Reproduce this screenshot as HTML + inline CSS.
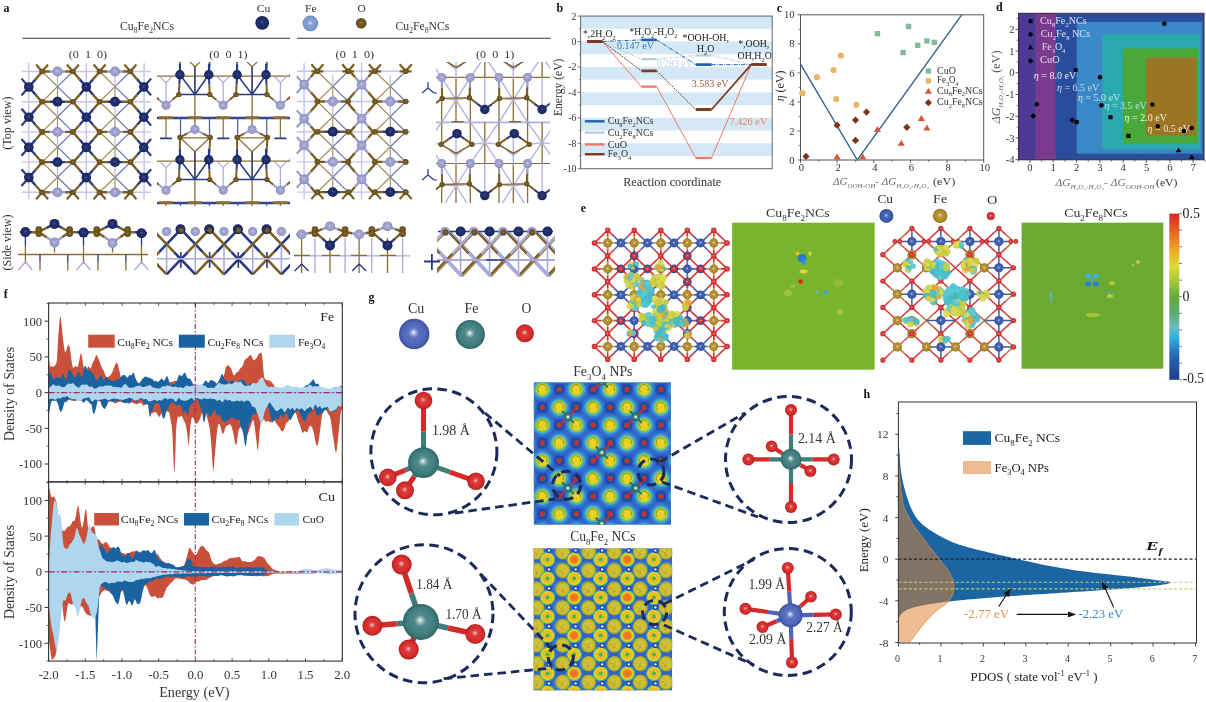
<!DOCTYPE html>
<html><head><meta charset="utf-8"><title>Figure</title>
<style>html,body{margin:0;padding:0;background:#fff;overflow:hidden}svg{display:block;filter:blur(0.4px)}</style>
</head><body>
<svg width="1206" height="702" viewBox="0 0 1206 702" font-family='"Liberation Serif", serif'><defs><marker id="ah" markerWidth="8" markerHeight="6" refX="7" refY="3" orient="auto" markerUnits="userSpaceOnUse"><path d="M0,0 L8,3 L0,6 z" fill="#111"/></marker><radialGradient id="gCu" cx="0.5" cy="0.5" r="0.5" fx="0.48" fy="0.45"><stop offset="0" stop-color="#ffffff"/><stop offset="0.12" stop-color="#afb9e0"/><stop offset="0.32" stop-color="#5f74c0"/><stop offset="0.78" stop-color="#4d64b9"/><stop offset="1" stop-color="#3a4f9c"/></radialGradient><radialGradient id="gFe" cx="0.5" cy="0.5" r="0.5" fx="0.48" fy="0.45"><stop offset="0" stop-color="#ffffff"/><stop offset="0.12" stop-color="#a9c4c4"/><stop offset="0.32" stop-color="#528a8a"/><stop offset="0.78" stop-color="#3f7d7d"/><stop offset="1" stop-color="#2e6464"/></radialGradient><radialGradient id="gO" cx="0.5" cy="0.5" r="0.5" fx="0.48" fy="0.45"><stop offset="0" stop-color="#ffd0d0"/><stop offset="0.12" stop-color="#ec8585"/><stop offset="0.32" stop-color="#d93b3b"/><stop offset="0.78" stop-color="#d52a2a"/><stop offset="1" stop-color="#b01c1c"/></radialGradient><radialGradient id="eCu" cx="0.5" cy="0.5" r="0.5" fx="0.48" fy="0.45"><stop offset="0" stop-color="#c8d4f4"/><stop offset="0.12" stop-color="#899dd2"/><stop offset="0.32" stop-color="#4966b0"/><stop offset="0.78" stop-color="#3b5aa9"/><stop offset="1" stop-color="#2c4690"/></radialGradient><radialGradient id="eFe" cx="0.5" cy="0.5" r="0.5" fx="0.48" fy="0.45"><stop offset="0" stop-color="#f8e8b0"/><stop offset="0.12" stop-color="#d8be76"/><stop offset="0.32" stop-color="#b9933b"/><stop offset="0.78" stop-color="#b28a2e"/><stop offset="1" stop-color="#8c6a1c"/></radialGradient><radialGradient id="eO" cx="0.5" cy="0.5" r="0.5" fx="0.48" fy="0.45"><stop offset="0" stop-color="#ffc8c8"/><stop offset="0.12" stop-color="#ed8484"/><stop offset="0.32" stop-color="#da3f3f"/><stop offset="0.78" stop-color="#d63030"/><stop offset="1" stop-color="#b01c1c"/></radialGradient><radialGradient id="aCu" cx="0.5" cy="0.5" r="0.5" fx="0.48" fy="0.45"><stop offset="0" stop-color="#4a5a98"/><stop offset="0.12" stop-color="#364582"/><stop offset="0.32" stop-color="#22306d"/><stop offset="0.78" stop-color="#1e2b68"/><stop offset="1" stop-color="#121a48"/></radialGradient><radialGradient id="aFe" cx="0.5" cy="0.5" r="0.5" fx="0.48" fy="0.45"><stop offset="0" stop-color="#d4d4ee"/><stop offset="0.12" stop-color="#bbbcdf"/><stop offset="0.32" stop-color="#a2a3cf"/><stop offset="0.78" stop-color="#9c9ecc"/><stop offset="1" stop-color="#7c7eb2"/></radialGradient><radialGradient id="aFeL" cx="0.5" cy="0.5" r="0.5" fx="0.48" fy="0.45"><stop offset="0" stop-color="#e8f0ff"/><stop offset="0.12" stop-color="#b7c9ea"/><stop offset="0.32" stop-color="#87a3d5"/><stop offset="0.78" stop-color="#7c9ad0"/><stop offset="1" stop-color="#6482bc"/></radialGradient><radialGradient id="aO" cx="0.5" cy="0.5" r="0.5" fx="0.48" fy="0.45"><stop offset="0" stop-color="#a08448"/><stop offset="0.12" stop-color="#8a6e36"/><stop offset="0.32" stop-color="#735924"/><stop offset="0.78" stop-color="#6e5420"/><stop offset="1" stop-color="#4c3a10"/></radialGradient><linearGradient id="cbar" x1="0" y1="0" x2="0" y2="1"><stop offset="0" stop-color="#d42a1e"/><stop offset="0.12" stop-color="#ea6a22"/><stop offset="0.22" stop-color="#f0a828"/><stop offset="0.32" stop-color="#e0dc30"/><stop offset="0.4" stop-color="#a8c838"/><stop offset="0.5" stop-color="#62ac38"/><stop offset="0.6" stop-color="#5cac70"/><stop offset="0.68" stop-color="#70bcc0"/><stop offset="0.75" stop-color="#2cb0e4"/><stop offset="0.85" stop-color="#2868b8"/><stop offset="1" stop-color="#1c3c8c"/></linearGradient><clipPath id="cm1"><rect x="533.7" y="382.2" width="137.29999999999995" height="142.59999999999997"/></clipPath><radialGradient id="blobA"><stop offset="0" stop-color="#ecd21e"/><stop offset="0.42" stop-color="#e4d228"/><stop offset="0.58" stop-color="#c8d236"/><stop offset="0.7" stop-color="#78c25a"/><stop offset="0.8" stop-color="#46b6b4"/><stop offset="0.9" stop-color="#3ea6e2" stop-opacity="0.8"/><stop offset="1" stop-color="#3ea0e0" stop-opacity="0"/></radialGradient><radialGradient id="haloA"><stop offset="0" stop-color="#48b0ec" stop-opacity="0.9"/><stop offset="0.7" stop-color="#40a4e6" stop-opacity="0.5"/><stop offset="1" stop-color="#3a90dc" stop-opacity="0"/></radialGradient><radialGradient id="darkA"><stop offset="0" stop-color="#1c3a9e" stop-opacity="1"/><stop offset="0.6" stop-color="#1e40a8" stop-opacity="0.8"/><stop offset="1" stop-color="#2448b0" stop-opacity="0"/></radialGradient><clipPath id="cm2"><rect x="533.5" y="548.3" width="138.70000000000005" height="142.30000000000007"/></clipPath><radialGradient id="ring"><stop offset="0" stop-color="#48b048"/><stop offset="0.22" stop-color="#5cb848"/><stop offset="0.32" stop-color="#e8cc22"/><stop offset="0.5" stop-color="#f2ae24"/><stop offset="0.66" stop-color="#ecce2a"/><stop offset="0.76" stop-color="#d4d632"/><stop offset="0.84" stop-color="#58b840"/><stop offset="0.92" stop-color="#40b0c8"/><stop offset="1" stop-color="#40a8e0" stop-opacity="0"/></radialGradient><radialGradient id="ringO"><stop offset="0" stop-color="#ee6c18"/><stop offset="0.45" stop-color="#f08020"/><stop offset="0.62" stop-color="#f0c028"/><stop offset="0.74" stop-color="#d8d830"/><stop offset="0.84" stop-color="#58b840"/><stop offset="0.92" stop-color="#40b0c8"/><stop offset="1" stop-color="#40a8e0" stop-opacity="0"/></radialGradient><radialGradient id="olive" cx="0.5" cy="0.5" r="0.5"><stop offset="0" stop-color="#d4cc36"/><stop offset="0.7" stop-color="#c8c032"/><stop offset="1" stop-color="#a8a028"/></radialGradient><clipPath id="clA"><rect x="157" y="62" width="133" height="144"/></clipPath><clipPath id="clB"><rect x="436" y="62" width="114" height="141"/></clipPath><clipPath id="clS2"><rect x="157" y="222" width="133" height="56"/></clipPath><clipPath id="clS4"><rect x="437" y="222" width="118" height="56"/></clipPath></defs><text x="3.5" y="12.3" font-size="12" text-anchor="start" fill="#111" font-weight="bold">a</text>
<text x="556.6" y="12.2" font-size="12" text-anchor="start" fill="#111" font-weight="bold">b</text>
<text x="776.8" y="11.8" font-size="12" text-anchor="start" fill="#111" font-weight="bold">c</text>
<text x="996.0" y="11.2" font-size="12" text-anchor="start" fill="#111" font-weight="bold">d</text>
<text x="580.8" y="212.1" font-size="12" text-anchor="start" fill="#111" font-weight="bold">e</text>
<text x="3.8" y="297.7" font-size="12" text-anchor="start" fill="#111" font-weight="bold">f</text>
<text x="368.5" y="300.5" font-size="12" text-anchor="start" fill="#111" font-weight="bold">g</text>
<text x="863.6" y="398.2" font-size="12" text-anchor="start" fill="#111" font-weight="bold">h</text>
<rect x="580.60" y="16.06" width="191.60" height="12.72" fill="#d4e8f5" stroke="none" stroke-width="1"/>
<rect x="580.60" y="41.50" width="191.60" height="12.72" fill="#d4e8f5" stroke="none" stroke-width="1"/>
<rect x="580.60" y="66.94" width="191.60" height="12.72" fill="#d4e8f5" stroke="none" stroke-width="1"/>
<rect x="580.60" y="92.38" width="191.60" height="12.72" fill="#d4e8f5" stroke="none" stroke-width="1"/>
<rect x="580.60" y="117.82" width="191.60" height="12.72" fill="#d4e8f5" stroke="none" stroke-width="1"/>
<rect x="580.60" y="143.26" width="191.60" height="12.72" fill="#d4e8f5" stroke="none" stroke-width="1"/>
<rect x="580.60" y="16.06" width="191.60" height="152.64" fill="none" stroke="#666" stroke-width="1.0"/>
<path d="M577.6 168.7L580.6 168.7" stroke="#555" stroke-width="0.8" fill="none"/>
<text x="576.5" y="172.1" font-size="9.8" text-anchor="end" fill="#333">-10</text>
<path d="M577.6 143.3L580.6 143.3" stroke="#555" stroke-width="0.8" fill="none"/>
<text x="576.5" y="146.7" font-size="9.8" text-anchor="end" fill="#333">-8</text>
<path d="M577.6 117.8L580.6 117.8" stroke="#555" stroke-width="0.8" fill="none"/>
<text x="576.5" y="121.2" font-size="9.8" text-anchor="end" fill="#333">-6</text>
<path d="M577.6 92.4L580.6 92.4" stroke="#555" stroke-width="0.8" fill="none"/>
<text x="576.5" y="95.8" font-size="9.8" text-anchor="end" fill="#333">-4</text>
<path d="M577.6 66.9L580.6 66.9" stroke="#555" stroke-width="0.8" fill="none"/>
<text x="576.5" y="70.3" font-size="9.8" text-anchor="end" fill="#333">-2</text>
<path d="M577.6 41.5L580.6 41.5" stroke="#555" stroke-width="0.8" fill="none"/>
<text x="576.5" y="44.9" font-size="9.8" text-anchor="end" fill="#333">0</text>
<path d="M577.6 16.1L580.6 16.1" stroke="#555" stroke-width="0.8" fill="none"/>
<text x="576.5" y="19.5" font-size="9.8" text-anchor="end" fill="#333">2</text>
<path d="M578.8 156L580.6 156M578.8 130.5L580.6 130.5M578.8 105.1L580.6 105.1M578.8 79.7L580.6 79.7M578.8 54.2L580.6 54.2M578.8 28.8L580.6 28.8" stroke="#555" stroke-width="0.7" fill="none"/>
<text x="561.8" y="87.3" font-size="11.5" text-anchor="middle" fill="#333" transform="rotate(-90 561.8 87.3)" textLength="57.4" lengthAdjust="spacingAndGlyphs">Energy (eV)</text>
<text x="672.2" y="185.6" font-size="12.6" text-anchor="middle" fill="#333" textLength="98.1" lengthAdjust="spacingAndGlyphs">Reaction coordinate</text>
<path d="M587 41.5L602.4 41.5M641.4 59.2L656.7 59.2M695.8 55.5L711.6 55.5M751.2 64.7L766.5 64.7" stroke="#b8cce0" stroke-width="2.2" fill="none"/>
<path d="M602.4 41.5L641.4 59.2M656.7 59.2L695.8 55.5M711.6 55.5L751.2 64.7" stroke="#b8cce0" stroke-width="1.0" fill="none" stroke-dasharray="3,1.2,1,1.2"/>
<path d="M587 41.5L602.4 41.5M641.4 86.7L656.7 86.7M695.8 157.9L711.6 157.9M751.2 64.7L766.5 64.7" stroke="#ec7a66" stroke-width="2.2" fill="none"/>
<path d="M602.4 41.5L641.4 86.7M656.7 86.7L695.8 157.9M711.6 157.9L751.2 64.7" stroke="#ec7a66" stroke-width="1.0" fill="none"/>
<path d="M587 41.5L602.4 41.5M641.4 39.9L656.7 39.9M695.8 64.7L711.6 64.7M751.2 64.7L766.5 64.7" stroke="#1f63a8" stroke-width="2.8" fill="none"/>
<path d="M602.4 41.5L641.4 39.9M656.7 39.9L695.8 64.7M711.6 64.7L751.2 64.7" stroke="#1f63a8" stroke-width="1.0" fill="none" stroke-dasharray="4,1.2,1,1.2"/>
<path d="M587 41.5L602.4 41.5M641.4 70.8L656.7 70.8M695.8 109.5L711.6 109.5M751.2 64.7L766.5 64.7" stroke="#7e3c24" stroke-width="2.8" fill="none"/>
<path d="M602.4 41.5L641.4 70.8M656.7 70.8L695.8 109.5" stroke="#7e3c24" stroke-width="1.0" fill="none" stroke-dasharray="2,1"/>
<path d="M711.6 109.5L751.2 64.7" stroke="#7e3c24" stroke-width="1.8" fill="none"/>
<text x="582.9" y="37.4" font-size="9.6" text-anchor="start" fill="#1a1a1a" textLength="32.8" lengthAdjust="spacingAndGlyphs"><tspan>*,2H</tspan><tspan dy="2.9" font-size="6.2">2</tspan><tspan dy="-2.9">O</tspan><tspan dy="2.9" font-size="6.2">2</tspan></text>
<text x="629.4" y="35.0" font-size="9.6" text-anchor="start" fill="#1a1a1a" textLength="47.8" lengthAdjust="spacingAndGlyphs"><tspan>*H</tspan><tspan dy="2.9" font-size="6.2">2</tspan><tspan dy="-2.9">O</tspan><tspan dy="2.9" font-size="6.2">2</tspan><tspan dy="-2.9">-H</tspan><tspan dy="2.9" font-size="6.2">2</tspan><tspan dy="-2.9">O</tspan><tspan dy="2.9" font-size="6.2">2</tspan></text>
<text x="682.5" y="40.5" font-size="9.6" text-anchor="start" fill="#1a1a1a" textLength="46.4" lengthAdjust="spacingAndGlyphs">*OOH-OH,</text>
<text x="696.9" y="52.1" font-size="9.6" text-anchor="start" fill="#1a1a1a" textLength="17.4" lengthAdjust="spacingAndGlyphs"><tspan>H</tspan><tspan dy="2.9" font-size="6.2">2</tspan><tspan dy="-2.9">O</tspan></text>
<text x="738.2" y="47.4" font-size="9.6" text-anchor="start" fill="#1a1a1a" textLength="31.1" lengthAdjust="spacingAndGlyphs">*,OOH,</text>
<text x="737.6" y="58.6" font-size="9.6" text-anchor="start" fill="#1a1a1a" textLength="34.2" lengthAdjust="spacingAndGlyphs"><tspan>OH,H</tspan><tspan dy="2.9" font-size="6.2">2</tspan><tspan dy="-2.9">O</tspan></text>
<text x="616.9" y="49.0" font-size="9.6" text-anchor="start" fill="#3a7ab4" textLength="37.3" lengthAdjust="spacingAndGlyphs">0.147 eV</text>
<text x="656.7" y="66.7" font-size="9.6" text-anchor="start" fill="#c4d2e4" textLength="36.1" lengthAdjust="spacingAndGlyphs">0.283 eV</text>
<text x="691.8" y="87.0" font-size="9.6" text-anchor="start" fill="#9a5a40" textLength="36.8" lengthAdjust="spacingAndGlyphs">3.583 eV</text>
<text x="729.5" y="124.5" font-size="9.6" text-anchor="start" fill="#e8806a" textLength="37.9" lengthAdjust="spacingAndGlyphs">7.426 eV</text>
<path d="M584.9 121.3L604.5 121.3" stroke="#1f63a8" stroke-width="2.4" fill="none"/>
<text x="607.8" y="124.4" font-size="9.7" text-anchor="start" fill="#333" textLength="45.6" lengthAdjust="spacingAndGlyphs"><tspan>Cu</tspan><tspan dy="2.9" font-size="6.3">8</tspan><tspan dy="-2.9">Fe</tspan><tspan dy="2.9" font-size="6.3">2</tspan><tspan dy="-2.9">NCs</tspan></text>
<path d="M584.9 132.6L604.5 132.6" stroke="#b8cce0" stroke-width="2.4" fill="none"/>
<text x="607.8" y="135.7" font-size="9.7" text-anchor="start" fill="#333" textLength="45.6" lengthAdjust="spacingAndGlyphs"><tspan>Cu</tspan><tspan dy="2.9" font-size="6.3">2</tspan><tspan dy="-2.9">Fe</tspan><tspan dy="2.9" font-size="6.3">8</tspan><tspan dy="-2.9">NCs</tspan></text>
<path d="M584.9 144.4L604.5 144.4" stroke="#ec7a66" stroke-width="2.4" fill="none"/>
<text x="607.8" y="147.5" font-size="9.7" text-anchor="start" fill="#333" textLength="19.2" lengthAdjust="spacingAndGlyphs"><tspan>CuO</tspan></text>
<path d="M584.9 154.2L604.5 154.2" stroke="#7e3c24" stroke-width="2.4" fill="none"/>
<text x="607.8" y="157.3" font-size="9.7" text-anchor="start" fill="#333" textLength="23.5" lengthAdjust="spacingAndGlyphs"><tspan>Fe</tspan><tspan dy="2.9" font-size="6.3">3</tspan><tspan dy="-2.9">O</tspan><tspan dy="2.9" font-size="6.3">4</tspan></text>
<rect x="800.50" y="14.80" width="183.20" height="145.20" fill="none" stroke="#555" stroke-width="1.0"/>
<path d="M800.5 160L800.5 163" stroke="#444" stroke-width="0.8" fill="none"/>
<text x="801.5" y="171.0" font-size="10.6" text-anchor="middle" fill="#333">0</text>
<path d="M797.5 160L800.5 160" stroke="#444" stroke-width="0.8" fill="none"/>
<text x="794.6" y="163.6" font-size="10.6" text-anchor="end" fill="#333">0</text>
<path d="M837.1 160L837.1 163" stroke="#444" stroke-width="0.8" fill="none"/>
<text x="838.1" y="171.0" font-size="10.6" text-anchor="middle" fill="#333">2</text>
<path d="M797.5 131L800.5 131" stroke="#444" stroke-width="0.8" fill="none"/>
<text x="794.6" y="134.6" font-size="10.6" text-anchor="end" fill="#333">2</text>
<path d="M873.8 160L873.8 163" stroke="#444" stroke-width="0.8" fill="none"/>
<text x="874.8" y="171.0" font-size="10.6" text-anchor="middle" fill="#333">4</text>
<path d="M797.5 101.9L800.5 101.9" stroke="#444" stroke-width="0.8" fill="none"/>
<text x="794.6" y="105.5" font-size="10.6" text-anchor="end" fill="#333">4</text>
<path d="M910.4 160L910.4 163" stroke="#444" stroke-width="0.8" fill="none"/>
<text x="911.4" y="171.0" font-size="10.6" text-anchor="middle" fill="#333">6</text>
<path d="M797.5 72.9L800.5 72.9" stroke="#444" stroke-width="0.8" fill="none"/>
<text x="794.6" y="76.5" font-size="10.6" text-anchor="end" fill="#333">6</text>
<path d="M947.1 160L947.1 163" stroke="#444" stroke-width="0.8" fill="none"/>
<text x="948.1" y="171.0" font-size="10.6" text-anchor="middle" fill="#333">8</text>
<path d="M797.5 43.8L800.5 43.8" stroke="#444" stroke-width="0.8" fill="none"/>
<text x="794.6" y="47.4" font-size="10.6" text-anchor="end" fill="#333">8</text>
<path d="M983.7 160L983.7 163" stroke="#444" stroke-width="0.8" fill="none"/>
<text x="984.7" y="171.0" font-size="10.6" text-anchor="middle" fill="#333">10</text>
<path d="M797.5 14.8L800.5 14.8" stroke="#444" stroke-width="0.8" fill="none"/>
<text x="794.6" y="18.4" font-size="10.6" text-anchor="end" fill="#333">10</text>
<path d="M818.8 160L818.8 161.8M798.7 145.5L800.5 145.5M855.5 160L855.5 161.8M798.7 116.4L800.5 116.4M892.1 160L892.1 161.8M798.7 87.4L800.5 87.4M928.7 160L928.7 161.8M798.7 58.4L800.5 58.4M965.4 160L965.4 161.8M798.7 29.3L800.5 29.3" stroke="#444" stroke-width="0.7" fill="none"/>
<path d="M800.5,64.2 L857.3,160.0 L961.7,14.8" fill="none" stroke="#33658f" stroke-width="1.4"/>
<rect x="874.74" y="30.98" width="5.40" height="5.40" fill="#86b89a" stroke="none" stroke-width="1"/>
<rect x="900.39" y="49.85" width="5.40" height="5.40" fill="#86b89a" stroke="none" stroke-width="1"/>
<rect x="905.89" y="23.72" width="5.40" height="5.40" fill="#86b89a" stroke="none" stroke-width="1"/>
<rect x="915.05" y="42.59" width="5.40" height="5.40" fill="#86b89a" stroke="none" stroke-width="1"/>
<rect x="924.21" y="38.24" width="5.40" height="5.40" fill="#86b89a" stroke="none" stroke-width="1"/>
<rect x="931.54" y="39.69" width="5.40" height="5.40" fill="#86b89a" stroke="none" stroke-width="1"/>
<circle cx="802.3" cy="93.2" r="3.1" fill="#e6b868"/>
<circle cx="817.0" cy="77.2" r="3.1" fill="#e6b868"/>
<circle cx="833.5" cy="70.0" r="3.1" fill="#e6b868"/>
<circle cx="840.8" cy="55.5" r="3.1" fill="#e6b868"/>
<circle cx="836.2" cy="99.0" r="3.1" fill="#e6b868"/>
<circle cx="856.4" cy="104.8" r="3.1" fill="#e6b868"/>
<polygon points="837.1,153.6 840.7,159.5 833.5,159.5" fill="#d9553a" stroke="none" stroke-width="1"/>
<polygon points="862.8,153.6 866.4,159.5 859.2,159.5" fill="#d9553a" stroke="none" stroke-width="1"/>
<polygon points="877.4,126.0 881.0,131.9 873.8,131.9" fill="#d9553a" stroke="none" stroke-width="1"/>
<polygon points="901.3,139.8 904.9,145.7 897.7,145.7" fill="#d9553a" stroke="none" stroke-width="1"/>
<polygon points="921.4,115.1 925.0,121.0 917.8,121.0" fill="#d9553a" stroke="none" stroke-width="1"/>
<polygon points="926.9,124.6 930.5,130.5 923.3,130.5" fill="#d9553a" stroke="none" stroke-width="1"/>
<polygon points="806.0,152.8 809.6,156.4 806.0,160.0 802.4,156.4" fill="#7a3418" stroke="none" stroke-width="1"/>
<polygon points="837.1,121.6 840.7,125.2 837.1,128.8 833.5,125.2" fill="#7a3418" stroke="none" stroke-width="1"/>
<polygon points="855.5,116.5 859.1,120.1 855.5,123.7 851.9,120.1" fill="#7a3418" stroke="none" stroke-width="1"/>
<polygon points="855.5,136.8 859.1,140.4 855.5,144.0 851.9,140.4" fill="#7a3418" stroke="none" stroke-width="1"/>
<polygon points="866.5,108.5 870.1,112.1 866.5,115.7 862.9,112.1" fill="#7a3418" stroke="none" stroke-width="1"/>
<polygon points="906.8,123.7 910.4,127.3 906.8,130.9 903.2,127.3" fill="#7a3418" stroke="none" stroke-width="1"/>
<rect x="925.75" y="68.35" width="5.30" height="5.30" fill="#86b89a" stroke="none" stroke-width="1"/>
<circle cx="928.4" cy="80.7" r="3.0" fill="#e6b868"/>
<polygon points="928.4,87.9 932.0,93.7 924.8,93.7" fill="#d9553a" stroke="none" stroke-width="1"/>
<polygon points="928.4,99.1 932.0,102.7 928.4,106.3 924.8,102.7" fill="#7a3418" stroke="none" stroke-width="1"/>
<text x="937.1" y="73.5" font-size="9.3" text-anchor="start" fill="#333" textLength="18.9" lengthAdjust="spacingAndGlyphs"><tspan>CuO</tspan></text>
<text x="937.1" y="83.1" font-size="9.3" text-anchor="start" fill="#333" textLength="21.4" lengthAdjust="spacingAndGlyphs"><tspan>Fe</tspan><tspan dy="2.8" font-size="6.0">3</tspan><tspan dy="-2.8">O</tspan><tspan dy="2.8" font-size="6.0">4</tspan></text>
<text x="937.1" y="93.5" font-size="9.3" text-anchor="start" fill="#333" textLength="45.6" lengthAdjust="spacingAndGlyphs"><tspan>Cu</tspan><tspan dy="2.8" font-size="6.0">8</tspan><tspan dy="-2.8">Fe</tspan><tspan dy="2.8" font-size="6.0">2</tspan><tspan dy="-2.8">NCs</tspan></text>
<text x="937.1" y="104.9" font-size="9.3" text-anchor="start" fill="#333" textLength="45.6" lengthAdjust="spacingAndGlyphs"><tspan>Cu</tspan><tspan dy="2.8" font-size="6.0">2</tspan><tspan dy="-2.8">Fe</tspan><tspan dy="2.8" font-size="6.0">8</tspan><tspan dy="-2.8">NCs</tspan></text>
<text x="784.5" y="85.9" font-size="11.8" text-anchor="middle" fill="#333" transform="rotate(-90 784.5 85.9)" textLength="30.8" lengthAdjust="spacingAndGlyphs"><tspan font-style="italic">η</tspan><tspan> (eV)</tspan></text>
<text x="832.9" y="185.1" font-size="11" text-anchor="start" fill="#6e6e6e" textLength="96.0" lengthAdjust="spacingAndGlyphs"><tspan font-style="italic">ΔG</tspan><tspan dy="3.0" font-size="7.0" font-style="italic">OOH-OH</tspan><tspan dy="-3.0">- </tspan><tspan font-style="italic">ΔG</tspan><tspan dy="3.0" font-size="7.0" font-style="italic">H₂O₂-H₂O₂</tspan><tspan dy="-3.0">  </tspan></text>
<text x="933.0" y="185.1" font-size="11" text-anchor="start" fill="#333" textLength="22.2" lengthAdjust="spacingAndGlyphs">(eV)</text>
<rect x="1018.50" y="13.30" width="185.50" height="146.50" fill="#2a4c9c" stroke="none" stroke-width="1"/>
<rect x="1018.50" y="13.30" width="16.90" height="146.50" fill="#4c3a94" stroke="none" stroke-width="1"/>
<rect x="1035.40" y="13.30" width="20.30" height="146.50" fill="#7a3a8e" stroke="none" stroke-width="1"/>
<rect x="1076.70" y="21.80" width="125.60" height="131.80" fill="#3a88c6" stroke="none" stroke-width="1"/>
<rect x="1102.30" y="34.30" width="97.90" height="114.50" fill="#2aaaae" stroke="none" stroke-width="1"/>
<rect x="1123.10" y="48.40" width="75.20" height="95.00" fill="#4aa83a" stroke="none" stroke-width="1"/>
<rect x="1146.00" y="57.50" width="50.20" height="77.80" fill="#9c7426" stroke="none" stroke-width="1"/>
<rect x="1018.50" y="13.30" width="185.50" height="146.50" fill="none" stroke="#3a2a4a" stroke-width="1.0"/>
<path d="M1029.9 159.8L1029.9 162.8" stroke="#333" stroke-width="0.8" fill="none"/>
<text x="1029.9" y="171.3" font-size="10.6" text-anchor="middle" fill="#333">0</text>
<path d="M1053.2 159.8L1053.2 162.8" stroke="#333" stroke-width="0.8" fill="none"/>
<text x="1053.2" y="171.3" font-size="10.6" text-anchor="middle" fill="#333">1</text>
<path d="M1076.6 159.8L1076.6 162.8" stroke="#333" stroke-width="0.8" fill="none"/>
<text x="1076.6" y="171.3" font-size="10.6" text-anchor="middle" fill="#333">2</text>
<path d="M1099.9 159.8L1099.9 162.8" stroke="#333" stroke-width="0.8" fill="none"/>
<text x="1099.9" y="171.3" font-size="10.6" text-anchor="middle" fill="#333">3</text>
<path d="M1123.2 159.8L1123.2 162.8" stroke="#333" stroke-width="0.8" fill="none"/>
<text x="1123.2" y="171.3" font-size="10.6" text-anchor="middle" fill="#333">4</text>
<path d="M1146.5 159.8L1146.5 162.8" stroke="#333" stroke-width="0.8" fill="none"/>
<text x="1146.6" y="171.3" font-size="10.6" text-anchor="middle" fill="#333">5</text>
<path d="M1169.9 159.8L1169.9 162.8" stroke="#333" stroke-width="0.8" fill="none"/>
<text x="1169.9" y="171.3" font-size="10.6" text-anchor="middle" fill="#333">6</text>
<path d="M1193.2 159.8L1193.2 162.8" stroke="#333" stroke-width="0.8" fill="none"/>
<text x="1193.2" y="171.3" font-size="10.6" text-anchor="middle" fill="#333">7</text>
<path d="M1041.6 159.8L1041.6 161.6M1064.9 159.8L1064.9 161.6M1088.2 159.8L1088.2 161.6M1111.6 159.8L1111.6 161.6M1134.9 159.8L1134.9 161.6M1158.2 159.8L1158.2 161.6M1181.5 159.8L1181.5 161.6M1204.9 159.8L1204.9 161.6M1018.2 159.8L1018.2 161.6" stroke="#333" stroke-width="0.7" fill="none"/>
<path d="M1015.5 159.6L1018.5 159.6" stroke="#333" stroke-width="0.8" fill="none"/>
<text x="1014.5" y="163.2" font-size="10.6" text-anchor="end" fill="#333">-4</text>
<path d="M1016.7 148.8L1018.5 148.8" stroke="#333" stroke-width="0.7" fill="none"/>
<path d="M1015.5 137.9L1018.5 137.9" stroke="#333" stroke-width="0.8" fill="none"/>
<text x="1014.5" y="141.5" font-size="10.6" text-anchor="end" fill="#333">-3</text>
<path d="M1016.7 127L1018.5 127" stroke="#333" stroke-width="0.7" fill="none"/>
<path d="M1015.5 116.2L1018.5 116.2" stroke="#333" stroke-width="0.8" fill="none"/>
<text x="1014.5" y="119.8" font-size="10.6" text-anchor="end" fill="#333">-2</text>
<path d="M1016.7 105.3L1018.5 105.3" stroke="#333" stroke-width="0.7" fill="none"/>
<path d="M1015.5 94.5L1018.5 94.5" stroke="#333" stroke-width="0.8" fill="none"/>
<text x="1014.5" y="98.1" font-size="10.6" text-anchor="end" fill="#333">-1</text>
<path d="M1016.7 83.7L1018.5 83.7" stroke="#333" stroke-width="0.7" fill="none"/>
<path d="M1015.5 72.8L1018.5 72.8" stroke="#333" stroke-width="0.8" fill="none"/>
<text x="1014.5" y="76.4" font-size="10.6" text-anchor="end" fill="#333">0</text>
<path d="M1016.7 62L1018.5 62" stroke="#333" stroke-width="0.7" fill="none"/>
<path d="M1015.5 51.1L1018.5 51.1" stroke="#333" stroke-width="0.8" fill="none"/>
<text x="1014.5" y="54.7" font-size="10.6" text-anchor="end" fill="#333">1</text>
<path d="M1016.7 40.2L1018.5 40.2" stroke="#333" stroke-width="0.7" fill="none"/>
<path d="M1015.5 29.4L1018.5 29.4" stroke="#333" stroke-width="0.8" fill="none"/>
<text x="1014.5" y="33.0" font-size="10.6" text-anchor="end" fill="#333">2</text>
<path d="M1016.7 18.6L1018.5 18.6" stroke="#333" stroke-width="0.7" fill="none"/>
<text x="1033.8" y="78.7" font-size="10" text-anchor="start" fill="#f4f0f8" textLength="42.5" lengthAdjust="spacingAndGlyphs"><tspan font-style="italic">η</tspan><tspan> = 8.0 eV</tspan></text>
<text x="1056.9" y="91.1" font-size="10" text-anchor="start" fill="#c8d4f0" textLength="42.5" lengthAdjust="spacingAndGlyphs"><tspan font-style="italic">η</tspan><tspan> = 6.5 eV</tspan></text>
<text x="1077.9" y="100.9" font-size="10" text-anchor="start" fill="#c4e0f0" textLength="42.5" lengthAdjust="spacingAndGlyphs"><tspan font-style="italic">η</tspan><tspan> = 5.0 eV</tspan></text>
<text x="1104.4" y="109.1" font-size="10" text-anchor="start" fill="#b4e4e4" textLength="42.5" lengthAdjust="spacingAndGlyphs"><tspan font-style="italic">η</tspan><tspan> = 3.5 eV</tspan></text>
<text x="1124.6" y="120.9" font-size="10" text-anchor="start" fill="#eef4e4" textLength="42.5" lengthAdjust="spacingAndGlyphs"><tspan font-style="italic">η</tspan><tspan> = 2.0 eV</tspan></text>
<text x="1147.5" y="132.3" font-size="10" text-anchor="start" fill="#f4ecd8" textLength="42.5" lengthAdjust="spacingAndGlyphs"><tspan font-style="italic">η</tspan><tspan> = 0.5 eV</tspan></text>
<circle cx="1164.4" cy="23.7" r="2.3" fill="#000"/>
<circle cx="1075.7" cy="70.0" r="2.3" fill="#000"/>
<circle cx="1100.1" cy="77.2" r="2.3" fill="#000"/>
<circle cx="1036.8" cy="104.3" r="2.3" fill="#000"/>
<circle cx="1076.8" cy="122.1" r="2.3" fill="#000"/>
<circle cx="1101.4" cy="105.3" r="2.3" fill="#000"/>
<circle cx="1152.3" cy="104.5" r="2.3" fill="#000"/>
<circle cx="1157.8" cy="126.2" r="2.3" fill="#000"/>
<circle cx="1183.9" cy="131.0" r="2.3" fill="#000"/>
<circle cx="1191.8" cy="128.0" r="2.3" fill="#000"/>
<rect x="1108.40" y="115.10" width="4.20" height="4.20" fill="#000" stroke="none" stroke-width="1"/>
<rect x="1126.30" y="133.80" width="4.20" height="4.20" fill="#000" stroke="none" stroke-width="1"/>
<polygon points="1033.2,113.1 1036.0,115.9 1033.2,118.7 1030.4,115.9" fill="#000" stroke="none" stroke-width="1"/>
<polygon points="1072.3,117.3 1075.1,120.1 1072.3,122.9 1069.5,120.1" fill="#000" stroke="none" stroke-width="1"/>
<polygon points="1178.6,147.4 1181.4,152.2 1175.8,152.2" fill="#000" stroke="none" stroke-width="1"/>
<polygon points="1191.8,154.2 1194.6,159.0 1189.0,159.0" fill="#000" stroke="none" stroke-width="1"/>
<rect x="1028.50" y="19.20" width="4.00" height="4.00" fill="#000" stroke="none" stroke-width="1"/>
<circle cx="1030.5" cy="34.4" r="2.2" fill="#000"/>
<polygon points="1030.5,44.4 1033.2,49.2 1027.8,49.2" fill="#000" stroke="none" stroke-width="1"/>
<polygon points="1030.5,58.1 1033.3,60.9 1030.5,63.7 1027.7,60.9" fill="#000" stroke="none" stroke-width="1"/>
<text x="1040.1" y="23.5" font-size="10.3" text-anchor="start" fill="#e4dcf2" textLength="46.6" lengthAdjust="spacingAndGlyphs"><tspan>Cu</tspan><tspan dy="3.1" font-size="6.7">8</tspan><tspan dy="-3.1">Fe</tspan><tspan dy="3.1" font-size="6.7">2</tspan><tspan dy="-3.1">NCs</tspan></text>
<text x="1040.8" y="36.8" font-size="10.3" text-anchor="start" fill="#e4dcf2" textLength="49.3" lengthAdjust="spacingAndGlyphs"><tspan>Cu</tspan><tspan dy="3.1" font-size="6.7">2</tspan><tspan dy="-3.1">Fe</tspan><tspan dy="3.1" font-size="6.7">8</tspan><tspan dy="-3.1"> NCs</tspan></text>
<text x="1041.8" y="49.6" font-size="10.3" text-anchor="start" fill="#e4dcf2" textLength="23.5" lengthAdjust="spacingAndGlyphs"><tspan>Fe</tspan><tspan dy="3.1" font-size="6.7">3</tspan><tspan dy="-3.1">O</tspan><tspan dy="3.1" font-size="6.7">4</tspan></text>
<text x="1040.1" y="63.3" font-size="10.3" text-anchor="start" fill="#e4dcf2" textLength="19.7" lengthAdjust="spacingAndGlyphs"><tspan>CuO</tspan></text>
<text x="1000.0" y="86.9" font-size="11.5" text-anchor="middle" fill="#5a5a5a" transform="rotate(-90 1000 86.9)" textLength="72.7" lengthAdjust="spacingAndGlyphs"><tspan font-style="italic">ΔG</tspan><tspan dy="3.0" font-size="6.5" font-style="italic">H₂O₂-H₂O₂</tspan><tspan dy="-3.0"> (eV)</tspan></text>
<text x="1055.5" y="185.9" font-size="11" text-anchor="start" fill="#6e6e6e" textLength="99.0" lengthAdjust="spacingAndGlyphs"><tspan font-style="italic">ΔG</tspan><tspan dy="3.0" font-size="7.0" font-style="italic">H₂O₂-H₂O₂</tspan><tspan dy="-3.0">- </tspan><tspan font-style="italic">ΔG</tspan><tspan dy="3.0" font-size="7.0" font-style="italic">OOH-OH</tspan><tspan dy="-3.0"> </tspan></text>
<text x="1156.0" y="185.9" font-size="11" text-anchor="start" fill="#333" textLength="21.4" lengthAdjust="spacingAndGlyphs">(eV)</text>
<polygon points="898.4,438.4 898.4,438.4 898.4,439.0 898.5,439.6 898.5,440.1 898.6,440.7 898.6,441.2 898.6,441.8 898.7,442.3 898.7,442.9 898.8,443.4 898.8,444.0 898.8,444.5 898.9,445.1 898.9,445.7 899.0,446.2 899.0,446.8 899.1,447.3 899.1,447.9 899.1,448.4 899.2,449.0 899.2,449.5 899.3,450.1 899.3,450.6 899.3,451.2 899.4,451.8 899.4,452.3 899.5,452.9 899.5,453.4 899.5,454.0 899.6,454.5 899.6,455.1 899.7,455.6 899.7,456.2 899.7,456.7 899.8,457.3 899.8,457.9 899.9,458.4 899.9,459.0 899.9,459.5 900.0,460.1 900.0,460.6 900.1,461.2 900.1,461.7 900.1,462.3 900.2,462.8 900.2,463.4 900.3,464.0 900.3,464.5 900.4,465.1 900.4,465.6 900.5,466.2 900.5,466.7 900.6,467.3 900.6,467.8 900.7,468.4 900.7,469.0 900.8,469.5 900.9,470.1 900.9,470.6 901.0,471.2 901.1,471.7 901.1,472.3 901.2,472.8 901.3,473.4 901.4,473.9 901.5,474.5 901.6,475.1 901.7,475.6 901.7,476.2 901.8,476.7 901.9,477.3 902.0,477.8 902.2,478.4 902.3,478.9 902.4,479.5 902.5,480.0 902.6,480.6 902.7,481.2 902.8,481.7 903.0,482.3 903.1,482.8 903.2,483.4 903.4,483.9 903.5,484.5 903.6,485.0 903.8,485.6 903.9,486.1 904.0,486.7 904.2,487.3 904.3,487.8 904.5,488.4 904.6,488.9 904.8,489.5 904.9,490.0 905.1,490.6 905.2,491.1 905.4,491.7 905.6,492.2 905.7,492.8 905.9,493.4 906.0,493.9 906.2,494.5 906.4,495.0 906.5,495.6 906.7,496.1 906.9,496.7 907.0,497.2 907.2,497.8 907.4,498.3 907.6,498.9 907.7,499.5 907.9,500.0 908.1,500.6 908.3,501.1 908.5,501.7 908.7,502.2 908.9,502.8 909.1,503.3 909.3,503.9 909.5,504.4 909.7,505.0 909.9,505.6 910.2,506.1 910.4,506.7 910.6,507.2 910.9,507.8 911.1,508.3 911.4,508.9 911.6,509.4 911.9,510.0 912.2,510.6 912.4,511.1 912.7,511.7 913.0,512.2 913.3,512.8 913.6,513.3 913.9,513.9 914.3,514.4 914.6,515.0 914.9,515.5 915.3,516.1 915.6,516.7 916.0,517.2 916.4,517.8 916.8,518.3 917.2,518.9 917.6,519.4 918.1,520.0 918.5,520.5 919.0,521.1 919.6,521.6 920.1,522.2 920.7,522.8 921.3,523.3 921.9,523.9 922.5,524.4 923.1,525.0 923.8,525.5 924.5,526.1 925.2,526.6 925.9,527.2 926.6,527.7 927.4,528.3 928.2,528.9 929.0,529.4 929.8,530.0 930.6,530.5 931.5,531.1 932.4,531.6 933.2,532.2 934.2,532.7 935.1,533.3 936.0,533.8 937.0,534.4 938.0,535.0 939.0,535.5 940.0,536.1 941.0,536.6 942.1,537.2 943.1,537.7 944.2,538.3 945.3,538.8 946.4,539.4 947.6,539.9 948.7,540.5 949.9,541.1 951.1,541.6 952.4,542.2 953.8,542.7 955.3,543.3 956.8,543.8 958.5,544.4 960.2,544.9 961.9,545.5 963.8,546.0 965.7,546.6 967.7,547.2 969.7,547.7 971.8,548.3 973.9,548.8 976.1,549.4 978.3,549.9 980.5,550.5 982.8,551.0 985.1,551.6 987.5,552.2 989.8,552.7 992.2,553.3 994.6,553.8 997.0,554.4 999.4,554.9 1001.9,555.5 1004.3,556.0 1006.7,556.6 1009.1,557.1 1011.5,557.7 1013.9,558.3 1016.3,558.8 1018.7,559.4 1021.1,559.9 1023.6,560.5 1026.0,561.0 1028.5,561.6 1031.0,562.1 1033.6,562.7 1036.2,563.2 1038.8,563.8 1041.5,564.4 1044.3,564.9 1047.1,565.5 1050.0,566.0 1052.9,566.6 1056.0,567.1 1059.1,567.7 1062.3,568.2 1065.5,568.8 1068.9,569.3 1072.4,569.9 1076.0,570.5 1080.0,571.0 1084.2,571.6 1088.8,572.1 1093.6,572.7 1098.5,573.2 1103.6,573.8 1108.7,574.3 1113.9,574.9 1119.0,575.4 1124.1,576.0 1128.9,576.6 1133.6,577.1 1138.1,577.7 1142.4,578.2 1146.7,578.8 1150.9,579.3 1155.0,579.9 1159.1,580.4 1163.1,581.0 1167.0,581.5 1170.9,582.1 1170.9,582.1 1170.8,582.5 1170.3,582.8 1169.5,583.2 1168.4,583.5 1167.1,583.9 1165.4,584.2 1163.4,584.6 1161.1,585.0 1158.6,585.3 1155.8,585.7 1152.7,586.0 1149.4,586.4 1145.8,586.7 1142.0,587.1 1138.0,587.5 1133.8,587.8 1129.4,588.2 1124.8,588.5 1120.1,588.9 1115.2,589.3 1110.2,589.6 1105.0,590.0 1099.8,590.3 1094.4,590.7 1089.0,591.0 1083.5,591.4 1078.0,591.8 1072.4,592.1 1066.9,592.5 1061.3,592.8 1055.7,593.2 1050.1,593.5 1044.6,593.9 1039.1,594.3 1033.6,594.6 1028.2,595.0 1022.9,595.3 1017.7,595.7 1012.6,596.0 1007.5,596.4 1002.6,596.8 997.8,597.1 993.0,597.5 988.4,597.8 984.0,598.2 979.6,598.5 975.4,598.9 971.3,599.3 967.4,599.6 963.6,600.0 960.0,600.3 956.4,600.7 953.0,601.1 949.8,601.4 946.7,601.8 943.7,602.1 940.9,602.5 938.2,602.8 935.6,603.2 933.2,603.6 930.8,603.9 928.6,604.3 926.5,604.6 924.6,605.0 922.7,605.3 921.0,605.7 919.3,606.1 917.7,606.4 916.3,606.8 914.9,607.1 913.6,607.5 912.4,607.8 911.3,608.2 910.3,608.6 909.3,608.9 908.4,609.3 907.6,609.6 906.8,610.0 906.1,610.3 905.4,610.7 904.8,611.1 904.2,611.4 903.7,611.8 903.2,612.1 902.8,612.5 902.4,612.8 902.0,613.2 901.6,613.6 901.3,613.9 901.0,614.3 900.8,614.6 900.6,615.0 900.3,615.4 900.1,615.7 900.0,616.1 899.8,616.4 899.7,616.8 899.5,617.1 899.4,617.5 898.4,617.5" fill="#1a65a2" stroke="none" stroke-width="1"/>
<polygon points="898.4,449.9 898.4,449.9 898.4,450.7 898.4,451.5 898.4,452.3 898.5,453.1 898.5,453.9 898.5,454.7 898.5,455.5 898.6,456.3 898.6,457.1 898.6,458.0 898.7,458.8 898.7,459.6 898.7,460.4 898.8,461.2 898.8,462.0 898.8,462.8 898.9,463.6 898.9,464.4 899.0,465.2 899.0,466.0 899.1,466.8 899.1,467.6 899.2,468.4 899.2,469.2 899.3,470.0 899.3,470.8 899.4,471.7 899.4,472.5 899.5,473.3 899.5,474.1 899.6,474.9 899.6,475.7 899.7,476.5 899.7,477.3 899.8,478.1 899.9,478.9 899.9,479.7 900.0,480.5 900.1,481.3 900.2,482.1 900.2,482.9 900.3,483.7 900.4,484.5 900.5,485.3 900.6,486.2 900.6,487.0 900.7,487.8 900.8,488.6 900.9,489.4 901.0,490.2 901.1,491.0 901.2,491.8 901.3,492.6 901.4,493.4 901.6,494.2 901.7,495.0 901.8,495.8 901.9,496.6 902.0,497.4 902.2,498.2 902.3,499.0 902.5,499.9 902.6,500.7 902.7,501.5 902.9,502.3 903.0,503.1 903.2,503.9 903.4,504.7 903.6,505.5 903.9,506.3 904.1,507.1 904.4,507.9 904.8,508.7 905.1,509.5 905.4,510.3 905.8,511.1 906.2,511.9 906.6,512.7 907.0,513.6 907.4,514.4 907.8,515.2 908.2,516.0 908.7,516.8 909.1,517.6 909.6,518.4 910.0,519.2 910.5,520.0 910.9,520.8 911.4,521.6 911.8,522.4 912.3,523.2 912.8,524.0 913.3,524.8 913.9,525.6 914.4,526.4 915.0,527.3 915.5,528.1 916.1,528.9 916.7,529.7 917.3,530.5 917.9,531.3 918.5,532.1 919.1,532.9 919.8,533.7 920.4,534.5 921.0,535.3 921.6,536.1 922.2,536.9 922.8,537.7 923.4,538.5 924.0,539.3 924.6,540.1 925.2,540.9 925.9,541.8 926.5,542.6 927.1,543.4 927.7,544.2 928.3,545.0 929.0,545.8 929.6,546.6 930.2,547.4 930.9,548.2 931.5,549.0 932.1,549.8 932.8,550.6 933.4,551.4 934.0,552.2 934.7,553.0 935.3,553.8 935.9,554.6 936.5,555.5 937.1,556.3 937.8,557.1 938.4,557.9 939.0,558.7 939.7,559.5 940.3,560.3 941.0,561.1 941.6,561.9 942.3,562.7 943.0,563.5 943.6,564.3 944.3,565.1 944.9,565.9 945.6,566.7 946.2,567.5 946.7,568.3 947.3,569.2 947.8,570.0 948.3,570.8 948.8,571.6 949.2,572.4 949.6,573.2 950.0,574.0 950.4,574.8 950.8,575.6 951.2,576.4 951.6,577.2 952.0,578.0 952.4,578.8 952.7,579.6 953.0,580.4 953.3,581.2 953.5,582.0 953.7,582.9 953.9,583.7 954.0,584.5 954.0,585.3 954.0,586.1 954.0,586.9 954.0,587.7 954.0,588.5 953.9,589.3 953.8,590.1 953.7,590.9 953.5,591.7 953.3,592.5 953.1,593.3 952.8,594.1 952.5,594.9 952.2,595.7 951.8,596.5 951.3,597.4 950.8,598.2 950.3,599.0 949.8,599.8 949.2,600.6 948.5,601.4 947.9,602.2 947.1,603.0 946.2,603.8 945.1,604.6 943.9,605.4 942.7,606.2 941.5,607.0 940.3,607.8 939.2,608.6 938.2,609.4 937.2,610.2 936.3,611.1 935.4,611.9 934.6,612.7 933.7,613.5 932.9,614.3 932.0,615.1 931.2,615.9 930.4,616.7 929.6,617.5 928.8,618.3 928.1,619.1 927.3,619.9 926.6,620.7 925.8,621.5 925.1,622.3 924.4,623.1 923.7,623.9 923.0,624.8 922.3,625.6 921.7,626.4 921.0,627.2 920.4,628.0 919.8,628.8 919.2,629.6 918.6,630.4 918.0,631.2 917.4,632.0 916.8,632.8 916.2,633.6 915.6,634.4 915.0,635.2 914.5,636.0 913.9,636.8 913.3,637.6 912.6,638.5 912.0,639.3 911.4,640.1 910.8,640.9 910.1,641.7 909.5,642.5 898.4,642.5" fill="#e0812e" stroke="none" stroke-width="1" fill-opacity="0.52"/>
<polyline points="909.5,642.5 910.1,641.7 910.8,640.9 911.4,640.1 912.0,639.3 912.6,638.5 913.3,637.6 913.9,636.8 914.5,636.0 915.0,635.2 915.6,634.4 916.2,633.6 916.8,632.8 917.4,632.0 918.0,631.2 918.6,630.4 919.2,629.6 919.8,628.8 920.4,628.0 921.0,627.2 921.7,626.4 922.3,625.6 923.0,624.8 923.7,623.9 924.4,623.1 925.1,622.3 925.8,621.5 926.6,620.7 927.3,619.9 928.1,619.1 928.8,618.3 929.6,617.5 930.4,616.7 931.2,615.9 932.0,615.1 932.9,614.3 933.7,613.5 934.6,612.7 935.4,611.9 936.3,611.1 937.2,610.2 938.2,609.4 939.2,608.6 940.3,607.8 941.5,607.0 942.7,606.2 943.9,605.4 945.1,604.6 946.2,603.8 947.1,603.0 947.9,602.2 948.5,601.4 949.2,600.6 949.8,599.8 950.3,599.0 950.8,598.2 951.3,597.4 951.8,596.5 952.2,595.7 952.5,594.9 952.8,594.1 953.1,593.3 953.3,592.5 953.5,591.7 953.7,590.9 953.8,590.1 953.9,589.3 954.0,588.5 954.0,587.7 954.0,586.9 954.0,586.1 954.0,585.3 954.0,584.5 953.9,583.7 953.7,582.9 953.5,582.0 953.3,581.2 953.0,580.4 952.7,579.6 952.4,578.8 952.0,578.0 951.6,577.2 951.2,576.4 950.8,575.6 950.4,574.8 950.0,574.0 949.6,573.2 949.2,572.4 948.8,571.6 948.3,570.8 947.8,570.0 947.3,569.2 946.7,568.3 946.2,567.5 945.6,566.7 944.9,565.9 944.3,565.1 943.6,564.3 943.0,563.5 942.3,562.7 941.6,561.9 941.0,561.1 940.3,560.3 939.7,559.5 939.0,558.7 938.4,557.9 937.8,557.1 937.1,556.3 936.5,555.5 935.9,554.6 935.3,553.8 934.7,553.0 934.0,552.2 933.4,551.4 932.8,550.6 932.1,549.8 931.5,549.0 930.9,548.2 930.2,547.4 929.6,546.6 929.0,545.8 928.3,545.0 927.7,544.2 927.1,543.4 926.5,542.6 925.9,541.8 925.2,540.9 924.6,540.1 924.0,539.3 923.4,538.5 922.8,537.7 922.2,536.9 921.6,536.1 921.0,535.3 920.4,534.5 919.8,533.7 919.1,532.9 918.5,532.1 917.9,531.3 917.3,530.5 916.7,529.7 916.1,528.9 915.5,528.1 915.0,527.3 914.4,526.4 913.9,525.6 913.3,524.8 912.8,524.0 912.3,523.2 911.8,522.4 911.4,521.6 910.9,520.8 910.5,520.0 910.0,519.2 909.6,518.4 909.1,517.6 908.7,516.8 908.2,516.0 907.8,515.2 907.4,514.4 907.0,513.6 906.6,512.7 906.2,511.9 905.8,511.1 905.4,510.3 905.1,509.5 904.8,508.7 904.4,507.9 904.1,507.1 903.9,506.3 903.6,505.5 903.4,504.7 903.2,503.9 903.0,503.1 902.9,502.3 902.7,501.5 902.6,500.7 902.5,499.9 902.3,499.0 902.2,498.2 902.0,497.4 901.9,496.6 901.8,495.8 901.7,495.0 901.6,494.2 901.4,493.4 901.3,492.6 901.2,491.8 901.1,491.0 901.0,490.2 900.9,489.4 900.8,488.6 900.7,487.8 900.6,487.0 900.6,486.2 900.5,485.3 900.4,484.5 900.3,483.7 900.2,482.9 900.2,482.1 900.1,481.3 900.0,480.5 899.9,479.7 899.9,478.9 899.8,478.1 899.7,477.3 899.7,476.5 899.6,475.7 899.6,474.9 899.5,474.1 899.5,473.3 899.4,472.5 899.4,471.7 899.3,470.8 899.3,470.0 899.2,469.2 899.2,468.4 899.1,467.6 899.1,466.8 899.0,466.0 899.0,465.2 898.9,464.4 898.9,463.6 898.8,462.8 898.8,462.0 898.8,461.2 898.7,460.4 898.7,459.6 898.7,458.8 898.6,458.0 898.6,457.1 898.6,456.3 898.5,455.5 898.5,454.7 898.5,453.9 898.5,453.1 898.4,452.3 898.4,451.5 898.4,450.7 898.4,449.9" fill="none" stroke="#e08a4a" stroke-width="0.8"/>
<path d="M898.4 559.2L1196.5 559.2" stroke="#222" stroke-width="1.2" fill="none" stroke-dasharray="3,2.2"/>
<path d="M898.4 582.3L1196.5 582.3M898.4 588.9L1196.5 588.9" stroke="#bcd478" stroke-width="1.1" fill="none" stroke-dasharray="3,2.2"/>
<rect x="898.40" y="402.00" width="298.10" height="241.00" fill="none" stroke="#333" stroke-width="1.0"/>
<path d="M898.4 643L898.4 646.5" stroke="#333" stroke-width="0.9" fill="none"/>
<text x="897.6" y="662.0" font-size="10" text-anchor="middle" fill="#333">0</text>
<path d="M919.6 643L919.6 645" stroke="#333" stroke-width="0.8" fill="none"/>
<path d="M940.9 643L940.9 646.5" stroke="#333" stroke-width="0.9" fill="none"/>
<text x="940.1" y="662.0" font-size="10" text-anchor="middle" fill="#333">1</text>
<path d="M962.1 643L962.1 645" stroke="#333" stroke-width="0.8" fill="none"/>
<path d="M983.3 643L983.3 646.5" stroke="#333" stroke-width="0.9" fill="none"/>
<text x="982.5" y="662.0" font-size="10" text-anchor="middle" fill="#333">2</text>
<path d="M1004.5 643L1004.5 645" stroke="#333" stroke-width="0.8" fill="none"/>
<path d="M1025.8 643L1025.8 646.5" stroke="#333" stroke-width="0.9" fill="none"/>
<text x="1025.0" y="662.0" font-size="10" text-anchor="middle" fill="#333">3</text>
<path d="M1047 643L1047 645" stroke="#333" stroke-width="0.8" fill="none"/>
<path d="M1068.2 643L1068.2 646.5" stroke="#333" stroke-width="0.9" fill="none"/>
<text x="1067.4" y="662.0" font-size="10" text-anchor="middle" fill="#333">4</text>
<path d="M1089.4 643L1089.4 645" stroke="#333" stroke-width="0.8" fill="none"/>
<path d="M1110.7 643L1110.7 646.5" stroke="#333" stroke-width="0.9" fill="none"/>
<text x="1109.9" y="662.0" font-size="10" text-anchor="middle" fill="#333">5</text>
<path d="M1131.9 643L1131.9 645" stroke="#333" stroke-width="0.8" fill="none"/>
<path d="M1153.1 643L1153.1 646.5" stroke="#333" stroke-width="0.9" fill="none"/>
<text x="1152.3" y="662.0" font-size="10" text-anchor="middle" fill="#333">6</text>
<path d="M1174.3 643L1174.3 645" stroke="#333" stroke-width="0.8" fill="none"/>
<path d="M1195.5 643L1195.5 646.5" stroke="#333" stroke-width="0.9" fill="none"/>
<text x="1194.8" y="662.0" font-size="10" text-anchor="middle" fill="#333">7</text>
<path d="M895.2 642.5L898.4 642.5" stroke="#333" stroke-width="0.9" fill="none"/>
<text x="888.5" y="646.5" font-size="11.4" text-anchor="end" fill="#333">-8</text>
<path d="M896.4 621.7L898.4 621.7M895.2 600.8L898.4 600.8" stroke="#333" stroke-width="0.9" fill="none"/>
<text x="888.5" y="604.8" font-size="11.4" text-anchor="end" fill="#333">-4</text>
<path d="M896.4 580L898.4 580M895.2 559.2L898.4 559.2" stroke="#333" stroke-width="0.9" fill="none"/>
<text x="888.5" y="563.2" font-size="11.4" text-anchor="end" fill="#333">0</text>
<path d="M896.4 538.4L898.4 538.4M895.2 517.6L898.4 517.6" stroke="#333" stroke-width="0.9" fill="none"/>
<text x="888.5" y="521.6" font-size="11.4" text-anchor="end" fill="#333">4</text>
<path d="M896.4 496.7L898.4 496.7M895.2 475.9L898.4 475.9" stroke="#333" stroke-width="0.9" fill="none"/>
<text x="888.5" y="479.9" font-size="11.4" text-anchor="end" fill="#333">8</text>
<path d="M896.4 455.1L898.4 455.1M895.2 434.3L898.4 434.3" stroke="#333" stroke-width="0.9" fill="none"/>
<text x="888.5" y="438.3" font-size="11.4" text-anchor="end" fill="#333">12</text>
<path d="M896.4 413.5L898.4 413.5" stroke="#333" stroke-width="0.9" fill="none"/>
<rect x="963.00" y="431.20" width="28.00" height="13.70" fill="#1a65a2" stroke="none" stroke-width="1"/>
<rect x="963.00" y="461.00" width="28.00" height="13.00" fill="#ecbb90" stroke="none" stroke-width="1"/>
<text x="994.6" y="442.4" font-size="12" text-anchor="start" fill="#222" textLength="65.4" lengthAdjust="spacingAndGlyphs"><tspan>Cu</tspan><tspan dy="3.6" font-size="7.8">8</tspan><tspan dy="-3.6">Fe</tspan><tspan dy="3.6" font-size="7.8">2</tspan><tspan dy="-3.6">  NCs</tspan></text>
<text x="994.6" y="471.6" font-size="12" text-anchor="start" fill="#222" textLength="54.4" lengthAdjust="spacingAndGlyphs"><tspan>Fe</tspan><tspan dy="3.6" font-size="7.8">3</tspan><tspan dy="-3.6">O</tspan><tspan dy="3.6" font-size="7.8">4</tspan><tspan dy="-3.6">  NPs</tspan></text>
<text x="1145.9" y="549.9" font-size="13" text-anchor="start" fill="#111" font-weight="bold" font-style="italic" textLength="16.6" lengthAdjust="spacingAndGlyphs"><tspan>E</tspan><tspan dy="3.9" font-size="8.5">f</tspan></text>
<text x="964.1" y="617.9" font-size="12" text-anchor="start" fill="#e0904a" textLength="45.0" lengthAdjust="spacingAndGlyphs">-2.77 eV</text>
<text x="1078.5" y="617.9" font-size="12" text-anchor="start" fill="#3a86c8" textLength="44.6" lengthAdjust="spacingAndGlyphs">-2.23 eV</text>
<line x1="1016.70" y1="614.40" x2="1075.00" y2="614.40" stroke="#111" stroke-width="1.1" marker-end="url(#ah)"/>
<line x1="998.70" y1="606.50" x2="1010.10" y2="589.30" stroke="#111" stroke-width="1.1" marker-end="url(#ah)"/>
<line x1="1113.80" y1="607.60" x2="1102.40" y2="582.30" stroke="#111" stroke-width="1.1" marker-end="url(#ah)"/>
<text x="970.5" y="681.0" font-size="13" text-anchor="start" fill="#222" textLength="127.0" lengthAdjust="spacingAndGlyphs"><tspan>PDOS  ( state vol</tspan><tspan dy="-4.9" font-size="8.5">-1</tspan><tspan dy="4.9"> eV</tspan><tspan dy="-4.9" font-size="8.5">-1</tspan><tspan dy="4.9"> )</tspan></text>
<text x="868.5" y="540.3" font-size="12.9" text-anchor="middle" fill="#222" transform="rotate(-90 868.5 540.3)" textLength="64.0" lengthAdjust="spacingAndGlyphs">Energy (eV)</text>
<polygon points="48.6,392.6 48.6,352.3 49.3,361.2 50.0,366.6 50.7,366.5 51.4,366.2 52.1,366.4 52.8,366.7 53.5,366.7 54.2,366.2 54.9,365.5 55.6,364.6 56.3,363.7 57.0,359.7 57.7,346.5 58.4,335.1 59.1,326.1 59.8,318.2 60.5,315.7 61.2,320.2 61.9,328.1 62.6,335.0 63.3,341.3 64.0,347.1 64.7,351.0 65.4,352.5 66.1,351.4 66.8,349.1 67.5,346.5 68.2,344.8 68.9,345.1 69.6,347.0 70.3,351.1 71.0,356.1 71.7,361.4 72.4,365.9 73.1,368.0 73.8,367.5 74.5,366.7 75.2,366.1 75.9,366.2 76.6,366.9 77.3,367.2 78.0,366.1 78.7,363.5 79.4,359.6 80.1,355.7 80.8,353.4 81.5,354.1 82.2,357.9 82.9,362.7 83.6,367.1 84.3,370.1 85.0,370.8 85.7,370.6 86.4,370.1 87.1,368.8 87.8,367.2 88.5,366.4 89.2,366.8 89.9,368.0 90.6,368.4 91.3,367.1 92.0,364.6 92.7,362.5 93.4,361.4 94.1,360.4 94.8,358.8 95.5,356.6 96.2,355.1 96.9,355.3 97.6,356.7 98.3,358.4 99.0,360.1 99.7,361.8 100.4,363.9 101.1,365.9 101.8,367.4 102.5,368.6 103.2,369.7 103.9,371.1 104.6,373.1 105.3,375.1 106.0,376.6 106.7,377.1 107.4,377.1 108.1,376.8 108.8,376.5 109.5,376.2 110.2,375.6 110.9,374.7 111.6,373.6 112.3,372.3 113.0,370.6 113.7,368.6 114.4,366.7 115.1,364.8 115.8,363.3 116.5,362.6 117.2,363.3 117.9,365.1 118.6,367.4 119.3,370.3 120.0,373.6 120.7,376.8 121.4,379.4 122.1,380.6 122.8,380.9 123.5,380.9 124.2,380.8 124.9,380.8 125.6,380.8 126.3,380.8 127.0,380.9 127.7,381.0 128.4,381.0 129.1,381.1 129.8,381.3 130.5,381.6 131.2,382.0 131.9,382.5 132.6,382.8 133.3,382.9 134.0,382.9 134.7,382.7 135.4,382.6 136.1,382.6 136.8,382.7 137.5,382.8 138.2,382.8 138.9,382.8 139.6,382.6 140.3,382.5 141.0,382.3 141.7,382.3 142.4,382.3 143.1,382.5 143.8,382.6 144.5,382.6 145.2,382.8 145.9,383.3 146.6,383.5 147.3,383.4 148.0,383.0 148.7,382.7 149.4,382.7 150.1,383.1 150.8,383.7 151.5,384.1 152.2,384.4 152.9,384.6 153.6,384.8 154.3,384.7 155.0,384.6 155.7,384.4 156.4,384.2 157.1,384.0 157.8,383.9 158.5,384.0 159.2,384.3 159.9,384.5 160.6,384.4 161.3,384.0 162.0,383.8 162.7,383.7 163.4,383.7 164.1,383.7 164.8,383.5 165.5,383.4 166.2,383.4 166.9,383.5 167.6,383.3 168.3,382.8 169.0,382.3 169.7,382.0 170.4,382.0 171.1,382.0 171.8,381.9 172.5,381.8 173.2,381.6 173.9,381.3 174.6,381.0 175.3,380.7 176.0,380.7 176.7,381.2 177.4,381.8 178.1,382.3 178.8,382.4 179.5,382.3 180.2,382.2 180.9,382.4 181.6,382.7 182.3,382.9 183.0,383.3 183.7,383.9 184.4,384.6 185.1,385.3 185.8,385.6 186.5,385.4 187.2,384.9 187.9,384.7 188.6,384.6 189.3,384.8 190.0,385.1 190.7,385.1 191.4,385.1 192.1,385.0 192.8,384.9 193.5,384.7 194.2,384.7 194.9,384.6 195.6,384.6 196.3,384.7 197.0,385.0 197.7,385.3 198.4,385.5 199.1,385.7 199.8,385.9 200.5,386.2 201.2,386.4 201.9,386.4 202.6,386.3 203.3,386.1 204.0,386.0 204.7,386.2 205.4,386.6 206.1,387.1 206.8,387.5 207.5,387.6 208.2,387.4 208.9,387.3 209.6,387.2 210.3,387.3 211.0,387.5 211.7,387.5 212.4,387.4 213.1,387.2 213.8,387.0 214.5,386.9 215.2,387.1 215.9,387.3 216.6,387.4 217.3,387.1 218.0,386.3 218.7,385.3 219.4,383.9 220.1,382.4 220.8,381.0 221.5,379.7 222.2,378.7 222.9,377.9 223.6,376.9 224.3,374.3 225.0,370.9 225.7,367.9 226.4,366.4 227.1,365.5 227.8,365.2 228.5,365.6 229.2,366.3 229.9,367.0 230.6,367.7 231.3,368.8 232.0,370.7 232.7,373.0 233.4,374.9 234.1,375.5 234.8,375.1 235.5,374.0 236.2,372.9 236.9,372.3 237.6,372.0 238.3,371.5 239.0,370.5 239.7,369.2 240.4,368.2 241.1,367.6 241.8,367.1 242.5,365.9 243.2,364.3 243.9,362.3 244.6,360.3 245.3,359.2 246.0,358.8 246.7,358.6 247.4,358.0 248.1,357.3 248.8,356.5 249.5,355.7 250.2,354.9 250.9,354.9 251.6,355.9 252.3,357.8 253.0,359.8 253.7,360.5 254.4,360.1 255.1,359.5 255.8,359.1 256.5,358.1 257.2,356.7 257.9,355.2 258.6,354.2 259.3,353.6 260.0,352.9 260.7,352.6 261.4,353.1 262.1,355.4 262.8,362.9 263.5,371.6 264.2,377.3 264.9,378.8 265.6,379.6 266.3,380.0 267.0,380.1 267.7,380.2 268.4,380.3 269.1,380.4 269.8,380.7 270.5,381.2 271.2,381.7 271.9,382.4 272.6,383.3 273.3,384.4 274.0,385.4 274.7,386.3 275.4,387.3 276.1,388.2 276.8,389.1 277.5,389.7 278.2,389.9 278.9,389.9 279.6,389.9 280.3,389.9 281.0,390.0 281.7,390.2 282.4,390.4 283.1,390.6 283.8,390.8 284.5,391.0 285.2,391.1 285.9,391.2 286.6,391.4 287.3,391.5 288.0,391.7 288.7,391.9 289.4,392.0 290.1,392.1 290.8,392.2 291.5,392.3 292.2,392.3 292.9,392.3 293.6,392.3 294.3,392.3 295.0,392.3 295.7,392.3 296.4,392.3 297.1,392.3 297.8,392.3 298.5,392.3 299.2,392.3 299.9,392.3 300.6,392.3 301.3,392.3 302.0,392.3 302.7,392.3 303.4,392.3 304.1,392.3 304.8,392.3 305.5,392.3 306.2,392.3 306.9,392.3 307.6,392.3 308.3,392.3 309.0,392.3 309.7,392.3 310.4,392.3 311.1,392.3 311.8,392.3 312.5,392.3 313.2,392.3 313.9,392.3 314.6,392.3 315.3,392.3 316.0,392.3 316.7,392.3 317.4,392.3 318.1,392.3 318.8,392.3 319.5,392.3 320.2,392.3 320.9,392.3 321.6,392.3 322.3,392.3 323.0,392.3 323.7,392.3 324.4,392.3 325.1,392.3 325.8,392.3 326.5,392.3 327.2,392.3 327.9,392.3 328.6,392.3 329.3,392.3 330.0,392.3 330.7,392.3 331.4,392.3 332.1,392.3 332.8,392.3 333.5,392.3 334.2,392.3 334.9,392.3 335.6,392.3 336.3,392.3 337.0,392.3 337.7,392.3 338.4,392.3 339.1,392.3 339.8,392.3 340.5,392.3 341.2,392.3 341.9,392.3 341.9,392.6" fill="#c9503a" stroke="none" stroke-width="1"/>
<polygon points="48.6,392.6 48.6,400.2 49.3,400.4 50.0,400.3 50.7,400.1 51.4,399.9 52.1,399.9 52.8,400.1 53.5,400.1 54.2,399.9 54.9,399.8 55.6,399.7 56.3,399.7 57.0,399.7 57.7,399.7 58.4,399.6 59.1,399.4 59.8,399.3 60.5,399.2 61.2,399.4 61.9,399.7 62.6,399.9 63.3,400.0 64.0,400.0 64.7,400.1 65.4,400.3 66.1,400.5 66.8,400.4 67.5,400.3 68.2,400.2 68.9,400.1 69.6,400.1 70.3,400.2 71.0,400.4 71.7,400.6 72.4,400.7 73.1,400.7 73.8,400.5 74.5,400.3 75.2,400.2 75.9,400.3 76.6,400.3 77.3,400.3 78.0,400.3 78.7,400.4 79.4,400.6 80.1,400.7 80.8,400.6 81.5,400.3 82.2,400.0 82.9,399.9 83.6,399.9 84.3,400.0 85.0,400.1 85.7,400.0 86.4,399.9 87.1,399.8 87.8,399.9 88.5,400.1 89.2,400.4 89.9,400.6 90.6,400.8 91.3,400.7 92.0,400.6 92.7,400.5 93.4,400.4 94.1,400.3 94.8,400.2 95.5,400.2 96.2,400.1 96.9,400.3 97.6,400.5 98.3,400.9 99.0,401.2 99.7,401.2 100.4,401.1 101.1,401.2 101.8,401.3 102.5,401.4 103.2,401.5 103.9,401.5 104.6,401.5 105.3,401.6 106.0,401.6 106.7,401.5 107.4,401.4 108.1,401.4 108.8,401.5 109.5,401.4 110.2,401.4 110.9,401.3 111.6,401.4 112.3,401.5 113.0,401.8 113.7,402.2 114.4,402.9 115.1,403.5 115.8,403.5 116.5,403.1 117.2,402.5 117.9,402.0 118.6,401.8 119.3,401.8 120.0,401.8 120.7,401.8 121.4,401.8 122.1,401.9 122.8,402.2 123.5,402.4 124.2,402.4 124.9,402.4 125.6,402.3 126.3,402.3 127.0,402.7 127.7,403.1 128.4,403.4 129.1,403.4 129.8,403.2 130.5,402.8 131.2,402.6 131.9,402.5 132.6,402.6 133.3,402.9 134.0,403.3 134.7,403.7 135.4,403.8 136.1,403.9 136.8,404.0 137.5,404.0 138.2,403.8 138.9,403.5 139.6,403.0 140.3,402.6 141.0,402.9 141.7,403.8 142.4,404.8 143.1,405.4 143.8,405.4 144.5,405.0 145.2,404.7 145.9,404.5 146.6,404.3 147.3,403.8 148.0,403.6 148.7,404.4 149.4,406.3 150.1,408.8 150.8,411.3 151.5,412.9 152.2,413.4 152.9,413.1 153.6,412.5 154.3,412.1 155.0,412.0 155.7,412.2 156.4,412.7 157.1,413.7 157.8,415.1 158.5,416.4 159.2,416.9 159.9,416.3 160.6,414.9 161.3,413.4 162.0,412.5 162.7,412.0 163.4,411.7 164.1,411.2 164.8,410.7 165.5,410.8 166.2,411.2 166.9,411.5 167.6,411.5 168.3,411.5 169.0,412.6 169.7,415.1 170.4,418.6 171.1,422.5 171.8,426.8 172.5,435.5 173.2,452.1 173.9,468.4 174.6,473.0 175.3,454.5 176.0,431.7 176.7,422.8 177.4,418.1 178.1,416.3 178.8,416.9 179.5,417.1 180.2,416.6 180.9,415.9 181.6,415.9 182.3,416.8 183.0,418.5 183.7,420.2 184.4,421.4 185.1,422.5 185.8,425.2 186.5,429.0 187.2,433.2 187.9,440.6 188.6,446.4 189.3,440.1 190.0,429.3 190.7,423.3 191.4,419.3 192.1,417.2 192.8,417.6 193.5,418.4 194.2,419.3 194.9,420.8 195.6,422.3 196.3,423.4 197.0,423.6 197.7,422.9 198.4,421.6 199.1,420.3 199.8,419.1 200.5,417.4 201.2,415.3 201.9,413.3 202.6,411.9 203.3,411.4 204.0,411.3 204.7,411.5 205.4,412.2 206.1,413.8 206.8,416.2 207.5,419.0 208.2,421.5 208.9,424.2 209.6,427.8 210.3,433.1 211.0,440.7 211.7,449.7 212.4,462.5 213.1,471.7 213.8,467.7 214.5,458.7 215.2,451.1 215.9,443.3 216.6,435.6 217.3,429.1 218.0,425.0 218.7,424.1 219.4,424.1 220.1,425.4 220.8,427.8 221.5,430.7 222.2,432.9 222.9,433.9 223.6,433.2 224.3,431.2 225.0,428.8 225.7,426.9 226.4,425.9 227.1,425.6 227.8,425.5 228.5,425.0 229.2,424.5 229.9,424.2 230.6,424.7 231.3,425.9 232.0,427.9 232.7,430.4 233.4,433.5 234.1,437.5 234.8,441.7 235.5,444.8 236.2,445.3 236.9,441.9 237.6,436.5 238.3,431.8 239.0,429.3 239.7,428.1 240.4,427.4 241.1,426.7 241.8,426.1 242.5,426.6 243.2,428.5 243.9,431.3 244.6,434.2 245.3,435.8 246.0,435.8 246.7,435.2 247.4,434.3 248.1,433.1 248.8,431.3 249.5,429.3 250.2,427.3 250.9,425.3 251.6,423.0 252.3,420.8 253.0,419.9 253.7,421.3 254.4,424.9 255.1,430.1 255.8,435.9 256.5,441.5 257.2,448.3 257.9,450.8 258.6,444.3 259.3,434.1 260.0,427.8 260.7,423.8 261.4,421.2 262.1,420.5 262.8,420.0 263.5,419.6 264.2,419.8 264.9,420.6 265.6,421.6 266.3,421.9 267.0,421.6 267.7,421.2 268.4,421.1 269.1,421.7 269.8,422.3 270.5,422.4 271.2,422.0 271.9,421.4 272.6,420.9 273.3,420.6 274.0,420.6 274.7,421.0 275.4,421.9 276.1,423.0 276.8,424.1 277.5,425.1 278.2,426.0 278.9,426.8 279.6,427.6 280.3,428.9 281.0,430.3 281.7,431.2 282.4,431.5 283.1,431.1 283.8,430.2 284.5,428.5 285.2,426.3 285.9,424.1 286.6,422.6 287.3,422.2 288.0,422.0 288.7,420.9 289.4,418.9 290.1,416.6 290.8,415.0 291.5,414.7 292.2,415.1 292.9,415.2 293.6,414.5 294.3,413.4 295.0,412.5 295.7,412.6 296.4,414.3 297.1,416.9 297.8,419.5 298.5,421.7 299.2,423.3 299.9,425.1 300.6,427.2 301.3,429.8 302.0,432.1 302.7,432.9 303.4,432.5 304.1,431.5 304.8,431.0 305.5,431.4 306.2,432.2 306.9,432.4 307.6,431.5 308.3,429.5 309.0,427.2 309.7,425.9 310.4,425.8 311.1,426.3 311.8,427.1 312.5,428.4 313.2,430.4 313.9,433.2 314.6,437.2 315.3,441.3 316.0,444.3 316.7,445.7 317.4,445.5 318.1,443.6 318.8,440.1 319.5,435.0 320.2,429.6 320.9,424.2 321.6,418.7 322.3,414.1 323.0,411.2 323.7,410.2 324.4,409.5 325.1,409.1 325.8,409.5 326.5,410.5 327.2,412.0 327.9,413.5 328.6,414.6 329.3,415.4 330.0,416.5 330.7,419.6 331.4,424.6 332.1,430.1 332.8,435.0 333.5,439.0 334.2,443.5 334.9,448.7 335.6,452.2 336.3,452.6 337.0,448.3 337.7,441.3 338.4,434.2 339.1,428.1 339.8,420.7 340.5,414.2 341.2,410.6 341.9,409.8 341.9,392.6" fill="#c9503a" stroke="none" stroke-width="1"/>
<polygon points="48.6,392.6 48.6,374.9 49.3,373.3 50.0,372.1 50.7,372.3 51.4,374.2 52.1,376.6 52.8,378.2 53.5,379.0 54.2,379.2 54.9,379.1 55.6,378.2 56.3,377.3 57.0,376.7 57.7,376.8 58.4,377.4 59.1,378.0 59.8,378.1 60.5,377.9 61.2,377.0 61.9,375.7 62.6,374.5 63.3,374.1 64.0,375.3 64.7,377.6 65.4,379.5 66.1,379.6 66.8,377.5 67.5,374.4 68.2,371.5 68.9,369.7 69.6,369.5 70.3,370.4 71.0,371.6 71.7,372.9 72.4,374.2 73.1,375.3 73.8,376.5 74.5,377.7 75.2,378.0 75.9,377.1 76.6,375.5 77.3,373.4 78.0,372.1 78.7,372.0 79.4,372.7 80.1,374.1 80.8,375.9 81.5,377.2 82.2,376.6 82.9,374.1 83.6,370.4 84.3,366.9 85.0,365.4 85.7,365.9 86.4,367.5 87.1,369.4 87.8,370.4 88.5,370.3 89.2,370.1 89.9,370.5 90.6,371.2 91.3,372.0 92.0,372.8 92.7,373.3 93.4,374.1 94.1,375.7 94.8,377.4 95.5,378.8 96.2,379.7 96.9,379.9 97.6,379.5 98.3,378.7 99.0,377.8 99.7,376.4 100.4,375.2 101.1,375.0 101.8,376.3 102.5,378.5 103.2,380.1 103.9,380.1 104.6,378.9 105.3,377.5 106.0,377.1 106.7,377.2 107.4,377.6 108.1,378.5 108.8,379.5 109.5,379.8 110.2,380.0 110.9,380.5 111.6,381.0 112.3,381.3 113.0,381.3 113.7,380.8 114.4,380.3 115.1,380.3 115.8,380.5 116.5,380.4 117.2,379.9 117.9,379.3 118.6,379.0 119.3,378.8 120.0,378.3 120.7,377.5 121.4,376.4 122.1,375.6 122.8,375.2 123.5,374.9 124.2,375.0 124.9,375.2 125.6,375.8 126.3,376.8 127.0,377.7 127.7,377.6 128.4,376.6 129.1,375.4 129.8,374.8 130.5,375.2 131.2,375.5 131.9,374.7 132.6,373.3 133.3,372.6 134.0,373.3 134.7,375.5 135.4,377.9 136.1,379.6 136.8,381.0 137.5,382.4 138.2,383.5 138.9,384.0 139.6,383.6 140.3,382.4 141.0,380.9 141.7,379.7 142.4,378.9 143.1,378.3 143.8,377.6 144.5,376.9 145.2,376.5 145.9,376.5 146.6,376.8 147.3,377.3 148.0,377.6 148.7,377.6 149.4,377.8 150.1,378.1 150.8,378.5 151.5,378.8 152.2,379.1 152.9,379.6 153.6,380.4 154.3,381.2 155.0,381.3 155.7,381.1 156.4,381.1 157.1,381.3 157.8,381.8 158.5,381.9 159.2,381.1 159.9,379.9 160.6,379.2 161.3,378.8 162.0,378.8 162.7,379.5 163.4,380.4 164.1,380.7 164.8,380.1 165.5,378.5 166.2,376.8 166.9,376.0 167.6,376.7 168.3,378.6 169.0,381.2 169.7,383.5 170.4,385.0 171.1,385.2 171.8,384.7 172.5,384.1 173.2,383.9 173.9,384.1 174.6,384.3 175.3,383.9 176.0,382.8 176.7,381.1 177.4,379.0 178.1,376.9 178.8,375.4 179.5,374.8 180.2,375.1 180.9,376.0 181.6,376.3 182.3,375.7 183.0,374.6 183.7,373.5 184.4,372.8 185.1,372.9 185.8,374.1 186.5,375.9 187.2,377.6 187.9,378.5 188.6,378.6 189.3,378.4 190.0,378.7 190.7,379.6 191.4,380.9 192.1,382.1 192.8,383.4 193.5,384.6 194.2,385.9 194.9,387.0 195.6,387.8 196.3,388.2 197.0,388.2 197.7,388.1 198.4,388.1 199.1,388.1 199.8,388.1 200.5,387.7 201.2,386.8 201.9,385.6 202.6,384.6 203.3,383.7 204.0,382.5 204.7,381.4 205.4,380.6 206.1,380.4 206.8,381.1 207.5,382.2 208.2,382.8 208.9,382.3 209.6,381.3 210.3,380.3 211.0,379.9 211.7,380.0 212.4,380.4 213.1,380.7 213.8,381.0 214.5,381.5 215.2,382.1 215.9,383.1 216.6,383.5 217.3,383.3 218.0,382.4 218.7,381.0 219.4,379.4 220.1,377.7 220.8,376.0 221.5,374.5 222.2,373.9 222.9,374.7 223.6,376.5 224.3,378.5 225.0,379.8 225.7,380.2 226.4,380.5 227.1,380.8 227.8,381.4 228.5,382.0 229.2,382.3 229.9,382.2 230.6,381.7 231.3,381.1 232.0,380.4 232.7,380.2 233.4,380.4 234.1,381.2 234.8,382.2 235.5,383.0 236.2,383.2 236.9,382.9 237.6,382.3 238.3,381.8 239.0,381.1 239.7,380.2 240.4,379.4 241.1,379.4 241.8,379.8 242.5,380.2 243.2,380.3 243.9,380.4 244.6,381.1 245.3,382.5 246.0,384.2 246.7,385.4 247.4,385.7 248.1,385.4 248.8,384.5 249.5,383.6 250.2,383.2 250.9,383.7 251.6,384.4 252.3,384.9 253.0,385.2 253.7,385.3 254.4,385.5 255.1,385.8 255.8,385.8 256.5,385.4 257.2,385.0 257.9,385.0 258.6,385.4 259.3,386.0 260.0,386.8 260.7,387.5 261.4,388.1 262.1,388.5 262.8,388.8 263.5,388.8 264.2,388.6 264.9,388.2 265.6,387.8 266.3,387.6 267.0,387.9 267.7,388.6 268.4,389.3 269.1,389.5 269.8,389.4 270.5,389.0 271.2,388.7 271.9,388.8 272.6,389.0 273.3,389.1 274.0,389.2 274.7,389.5 275.4,389.7 276.1,390.0 276.8,390.2 277.5,390.1 278.2,390.0 278.9,390.1 279.6,390.1 280.3,389.9 281.0,389.5 281.7,389.2 282.4,389.2 283.1,389.5 283.8,389.8 284.5,389.8 285.2,389.6 285.9,389.1 286.6,388.6 287.3,388.1 288.0,387.6 288.7,387.4 289.4,387.5 290.1,388.0 290.8,388.4 291.5,388.4 292.2,388.0 292.9,387.3 293.6,387.0 294.3,387.2 295.0,387.7 295.7,388.1 296.4,388.5 297.1,388.8 297.8,389.0 298.5,389.2 299.2,389.3 299.9,389.3 300.6,389.3 301.3,389.2 302.0,388.9 302.7,388.6 303.4,388.0 304.1,387.2 304.8,386.3 305.5,385.8 306.2,385.6 306.9,385.4 307.6,385.1 308.3,384.4 309.0,383.7 309.7,383.2 310.4,382.7 311.1,381.7 311.8,380.7 312.5,379.9 313.2,379.4 313.9,380.0 314.6,381.5 315.3,383.0 316.0,383.9 316.7,383.9 317.4,383.4 318.1,383.5 318.8,384.6 319.5,386.2 320.2,387.6 320.9,388.4 321.6,388.7 322.3,389.0 323.0,389.3 323.7,389.6 324.4,389.8 325.1,390.0 325.8,390.3 326.5,390.6 327.2,391.0 327.9,391.2 328.6,391.2 329.3,390.9 330.0,390.5 330.7,390.0 331.4,389.5 332.1,389.0 332.8,388.7 333.5,388.4 334.2,387.8 334.9,387.3 335.6,387.0 336.3,387.0 337.0,387.3 337.7,387.6 338.4,387.6 339.1,387.2 339.8,386.5 340.5,385.9 341.2,385.6 341.9,385.9 341.9,392.6" fill="#1b63a0" stroke="none" stroke-width="1"/>
<polygon points="48.6,392.6 48.6,415.5 49.3,411.9 50.0,408.1 50.7,404.4 51.4,401.7 52.1,400.4 52.8,400.5 53.5,401.1 54.2,401.1 54.9,400.9 55.6,400.6 56.3,400.8 57.0,401.8 57.7,403.4 58.4,405.6 59.1,408.4 59.8,411.0 60.5,411.9 61.2,411.5 61.9,410.6 62.6,409.0 63.3,406.4 64.0,403.7 64.7,402.1 65.4,401.8 66.1,402.1 66.8,401.7 67.5,400.6 68.2,399.7 68.9,399.0 69.6,398.5 70.3,398.2 71.0,398.3 71.7,398.8 72.4,399.4 73.1,400.0 73.8,400.5 74.5,400.9 75.2,401.0 75.9,400.6 76.6,400.1 77.3,399.6 78.0,399.3 78.7,399.2 79.4,399.3 80.1,399.4 80.8,399.7 81.5,400.5 82.2,401.6 82.9,402.5 83.6,402.7 84.3,402.2 85.0,401.3 85.7,400.5 86.4,400.3 87.1,400.5 87.8,401.0 88.5,401.8 89.2,402.6 89.9,403.4 90.6,403.9 91.3,404.1 92.0,407.1 92.7,411.6 93.4,414.2 94.1,413.4 94.8,412.0 95.5,410.0 96.2,407.2 96.9,403.9 97.6,400.7 98.3,398.6 99.0,398.2 99.7,399.5 100.4,401.5 101.1,403.8 101.8,405.6 102.5,406.8 103.2,407.8 103.9,408.8 104.6,409.1 105.3,408.3 106.0,407.1 106.7,405.9 107.4,404.3 108.1,402.6 108.8,401.3 109.5,400.7 110.2,400.7 110.9,401.2 111.6,401.8 112.3,402.1 113.0,402.2 113.7,402.1 114.4,401.7 115.1,401.3 115.8,400.8 116.5,400.6 117.2,401.0 117.9,401.5 118.6,401.5 119.3,400.9 120.0,400.0 120.7,399.6 121.4,400.3 122.1,401.5 122.8,402.4 123.5,402.7 124.2,402.8 124.9,403.0 125.6,403.2 126.3,403.0 127.0,402.6 127.7,402.3 128.4,402.6 129.1,403.1 129.8,403.1 130.5,402.3 131.2,401.3 131.9,400.6 132.6,400.1 133.3,400.0 134.0,400.2 134.7,400.5 135.4,401.3 136.1,402.0 136.8,402.1 137.5,401.4 138.2,400.3 138.9,399.4 139.6,398.9 140.3,399.0 141.0,399.4 141.7,399.9 142.4,400.5 143.1,401.3 143.8,402.4 144.5,403.7 145.2,404.6 145.9,404.7 146.6,404.2 147.3,403.8 148.0,404.9 148.7,409.8 149.4,415.2 150.1,417.0 150.8,415.2 151.5,412.8 152.2,410.8 152.9,408.9 153.6,406.8 154.3,404.8 155.0,403.4 155.7,402.9 156.4,402.9 157.1,403.2 157.8,403.5 158.5,403.5 159.2,403.9 159.9,405.3 160.6,408.0 161.3,411.7 162.0,415.2 162.7,417.8 163.4,418.9 164.1,418.6 164.8,417.1 165.5,414.6 166.2,412.1 166.9,410.3 167.6,409.3 168.3,408.2 169.0,406.5 169.7,404.7 170.4,403.3 171.1,403.0 171.8,403.1 172.5,403.0 173.2,402.8 173.9,403.0 174.6,403.7 175.3,404.6 176.0,405.4 176.7,405.6 177.4,405.3 178.1,405.1 178.8,405.2 179.5,405.2 180.2,405.2 180.9,405.7 181.6,407.5 182.3,410.4 183.0,413.0 183.7,413.3 184.4,411.9 185.1,410.8 185.8,411.2 186.5,413.2 187.2,414.9 187.9,414.4 188.6,412.0 189.3,408.9 190.0,406.0 190.7,404.4 191.4,404.0 192.1,403.8 192.8,403.3 193.5,402.6 194.2,401.9 194.9,401.2 195.6,400.5 196.3,399.7 197.0,399.1 197.7,399.5 198.4,400.9 199.1,403.2 199.8,405.4 200.5,407.0 201.2,408.4 201.9,410.9 202.6,415.3 203.3,420.2 204.0,422.5 204.7,421.3 205.4,417.5 206.1,413.5 206.8,411.7 207.5,412.6 208.2,414.6 208.9,416.1 209.6,416.4 210.3,416.3 211.0,415.8 211.7,414.8 212.4,413.7 213.1,412.3 213.8,410.8 214.5,410.1 215.2,410.9 215.9,412.8 216.6,414.9 217.3,416.2 218.0,416.0 218.7,415.1 219.4,414.5 220.1,415.3 220.8,417.5 221.5,419.5 222.2,420.5 222.9,420.9 223.6,421.2 224.3,421.4 225.0,421.9 225.7,422.2 226.4,421.7 227.1,420.6 227.8,419.9 228.5,420.1 229.2,420.2 229.9,419.3 230.6,417.9 231.3,417.0 232.0,416.9 232.7,417.9 233.4,419.0 234.1,419.0 234.8,418.4 235.5,418.9 236.2,420.0 236.9,420.2 237.6,419.8 238.3,419.3 239.0,418.9 239.7,420.8 240.4,424.8 241.1,427.8 241.8,428.9 242.5,430.7 243.2,433.5 243.9,437.8 244.6,443.2 245.3,446.4 246.0,444.8 246.7,440.1 247.4,434.4 248.1,428.7 248.8,425.1 249.5,423.3 250.2,421.9 250.9,419.7 251.6,417.3 252.3,415.6 253.0,414.6 253.7,414.3 254.4,414.4 255.1,414.3 255.8,413.7 256.5,412.4 257.2,410.2 257.9,407.7 258.6,405.6 259.3,404.1 260.0,403.0 260.7,402.4 261.4,402.0 262.1,402.3 262.8,403.3 263.5,404.3 264.2,405.1 264.9,405.7 265.6,406.1 266.3,406.0 267.0,405.5 267.7,406.2 268.4,407.9 269.1,410.3 269.8,413.2 270.5,416.2 271.2,419.8 271.9,422.2 272.6,422.4 273.3,421.5 274.0,420.3 274.7,419.3 275.4,418.6 276.1,418.4 276.8,418.7 277.5,419.4 278.2,419.6 278.9,418.5 279.6,416.8 280.3,415.5 281.0,415.1 281.7,416.0 282.4,417.2 283.1,417.5 283.8,416.9 284.5,415.4 285.2,413.8 285.9,412.8 286.6,413.0 287.3,414.4 288.0,416.4 288.7,418.1 289.4,419.2 290.1,420.0 290.8,419.9 291.5,418.7 292.2,417.0 292.9,415.7 293.6,414.4 294.3,413.3 295.0,412.7 295.7,412.3 296.4,411.5 297.1,410.6 297.8,410.2 298.5,410.2 299.2,411.0 299.9,412.9 300.6,415.3 301.3,417.1 302.0,418.2 302.7,419.2 303.4,419.8 304.1,420.4 304.8,421.2 305.5,420.9 306.2,419.3 306.9,417.3 307.6,415.4 308.3,413.7 309.0,413.0 309.7,413.1 310.4,413.1 311.1,412.4 311.8,411.1 312.5,409.3 313.2,408.0 313.9,407.7 314.6,408.7 315.3,410.5 316.0,412.8 316.7,414.9 317.4,416.0 318.1,415.9 318.8,415.3 319.5,414.5 320.2,413.7 320.9,413.2 321.6,413.3 322.3,413.4 323.0,413.0 323.7,411.8 324.4,410.4 325.1,409.9 325.8,410.3 326.5,410.2 327.2,409.1 327.9,407.5 328.6,407.2 329.3,408.5 330.0,410.9 330.7,412.7 331.4,413.1 332.1,412.4 332.8,411.7 333.5,411.2 334.2,411.0 334.9,411.3 335.6,411.5 336.3,410.7 337.0,409.3 337.7,407.6 338.4,406.2 339.1,405.0 339.8,403.9 340.5,403.0 341.2,402.6 341.9,402.4 341.9,392.6" fill="#1b63a0" stroke="none" stroke-width="1"/>
<polygon points="48.6,392.6 48.6,387.9 49.3,387.4 50.0,387.0 50.7,386.6 51.4,386.1 52.1,385.3 52.8,384.6 53.5,384.2 54.2,384.4 54.9,385.2 55.6,385.9 56.3,386.1 57.0,385.9 57.7,385.5 58.4,385.2 59.1,385.4 59.8,385.9 60.5,386.5 61.2,386.8 61.9,387.0 62.6,387.1 63.3,387.2 64.0,387.1 64.7,386.9 65.4,386.3 66.1,385.6 66.8,384.8 67.5,384.0 68.2,383.6 68.9,383.5 69.6,383.7 70.3,383.9 71.0,383.9 71.7,383.5 72.4,383.2 73.1,383.2 73.8,383.8 74.5,384.6 75.2,385.4 75.9,385.9 76.6,386.5 77.3,387.1 78.0,387.6 78.7,387.7 79.4,387.3 80.1,386.3 80.8,385.4 81.5,384.8 82.2,384.6 82.9,384.6 83.6,384.7 84.3,384.8 85.0,384.8 85.7,384.6 86.4,384.4 87.1,384.4 87.8,384.9 88.5,385.9 89.2,386.7 89.9,386.9 90.6,386.4 91.3,386.2 92.0,386.5 92.7,387.4 93.4,388.1 94.1,388.6 94.8,388.7 95.5,388.6 96.2,388.4 96.9,388.0 97.6,387.6 98.3,387.1 99.0,386.7 99.7,386.5 100.4,386.3 101.1,386.3 101.8,386.5 102.5,386.7 103.2,386.6 103.9,386.1 104.6,385.7 105.3,385.5 106.0,385.6 106.7,385.7 107.4,385.7 108.1,385.6 108.8,385.6 109.5,385.5 110.2,385.5 110.9,385.6 111.6,386.0 112.3,386.6 113.0,387.0 113.7,387.1 114.4,387.0 115.1,386.8 115.8,386.9 116.5,387.1 117.2,387.2 117.9,387.3 118.6,387.3 119.3,387.3 120.0,387.4 120.7,387.7 121.4,387.6 122.1,387.0 122.8,386.0 123.5,385.1 124.2,384.5 124.9,384.2 125.6,384.1 126.3,384.5 127.0,385.4 127.7,386.5 128.4,387.2 129.1,387.5 129.8,387.7 130.5,387.8 131.2,387.7 131.9,387.5 132.6,387.4 133.3,387.4 134.0,387.4 134.7,387.1 135.4,386.5 136.1,386.1 136.8,385.9 137.5,385.9 138.2,385.9 138.9,385.7 139.6,385.5 140.3,385.7 141.0,386.2 141.7,386.8 142.4,387.1 143.1,387.0 143.8,386.9 144.5,386.8 145.2,386.7 145.9,386.4 146.6,386.1 147.3,385.8 148.0,385.7 148.7,385.6 149.4,385.3 150.1,385.1 150.8,385.5 151.5,386.3 152.2,387.1 152.9,387.6 153.6,387.7 154.3,387.7 155.0,387.8 155.7,388.1 156.4,388.3 157.1,388.5 157.8,388.5 158.5,388.6 159.2,388.6 159.9,388.4 160.6,388.0 161.3,387.3 162.0,386.7 162.7,386.2 163.4,386.1 164.1,386.3 164.8,386.5 165.5,386.4 166.2,386.0 166.9,385.5 167.6,385.2 168.3,385.4 169.0,385.8 169.7,386.1 170.4,386.2 171.1,386.3 171.8,386.5 172.5,386.9 173.2,387.1 173.9,387.0 174.6,386.7 175.3,386.5 176.0,386.7 176.7,387.1 177.4,387.4 178.1,387.6 178.8,387.4 179.5,387.2 180.2,387.0 180.9,387.1 181.6,387.4 182.3,387.9 183.0,388.1 183.7,387.9 184.4,387.3 185.1,386.5 185.8,385.9 186.5,385.5 187.2,385.5 187.9,385.8 188.6,386.3 189.3,386.5 190.0,386.6 190.7,386.3 191.4,386.1 192.1,385.8 192.8,385.7 193.5,385.6 194.2,385.7 194.9,385.9 195.6,385.9 196.3,385.5 197.0,384.9 197.7,384.6 198.4,384.6 199.1,384.7 199.8,384.7 200.5,384.4 201.2,384.3 201.9,384.6 202.6,385.1 203.3,385.4 204.0,385.6 204.7,385.7 205.4,386.1 206.1,386.6 206.8,387.3 207.5,387.8 208.2,388.0 208.9,388.1 209.6,388.0 210.3,387.8 211.0,387.6 211.7,387.7 212.4,387.9 213.1,388.0 213.8,387.9 214.5,387.5 215.2,386.8 215.9,385.9 216.6,385.0 217.3,384.2 218.0,383.5 218.7,383.1 219.4,382.9 220.1,383.1 220.8,383.6 221.5,384.0 222.2,384.3 222.9,384.3 223.6,384.3 224.3,384.4 225.0,384.6 225.7,384.8 226.4,384.6 227.1,384.1 227.8,383.6 228.5,383.4 229.2,383.4 229.9,383.5 230.6,383.8 231.3,383.9 232.0,383.9 232.7,383.6 233.4,383.1 234.1,382.4 234.8,381.8 235.5,381.5 236.2,381.5 236.9,381.9 237.6,382.4 238.3,382.4 239.0,382.1 239.7,381.5 240.4,381.3 241.1,382.0 241.8,383.1 242.5,384.0 243.2,384.7 243.9,385.1 244.6,385.5 245.3,385.9 246.0,386.2 246.7,386.1 247.4,385.8 248.1,385.5 248.8,385.5 249.5,385.6 250.2,385.4 250.9,384.9 251.6,384.0 252.3,383.4 253.0,383.1 253.7,383.1 254.4,383.2 255.1,383.4 255.8,383.6 256.5,383.5 257.2,383.1 257.9,382.1 258.6,380.7 259.3,379.5 260.0,378.9 260.7,378.2 261.4,377.4 262.1,377.1 262.8,377.7 263.5,379.0 264.2,380.8 264.9,382.6 265.6,383.9 266.3,384.9 267.0,385.9 267.7,386.7 268.4,387.1 269.1,387.0 269.8,386.7 270.5,386.4 271.2,386.5 271.9,386.8 272.6,386.9 273.3,386.8 274.0,386.7 274.7,386.6 275.4,386.6 276.1,386.7 276.8,387.1 277.5,387.3 278.2,387.4 278.9,387.4 279.6,387.2 280.3,387.2 281.0,387.2 281.7,387.4 282.4,387.4 283.1,387.2 283.8,386.8 284.5,386.3 285.2,385.9 285.9,385.6 286.6,385.2 287.3,384.9 288.0,384.9 288.7,385.2 289.4,385.7 290.1,386.2 290.8,386.4 291.5,386.6 292.2,386.8 292.9,387.1 293.6,387.2 294.3,387.3 295.0,387.2 295.7,386.8 296.4,386.6 297.1,386.7 297.8,387.1 298.5,387.6 299.2,388.1 299.9,388.2 300.6,388.1 301.3,387.9 302.0,387.6 302.7,387.3 303.4,387.1 304.1,387.0 304.8,386.9 305.5,387.0 306.2,387.0 306.9,386.8 307.6,386.4 308.3,385.8 309.0,385.1 309.7,384.8 310.4,384.8 311.1,385.2 311.8,385.9 312.5,386.4 313.2,386.6 313.9,386.5 314.6,386.2 315.3,386.0 316.0,386.2 316.7,386.3 317.4,386.3 318.1,386.3 318.8,386.2 319.5,386.1 320.2,386.3 320.9,386.6 321.6,386.9 322.3,387.1 323.0,387.2 323.7,387.4 324.4,387.7 325.1,388.0 325.8,388.2 326.5,388.3 327.2,388.3 327.9,388.4 328.6,388.6 329.3,388.8 330.0,388.8 330.7,388.5 331.4,387.9 332.1,387.4 332.8,387.2 333.5,387.2 334.2,387.3 334.9,387.5 335.6,387.5 336.3,387.2 337.0,387.0 337.7,387.1 338.4,387.2 339.1,387.2 339.8,387.0 340.5,386.6 341.2,386.5 341.9,386.8 341.9,392.6" fill="#aed6ef" stroke="none" stroke-width="1"/>
<polygon points="48.6,392.6 48.6,398.7 49.3,398.9 50.0,398.9 50.7,398.8 51.4,398.8 52.1,398.8 52.8,398.8 53.5,399.1 54.2,399.4 54.9,399.8 55.6,399.7 56.3,399.3 57.0,398.7 57.7,398.3 58.4,398.3 59.1,398.5 59.8,398.6 60.5,398.4 61.2,398.0 61.9,397.4 62.6,397.0 63.3,397.0 64.0,397.1 64.7,397.2 65.4,396.9 66.1,396.4 66.8,396.1 67.5,396.3 68.2,396.9 68.9,397.7 69.6,398.2 70.3,398.5 71.0,398.6 71.7,398.8 72.4,399.0 73.1,399.2 73.8,399.2 74.5,399.1 75.2,399.2 75.9,399.5 76.6,399.9 77.3,400.2 78.0,400.3 78.7,400.5 79.4,400.7 80.1,400.8 80.8,400.5 81.5,400.1 82.2,399.5 82.9,399.0 83.6,398.6 84.3,398.3 85.0,398.1 85.7,398.1 86.4,398.0 87.1,397.8 87.8,397.4 88.5,397.2 89.2,397.6 89.9,398.4 90.6,399.6 91.3,400.9 92.0,401.6 92.7,401.6 93.4,401.0 94.1,400.2 94.8,399.5 95.5,399.4 96.2,399.8 96.9,400.2 97.6,400.3 98.3,400.1 99.0,399.8 99.7,399.8 100.4,399.8 101.1,399.8 101.8,399.6 102.5,399.3 103.2,399.0 103.9,398.8 104.6,398.6 105.3,398.6 106.0,398.9 106.7,399.4 107.4,399.9 108.1,400.2 108.8,400.2 109.5,399.9 110.2,399.5 110.9,399.1 111.6,398.9 112.3,398.8 113.0,398.7 113.7,398.5 114.4,398.5 115.1,398.6 115.8,398.9 116.5,398.9 117.2,398.8 117.9,399.0 118.6,399.4 119.3,399.6 120.0,399.6 120.7,399.5 121.4,399.6 122.1,399.9 122.8,400.1 123.5,399.9 124.2,399.5 124.9,399.1 125.6,399.0 126.3,398.8 127.0,398.6 127.7,398.3 128.4,398.0 129.1,397.8 129.8,397.8 130.5,397.9 131.2,398.2 131.9,398.6 132.6,399.1 133.3,399.6 134.0,400.0 134.7,400.3 135.4,400.4 136.1,400.4 136.8,400.3 137.5,400.1 138.2,399.9 138.9,399.4 139.6,398.8 140.3,398.1 141.0,397.9 141.7,398.2 142.4,398.7 143.1,399.2 143.8,399.4 144.5,399.3 145.2,399.1 145.9,398.9 146.6,399.2 147.3,399.8 148.0,400.7 148.7,401.3 149.4,401.5 150.1,401.4 150.8,401.2 151.5,400.9 152.2,400.7 152.9,400.4 153.6,400.0 154.3,399.8 155.0,399.9 155.7,400.2 156.4,400.7 157.1,401.0 157.8,400.8 158.5,400.4 159.2,400.1 159.9,400.1 160.6,400.4 161.3,400.5 162.0,400.2 162.7,399.7 163.4,399.0 164.1,398.4 164.8,398.2 165.5,398.3 166.2,398.6 166.9,399.1 167.6,399.4 168.3,399.2 169.0,398.8 169.7,398.5 170.4,398.5 171.1,398.6 171.8,398.8 172.5,398.9 173.2,399.2 173.9,399.9 174.6,400.9 175.3,401.5 176.0,401.5 176.7,400.9 177.4,399.8 178.1,398.7 178.8,398.1 179.5,398.4 180.2,399.2 180.9,400.0 181.6,400.3 182.3,400.3 183.0,400.4 183.7,400.7 184.4,400.8 185.1,400.8 185.8,400.7 186.5,400.5 187.2,400.3 187.9,400.1 188.6,399.7 189.3,399.3 190.0,398.8 190.7,398.3 191.4,398.0 192.1,398.2 192.8,399.1 193.5,400.1 194.2,400.7 194.9,400.5 195.6,399.5 196.3,398.4 197.0,397.9 197.7,398.0 198.4,398.5 199.1,399.0 199.8,399.2 200.5,399.3 201.2,399.4 201.9,399.3 202.6,399.0 203.3,398.5 204.0,398.2 204.7,398.3 205.4,398.6 206.1,399.0 206.8,399.1 207.5,399.1 208.2,398.9 208.9,398.7 209.6,398.4 210.3,398.4 211.0,398.6 211.7,398.9 212.4,399.0 213.1,398.9 213.8,398.9 214.5,399.0 215.2,399.4 215.9,400.0 216.6,400.7 217.3,401.0 218.0,400.6 218.7,400.0 219.4,399.6 220.1,399.9 220.8,400.9 221.5,401.9 222.2,402.2 222.9,401.7 223.6,400.7 224.3,399.7 225.0,399.3 225.7,399.5 226.4,400.1 227.1,400.6 227.8,400.6 228.5,400.2 229.2,399.9 229.9,400.1 230.6,400.6 231.3,401.2 232.0,401.6 232.7,401.6 233.4,401.4 234.1,401.3 234.8,401.2 235.5,401.0 236.2,400.9 236.9,400.8 237.6,400.6 238.3,400.8 239.0,401.2 239.7,401.2 240.4,400.9 241.1,400.5 241.8,400.5 242.5,400.9 243.2,401.6 243.9,402.0 244.6,401.8 245.3,401.2 246.0,400.7 246.7,400.5 247.4,400.5 248.1,400.6 248.8,401.0 249.5,401.6 250.2,402.4 250.9,403.8 251.6,405.3 252.3,406.4 253.0,407.0 253.7,407.1 254.4,407.0 255.1,407.7 255.8,409.3 256.5,411.2 257.2,412.7 257.9,414.3 258.6,416.5 259.3,418.9 260.0,421.4 260.7,423.4 261.4,423.8 262.1,422.7 262.8,420.2 263.5,416.6 264.2,413.2 264.9,411.0 265.6,409.1 266.3,407.7 267.0,406.8 267.7,405.6 268.4,404.0 269.1,402.7 269.8,402.4 270.5,403.1 271.2,404.3 271.9,405.5 272.6,406.6 273.3,407.5 274.0,408.2 274.7,409.3 275.4,410.4 276.1,410.9 276.8,411.1 277.5,411.0 278.2,410.6 278.9,410.0 279.6,409.2 280.3,408.5 281.0,408.2 281.7,408.4 282.4,409.1 283.1,410.2 283.8,411.2 284.5,412.0 285.2,412.0 285.9,411.1 286.6,409.6 287.3,408.3 288.0,407.8 288.7,408.2 289.4,409.1 290.1,409.8 290.8,409.7 291.5,408.6 292.2,407.7 292.9,408.0 293.6,409.5 294.3,410.8 295.0,410.6 295.7,409.4 296.4,408.2 297.1,408.0 297.8,408.8 298.5,409.5 299.2,409.5 299.9,409.1 300.6,408.7 301.3,408.6 302.0,408.6 302.7,409.0 303.4,409.9 304.1,410.9 304.8,411.1 305.5,410.4 306.2,409.2 306.9,408.5 307.6,408.6 308.3,408.5 309.0,407.7 309.7,406.9 310.4,406.7 311.1,407.2 311.8,408.4 312.5,409.4 313.2,409.2 313.9,407.6 314.6,405.7 315.3,404.7 316.0,405.1 316.7,406.6 317.4,407.8 318.1,407.7 318.8,406.8 319.5,406.2 320.2,406.5 320.9,407.4 321.6,408.4 322.3,408.8 323.0,408.2 323.7,407.6 324.4,407.5 325.1,407.5 325.8,407.5 326.5,407.2 327.2,406.9 327.9,407.1 328.6,408.4 329.3,410.2 330.0,411.3 330.7,411.8 331.4,411.7 332.1,411.1 332.8,410.7 333.5,410.6 334.2,410.2 334.9,409.8 335.6,409.7 336.3,409.3 337.0,408.0 337.7,406.7 338.4,405.8 339.1,405.8 339.8,406.6 340.5,407.0 341.2,406.1 341.9,404.8 341.9,392.6" fill="#aed6ef" stroke="none" stroke-width="1"/>
<polygon points="48.6,571.8 48.6,485.6 49.3,488.5 50.0,491.3 50.7,494.5 51.4,496.9 52.1,497.5 52.8,496.9 53.5,496.3 54.2,496.7 54.9,498.2 55.6,499.6 56.3,501.6 57.0,505.5 57.7,511.0 58.4,516.8 59.1,521.8 59.8,524.7 60.5,526.8 61.2,528.5 61.9,529.7 62.6,530.4 63.3,530.8 64.0,530.9 64.7,530.7 65.4,529.9 66.1,528.9 66.8,528.0 67.5,527.1 68.2,526.6 68.9,526.4 69.6,526.2 70.3,525.5 71.0,524.4 71.7,523.2 72.4,521.9 73.1,521.1 73.8,521.1 74.5,520.7 75.2,518.9 75.9,515.6 76.6,511.3 77.3,507.4 78.0,505.6 78.7,507.4 79.4,512.0 80.1,517.8 80.8,523.1 81.5,526.8 82.2,527.7 82.9,525.5 83.6,521.5 84.3,516.5 85.0,511.7 85.7,509.0 86.4,511.0 87.1,518.2 87.8,526.2 88.5,530.1 89.2,530.2 89.9,529.8 90.6,529.1 91.3,528.0 92.0,526.9 92.7,526.2 93.4,525.9 94.1,526.6 94.8,529.2 95.5,532.7 96.2,536.1 96.9,538.5 97.6,539.5 98.3,539.4 99.0,539.6 99.7,540.4 100.4,541.6 101.1,542.8 101.8,543.5 102.5,543.8 103.2,543.8 103.9,543.5 104.6,542.8 105.3,542.2 106.0,542.0 106.7,542.4 107.4,543.3 108.1,544.4 108.8,545.5 109.5,546.5 110.2,547.2 110.9,547.8 111.6,548.5 112.3,549.4 113.0,550.0 113.7,550.2 114.4,550.0 115.1,549.4 115.8,548.9 116.5,548.5 117.2,548.6 117.9,549.4 118.6,550.8 119.3,552.0 120.0,552.7 120.7,552.9 121.4,552.8 122.1,552.8 122.8,553.0 123.5,553.3 124.2,553.7 124.9,553.9 125.6,553.9 126.3,553.6 127.0,553.2 127.7,553.0 128.4,553.0 129.1,553.0 129.8,552.7 130.5,552.2 131.2,551.7 131.9,551.5 132.6,551.5 133.3,551.6 134.0,551.6 134.7,551.3 135.4,550.8 136.1,550.5 136.8,550.5 137.5,550.9 138.2,551.6 138.9,552.1 139.6,552.2 140.3,552.4 141.0,552.8 141.7,553.6 142.4,554.3 143.1,554.9 143.8,555.3 144.5,555.7 145.2,556.1 145.9,556.7 146.6,557.4 147.3,558.2 148.0,558.9 148.7,559.3 149.4,559.3 150.1,559.1 150.8,559.0 151.5,558.8 152.2,558.5 152.9,557.9 153.6,557.1 154.3,556.3 155.0,555.5 155.7,554.8 156.4,554.3 157.1,554.1 157.8,554.4 158.5,555.3 159.2,556.4 159.9,557.6 160.6,558.7 161.3,559.7 162.0,560.6 162.7,561.3 163.4,561.7 164.1,561.9 164.8,562.2 165.5,562.6 166.2,563.0 166.9,563.2 167.6,563.3 168.3,563.3 169.0,563.5 169.7,563.8 170.4,564.3 171.1,564.6 171.8,564.8 172.5,564.9 173.2,565.1 173.9,565.5 174.6,566.0 175.3,566.5 176.0,566.9 176.7,567.2 177.4,567.3 178.1,567.5 178.8,567.6 179.5,567.8 180.2,567.9 180.9,568.0 181.6,568.1 182.3,568.1 183.0,567.5 183.7,566.2 184.4,564.4 185.1,562.3 185.8,560.2 186.5,558.0 187.2,555.6 187.9,552.8 188.6,550.0 189.3,548.1 190.0,547.7 190.7,548.7 191.4,550.1 192.1,551.2 192.8,552.1 193.5,552.9 194.2,553.9 194.9,554.7 195.6,555.0 196.3,554.5 197.0,553.2 197.7,551.6 198.4,550.1 199.1,548.8 199.8,547.8 200.5,546.9 201.2,546.2 201.9,545.8 202.6,545.9 203.3,546.3 204.0,546.9 204.7,547.8 205.4,548.9 206.1,549.9 206.8,550.7 207.5,551.2 208.2,551.6 208.9,552.3 209.6,553.9 210.3,556.2 211.0,558.6 211.7,560.8 212.4,562.1 213.1,562.9 213.8,563.5 214.5,563.9 215.2,564.2 215.9,564.4 216.6,564.4 217.3,564.2 218.0,563.9 218.7,563.6 219.4,563.4 220.1,563.3 220.8,563.2 221.5,562.9 222.2,562.4 222.9,561.8 223.6,561.2 224.3,560.8 225.0,560.7 225.7,560.6 226.4,560.4 227.1,560.0 227.8,559.5 228.5,559.0 229.2,558.5 229.9,558.1 230.6,558.0 231.3,558.1 232.0,558.2 232.7,558.1 233.4,557.8 234.1,557.5 234.8,557.5 235.5,557.6 236.2,557.6 236.9,557.5 237.6,557.2 238.3,556.9 239.0,556.6 239.7,557.1 240.4,558.1 241.1,559.5 241.8,560.7 242.5,561.3 243.2,561.2 243.9,561.2 244.6,561.2 245.3,561.3 246.0,561.4 246.7,561.7 247.4,562.0 248.1,562.1 248.8,562.2 249.5,562.2 250.2,562.1 250.9,562.0 251.6,561.7 252.3,561.4 253.0,561.0 253.7,560.6 254.4,560.1 255.1,559.4 255.8,558.6 256.5,557.6 257.2,556.8 257.9,556.2 258.6,555.9 259.3,556.0 260.0,556.3 260.7,556.4 261.4,556.6 262.1,556.8 262.8,557.1 263.5,557.4 264.2,558.0 264.9,559.1 265.6,560.3 266.3,561.6 267.0,562.6 267.7,563.4 268.4,564.0 269.1,564.7 269.8,565.4 270.5,566.3 271.2,567.2 271.9,568.1 272.6,568.8 273.3,569.3 274.0,569.7 274.7,569.9 275.4,570.1 276.1,570.3 276.8,570.5 277.5,570.8 278.2,571.0 278.9,571.2 279.6,571.4 280.3,571.6 281.0,571.7 281.7,571.7 282.4,571.7 283.1,571.7 283.8,571.7 284.5,571.7 285.2,571.7 285.9,571.7 286.6,571.7 287.3,571.7 288.0,571.7 288.7,571.7 289.4,571.7 290.1,571.7 290.8,571.7 291.5,571.7 292.2,571.7 292.9,571.7 293.6,571.7 294.3,571.7 295.0,571.7 295.7,571.7 296.4,571.7 297.1,571.7 297.8,571.7 298.5,571.7 299.2,571.7 299.9,571.7 300.6,571.7 301.3,571.7 302.0,571.7 302.7,571.7 303.4,571.7 304.1,571.7 304.8,571.7 305.5,571.7 306.2,571.7 306.9,571.7 307.6,571.7 308.3,571.7 309.0,571.7 309.7,571.7 310.4,571.7 311.1,571.7 311.8,571.7 312.5,571.7 313.2,571.7 313.9,571.7 314.6,571.7 315.3,571.7 316.0,571.7 316.7,571.7 317.4,571.7 318.1,571.7 318.8,571.7 319.5,571.7 320.2,571.7 320.9,571.7 321.6,571.7 322.3,571.7 323.0,571.7 323.7,571.7 324.4,571.7 325.1,571.7 325.8,571.7 326.5,571.7 327.2,571.7 327.9,571.7 328.6,571.7 329.3,571.7 330.0,571.7 330.7,571.7 331.4,571.7 332.1,571.7 332.8,571.7 333.5,571.7 334.2,571.7 334.9,571.7 335.6,571.7 336.3,571.7 337.0,571.7 337.7,571.7 338.4,571.7 339.1,571.7 339.8,571.7 340.5,571.7 341.2,571.7 341.9,571.7 341.9,571.8" fill="#c9503a" stroke="none" stroke-width="1"/>
<polygon points="48.6,571.8 48.6,635.6 49.3,642.4 50.0,648.1 50.7,653.2 51.4,657.4 52.1,659.5 52.8,659.7 53.5,658.7 54.2,657.6 54.9,656.7 55.6,655.1 56.3,652.1 57.0,646.7 57.7,639.8 58.4,631.8 59.1,618.6 59.8,604.9 60.5,596.1 61.2,596.1 61.9,600.4 62.6,607.0 63.3,613.9 64.0,619.4 64.7,621.7 65.4,620.1 66.1,616.1 66.8,611.2 67.5,606.7 68.2,603.5 68.9,602.9 69.6,603.5 70.3,604.1 71.0,604.5 71.7,604.5 72.4,604.3 73.1,604.2 73.8,604.1 74.5,604.0 75.2,604.1 75.9,604.3 76.6,604.8 77.3,605.8 78.0,606.6 78.7,607.1 79.4,607.2 80.1,606.9 80.8,606.3 81.5,606.1 82.2,606.6 82.9,607.6 83.6,609.0 84.3,610.4 85.0,611.7 85.7,612.9 86.4,613.8 87.1,614.5 87.8,614.8 88.5,614.9 89.2,615.2 89.9,615.8 90.6,616.0 91.3,615.3 92.0,614.0 92.7,612.1 93.4,609.8 94.1,607.3 94.8,605.0 95.5,602.8 96.2,600.6 96.9,598.8 97.6,597.4 98.3,596.7 99.0,596.4 99.7,595.9 100.4,594.9 101.1,593.5 101.8,592.2 102.5,591.5 103.2,591.1 103.9,590.7 104.6,590.3 105.3,590.1 106.0,590.3 106.7,590.6 107.4,591.0 108.1,591.1 108.8,591.2 109.5,591.3 110.2,591.4 110.9,591.6 111.6,591.8 112.3,592.1 113.0,592.5 113.7,592.7 114.4,592.6 115.1,592.5 115.8,592.7 116.5,593.2 117.2,593.6 117.9,593.7 118.6,593.5 119.3,593.3 120.0,593.0 120.7,592.6 121.4,591.9 122.1,591.1 122.8,590.5 123.5,590.1 124.2,590.2 124.9,590.5 125.6,590.7 126.3,590.7 127.0,590.4 127.7,589.8 128.4,589.2 129.1,588.7 129.8,588.2 130.5,587.9 131.2,587.5 131.9,587.3 132.6,587.2 133.3,587.4 134.0,587.6 134.7,587.9 135.4,587.9 136.1,587.6 136.8,587.1 137.5,586.7 138.2,586.6 138.9,586.4 139.6,586.2 140.3,585.9 141.0,585.6 141.7,585.6 142.4,585.8 143.1,586.0 143.8,586.1 144.5,585.8 145.2,585.4 145.9,585.5 146.6,586.4 147.3,588.0 148.0,589.9 148.7,592.0 149.4,594.0 150.1,595.5 150.8,596.3 151.5,596.7 152.2,596.9 152.9,596.7 153.6,596.5 154.3,596.2 155.0,596.0 155.7,596.3 156.4,597.2 157.1,597.9 157.8,598.2 158.5,598.2 159.2,597.7 159.9,597.5 160.6,597.7 161.3,598.0 162.0,597.9 162.7,597.2 163.4,596.0 164.1,594.4 164.8,592.6 165.5,590.8 166.2,589.0 166.9,587.6 167.6,586.6 168.3,585.9 169.0,585.1 169.7,584.3 170.4,583.5 171.1,582.8 171.8,582.1 172.5,581.5 173.2,580.7 173.9,579.8 174.6,579.1 175.3,578.6 176.0,578.4 176.7,578.3 177.4,578.5 178.1,578.6 178.8,578.7 179.5,578.7 180.2,578.7 180.9,578.7 181.6,578.9 182.3,579.1 183.0,579.3 183.7,579.4 184.4,579.4 185.1,579.5 185.8,579.8 186.5,580.1 187.2,580.4 187.9,581.0 188.6,581.8 189.3,582.6 190.0,583.3 190.7,583.7 191.4,583.9 192.1,584.3 192.8,584.6 193.5,584.4 194.2,583.7 194.9,582.8 195.6,582.2 196.3,581.9 197.0,581.7 197.7,581.7 198.4,581.5 199.1,581.2 199.8,580.9 200.5,580.5 201.2,580.2 201.9,580.1 202.6,580.1 203.3,580.1 204.0,580.1 204.7,580.1 205.4,580.1 206.1,579.9 206.8,579.6 207.5,579.2 208.2,578.7 208.9,578.2 209.6,577.8 210.3,577.4 211.0,577.2 211.7,576.9 212.4,576.5 213.1,575.9 213.8,575.2 214.5,574.5 215.2,573.9 215.9,573.6 216.6,573.5 217.3,573.5 218.0,573.5 218.7,573.5 219.4,573.5 220.1,573.5 220.8,573.6 221.5,573.6 222.2,573.7 222.9,573.8 223.6,573.8 224.3,573.8 225.0,573.9 225.7,574.0 226.4,574.1 227.1,574.1 227.8,574.2 228.5,574.2 229.2,574.3 229.9,574.3 230.6,574.4 231.3,574.5 232.0,574.5 232.7,574.7 233.4,574.8 234.1,574.9 234.8,575.0 235.5,575.0 236.2,575.0 236.9,575.1 237.6,575.2 238.3,575.2 239.0,575.2 239.7,575.2 240.4,575.2 241.1,575.1 241.8,575.2 242.5,575.2 243.2,575.3 243.9,575.3 244.6,575.4 245.3,575.5 246.0,575.6 246.7,575.6 247.4,575.7 248.1,575.7 248.8,575.7 249.5,575.7 250.2,575.7 250.9,575.8 251.6,575.9 252.3,576.0 253.0,576.1 253.7,576.1 254.4,576.1 255.1,576.2 255.8,576.2 256.5,576.3 257.2,576.3 257.9,576.2 258.6,576.1 259.3,576.1 260.0,576.1 260.7,576.1 261.4,576.1 262.1,576.2 262.8,576.3 263.5,576.3 264.2,576.2 264.9,576.1 265.6,576.1 266.3,576.2 267.0,576.3 267.7,576.3 268.4,576.1 269.1,575.8 269.8,575.3 270.5,574.9 271.2,574.5 271.9,574.2 272.6,573.9 273.3,573.7 274.0,573.6 274.7,573.6 275.4,573.6 276.1,573.6 276.8,573.7 277.5,573.7 278.2,573.6 278.9,573.6 279.6,573.6 280.3,573.6 281.0,573.6 281.7,573.7 282.4,573.7 283.1,573.7 283.8,573.7 284.5,573.6 285.2,573.6 285.9,573.6 286.6,573.6 287.3,573.6 288.0,573.6 288.7,573.6 289.4,573.6 290.1,573.6 290.8,573.6 291.5,573.6 292.2,573.6 292.9,573.6 293.6,573.6 294.3,573.6 295.0,573.6 295.7,573.6 296.4,573.6 297.1,573.6 297.8,573.6 298.5,573.5 299.2,573.5 299.9,573.5 300.6,573.5 301.3,573.5 302.0,573.5 302.7,573.5 303.4,573.5 304.1,573.4 304.8,573.4 305.5,573.5 306.2,573.5 306.9,573.5 307.6,573.5 308.3,573.6 309.0,573.6 309.7,573.5 310.4,573.5 311.1,573.5 311.8,573.5 312.5,573.4 313.2,573.4 313.9,573.3 314.6,573.2 315.3,573.1 316.0,573.0 316.7,572.9 317.4,572.9 318.1,572.8 318.8,572.7 319.5,572.6 320.2,572.5 320.9,572.4 321.6,572.3 321.6,571.8" fill="#c9503a" stroke="none" stroke-width="1"/>
<polygon points="96.4,571.8 96.4,571.7 97.1,564.9 97.8,559.2 98.5,554.1 99.2,549.3 99.9,545.7 100.6,544.3 101.3,544.5 102.0,545.7 102.7,547.0 103.4,548.1 104.1,548.8 104.8,549.4 105.5,550.5 106.2,552.1 106.9,553.0 107.6,552.9 108.3,552.6 109.0,551.6 109.7,550.1 110.4,548.9 111.1,548.3 111.8,547.8 112.5,547.5 113.2,547.2 113.9,547.2 114.6,547.6 115.3,548.5 116.0,548.6 116.7,547.6 117.4,546.7 118.1,546.6 118.8,547.0 119.5,548.2 120.2,550.1 120.9,552.2 121.6,554.2 122.3,555.5 123.0,555.9 123.7,555.9 124.4,556.1 125.1,556.4 125.8,556.2 126.5,555.1 127.2,553.8 127.9,553.0 128.6,553.1 129.3,554.1 130.0,555.2 130.7,556.3 131.4,557.5 132.1,558.3 132.8,558.0 133.5,556.7 134.2,555.0 134.9,553.6 135.6,552.6 136.3,551.7 137.0,551.2 137.7,551.2 138.4,551.9 139.1,552.6 139.8,552.9 140.5,552.3 141.2,551.6 141.9,551.1 142.6,550.8 143.3,550.5 144.0,550.3 144.7,550.6 145.4,551.1 146.1,551.1 146.8,550.5 147.5,550.1 148.2,550.3 148.9,550.9 149.6,551.7 150.3,552.4 151.0,552.9 151.7,552.9 152.4,552.3 153.1,551.2 153.8,549.9 154.5,549.7 155.2,551.0 155.9,553.2 156.6,555.3 157.3,557.1 158.0,558.4 158.7,559.4 159.4,560.2 160.1,560.6 160.8,560.8 161.5,560.9 162.2,561.0 162.9,561.4 163.6,562.0 164.3,562.5 165.0,562.9 165.7,563.4 166.4,563.7 167.1,563.6 167.8,563.3 168.5,563.1 169.2,563.1 169.9,563.5 170.6,564.0 171.3,564.1 172.0,564.2 172.7,564.4 173.4,564.8 174.1,565.5 174.8,566.3 175.5,567.0 176.2,567.4 176.9,567.5 177.6,567.3 178.3,567.2 179.0,567.1 179.7,567.1 180.4,567.0 181.1,566.6 181.8,566.2 182.5,565.9 183.2,565.8 183.9,565.7 184.6,565.4 185.3,564.5 186.0,562.9 186.7,561.0 187.4,559.4 188.1,558.6 188.8,558.7 189.5,559.1 190.2,559.4 190.9,560.0 191.6,561.2 192.3,563.1 193.0,565.2 193.7,566.6 194.4,566.8 195.1,566.9 195.8,567.1 196.5,566.9 197.2,566.8 197.9,566.7 198.6,566.8 199.3,566.9 200.0,566.9 200.7,566.9 201.4,567.1 202.1,567.3 202.8,567.5 203.5,567.3 204.2,567.1 204.9,566.9 205.6,567.0 206.3,567.3 207.0,567.5 207.7,567.4 208.4,567.3 209.1,567.2 209.8,567.0 210.5,566.9 211.2,566.8 211.9,566.7 212.6,566.8 213.3,566.8 214.0,566.8 214.7,566.9 215.4,567.0 216.1,567.2 216.8,567.5 217.5,567.6 218.2,567.4 218.9,567.2 219.6,567.0 220.3,566.9 221.0,566.9 221.7,566.9 222.4,566.7 223.1,566.6 223.8,566.8 224.5,567.0 225.2,567.3 225.9,567.3 226.6,567.1 227.3,566.7 228.0,566.5 228.7,566.5 229.4,566.7 230.1,567.0 230.8,567.1 231.5,566.9 232.2,566.5 232.9,566.4 233.6,566.6 234.3,567.1 235.0,567.6 235.7,567.9 236.4,568.0 237.1,568.0 237.8,568.0 238.5,567.7 239.2,567.3 239.9,567.0 240.6,566.9 241.3,567.1 242.0,567.3 242.7,567.4 243.4,567.5 244.1,567.5 244.8,567.5 245.5,567.5 246.2,567.4 246.9,567.3 247.6,567.1 248.3,567.0 249.0,567.0 249.7,566.9 250.4,566.9 251.1,567.1 251.8,567.5 252.5,567.8 253.2,567.8 253.9,567.6 254.6,567.2 255.3,567.0 256.0,566.9 256.7,567.1 257.4,567.4 258.1,567.5 258.8,567.5 259.5,567.4 260.2,567.2 260.9,567.2 261.6,567.3 262.3,567.5 263.0,567.8 263.7,568.1 264.4,568.4 265.1,568.8 265.8,569.3 266.5,569.8 267.2,570.2 267.9,570.5 268.6,570.7 269.3,570.9 270.0,571.0 270.7,571.2 271.4,571.4 272.1,571.5 272.8,571.6 273.5,571.7 274.2,571.7 274.2,571.8" fill="#1b63a0" stroke="none" stroke-width="1"/>
<polygon points="93.8,571.8 93.8,585.5 94.5,594.6 95.2,611.1 95.9,636.8 96.6,661.7 97.3,645.4 98.0,626.4 98.7,608.3 99.4,593.0 100.1,584.9 100.8,584.6 101.5,585.8 102.2,586.8 102.9,587.2 103.6,587.2 104.3,587.5 105.0,588.2 105.7,588.9 106.4,589.2 107.1,589.2 107.8,589.5 108.5,590.2 109.2,591.3 109.9,592.5 110.6,593.3 111.3,593.7 112.0,594.4 112.7,595.5 113.4,596.8 114.1,598.6 114.8,600.4 115.5,601.8 116.2,603.0 116.9,603.8 117.6,604.1 118.3,603.7 119.0,601.8 119.7,598.4 120.4,594.2 121.1,590.7 121.8,589.1 122.5,589.6 123.2,591.5 123.9,594.4 124.6,597.8 125.3,601.0 126.0,603.5 126.7,604.9 127.4,604.4 128.1,602.5 128.8,601.2 129.5,601.0 130.2,601.8 130.9,603.7 131.6,605.2 132.3,605.2 133.0,604.1 133.7,601.9 134.4,599.7 135.1,599.4 135.8,600.8 136.5,602.6 137.2,604.0 137.9,604.3 138.6,603.8 139.3,603.5 140.0,603.3 140.7,601.5 141.4,598.0 142.1,594.3 142.8,591.1 143.5,588.4 144.2,586.0 144.9,584.2 145.6,583.6 146.3,583.4 147.0,583.3 147.7,582.8 148.4,582.2 149.1,581.7 149.8,581.4 150.5,581.5 151.2,581.4 151.9,581.0 152.6,580.7 153.3,580.4 154.0,580.0 154.7,579.5 155.4,578.9 156.1,578.4 156.8,578.3 157.5,578.6 158.2,578.9 158.9,578.9 159.6,578.9 160.3,578.8 161.0,578.7 161.7,578.7 162.4,578.5 163.1,578.1 163.8,577.5 164.5,577.1 165.2,576.8 165.9,576.7 166.6,576.6 167.3,576.5 168.0,576.4 168.7,576.5 169.4,576.8 170.1,577.1 170.8,577.2 171.5,577.1 172.2,576.9 172.9,576.7 173.6,576.6 174.3,576.6 175.0,576.9 175.7,577.2 176.4,577.3 177.1,577.1 177.8,576.9 178.5,576.7 179.2,576.7 179.9,576.8 180.6,577.1 181.3,577.4 182.0,577.7 182.7,577.8 183.4,577.8 184.1,577.8 184.8,577.6 185.5,577.3 186.2,576.7 186.9,576.1 187.6,575.7 188.3,575.8 189.0,576.2 189.7,576.6 190.4,576.9 191.1,577.0 191.8,576.8 192.5,576.6 193.2,576.5 193.9,576.6 194.6,576.8 195.3,577.0 196.0,577.0 196.7,576.7 197.4,576.4 198.1,576.2 198.8,576.0 199.5,576.0 200.2,576.0 200.9,576.0 201.6,576.0 202.3,576.1 203.0,576.1 203.7,576.2 204.4,576.2 205.1,576.3 205.8,576.3 206.5,576.4 207.2,576.4 207.9,576.4 208.6,576.4 209.3,576.4 210.0,576.4 210.7,576.4 211.4,576.3 212.1,576.2 212.8,576.0 213.5,576.0 214.2,576.0 214.9,576.0 215.6,576.0 216.3,576.0 217.0,576.1 217.7,576.2 218.4,576.1 219.1,575.8 219.8,575.5 220.5,575.2 221.2,575.2 221.9,575.4 222.6,575.5 223.3,575.6 224.0,575.7 224.7,575.9 225.4,576.0 226.1,576.2 226.8,576.4 227.5,576.4 228.2,576.4 228.9,576.2 229.6,576.0 230.3,576.0 231.0,576.0 231.7,576.2 232.4,576.3 233.1,576.4 233.8,576.4 234.5,576.3 235.2,576.0 235.9,575.7 236.6,575.4 237.3,575.3 238.0,575.1 238.7,575.0 239.4,574.8 240.1,574.7 240.8,574.9 241.5,575.1 242.2,575.2 242.9,575.3 243.6,575.4 244.3,575.5 245.0,575.6 245.7,575.6 246.4,575.6 247.1,575.6 247.8,575.7 248.5,575.7 249.2,575.8 249.9,575.8 250.6,575.9 251.3,575.9 252.0,575.9 252.7,575.8 253.4,575.8 254.1,575.7 254.8,575.6 255.5,575.4 256.2,575.4 256.9,575.4 257.6,575.6 258.3,575.6 259.0,575.5 259.7,575.2 260.4,574.9 261.1,575.0 261.8,575.1 262.5,575.3 263.2,575.2 263.9,574.9 264.6,574.5 265.3,574.1 266.0,573.8 266.7,573.4 267.4,573.1 268.1,572.7 268.8,572.4 268.8,571.8" fill="#1b63a0" stroke="none" stroke-width="1"/>
<polygon points="48.6,571.8 48.6,571.2 49.3,558.5 50.0,546.3 50.7,535.9 51.4,527.7 52.1,520.4 52.8,512.4 53.5,505.1 54.2,500.8 54.9,500.0 55.6,501.6 56.3,504.1 57.0,506.6 57.7,510.3 58.4,514.0 59.1,515.6 59.8,514.7 60.5,514.9 61.2,519.2 61.9,527.4 62.6,536.8 63.3,543.6 64.0,546.7 64.7,547.7 65.4,548.1 66.1,548.8 66.8,549.2 67.5,548.8 68.2,547.5 68.9,545.9 69.6,544.5 70.3,543.7 71.0,543.2 71.7,542.4 72.4,541.1 73.1,540.1 73.8,539.0 74.5,536.9 75.2,533.9 75.9,530.4 76.6,528.0 77.3,528.3 78.0,530.4 78.7,532.8 79.4,534.7 80.1,536.3 80.8,537.7 81.5,539.2 82.2,541.0 82.9,542.6 83.6,543.7 84.3,543.6 85.0,542.2 85.7,540.1 86.4,537.3 87.1,534.3 87.8,530.5 88.5,526.5 89.2,524.4 89.9,525.3 90.6,528.1 91.3,530.6 92.0,532.1 92.7,532.8 93.4,533.2 94.1,533.8 94.8,533.7 95.5,533.2 96.2,534.2 96.9,537.3 97.6,541.5 98.3,545.5 99.0,548.2 99.7,549.9 100.4,551.7 101.1,554.0 101.8,556.2 102.5,557.9 103.2,558.8 103.9,559.3 104.6,559.8 105.3,560.5 106.0,561.0 106.7,561.3 107.4,561.5 108.1,561.7 108.8,561.6 109.5,561.5 110.2,561.8 110.9,562.1 111.6,562.2 112.3,562.2 113.0,561.9 113.7,561.6 114.4,561.5 115.1,561.4 115.8,561.0 116.5,560.7 117.2,560.5 117.9,560.6 118.6,560.9 119.3,561.2 120.0,561.6 120.7,562.1 121.4,562.5 122.1,562.6 122.8,562.3 123.5,562.0 124.2,562.0 124.9,562.3 125.6,562.7 126.3,563.0 127.0,563.0 127.7,562.9 128.4,562.8 129.1,562.5 129.8,562.3 130.5,562.0 131.2,561.8 131.9,561.8 132.6,562.0 133.3,562.1 134.0,561.9 134.7,561.3 135.4,560.5 136.1,560.1 136.8,560.2 137.5,560.6 138.2,561.0 138.9,561.4 139.6,561.6 140.3,561.7 141.0,561.8 141.7,561.9 142.4,562.2 143.1,562.4 143.8,562.5 144.5,562.2 145.2,561.8 145.9,561.7 146.6,561.8 147.3,562.1 148.0,562.3 148.7,562.2 149.4,562.1 150.1,562.1 150.8,562.5 151.5,563.0 152.2,563.4 152.9,563.7 153.6,564.3 154.3,565.2 155.0,566.1 155.7,566.7 156.4,566.8 157.1,566.4 157.8,566.0 158.5,565.9 159.2,566.0 159.9,566.4 160.6,566.8 161.3,567.3 162.0,567.6 162.7,567.8 163.4,567.9 164.1,567.9 164.8,567.9 165.5,568.0 166.2,568.3 166.9,568.6 167.6,568.7 168.3,568.6 169.0,568.5 169.7,568.6 170.4,568.8 171.1,569.0 171.8,569.1 172.5,569.1 173.2,569.1 173.9,569.1 174.6,569.2 175.3,569.4 176.0,569.5 176.7,569.6 177.4,569.7 178.1,569.8 178.8,569.9 179.5,569.9 180.2,570.0 180.9,570.1 181.6,570.2 182.3,570.4 183.0,570.5 183.7,570.6 184.4,570.6 185.1,570.7 185.8,570.7 186.5,570.8 187.2,570.8 187.9,570.9 188.6,570.9 189.3,570.9 190.0,570.9 190.7,570.9 191.4,570.9 192.1,570.9 192.8,570.9 193.5,570.9 194.2,570.9 194.9,570.9 195.6,570.9 196.3,570.9 197.0,570.9 197.7,570.9 198.4,570.9 199.1,570.9 199.8,570.9 200.5,570.9 201.2,570.9 201.9,571.0 202.6,571.0 203.3,570.9 204.0,571.0 204.7,571.0 205.4,571.0 206.1,571.0 206.8,571.0 207.5,571.0 208.2,570.9 208.9,570.9 209.6,570.9 210.3,570.9 211.0,570.9 211.7,570.9 212.4,570.9 213.1,570.9 213.8,570.9 214.5,570.9 215.2,571.0 215.9,571.0 216.6,571.1 217.3,571.1 218.0,571.0 218.7,571.0 219.4,570.9 220.1,570.9 220.8,570.9 221.5,570.9 222.2,570.9 222.9,570.9 223.6,571.0 224.3,571.0 225.0,571.0 225.7,570.9 226.4,570.9 227.1,570.8 227.8,570.8 228.5,570.9 229.2,570.9 229.9,570.9 230.6,570.9 231.3,570.9 232.0,570.9 232.7,570.9 233.4,570.9 234.1,571.0 234.8,571.0 235.5,571.0 236.2,571.0 236.9,570.9 237.6,570.9 238.3,570.9 239.0,570.9 239.7,570.9 240.4,570.9 241.1,570.9 241.8,570.9 242.5,570.9 243.2,570.9 243.9,570.9 244.6,571.0 245.3,570.9 246.0,570.9 246.7,570.9 247.4,570.9 248.1,570.9 248.8,570.9 249.5,571.0 250.2,571.0 250.9,571.0 251.6,570.9 252.3,570.9 253.0,570.9 253.7,570.9 254.4,571.0 255.1,571.0 255.8,571.0 256.5,571.0 257.2,571.0 257.9,570.9 258.6,570.9 259.3,570.9 260.0,570.9 260.7,570.9 261.4,571.0 262.1,571.0 262.8,571.0 263.5,571.0 264.2,571.0 264.9,571.0 265.6,571.0 266.3,570.9 267.0,570.9 267.7,570.9 268.4,570.9 269.1,571.0 269.8,571.0 270.5,571.0 271.2,570.9 271.9,570.9 272.6,570.9 273.3,571.0 274.0,571.0 274.7,571.1 275.4,571.1 276.1,571.0 276.8,571.0 277.5,570.9 278.2,570.9 278.9,570.9 279.6,570.9 280.3,571.0 281.0,571.0 281.7,571.0 282.4,571.0 283.1,571.0 283.8,571.0 284.5,571.0 285.2,570.9 285.9,570.9 286.6,570.9 287.3,570.9 288.0,570.9 288.7,570.9 289.4,570.9 290.1,570.9 290.8,570.8 291.5,570.8 292.2,570.9 292.9,570.9 293.6,570.9 294.3,570.9 295.0,570.9 295.7,571.0 296.4,571.0 297.1,571.0 297.8,570.9 298.5,570.7 299.2,570.5 299.9,570.2 300.6,569.9 301.3,569.7 302.0,569.6 302.7,569.4 303.4,569.2 304.1,568.9 304.8,568.9 305.5,569.0 306.2,569.1 306.9,569.3 307.6,569.3 308.3,569.2 309.0,569.1 309.7,569.2 310.4,569.4 311.1,569.5 311.8,569.6 312.5,569.7 313.2,569.7 313.9,569.7 314.6,569.8 315.3,569.9 316.0,569.9 316.7,569.9 317.4,569.8 318.1,569.8 318.8,569.7 319.5,569.6 320.2,569.5 320.9,569.2 321.6,568.9 322.3,568.8 323.0,568.7 323.7,568.6 324.4,568.6 325.1,568.5 325.8,568.4 326.5,568.3 327.2,568.3 327.9,568.3 328.6,568.4 329.3,568.5 330.0,568.7 330.7,568.9 331.4,569.1 332.1,569.3 332.8,569.4 333.5,569.5 334.2,569.5 334.9,569.6 335.6,569.6 336.3,569.7 337.0,569.7 337.7,569.7 338.4,569.7 339.1,569.7 339.8,569.8 340.5,569.9 341.2,569.9 341.9,569.9 341.9,571.8" fill="#aed6ef" stroke="none" stroke-width="1"/>
<polygon points="48.6,571.8 48.6,604.8 49.3,609.7 50.0,614.7 50.7,620.4 51.4,626.0 52.1,629.7 52.8,632.5 53.5,635.5 54.2,639.3 54.9,643.9 55.6,647.8 56.3,649.4 57.0,648.4 57.7,645.9 58.4,641.5 59.1,634.8 59.8,628.1 60.5,621.3 61.2,614.0 61.9,607.3 62.6,602.7 63.3,600.5 64.0,600.0 64.7,600.5 65.4,600.6 66.1,599.0 66.8,596.6 67.5,594.5 68.2,593.2 68.9,592.6 69.6,592.6 70.3,593.2 71.0,594.9 71.7,597.9 72.4,601.5 73.1,604.4 73.8,606.1 74.5,606.7 75.2,607.6 75.9,609.7 76.6,612.9 77.3,615.5 78.0,616.5 78.7,615.1 79.4,611.8 80.1,607.7 80.8,604.1 81.5,601.4 82.2,599.5 82.9,598.4 83.6,598.0 84.3,598.1 85.0,599.4 85.7,601.5 86.4,603.0 87.1,603.8 87.8,604.4 88.5,605.7 89.2,608.2 89.9,611.4 90.6,614.0 91.3,615.6 92.0,616.9 92.7,617.8 93.4,618.0 94.1,618.0 94.8,617.5 95.5,616.4 96.2,614.7 96.9,611.9 97.6,608.0 98.3,602.7 99.0,595.2 99.7,588.3 100.4,585.0 101.1,584.3 101.8,583.7 102.5,583.2 103.2,582.7 103.9,582.2 104.6,581.8 105.3,581.9 106.0,582.3 106.7,582.6 107.4,582.8 108.1,583.1 108.8,583.3 109.5,583.4 110.2,583.3 110.9,583.0 111.6,582.8 112.3,582.8 113.0,583.0 113.7,583.1 114.4,583.0 115.1,582.7 115.8,582.3 116.5,581.9 117.2,581.7 117.9,581.6 118.6,581.6 119.3,581.5 120.0,581.6 120.7,581.8 121.4,582.0 122.1,581.9 122.8,581.5 123.5,581.0 124.2,580.6 124.9,580.6 125.6,580.9 126.3,581.3 127.0,581.6 127.7,581.6 128.4,581.7 129.1,581.9 129.8,582.0 130.5,582.0 131.2,582.0 131.9,582.0 132.6,582.1 133.3,582.0 134.0,581.6 134.7,580.9 135.4,580.4 136.1,580.1 136.8,579.9 137.5,579.8 138.2,579.8 138.9,579.7 139.6,579.5 140.3,579.2 141.0,578.8 141.7,578.7 142.4,578.8 143.1,579.0 143.8,578.9 144.5,578.7 145.2,578.4 145.9,578.3 146.6,578.3 147.3,578.3 148.0,578.3 148.7,578.3 149.4,578.2 150.1,578.2 150.8,578.1 151.5,577.9 152.2,577.5 152.9,577.2 153.6,577.0 154.3,577.0 155.0,576.9 155.7,576.8 156.4,576.4 157.1,576.0 157.8,575.8 158.5,575.7 159.2,575.7 159.9,575.7 160.6,575.5 161.3,575.2 162.0,575.0 162.7,574.9 163.4,574.8 164.1,574.8 164.8,574.7 165.5,574.5 166.2,574.4 166.9,574.4 167.6,574.5 168.3,574.4 169.0,574.2 169.7,574.1 170.4,574.1 171.1,574.2 171.8,574.2 172.5,574.2 173.2,574.1 173.9,573.8 174.6,573.6 175.3,573.5 176.0,573.4 176.7,573.4 177.4,573.5 178.1,573.5 178.8,573.6 179.5,573.7 180.2,573.7 180.9,573.7 181.6,573.6 182.3,573.6 183.0,573.5 183.7,573.5 184.4,573.5 185.1,573.5 185.8,573.5 186.5,573.5 187.2,573.4 187.9,573.4 188.6,573.4 189.3,573.4 190.0,573.4 190.7,573.4 191.4,573.4 192.1,573.3 192.8,573.3 193.5,573.2 194.2,573.2 194.9,573.2 195.6,573.3 196.3,573.3 197.0,573.3 197.7,573.3 198.4,573.2 199.1,573.2 199.8,573.1 200.5,573.1 201.2,573.1 201.9,573.2 202.6,573.2 203.3,573.2 204.0,573.2 204.7,573.2 205.4,573.2 206.1,573.2 206.8,573.1 207.5,573.1 208.2,573.1 208.9,573.1 209.6,573.1 210.3,573.1 211.0,573.0 211.7,573.0 212.4,573.1 213.1,573.1 213.8,573.1 214.5,573.0 215.2,573.0 215.9,573.0 216.6,573.0 217.3,573.1 218.0,573.1 218.7,573.1 219.4,573.1 220.1,573.1 220.8,573.0 221.5,573.0 222.2,573.0 222.9,572.9 223.6,572.9 224.3,572.9 225.0,572.8 225.7,572.9 226.4,572.9 227.1,573.0 227.8,573.0 228.5,573.0 229.2,573.0 229.9,573.0 230.6,573.0 231.3,573.0 232.0,573.0 232.7,572.9 233.4,572.9 234.1,572.9 234.8,572.9 235.5,572.9 236.2,572.9 236.9,572.9 237.6,572.9 238.3,572.9 239.0,572.9 239.7,572.9 240.4,572.9 241.1,572.9 241.8,572.9 242.5,572.8 243.2,572.8 243.9,572.9 244.6,572.9 245.3,572.9 246.0,572.9 246.7,572.9 247.4,572.9 248.1,572.9 248.8,572.9 249.5,572.8 250.2,572.8 250.9,572.8 251.6,572.9 252.3,572.9 253.0,572.9 253.7,572.9 254.4,572.8 255.1,572.8 255.8,572.7 256.5,572.7 257.2,572.7 257.9,572.7 258.6,572.8 259.3,572.8 260.0,572.8 260.7,572.8 261.4,572.8 262.1,572.9 262.8,572.9 263.5,573.0 264.2,572.9 264.9,572.9 265.6,572.8 266.3,572.7 267.0,572.7 267.7,572.7 268.4,572.7 269.1,572.7 269.8,572.7 270.5,572.8 271.2,572.8 271.9,572.8 272.6,572.7 273.3,572.7 274.0,572.7 274.7,572.7 275.4,572.7 276.1,572.7 276.8,572.8 277.5,572.8 278.2,572.9 278.9,572.9 279.6,572.9 280.3,572.8 281.0,572.8 281.7,572.8 282.4,572.8 283.1,572.8 283.8,572.8 284.5,572.8 285.2,572.7 285.9,572.7 286.6,572.7 287.3,572.8 288.0,572.9 288.7,572.9 289.4,572.9 290.1,572.8 290.8,572.8 291.5,572.8 292.2,572.8 292.9,572.8 293.6,572.7 294.3,572.7 295.0,572.7 295.7,572.7 296.4,572.7 297.1,572.8 297.8,572.9 298.5,573.0 299.2,573.1 299.9,573.2 300.6,573.3 301.3,573.4 302.0,573.5 302.7,573.7 303.4,573.8 304.1,574.0 304.8,574.0 305.5,574.0 306.2,573.9 306.9,573.8 307.6,573.7 308.3,573.7 309.0,573.7 309.7,573.7 310.4,573.6 311.1,573.6 311.8,573.5 312.5,573.5 313.2,573.4 313.9,573.4 314.6,573.4 315.3,573.3 316.0,573.3 316.7,573.3 317.4,573.3 318.1,573.3 318.8,573.3 319.5,573.3 320.2,573.4 320.9,573.4 321.6,573.5 322.3,573.6 323.0,573.6 323.7,573.7 324.4,573.7 325.1,573.8 325.8,574.0 326.5,574.1 327.2,574.3 327.9,574.4 328.6,574.4 329.3,574.4 330.0,574.3 330.7,574.1 331.4,574.0 332.1,573.9 332.8,573.9 333.5,573.9 334.2,573.9 334.9,573.8 335.6,573.8 336.3,573.8 337.0,573.8 337.7,573.8 338.4,573.7 339.1,573.5 339.8,573.3 340.5,573.2 341.2,573.1 341.9,573.1 341.9,571.8" fill="#aed6ef" stroke="none" stroke-width="1"/>
<path d="M48.6 392.6L342.3 392.6M48.6 571.8L342.3 571.8" stroke="#a0286a" stroke-width="1.3" fill="none" stroke-dasharray="6,2.5,1.5,2.5"/>
<path d="M195.3 303L195.3 661" stroke="#a0286a" stroke-width="1.1" fill="none" stroke-dasharray="5,2,1.5,2"/>
<rect x="48.60" y="303.00" width="293.70" height="178.90" fill="none" stroke="#333" stroke-width="1.1"/>
<path d="M44.6 464L48.6 464" stroke="#333" stroke-width="1.0" fill="none"/>
<text x="42.0" y="468.4" font-size="12.6" text-anchor="end" fill="#333">-100</text>
<path d="M44.6 428.3L48.6 428.3" stroke="#333" stroke-width="1.0" fill="none"/>
<text x="42.0" y="432.7" font-size="12.6" text-anchor="end" fill="#333">-50</text>
<path d="M44.6 392.6L48.6 392.6" stroke="#333" stroke-width="1.0" fill="none"/>
<text x="42.0" y="397.0" font-size="12.6" text-anchor="end" fill="#333">0</text>
<path d="M44.6 356.9L48.6 356.9" stroke="#333" stroke-width="1.0" fill="none"/>
<text x="42.0" y="361.3" font-size="12.6" text-anchor="end" fill="#333">50</text>
<path d="M44.6 321.2L48.6 321.2" stroke="#333" stroke-width="1.0" fill="none"/>
<text x="42.0" y="325.6" font-size="12.6" text-anchor="end" fill="#333">100</text>
<path d="M46.6 481.9L48.6 481.9M46.6 446.1L48.6 446.1M46.6 410.4L48.6 410.4M46.6 374.8L48.6 374.8M46.6 339.1L48.6 339.1M46.6 303.4L48.6 303.4M48.6 481.9L48.6 478.9M48.6 303L48.6 306M67 481.9L67 480.1M67 303L67 304.8M85.3 481.9L85.3 478.9M85.3 303L85.3 306M103.7 481.9L103.7 480.1M103.7 303L103.7 304.8M122 481.9L122 478.9M122 303L122 306M140.3 481.9L140.3 480.1M140.3 303L140.3 304.8M158.7 481.9L158.7 478.9M158.7 303L158.7 306M177.1 481.9L177.1 480.1M177.1 303L177.1 304.8M195.4 481.9L195.4 478.9M195.4 303L195.4 306M213.8 481.9L213.8 480.1M213.8 303L213.8 304.8M232.1 481.9L232.1 478.9M232.1 303L232.1 306M250.4 481.9L250.4 480.1M250.4 303L250.4 304.8M268.8 481.9L268.8 478.9M268.8 303L268.8 306M287.1 481.9L287.1 480.1M287.1 303L287.1 304.8M305.5 481.9L305.5 478.9M305.5 303L305.5 306M323.9 481.9L323.9 480.1M323.9 303L323.9 304.8M342.2 481.9L342.2 478.9M342.2 303L342.2 306" stroke="#333" stroke-width="0.8" fill="none"/>
<rect x="48.60" y="481.90" width="293.70" height="179.20" fill="none" stroke="#333" stroke-width="1.1"/>
<path d="M44.6 643.2L48.6 643.2" stroke="#333" stroke-width="1.0" fill="none"/>
<text x="42.0" y="647.6" font-size="12.6" text-anchor="end" fill="#333">-100</text>
<path d="M44.6 607.5L48.6 607.5" stroke="#333" stroke-width="1.0" fill="none"/>
<text x="42.0" y="611.9" font-size="12.6" text-anchor="end" fill="#333">-50</text>
<path d="M44.6 571.8L48.6 571.8" stroke="#333" stroke-width="1.0" fill="none"/>
<text x="42.0" y="576.2" font-size="12.6" text-anchor="end" fill="#333">0</text>
<path d="M44.6 536.1L48.6 536.1" stroke="#333" stroke-width="1.0" fill="none"/>
<text x="42.0" y="540.5" font-size="12.6" text-anchor="end" fill="#333">50</text>
<path d="M44.6 500.4L48.6 500.4" stroke="#333" stroke-width="1.0" fill="none"/>
<text x="42.0" y="504.8" font-size="12.6" text-anchor="end" fill="#333">100</text>
<path d="M46.6 661L48.6 661M46.6 625.4L48.6 625.4M46.6 589.6L48.6 589.6M46.6 554L48.6 554M46.6 518.2L48.6 518.2M46.6 482.6L48.6 482.6M48.6 661.1L48.6 658.1M48.6 481.9L48.6 484.9M67 661.1L67 659.3M67 481.9L67 483.7M85.3 661.1L85.3 658.1M85.3 481.9L85.3 484.9M103.7 661.1L103.7 659.3M103.7 481.9L103.7 483.7M122 661.1L122 658.1M122 481.9L122 484.9M140.3 661.1L140.3 659.3M140.3 481.9L140.3 483.7M158.7 661.1L158.7 658.1M158.7 481.9L158.7 484.9M177.1 661.1L177.1 659.3M177.1 481.9L177.1 483.7M195.4 661.1L195.4 658.1M195.4 481.9L195.4 484.9M213.8 661.1L213.8 659.3M213.8 481.9L213.8 483.7M232.1 661.1L232.1 658.1M232.1 481.9L232.1 484.9M250.4 661.1L250.4 659.3M250.4 481.9L250.4 483.7M268.8 661.1L268.8 658.1M268.8 481.9L268.8 484.9M287.1 661.1L287.1 659.3M287.1 481.9L287.1 483.7M305.5 661.1L305.5 658.1M305.5 481.9L305.5 484.9M323.9 661.1L323.9 659.3M323.9 481.9L323.9 483.7M342.2 661.1L342.2 658.1M342.2 481.9L342.2 484.9" stroke="#333" stroke-width="0.8" fill="none"/>
<text x="48.6" y="679.0" font-size="12.8" text-anchor="middle" fill="#333">-2.0</text>
<text x="85.3" y="679.0" font-size="12.8" text-anchor="middle" fill="#333">-1.5</text>
<text x="122.0" y="679.0" font-size="12.8" text-anchor="middle" fill="#333">-1.0</text>
<text x="158.7" y="679.0" font-size="12.8" text-anchor="middle" fill="#333">-0.5</text>
<text x="195.4" y="679.0" font-size="12.8" text-anchor="middle" fill="#333">0.0</text>
<text x="232.1" y="679.0" font-size="12.8" text-anchor="middle" fill="#333">0.5</text>
<text x="268.8" y="679.0" font-size="12.8" text-anchor="middle" fill="#333">1.0</text>
<text x="305.5" y="679.0" font-size="12.8" text-anchor="middle" fill="#333">1.5</text>
<text x="342.2" y="679.0" font-size="12.8" text-anchor="middle" fill="#333">2.0</text>
<text x="159.2" y="697.0" font-size="14" text-anchor="start" fill="#333" textLength="70.3" lengthAdjust="spacingAndGlyphs">Energy (eV)</text>
<text x="13.5" y="394.0" font-size="13.8" text-anchor="middle" fill="#333" transform="rotate(-90 13.5 394)" textLength="94.0" lengthAdjust="spacingAndGlyphs">Density of States</text>
<text x="13.5" y="572.0" font-size="13.8" text-anchor="middle" fill="#333" transform="rotate(-90 13.5 572)" textLength="94.0" lengthAdjust="spacingAndGlyphs">Density of States</text>
<text x="320.3" y="320.5" font-size="13.5" text-anchor="start" fill="#222" textLength="13.8" lengthAdjust="spacingAndGlyphs">Fe</text>
<text x="318.6" y="501.0" font-size="13.5" text-anchor="start" fill="#222" textLength="16.4" lengthAdjust="spacingAndGlyphs">Cu</text>
<rect x="88.20" y="334.70" width="26.50" height="13.00" fill="#c9503a" stroke="none" stroke-width="1"/>
<text x="117.3" y="345.5" font-size="11" text-anchor="start" fill="#222" textLength="55.6" lengthAdjust="spacingAndGlyphs"><tspan>Cu</tspan><tspan dy="3.3" font-size="7.2">8</tspan><tspan dy="-3.3">Fe</tspan><tspan dy="3.3" font-size="7.2">2</tspan><tspan dy="-3.3"> NCs</tspan></text>
<rect x="178.80" y="334.70" width="26.00" height="13.00" fill="#1b63a0" stroke="none" stroke-width="1"/>
<text x="207.4" y="345.5" font-size="11" text-anchor="start" fill="#222" textLength="56.0" lengthAdjust="spacingAndGlyphs"><tspan>Cu</tspan><tspan dy="3.3" font-size="7.2">2</tspan><tspan dy="-3.3">Fe</tspan><tspan dy="3.3" font-size="7.2">8</tspan><tspan dy="-3.3"> NCs</tspan></text>
<rect x="269.30" y="334.70" width="25.80" height="13.00" fill="#aed6ef" stroke="none" stroke-width="1"/>
<text x="297.9" y="345.5" font-size="11" text-anchor="start" fill="#222" textLength="27.4" lengthAdjust="spacingAndGlyphs"><tspan>Fe</tspan><tspan dy="3.3" font-size="7.2">3</tspan><tspan dy="-3.3">O</tspan><tspan dy="3.3" font-size="7.2">4</tspan></text>
<rect x="94.20" y="513.00" width="24.80" height="12.50" fill="#c9503a" stroke="none" stroke-width="1"/>
<text x="120.7" y="522.9" font-size="11" text-anchor="start" fill="#222" textLength="57.8" lengthAdjust="spacingAndGlyphs"><tspan>Cu</tspan><tspan dy="3.3" font-size="7.2">8</tspan><tspan dy="-3.3">Fe</tspan><tspan dy="3.3" font-size="7.2">2</tspan><tspan dy="-3.3"> NCs</tspan></text>
<rect x="184.00" y="513.00" width="25.00" height="12.50" fill="#1b63a0" stroke="none" stroke-width="1"/>
<text x="211.6" y="522.9" font-size="11" text-anchor="start" fill="#222" textLength="56.8" lengthAdjust="spacingAndGlyphs"><tspan>Cu</tspan><tspan dy="3.3" font-size="7.2">2</tspan><tspan dy="-3.3">Fe</tspan><tspan dy="3.3" font-size="7.2">8</tspan><tspan dy="-3.3"> NCs</tspan></text>
<rect x="274.40" y="513.00" width="24.80" height="12.50" fill="#aed6ef" stroke="none" stroke-width="1"/>
<text x="302.5" y="522.9" font-size="11" text-anchor="start" fill="#222" textLength="21.5" lengthAdjust="spacingAndGlyphs">CuO</text>
<path d="M607.7 230.1L601 236.6M601 236.6L594.4 243M607.7 230.1L614.3 236.6M607.7 230.1L607.7 236.6M634.2 230.1L627.6 236.6M634.2 230.1L640.9 236.6M634.2 230.1L634.2 236.6M660.8 230.1L654.1 236.6M660.8 230.1L667.4 236.6M660.8 230.1L660.8 236.6M687.3 230.1L680.6 236.6M687.3 230.1L693.9 236.6M687.3 230.1L687.3 236.6M713.8 230.1L707.2 236.6M713.8 230.1L720.5 236.6M720.5 236.6L727.1 243M713.8 230.1L713.8 236.6M594.4 243L601 243M720.5 243L727.1 243M607.7 256L601 249.5M601 249.5L594.4 243M607.7 256L601 262.4M601 262.4L594.4 268.9M607.7 256L614.3 249.5M607.7 256L614.3 262.4M614.3 262.4L620.9 268.9M607.7 256L607.7 249.5M607.7 256L607.7 262.4M634.2 256L627.6 249.5M634.2 256L627.6 262.4M627.6 262.4L620.9 268.9M634.2 256L640.9 249.5M634.2 256L640.9 262.4M640.9 262.4L647.5 268.9M634.2 256L634.2 249.5M634.2 256L634.2 262.4M660.8 256L654.1 249.5M660.8 256L654.1 262.4M654.1 262.4L647.5 268.9M660.8 256L667.4 249.5M660.8 256L667.4 262.4M667.4 262.4L674 268.9M660.8 256L660.8 249.5M660.8 256L660.8 262.4M687.3 256L680.6 249.5M687.3 256L680.6 262.4M680.6 262.4L674 268.9M687.3 256L693.9 249.5M687.3 256L693.9 262.4M693.9 262.4L700.6 268.9M687.3 256L687.3 249.5M687.3 256L687.3 262.4M713.8 256L707.2 249.5M713.8 256L707.2 262.4M707.2 262.4L700.6 268.9M713.8 256L720.5 249.5M720.5 249.5L727.1 243M713.8 256L720.5 262.4M720.5 262.4L727.1 268.9M713.8 256L713.8 249.5M713.8 256L713.8 262.4M594.4 268.9L601 268.9M614.3 268.9L620.9 268.9M620.9 268.9L627.6 268.9M640.9 268.9L647.5 268.9M647.5 268.9L654.1 268.9M667.4 268.9L674 268.9M674 268.9L680.6 268.9M693.9 268.9L700.6 268.9M700.6 268.9L707.2 268.9M720.5 268.9L727.1 268.9M607.7 281.8L601 275.4M601 275.4L594.4 268.9M607.7 281.8L601 288.3M601 288.3L594.4 294.8M607.7 281.8L614.3 275.4M614.3 275.4L620.9 268.9M607.7 281.8L614.3 288.3M607.7 281.8L607.7 275.4M607.7 281.8L607.7 288.3M634.2 281.8L627.6 275.4M627.6 275.4L620.9 268.9M634.2 281.8L627.6 288.3M634.2 281.8L640.9 275.4M640.9 275.4L647.5 268.9M634.2 281.8L640.9 288.3M634.2 281.8L634.2 275.4M634.2 281.8L634.2 288.3M660.8 281.8L654.1 275.4M654.1 275.4L647.5 268.9M660.8 281.8L654.1 288.3M660.8 281.8L667.4 275.4M667.4 275.4L674 268.9M660.8 281.8L667.4 288.3M660.8 281.8L660.8 275.4M660.8 281.8L660.8 288.3M687.3 281.8L680.6 275.4M680.6 275.4L674 268.9M687.3 281.8L680.6 288.3M687.3 281.8L693.9 275.4M693.9 275.4L700.6 268.9M687.3 281.8L693.9 288.3M687.3 281.8L687.3 275.4M687.3 281.8L687.3 288.3M713.8 281.8L707.2 275.4M707.2 275.4L700.6 268.9M713.8 281.8L707.2 288.3M713.8 281.8L720.5 275.4M720.5 275.4L727.1 268.9M713.8 281.8L720.5 288.3M720.5 288.3L727.1 294.8M713.8 281.8L713.8 275.4M713.8 281.8L713.8 288.3M594.4 294.8L601 294.8M720.5 294.8L727.1 294.8M607.7 307.7L601 301.2M601 301.2L594.4 294.8M607.7 307.7L601 314.1M601 314.1L594.4 320.6M607.7 307.7L614.3 301.2M607.7 307.7L614.3 314.1M614.3 314.1L620.9 320.6M607.7 307.7L607.7 301.2M607.7 307.7L607.7 314.1M634.2 307.7L627.6 301.2M634.2 307.7L627.6 314.1M627.6 314.1L620.9 320.6M634.2 307.7L640.9 301.2M634.2 307.7L640.9 314.1M640.9 314.1L647.5 320.6M634.2 307.7L634.2 301.2M634.2 307.7L634.2 314.1M660.8 307.7L654.1 301.2M660.8 307.7L654.1 314.1M654.1 314.1L647.5 320.6M660.8 307.7L667.4 301.2M660.8 307.7L667.4 314.1M667.4 314.1L674 320.6M660.8 307.7L660.8 301.2M660.8 307.7L660.8 314.1M687.3 307.7L680.6 301.2M687.3 307.7L680.6 314.1M680.6 314.1L674 320.6M687.3 307.7L693.9 301.2M687.3 307.7L693.9 314.1M693.9 314.1L700.6 320.6M687.3 307.7L687.3 301.2M687.3 307.7L687.3 314.1M713.8 307.7L707.2 301.2M713.8 307.7L707.2 314.1M707.2 314.1L700.6 320.6M713.8 307.7L720.5 301.2M720.5 301.2L727.1 294.8M713.8 307.7L720.5 314.1M720.5 314.1L727.1 320.6M713.8 307.7L713.8 301.2M713.8 307.7L713.8 314.1M594.4 320.6L601 320.6M614.3 320.6L620.9 320.6M620.9 320.6L627.6 320.6M640.9 320.6L647.5 320.6M647.5 320.6L654.1 320.6M667.4 320.6L674 320.6M674 320.6L680.6 320.6M693.9 320.6L700.6 320.6M700.6 320.6L707.2 320.6M720.5 320.6L727.1 320.6M607.7 333.5L601 327.1M601 327.1L594.4 320.6M607.7 333.5L601 340M601 340L594.4 346.5M607.7 333.5L614.3 327.1M614.3 327.1L620.9 320.6M607.7 333.5L614.3 340M607.7 333.5L607.7 327.1M607.7 333.5L607.7 340M634.2 333.5L627.6 327.1M627.6 327.1L620.9 320.6M634.2 333.5L627.6 340M634.2 333.5L640.9 327.1M640.9 327.1L647.5 320.6M634.2 333.5L640.9 340M634.2 333.5L634.2 327.1M634.2 333.5L634.2 340M660.8 333.5L654.1 327.1M654.1 327.1L647.5 320.6M660.8 333.5L654.1 340M660.8 333.5L667.4 327.1M667.4 327.1L674 320.6M660.8 333.5L667.4 340M660.8 333.5L660.8 327.1M660.8 333.5L660.8 340M687.3 333.5L680.6 327.1M680.6 327.1L674 320.6M687.3 333.5L680.6 340M687.3 333.5L693.9 327.1M693.9 327.1L700.6 320.6M687.3 333.5L693.9 340M687.3 333.5L687.3 327.1M687.3 333.5L687.3 340M713.8 333.5L707.2 327.1M707.2 327.1L700.6 320.6M713.8 333.5L707.2 340M713.8 333.5L720.5 327.1M720.5 327.1L727.1 320.6M713.8 333.5L720.5 340M720.5 340L727.1 346.5M713.8 333.5L713.8 327.1M713.8 333.5L713.8 340M594.4 346.5L601 346.5M720.5 346.5L727.1 346.5M607.7 359.4L601 352.9M601 352.9L594.4 346.5M607.7 359.4L614.3 352.9M607.7 359.4L607.7 352.9M634.2 359.4L627.6 352.9M634.2 359.4L640.9 352.9M634.2 359.4L634.2 352.9M660.8 359.4L654.1 352.9M660.8 359.4L667.4 352.9M660.8 359.4L660.8 352.9M687.3 359.4L680.6 352.9M687.3 359.4L693.9 352.9M687.3 359.4L687.3 352.9M713.8 359.4L707.2 352.9M713.8 359.4L720.5 352.9M720.5 352.9L727.1 346.5M713.8 359.4L713.8 352.9" stroke="#d83a3a" stroke-width="1.7" fill="none"/>
<path d="M614.3 236.6L620.9 243M627.6 236.6L620.9 243M640.9 236.6L647.5 243M654.1 236.6L647.5 243M667.4 236.6L674 243M680.6 236.6L674 243M693.9 236.6L700.6 243M707.2 236.6L700.6 243M614.3 243L620.9 243M620.9 243L627.6 243M640.9 243L647.5 243M647.5 243L654.1 243M667.4 243L674 243M674 243L680.6 243M693.9 243L700.6 243M700.6 243L707.2 243M614.3 249.5L620.9 243M627.6 249.5L620.9 243M640.9 249.5L647.5 243M634.2 262.4L634.2 268.9M654.1 249.5L647.5 243M667.4 249.5L674 243M680.6 249.5L674 243M693.9 249.5L700.6 243M687.3 262.4L687.3 268.9M707.2 249.5L700.6 243M627.6 268.9L634.2 268.9M634.2 268.9L640.9 268.9M680.6 268.9L687.3 268.9M687.3 268.9L693.9 268.9M614.3 288.3L620.9 294.8M627.6 288.3L620.9 294.8M640.9 288.3L647.5 294.8M634.2 275.4L634.2 268.9M654.1 288.3L647.5 294.8M667.4 288.3L674 294.8M680.6 288.3L674 294.8M693.9 288.3L700.6 294.8M687.3 275.4L687.3 268.9M707.2 288.3L700.6 294.8M614.3 294.8L620.9 294.8M620.9 294.8L627.6 294.8M640.9 294.8L647.5 294.8M647.5 294.8L654.1 294.8M667.4 294.8L674 294.8M674 294.8L680.6 294.8M693.9 294.8L700.6 294.8M700.6 294.8L707.2 294.8M614.3 301.2L620.9 294.8M627.6 301.2L620.9 294.8M640.9 301.2L647.5 294.8M634.2 314.1L634.2 320.6M654.1 301.2L647.5 294.8M667.4 301.2L674 294.8M680.6 301.2L674 294.8M693.9 301.2L700.6 294.8M687.3 314.1L687.3 320.6M707.2 301.2L700.6 294.8M627.6 320.6L634.2 320.6M634.2 320.6L640.9 320.6M680.6 320.6L687.3 320.6M687.3 320.6L693.9 320.6M614.3 340L620.9 346.5M627.6 340L620.9 346.5M640.9 340L647.5 346.5M634.2 327.1L634.2 320.6M654.1 340L647.5 346.5M667.4 340L674 346.5M680.6 340L674 346.5M693.9 340L700.6 346.5M687.3 327.1L687.3 320.6M707.2 340L700.6 346.5M614.3 346.5L620.9 346.5M620.9 346.5L627.6 346.5M640.9 346.5L647.5 346.5M647.5 346.5L654.1 346.5M667.4 346.5L674 346.5M674 346.5L680.6 346.5M693.9 346.5L700.6 346.5M700.6 346.5L707.2 346.5M614.3 352.9L620.9 346.5M627.6 352.9L620.9 346.5M640.9 352.9L647.5 346.5M654.1 352.9L647.5 346.5M667.4 352.9L674 346.5M680.6 352.9L674 346.5M693.9 352.9L700.6 346.5M707.2 352.9L700.6 346.5" stroke="#4262b4" stroke-width="1.7" fill="none"/>
<path d="M607.7 236.6L607.7 243M634.2 236.6L634.2 243M660.8 236.6L660.8 243M687.3 236.6L687.3 243M713.8 236.6L713.8 243M601 243L607.7 243M607.7 243L614.3 243M627.6 243L634.2 243M634.2 243L640.9 243M654.1 243L660.8 243M660.8 243L667.4 243M680.6 243L687.3 243M687.3 243L693.9 243M707.2 243L713.8 243M713.8 243L720.5 243M607.7 249.5L607.7 243M607.7 262.4L607.7 268.9M634.2 249.5L634.2 243M660.8 249.5L660.8 243M660.8 262.4L660.8 268.9M687.3 249.5L687.3 243M713.8 249.5L713.8 243M713.8 262.4L713.8 268.9M601 268.9L607.7 268.9M607.7 268.9L614.3 268.9M654.1 268.9L660.8 268.9M660.8 268.9L667.4 268.9M707.2 268.9L713.8 268.9M713.8 268.9L720.5 268.9M607.7 275.4L607.7 268.9M607.7 288.3L607.7 294.8M634.2 288.3L634.2 294.8M660.8 275.4L660.8 268.9M660.8 288.3L660.8 294.8M687.3 288.3L687.3 294.8M713.8 275.4L713.8 268.9M713.8 288.3L713.8 294.8M601 294.8L607.7 294.8M607.7 294.8L614.3 294.8M627.6 294.8L634.2 294.8M634.2 294.8L640.9 294.8M654.1 294.8L660.8 294.8M660.8 294.8L667.4 294.8M680.6 294.8L687.3 294.8M687.3 294.8L693.9 294.8M707.2 294.8L713.8 294.8M713.8 294.8L720.5 294.8M607.7 301.2L607.7 294.8M607.7 314.1L607.7 320.6M634.2 301.2L634.2 294.8M660.8 301.2L660.8 294.8M660.8 314.1L660.8 320.6M687.3 301.2L687.3 294.8M713.8 301.2L713.8 294.8M713.8 314.1L713.8 320.6M601 320.6L607.7 320.6M607.7 320.6L614.3 320.6M654.1 320.6L660.8 320.6M660.8 320.6L667.4 320.6M707.2 320.6L713.8 320.6M713.8 320.6L720.5 320.6M607.7 327.1L607.7 320.6M607.7 340L607.7 346.5M634.2 340L634.2 346.5M660.8 327.1L660.8 320.6M660.8 340L660.8 346.5M687.3 340L687.3 346.5M713.8 327.1L713.8 320.6M713.8 340L713.8 346.5M601 346.5L607.7 346.5M607.7 346.5L614.3 346.5M627.6 346.5L634.2 346.5M634.2 346.5L640.9 346.5M654.1 346.5L660.8 346.5M660.8 346.5L667.4 346.5M680.6 346.5L687.3 346.5M687.3 346.5L693.9 346.5M707.2 346.5L713.8 346.5M713.8 346.5L720.5 346.5M607.7 352.9L607.7 346.5M634.2 352.9L634.2 346.5M660.8 352.9L660.8 346.5M687.3 352.9L687.3 346.5M713.8 352.9L713.8 346.5" stroke="#b8903a" stroke-width="1.7" fill="none"/>
<circle cx="634.2" cy="256.0" r="4.4" fill="url(#eCu)"/>
<circle cx="687.3" cy="256.0" r="4.4" fill="url(#eCu)"/>
<circle cx="620.9" cy="268.9" r="4.4" fill="url(#eCu)"/>
<circle cx="647.5" cy="268.9" r="4.4" fill="url(#eCu)"/>
<circle cx="674.0" cy="268.9" r="4.4" fill="url(#eCu)"/>
<circle cx="700.6" cy="268.9" r="4.4" fill="url(#eCu)"/>
<circle cx="634.2" cy="281.8" r="4.4" fill="url(#eCu)"/>
<circle cx="687.3" cy="281.8" r="4.4" fill="url(#eCu)"/>
<circle cx="634.2" cy="307.7" r="4.4" fill="url(#eCu)"/>
<circle cx="687.3" cy="307.7" r="4.4" fill="url(#eCu)"/>
<circle cx="620.9" cy="320.6" r="4.4" fill="url(#eCu)"/>
<circle cx="647.5" cy="320.6" r="4.4" fill="url(#eCu)"/>
<circle cx="674.0" cy="320.6" r="4.4" fill="url(#eCu)"/>
<circle cx="700.6" cy="320.6" r="4.4" fill="url(#eCu)"/>
<circle cx="634.2" cy="333.5" r="4.4" fill="url(#eCu)"/>
<circle cx="687.3" cy="333.5" r="4.4" fill="url(#eCu)"/>
<circle cx="607.7" cy="230.1" r="2.7" fill="url(#eO)"/>
<circle cx="634.2" cy="230.1" r="2.7" fill="url(#eO)"/>
<circle cx="660.8" cy="230.1" r="2.7" fill="url(#eO)"/>
<circle cx="687.3" cy="230.1" r="2.7" fill="url(#eO)"/>
<circle cx="713.8" cy="230.1" r="2.7" fill="url(#eO)"/>
<circle cx="594.4" cy="243.0" r="2.7" fill="url(#eO)"/>
<circle cx="607.7" cy="243.0" r="4.5" fill="url(#eFe)"/>
<circle cx="620.9" cy="243.0" r="4.4" fill="url(#eCu)"/>
<circle cx="634.2" cy="243.0" r="4.5" fill="url(#eFe)"/>
<circle cx="647.5" cy="243.0" r="4.4" fill="url(#eCu)"/>
<circle cx="660.8" cy="243.0" r="4.5" fill="url(#eFe)"/>
<circle cx="674.0" cy="243.0" r="4.4" fill="url(#eCu)"/>
<circle cx="687.3" cy="243.0" r="4.5" fill="url(#eFe)"/>
<circle cx="700.6" cy="243.0" r="4.4" fill="url(#eCu)"/>
<circle cx="713.8" cy="243.0" r="4.5" fill="url(#eFe)"/>
<circle cx="727.1" cy="243.0" r="2.7" fill="url(#eO)"/>
<circle cx="607.7" cy="256.0" r="2.7" fill="url(#eO)"/>
<circle cx="634.2" cy="256.0" r="2.9" fill="url(#eO)"/>
<circle cx="660.8" cy="256.0" r="2.7" fill="url(#eO)"/>
<circle cx="687.3" cy="256.0" r="2.9" fill="url(#eO)"/>
<circle cx="713.8" cy="256.0" r="2.7" fill="url(#eO)"/>
<circle cx="594.4" cy="268.9" r="2.7" fill="url(#eO)"/>
<circle cx="607.7" cy="268.9" r="4.5" fill="url(#eFe)"/>
<circle cx="620.9" cy="268.9" r="2.9" fill="url(#eO)"/>
<circle cx="634.2" cy="268.9" r="4.4" fill="url(#eCu)"/>
<circle cx="647.5" cy="268.9" r="2.9" fill="url(#eO)"/>
<circle cx="660.8" cy="268.9" r="4.5" fill="url(#eFe)"/>
<circle cx="674.0" cy="268.9" r="2.9" fill="url(#eO)"/>
<circle cx="687.3" cy="268.9" r="4.4" fill="url(#eCu)"/>
<circle cx="700.6" cy="268.9" r="2.9" fill="url(#eO)"/>
<circle cx="713.8" cy="268.9" r="4.5" fill="url(#eFe)"/>
<circle cx="727.1" cy="268.9" r="2.7" fill="url(#eO)"/>
<circle cx="607.7" cy="281.8" r="2.7" fill="url(#eO)"/>
<circle cx="634.2" cy="281.8" r="2.9" fill="url(#eO)"/>
<circle cx="660.8" cy="281.8" r="2.7" fill="url(#eO)"/>
<circle cx="687.3" cy="281.8" r="2.9" fill="url(#eO)"/>
<circle cx="713.8" cy="281.8" r="2.7" fill="url(#eO)"/>
<circle cx="594.4" cy="294.8" r="2.7" fill="url(#eO)"/>
<circle cx="607.7" cy="294.8" r="4.5" fill="url(#eFe)"/>
<circle cx="620.9" cy="294.8" r="4.4" fill="url(#eCu)"/>
<circle cx="634.2" cy="294.8" r="4.5" fill="url(#eFe)"/>
<circle cx="647.5" cy="294.8" r="4.4" fill="url(#eCu)"/>
<circle cx="660.8" cy="294.8" r="4.5" fill="url(#eFe)"/>
<circle cx="674.0" cy="294.8" r="4.4" fill="url(#eCu)"/>
<circle cx="687.3" cy="294.8" r="4.5" fill="url(#eFe)"/>
<circle cx="700.6" cy="294.8" r="4.4" fill="url(#eCu)"/>
<circle cx="713.8" cy="294.8" r="4.5" fill="url(#eFe)"/>
<circle cx="727.1" cy="294.8" r="2.7" fill="url(#eO)"/>
<circle cx="607.7" cy="307.7" r="2.7" fill="url(#eO)"/>
<circle cx="634.2" cy="307.7" r="2.9" fill="url(#eO)"/>
<circle cx="660.8" cy="307.7" r="2.7" fill="url(#eO)"/>
<circle cx="687.3" cy="307.7" r="2.9" fill="url(#eO)"/>
<circle cx="713.8" cy="307.7" r="2.7" fill="url(#eO)"/>
<circle cx="594.4" cy="320.6" r="2.7" fill="url(#eO)"/>
<circle cx="607.7" cy="320.6" r="4.5" fill="url(#eFe)"/>
<circle cx="620.9" cy="320.6" r="2.9" fill="url(#eO)"/>
<circle cx="634.2" cy="320.6" r="4.4" fill="url(#eCu)"/>
<circle cx="647.5" cy="320.6" r="2.9" fill="url(#eO)"/>
<circle cx="660.8" cy="320.6" r="4.5" fill="url(#eFe)"/>
<circle cx="674.0" cy="320.6" r="2.9" fill="url(#eO)"/>
<circle cx="687.3" cy="320.6" r="4.4" fill="url(#eCu)"/>
<circle cx="700.6" cy="320.6" r="2.9" fill="url(#eO)"/>
<circle cx="713.8" cy="320.6" r="4.5" fill="url(#eFe)"/>
<circle cx="727.1" cy="320.6" r="2.7" fill="url(#eO)"/>
<circle cx="607.7" cy="333.5" r="2.7" fill="url(#eO)"/>
<circle cx="634.2" cy="333.5" r="2.9" fill="url(#eO)"/>
<circle cx="660.8" cy="333.5" r="2.7" fill="url(#eO)"/>
<circle cx="687.3" cy="333.5" r="2.9" fill="url(#eO)"/>
<circle cx="713.8" cy="333.5" r="2.7" fill="url(#eO)"/>
<circle cx="594.4" cy="346.5" r="2.7" fill="url(#eO)"/>
<circle cx="607.7" cy="346.5" r="4.5" fill="url(#eFe)"/>
<circle cx="620.9" cy="346.5" r="4.4" fill="url(#eCu)"/>
<circle cx="634.2" cy="346.5" r="4.5" fill="url(#eFe)"/>
<circle cx="647.5" cy="346.5" r="4.4" fill="url(#eCu)"/>
<circle cx="660.8" cy="346.5" r="4.5" fill="url(#eFe)"/>
<circle cx="674.0" cy="346.5" r="4.4" fill="url(#eCu)"/>
<circle cx="687.3" cy="346.5" r="4.5" fill="url(#eFe)"/>
<circle cx="700.6" cy="346.5" r="4.4" fill="url(#eCu)"/>
<circle cx="713.8" cy="346.5" r="4.5" fill="url(#eFe)"/>
<circle cx="727.1" cy="346.5" r="2.7" fill="url(#eO)"/>
<circle cx="607.7" cy="359.4" r="2.7" fill="url(#eO)"/>
<circle cx="634.2" cy="359.4" r="2.7" fill="url(#eO)"/>
<circle cx="660.8" cy="359.4" r="2.7" fill="url(#eO)"/>
<circle cx="687.3" cy="359.4" r="2.7" fill="url(#eO)"/>
<circle cx="713.8" cy="359.4" r="2.7" fill="url(#eO)"/>
<ellipse cx="645.0" cy="296.0" rx="8.0" ry="12.0" fill="#48c4d4" fill-opacity="0.9"/>
<ellipse cx="660.5" cy="320.0" rx="22.0" ry="7.5" fill="#d8d84a" fill-opacity="0.85"/>
<ellipse cx="660.5" cy="318.0" rx="8.5" ry="21.0" fill="#d8d84a" fill-opacity="0.85"/>
<ellipse cx="661.0" cy="337.0" rx="7.5" ry="4.5" fill="#48c4d4" fill-opacity="0.9"/>
<ellipse cx="634.5" cy="281.0" rx="8.0" ry="6.0" fill="#d8d84a" fill-opacity="0.85"/>
<ellipse cx="634.5" cy="304.0" rx="6.0" ry="7.0" fill="#d8d84a" fill-opacity="0.85"/>
<ellipse cx="658.5" cy="281.0" rx="6.5" ry="6.0" fill="#d8d84a" fill-opacity="0.85"/>
<ellipse cx="659.5" cy="267.0" rx="5.5" ry="4.0" fill="#d8d84a" fill-opacity="0.85"/>
<ellipse cx="649.9" cy="300.6" rx="2.3" ry="2.7" fill="#40b8d0" fill-opacity="0.88" stroke="#8a9a40" stroke-opacity="0.35" stroke-width="0.4"/>
<ellipse cx="640.1" cy="294.2" rx="2.1" ry="2.5" fill="#40b8d0" fill-opacity="0.88" stroke="#8a9a40" stroke-opacity="0.35" stroke-width="0.4"/>
<ellipse cx="638.6" cy="296.9" rx="2.7" ry="3.1" fill="#40b8d0" fill-opacity="0.88" stroke="#8a9a40" stroke-opacity="0.35" stroke-width="0.4"/>
<ellipse cx="642.9" cy="291.1" rx="2.1" ry="2.1" fill="#48c4d4" fill-opacity="0.88" stroke="#8a9a40" stroke-opacity="0.35" stroke-width="0.4"/>
<ellipse cx="649.6" cy="290.5" rx="3.8" ry="3.9" fill="#40b8d0" fill-opacity="0.88" stroke="#8a9a40" stroke-opacity="0.35" stroke-width="0.4"/>
<ellipse cx="645.7" cy="282.4" rx="2.6" ry="2.1" fill="#40b8d0" fill-opacity="0.88" stroke="#8a9a40" stroke-opacity="0.35" stroke-width="0.4"/>
<ellipse cx="640.8" cy="294.5" rx="4.3" ry="3.3" fill="#58cce0" fill-opacity="0.88" stroke="#8a9a40" stroke-opacity="0.35" stroke-width="0.4"/>
<ellipse cx="640.3" cy="286.2" rx="2.8" ry="3.2" fill="#58cce0" fill-opacity="0.88" stroke="#8a9a40" stroke-opacity="0.35" stroke-width="0.4"/>
<ellipse cx="643.1" cy="282.7" rx="2.5" ry="2.2" fill="#58cce0" fill-opacity="0.88" stroke="#8a9a40" stroke-opacity="0.35" stroke-width="0.4"/>
<ellipse cx="650.6" cy="291.7" rx="3.5" ry="2.5" fill="#e0dc50" fill-opacity="0.88" stroke="#8a9a40" stroke-opacity="0.35" stroke-width="0.4"/>
<ellipse cx="645.3" cy="302.8" rx="2.9" ry="3.6" fill="#48c4d4" fill-opacity="0.88" stroke="#8a9a40" stroke-opacity="0.35" stroke-width="0.4"/>
<ellipse cx="646.1" cy="283.7" rx="3.3" ry="3.8" fill="#58cce0" fill-opacity="0.88" stroke="#8a9a40" stroke-opacity="0.35" stroke-width="0.4"/>
<ellipse cx="640.0" cy="292.1" rx="3.2" ry="2.8" fill="#48c4d4" fill-opacity="0.88" stroke="#8a9a40" stroke-opacity="0.35" stroke-width="0.4"/>
<ellipse cx="648.6" cy="286.0" rx="2.4" ry="2.4" fill="#58cce0" fill-opacity="0.88" stroke="#8a9a40" stroke-opacity="0.35" stroke-width="0.4"/>
<ellipse cx="652.0" cy="291.9" rx="2.6" ry="2.6" fill="#58cce0" fill-opacity="0.88" stroke="#8a9a40" stroke-opacity="0.35" stroke-width="0.4"/>
<ellipse cx="650.8" cy="290.5" rx="3.6" ry="3.9" fill="#40b8d0" fill-opacity="0.88" stroke="#8a9a40" stroke-opacity="0.35" stroke-width="0.4"/>
<ellipse cx="644.4" cy="286.2" rx="4.4" ry="5.5" fill="#e8a040" fill-opacity="0.88" stroke="#8a9a40" stroke-opacity="0.35" stroke-width="0.4"/>
<ellipse cx="642.1" cy="292.7" rx="3.1" ry="2.2" fill="#48c4d4" fill-opacity="0.88" stroke="#8a9a40" stroke-opacity="0.35" stroke-width="0.4"/>
<ellipse cx="649.1" cy="286.9" rx="3.0" ry="3.6" fill="#58cce0" fill-opacity="0.88" stroke="#8a9a40" stroke-opacity="0.35" stroke-width="0.4"/>
<ellipse cx="644.7" cy="293.2" rx="2.8" ry="3.0" fill="#58cce0" fill-opacity="0.88" stroke="#8a9a40" stroke-opacity="0.35" stroke-width="0.4"/>
<ellipse cx="647.1" cy="284.7" rx="4.2" ry="4.9" fill="#48c4d4" fill-opacity="0.88" stroke="#8a9a40" stroke-opacity="0.35" stroke-width="0.4"/>
<ellipse cx="647.1" cy="283.5" rx="2.2" ry="2.7" fill="#58cce0" fill-opacity="0.88" stroke="#8a9a40" stroke-opacity="0.35" stroke-width="0.4"/>
<ellipse cx="642.0" cy="279.4" rx="2.6" ry="2.1" fill="#48c4d4" fill-opacity="0.88" stroke="#8a9a40" stroke-opacity="0.35" stroke-width="0.4"/>
<ellipse cx="637.2" cy="275.8" rx="2.3" ry="1.6" fill="#e8a040" fill-opacity="0.88" stroke="#8a9a40" stroke-opacity="0.35" stroke-width="0.4"/>
<ellipse cx="631.2" cy="275.6" rx="3.7" ry="3.7" fill="#c8d040" fill-opacity="0.88" stroke="#8a9a40" stroke-opacity="0.35" stroke-width="0.4"/>
<ellipse cx="629.1" cy="285.2" rx="3.7" ry="3.4" fill="#d8d84a" fill-opacity="0.88" stroke="#8a9a40" stroke-opacity="0.35" stroke-width="0.4"/>
<ellipse cx="641.4" cy="278.6" rx="2.2" ry="1.7" fill="#c8d040" fill-opacity="0.88" stroke="#8a9a40" stroke-opacity="0.35" stroke-width="0.4"/>
<ellipse cx="634.9" cy="283.5" rx="2.9" ry="3.8" fill="#58cce0" fill-opacity="0.88" stroke="#8a9a40" stroke-opacity="0.35" stroke-width="0.4"/>
<ellipse cx="632.9" cy="278.7" rx="3.4" ry="4.2" fill="#e0dc50" fill-opacity="0.88" stroke="#8a9a40" stroke-opacity="0.35" stroke-width="0.4"/>
<ellipse cx="635.1" cy="275.7" rx="2.2" ry="2.5" fill="#e0dc50" fill-opacity="0.88" stroke="#8a9a40" stroke-opacity="0.35" stroke-width="0.4"/>
<ellipse cx="633.3" cy="277.0" rx="2.4" ry="2.4" fill="#e0dc50" fill-opacity="0.88" stroke="#8a9a40" stroke-opacity="0.35" stroke-width="0.4"/>
<ellipse cx="627.4" cy="280.5" rx="3.8" ry="3.7" fill="#e0dc50" fill-opacity="0.88" stroke="#8a9a40" stroke-opacity="0.35" stroke-width="0.4"/>
<ellipse cx="627.5" cy="278.6" rx="3.2" ry="4.1" fill="#e0dc50" fill-opacity="0.88" stroke="#8a9a40" stroke-opacity="0.35" stroke-width="0.4"/>
<ellipse cx="637.4" cy="276.0" rx="2.4" ry="3.0" fill="#c8d040" fill-opacity="0.88" stroke="#8a9a40" stroke-opacity="0.35" stroke-width="0.4"/>
<ellipse cx="631.6" cy="286.5" rx="3.0" ry="3.1" fill="#c8d040" fill-opacity="0.88" stroke="#8a9a40" stroke-opacity="0.35" stroke-width="0.4"/>
<ellipse cx="630.7" cy="278.5" rx="2.9" ry="3.7" fill="#e0dc50" fill-opacity="0.88" stroke="#8a9a40" stroke-opacity="0.35" stroke-width="0.4"/>
<ellipse cx="658.9" cy="285.4" rx="2.8" ry="3.0" fill="#c8d040" fill-opacity="0.88" stroke="#8a9a40" stroke-opacity="0.35" stroke-width="0.4"/>
<ellipse cx="653.6" cy="277.5" rx="2.3" ry="3.0" fill="#c8d040" fill-opacity="0.88" stroke="#8a9a40" stroke-opacity="0.35" stroke-width="0.4"/>
<ellipse cx="652.7" cy="282.0" rx="3.7" ry="3.1" fill="#c8d040" fill-opacity="0.88" stroke="#8a9a40" stroke-opacity="0.35" stroke-width="0.4"/>
<ellipse cx="662.1" cy="285.7" rx="3.3" ry="2.4" fill="#d8d84a" fill-opacity="0.88" stroke="#8a9a40" stroke-opacity="0.35" stroke-width="0.4"/>
<ellipse cx="658.8" cy="276.4" rx="1.9" ry="2.3" fill="#e8a040" fill-opacity="0.88" stroke="#8a9a40" stroke-opacity="0.35" stroke-width="0.4"/>
<ellipse cx="653.1" cy="281.9" rx="3.5" ry="3.4" fill="#c8d040" fill-opacity="0.88" stroke="#8a9a40" stroke-opacity="0.35" stroke-width="0.4"/>
<ellipse cx="657.8" cy="276.5" rx="3.7" ry="2.8" fill="#d8d84a" fill-opacity="0.88" stroke="#8a9a40" stroke-opacity="0.35" stroke-width="0.4"/>
<ellipse cx="660.5" cy="283.1" rx="3.5" ry="4.3" fill="#e0dc50" fill-opacity="0.88" stroke="#8a9a40" stroke-opacity="0.35" stroke-width="0.4"/>
<ellipse cx="653.3" cy="283.6" rx="3.1" ry="3.2" fill="#c8d040" fill-opacity="0.88" stroke="#8a9a40" stroke-opacity="0.35" stroke-width="0.4"/>
<ellipse cx="662.9" cy="278.2" rx="4.0" ry="4.4" fill="#e0dc50" fill-opacity="0.88" stroke="#8a9a40" stroke-opacity="0.35" stroke-width="0.4"/>
<ellipse cx="661.6" cy="285.8" rx="3.1" ry="3.4" fill="#c8d040" fill-opacity="0.88" stroke="#8a9a40" stroke-opacity="0.35" stroke-width="0.4"/>
<ellipse cx="659.9" cy="286.3" rx="2.1" ry="2.1" fill="#e0dc50" fill-opacity="0.88" stroke="#8a9a40" stroke-opacity="0.35" stroke-width="0.4"/>
<ellipse cx="634.7" cy="306.2" rx="2.0" ry="1.4" fill="#d8d84a" fill-opacity="0.88" stroke="#8a9a40" stroke-opacity="0.35" stroke-width="0.4"/>
<ellipse cx="631.4" cy="302.8" rx="2.3" ry="2.3" fill="#d8d84a" fill-opacity="0.88" stroke="#8a9a40" stroke-opacity="0.35" stroke-width="0.4"/>
<ellipse cx="634.1" cy="306.9" rx="3.9" ry="2.8" fill="#48c4d4" fill-opacity="0.88" stroke="#8a9a40" stroke-opacity="0.35" stroke-width="0.4"/>
<ellipse cx="632.6" cy="301.2" rx="2.5" ry="2.7" fill="#48c4d4" fill-opacity="0.88" stroke="#8a9a40" stroke-opacity="0.35" stroke-width="0.4"/>
<ellipse cx="633.9" cy="297.6" rx="3.7" ry="3.3" fill="#d8d84a" fill-opacity="0.88" stroke="#8a9a40" stroke-opacity="0.35" stroke-width="0.4"/>
<ellipse cx="632.2" cy="306.3" rx="2.0" ry="2.5" fill="#40b8d0" fill-opacity="0.88" stroke="#8a9a40" stroke-opacity="0.35" stroke-width="0.4"/>
<ellipse cx="637.4" cy="300.1" rx="3.8" ry="4.0" fill="#e8a040" fill-opacity="0.88" stroke="#8a9a40" stroke-opacity="0.35" stroke-width="0.4"/>
<ellipse cx="638.6" cy="299.7" rx="2.7" ry="2.4" fill="#e0dc50" fill-opacity="0.88" stroke="#8a9a40" stroke-opacity="0.35" stroke-width="0.4"/>
<ellipse cx="631.7" cy="305.0" rx="2.0" ry="1.9" fill="#48c4d4" fill-opacity="0.88" stroke="#8a9a40" stroke-opacity="0.35" stroke-width="0.4"/>
<ellipse cx="638.8" cy="303.9" rx="2.6" ry="3.3" fill="#c8d040" fill-opacity="0.88" stroke="#8a9a40" stroke-opacity="0.35" stroke-width="0.4"/>
<ellipse cx="635.8" cy="308.2" rx="2.8" ry="2.2" fill="#58cce0" fill-opacity="0.88" stroke="#8a9a40" stroke-opacity="0.35" stroke-width="0.4"/>
<ellipse cx="630.3" cy="306.1" rx="3.8" ry="2.9" fill="#d8d84a" fill-opacity="0.88" stroke="#8a9a40" stroke-opacity="0.35" stroke-width="0.4"/>
<ellipse cx="665.9" cy="313.5" rx="1.9" ry="1.5" fill="#40b8d0" fill-opacity="0.88" stroke="#8a9a40" stroke-opacity="0.35" stroke-width="0.4"/>
<ellipse cx="642.0" cy="316.2" rx="3.6" ry="3.2" fill="#e0dc50" fill-opacity="0.88" stroke="#8a9a40" stroke-opacity="0.35" stroke-width="0.4"/>
<ellipse cx="666.5" cy="313.9" rx="3.1" ry="2.3" fill="#58cce0" fill-opacity="0.88" stroke="#8a9a40" stroke-opacity="0.35" stroke-width="0.4"/>
<ellipse cx="643.5" cy="317.6" rx="3.7" ry="4.1" fill="#c8d040" fill-opacity="0.88" stroke="#8a9a40" stroke-opacity="0.35" stroke-width="0.4"/>
<ellipse cx="667.6" cy="316.4" rx="3.7" ry="3.6" fill="#40b8d0" fill-opacity="0.88" stroke="#8a9a40" stroke-opacity="0.35" stroke-width="0.4"/>
<ellipse cx="668.6" cy="321.9" rx="2.0" ry="1.5" fill="#e0dc50" fill-opacity="0.88" stroke="#8a9a40" stroke-opacity="0.35" stroke-width="0.4"/>
<ellipse cx="676.9" cy="316.1" rx="4.0" ry="5.0" fill="#e0dc50" fill-opacity="0.88" stroke="#8a9a40" stroke-opacity="0.35" stroke-width="0.4"/>
<ellipse cx="642.9" cy="319.4" rx="4.1" ry="3.0" fill="#c8d040" fill-opacity="0.88" stroke="#8a9a40" stroke-opacity="0.35" stroke-width="0.4"/>
<ellipse cx="649.5" cy="324.5" rx="2.1" ry="2.1" fill="#58cce0" fill-opacity="0.88" stroke="#8a9a40" stroke-opacity="0.35" stroke-width="0.4"/>
<ellipse cx="656.2" cy="317.0" rx="2.5" ry="2.1" fill="#e0dc50" fill-opacity="0.88" stroke="#8a9a40" stroke-opacity="0.35" stroke-width="0.4"/>
<ellipse cx="652.4" cy="320.3" rx="3.1" ry="2.5" fill="#58cce0" fill-opacity="0.88" stroke="#8a9a40" stroke-opacity="0.35" stroke-width="0.4"/>
<ellipse cx="669.1" cy="325.3" rx="3.4" ry="3.7" fill="#e8a040" fill-opacity="0.88" stroke="#8a9a40" stroke-opacity="0.35" stroke-width="0.4"/>
<ellipse cx="649.2" cy="323.9" rx="4.2" ry="3.1" fill="#58cce0" fill-opacity="0.88" stroke="#8a9a40" stroke-opacity="0.35" stroke-width="0.4"/>
<ellipse cx="643.7" cy="323.0" rx="2.4" ry="3.1" fill="#40b8d0" fill-opacity="0.88" stroke="#8a9a40" stroke-opacity="0.35" stroke-width="0.4"/>
<ellipse cx="674.5" cy="316.2" rx="3.7" ry="3.4" fill="#e0dc50" fill-opacity="0.88" stroke="#8a9a40" stroke-opacity="0.35" stroke-width="0.4"/>
<ellipse cx="673.2" cy="322.3" rx="4.1" ry="3.3" fill="#40b8d0" fill-opacity="0.88" stroke="#8a9a40" stroke-opacity="0.35" stroke-width="0.4"/>
<ellipse cx="654.2" cy="315.4" rx="1.8" ry="1.9" fill="#d8d84a" fill-opacity="0.88" stroke="#8a9a40" stroke-opacity="0.35" stroke-width="0.4"/>
<ellipse cx="660.4" cy="326.7" rx="2.9" ry="3.6" fill="#58cce0" fill-opacity="0.88" stroke="#8a9a40" stroke-opacity="0.35" stroke-width="0.4"/>
<ellipse cx="660.1" cy="324.8" rx="3.0" ry="3.1" fill="#c8d040" fill-opacity="0.88" stroke="#8a9a40" stroke-opacity="0.35" stroke-width="0.4"/>
<ellipse cx="651.9" cy="315.6" rx="2.5" ry="3.0" fill="#e0dc50" fill-opacity="0.88" stroke="#8a9a40" stroke-opacity="0.35" stroke-width="0.4"/>
<ellipse cx="652.6" cy="325.5" rx="2.7" ry="2.9" fill="#c8d040" fill-opacity="0.88" stroke="#8a9a40" stroke-opacity="0.35" stroke-width="0.4"/>
<ellipse cx="654.6" cy="324.3" rx="4.0" ry="3.5" fill="#48c4d4" fill-opacity="0.88" stroke="#8a9a40" stroke-opacity="0.35" stroke-width="0.4"/>
<ellipse cx="675.2" cy="320.2" rx="3.3" ry="3.4" fill="#48c4d4" fill-opacity="0.88" stroke="#8a9a40" stroke-opacity="0.35" stroke-width="0.4"/>
<ellipse cx="655.0" cy="315.8" rx="3.8" ry="2.8" fill="#e0dc50" fill-opacity="0.88" stroke="#8a9a40" stroke-opacity="0.35" stroke-width="0.4"/>
<ellipse cx="668.1" cy="326.8" rx="3.7" ry="4.4" fill="#e0dc50" fill-opacity="0.88" stroke="#8a9a40" stroke-opacity="0.35" stroke-width="0.4"/>
<ellipse cx="654.5" cy="319.7" rx="2.7" ry="2.1" fill="#40b8d0" fill-opacity="0.88" stroke="#8a9a40" stroke-opacity="0.35" stroke-width="0.4"/>
<ellipse cx="648.4" cy="315.9" rx="3.4" ry="3.8" fill="#58cce0" fill-opacity="0.88" stroke="#8a9a40" stroke-opacity="0.35" stroke-width="0.4"/>
<ellipse cx="675.1" cy="321.5" rx="3.3" ry="3.7" fill="#d8d84a" fill-opacity="0.88" stroke="#8a9a40" stroke-opacity="0.35" stroke-width="0.4"/>
<ellipse cx="674.5" cy="324.9" rx="3.3" ry="2.8" fill="#58cce0" fill-opacity="0.88" stroke="#8a9a40" stroke-opacity="0.35" stroke-width="0.4"/>
<ellipse cx="669.9" cy="314.8" rx="3.7" ry="2.9" fill="#48c4d4" fill-opacity="0.88" stroke="#8a9a40" stroke-opacity="0.35" stroke-width="0.4"/>
<ellipse cx="680.2" cy="317.5" rx="2.9" ry="2.5" fill="#40b8d0" fill-opacity="0.88" stroke="#8a9a40" stroke-opacity="0.35" stroke-width="0.4"/>
<ellipse cx="659.2" cy="318.2" rx="2.5" ry="3.1" fill="#e0dc50" fill-opacity="0.88" stroke="#8a9a40" stroke-opacity="0.35" stroke-width="0.4"/>
<ellipse cx="678.1" cy="323.5" rx="2.8" ry="3.6" fill="#40b8d0" fill-opacity="0.88" stroke="#8a9a40" stroke-opacity="0.35" stroke-width="0.4"/>
<ellipse cx="666.8" cy="320.4" rx="2.4" ry="2.7" fill="#c8d040" fill-opacity="0.88" stroke="#8a9a40" stroke-opacity="0.35" stroke-width="0.4"/>
<ellipse cx="659.6" cy="315.7" rx="3.6" ry="4.6" fill="#58cce0" fill-opacity="0.88" stroke="#8a9a40" stroke-opacity="0.35" stroke-width="0.4"/>
<ellipse cx="656.6" cy="315.8" rx="3.4" ry="3.2" fill="#58cce0" fill-opacity="0.88" stroke="#8a9a40" stroke-opacity="0.35" stroke-width="0.4"/>
<ellipse cx="673.0" cy="324.9" rx="2.0" ry="2.0" fill="#d8d84a" fill-opacity="0.88" stroke="#8a9a40" stroke-opacity="0.35" stroke-width="0.4"/>
<ellipse cx="676.2" cy="321.0" rx="3.6" ry="3.6" fill="#40b8d0" fill-opacity="0.88" stroke="#8a9a40" stroke-opacity="0.35" stroke-width="0.4"/>
<ellipse cx="672.0" cy="314.6" rx="3.2" ry="3.9" fill="#c8d040" fill-opacity="0.88" stroke="#8a9a40" stroke-opacity="0.35" stroke-width="0.4"/>
<ellipse cx="652.7" cy="321.5" rx="3.1" ry="2.2" fill="#48c4d4" fill-opacity="0.88" stroke="#8a9a40" stroke-opacity="0.35" stroke-width="0.4"/>
<ellipse cx="665.1" cy="315.6" rx="3.1" ry="2.2" fill="#e0dc50" fill-opacity="0.88" stroke="#8a9a40" stroke-opacity="0.35" stroke-width="0.4"/>
<ellipse cx="669.5" cy="315.5" rx="3.5" ry="3.8" fill="#d8d84a" fill-opacity="0.88" stroke="#8a9a40" stroke-opacity="0.35" stroke-width="0.4"/>
<ellipse cx="665.1" cy="315.7" rx="2.2" ry="2.4" fill="#d8d84a" fill-opacity="0.88" stroke="#8a9a40" stroke-opacity="0.35" stroke-width="0.4"/>
<ellipse cx="656.4" cy="321.2" rx="2.1" ry="2.3" fill="#48c4d4" fill-opacity="0.88" stroke="#8a9a40" stroke-opacity="0.35" stroke-width="0.4"/>
<ellipse cx="671.3" cy="322.7" rx="2.3" ry="2.2" fill="#58cce0" fill-opacity="0.88" stroke="#8a9a40" stroke-opacity="0.35" stroke-width="0.4"/>
<ellipse cx="659.0" cy="322.9" rx="3.8" ry="2.9" fill="#d8d84a" fill-opacity="0.88" stroke="#8a9a40" stroke-opacity="0.35" stroke-width="0.4"/>
<ellipse cx="653.5" cy="306.5" rx="2.8" ry="2.1" fill="#48c4d4" fill-opacity="0.88" stroke="#8a9a40" stroke-opacity="0.35" stroke-width="0.4"/>
<ellipse cx="665.2" cy="323.0" rx="4.1" ry="4.4" fill="#d8d84a" fill-opacity="0.88" stroke="#8a9a40" stroke-opacity="0.35" stroke-width="0.4"/>
<ellipse cx="658.7" cy="313.5" rx="4.1" ry="3.0" fill="#d8d84a" fill-opacity="0.88" stroke="#8a9a40" stroke-opacity="0.35" stroke-width="0.4"/>
<ellipse cx="663.4" cy="307.6" rx="3.2" ry="3.3" fill="#48c4d4" fill-opacity="0.88" stroke="#8a9a40" stroke-opacity="0.35" stroke-width="0.4"/>
<ellipse cx="659.4" cy="310.2" rx="2.7" ry="2.8" fill="#d8d84a" fill-opacity="0.88" stroke="#8a9a40" stroke-opacity="0.35" stroke-width="0.4"/>
<ellipse cx="662.4" cy="317.9" rx="3.1" ry="3.6" fill="#58cce0" fill-opacity="0.88" stroke="#8a9a40" stroke-opacity="0.35" stroke-width="0.4"/>
<ellipse cx="652.5" cy="320.1" rx="3.7" ry="4.1" fill="#48c4d4" fill-opacity="0.88" stroke="#8a9a40" stroke-opacity="0.35" stroke-width="0.4"/>
<ellipse cx="660.7" cy="331.1" rx="3.6" ry="3.1" fill="#e0dc50" fill-opacity="0.88" stroke="#8a9a40" stroke-opacity="0.35" stroke-width="0.4"/>
<ellipse cx="663.4" cy="315.1" rx="3.6" ry="2.9" fill="#e8a040" fill-opacity="0.88" stroke="#8a9a40" stroke-opacity="0.35" stroke-width="0.4"/>
<ellipse cx="658.8" cy="316.3" rx="3.2" ry="3.9" fill="#c8d040" fill-opacity="0.88" stroke="#8a9a40" stroke-opacity="0.35" stroke-width="0.4"/>
<ellipse cx="657.7" cy="331.4" rx="3.7" ry="2.8" fill="#c8d040" fill-opacity="0.88" stroke="#8a9a40" stroke-opacity="0.35" stroke-width="0.4"/>
<ellipse cx="664.2" cy="321.8" rx="1.9" ry="2.2" fill="#d8d84a" fill-opacity="0.88" stroke="#8a9a40" stroke-opacity="0.35" stroke-width="0.4"/>
<ellipse cx="655.4" cy="300.1" rx="3.5" ry="4.3" fill="#e0dc50" fill-opacity="0.88" stroke="#8a9a40" stroke-opacity="0.35" stroke-width="0.4"/>
<ellipse cx="655.8" cy="331.9" rx="2.1" ry="1.5" fill="#58cce0" fill-opacity="0.88" stroke="#8a9a40" stroke-opacity="0.35" stroke-width="0.4"/>
<ellipse cx="660.8" cy="308.9" rx="4.0" ry="4.0" fill="#40b8d0" fill-opacity="0.88" stroke="#8a9a40" stroke-opacity="0.35" stroke-width="0.4"/>
<ellipse cx="663.2" cy="327.0" rx="3.8" ry="4.6" fill="#48c4d4" fill-opacity="0.88" stroke="#8a9a40" stroke-opacity="0.35" stroke-width="0.4"/>
<ellipse cx="659.5" cy="328.7" rx="4.1" ry="3.2" fill="#40b8d0" fill-opacity="0.88" stroke="#8a9a40" stroke-opacity="0.35" stroke-width="0.4"/>
<ellipse cx="662.3" cy="324.6" rx="3.8" ry="3.1" fill="#40b8d0" fill-opacity="0.88" stroke="#8a9a40" stroke-opacity="0.35" stroke-width="0.4"/>
<ellipse cx="659.9" cy="323.5" rx="3.2" ry="4.0" fill="#c8d040" fill-opacity="0.88" stroke="#8a9a40" stroke-opacity="0.35" stroke-width="0.4"/>
<ellipse cx="658.3" cy="302.6" rx="3.6" ry="3.5" fill="#c8d040" fill-opacity="0.88" stroke="#8a9a40" stroke-opacity="0.35" stroke-width="0.4"/>
<ellipse cx="666.2" cy="301.9" rx="2.7" ry="2.6" fill="#c8d040" fill-opacity="0.88" stroke="#8a9a40" stroke-opacity="0.35" stroke-width="0.4"/>
<ellipse cx="665.9" cy="325.6" rx="4.2" ry="4.0" fill="#48c4d4" fill-opacity="0.88" stroke="#8a9a40" stroke-opacity="0.35" stroke-width="0.4"/>
<ellipse cx="665.6" cy="325.9" rx="2.2" ry="1.6" fill="#58cce0" fill-opacity="0.88" stroke="#8a9a40" stroke-opacity="0.35" stroke-width="0.4"/>
<ellipse cx="659.6" cy="318.4" rx="2.7" ry="2.9" fill="#c8d040" fill-opacity="0.88" stroke="#8a9a40" stroke-opacity="0.35" stroke-width="0.4"/>
<ellipse cx="666.8" cy="311.7" rx="2.1" ry="2.1" fill="#e8a040" fill-opacity="0.88" stroke="#8a9a40" stroke-opacity="0.35" stroke-width="0.4"/>
<ellipse cx="666.3" cy="314.1" rx="2.0" ry="1.9" fill="#48c4d4" fill-opacity="0.88" stroke="#8a9a40" stroke-opacity="0.35" stroke-width="0.4"/>
<ellipse cx="659.8" cy="334.1" rx="2.3" ry="2.9" fill="#48c4d4" fill-opacity="0.88" stroke="#8a9a40" stroke-opacity="0.35" stroke-width="0.4"/>
<ellipse cx="655.9" cy="328.7" rx="2.5" ry="2.7" fill="#c8d040" fill-opacity="0.88" stroke="#8a9a40" stroke-opacity="0.35" stroke-width="0.4"/>
<ellipse cx="667.1" cy="326.0" rx="2.7" ry="2.2" fill="#d8d84a" fill-opacity="0.88" stroke="#8a9a40" stroke-opacity="0.35" stroke-width="0.4"/>
<ellipse cx="662.1" cy="341.4" rx="1.9" ry="1.5" fill="#58cce0" fill-opacity="0.88" stroke="#8a9a40" stroke-opacity="0.35" stroke-width="0.4"/>
<ellipse cx="663.0" cy="334.0" rx="2.8" ry="2.7" fill="#48c4d4" fill-opacity="0.88" stroke="#8a9a40" stroke-opacity="0.35" stroke-width="0.4"/>
<ellipse cx="657.7" cy="337.1" rx="2.9" ry="3.3" fill="#48c4d4" fill-opacity="0.88" stroke="#8a9a40" stroke-opacity="0.35" stroke-width="0.4"/>
<ellipse cx="659.4" cy="333.9" rx="3.4" ry="3.7" fill="#40b8d0" fill-opacity="0.88" stroke="#8a9a40" stroke-opacity="0.35" stroke-width="0.4"/>
<ellipse cx="666.5" cy="339.3" rx="2.0" ry="1.5" fill="#40b8d0" fill-opacity="0.88" stroke="#8a9a40" stroke-opacity="0.35" stroke-width="0.4"/>
<ellipse cx="661.2" cy="338.3" rx="2.9" ry="2.4" fill="#e8a040" fill-opacity="0.88" stroke="#8a9a40" stroke-opacity="0.35" stroke-width="0.4"/>
<ellipse cx="663.1" cy="333.7" rx="2.9" ry="2.3" fill="#48c4d4" fill-opacity="0.88" stroke="#8a9a40" stroke-opacity="0.35" stroke-width="0.4"/>
<ellipse cx="666.4" cy="335.9" rx="2.4" ry="2.2" fill="#40b8d0" fill-opacity="0.88" stroke="#8a9a40" stroke-opacity="0.35" stroke-width="0.4"/>
<ellipse cx="663.0" cy="335.9" rx="3.0" ry="2.6" fill="#48c4d4" fill-opacity="0.88" stroke="#8a9a40" stroke-opacity="0.35" stroke-width="0.4"/>
<ellipse cx="657.3" cy="339.8" rx="2.2" ry="1.8" fill="#58cce0" fill-opacity="0.88" stroke="#8a9a40" stroke-opacity="0.35" stroke-width="0.4"/>
<ellipse cx="656.2" cy="267.6" rx="1.5" ry="1.5" fill="#58cce0" fill-opacity="0.88" stroke="#8a9a40" stroke-opacity="0.35" stroke-width="0.4"/>
<ellipse cx="660.8" cy="266.3" rx="2.9" ry="3.3" fill="#c8d040" fill-opacity="0.88" stroke="#8a9a40" stroke-opacity="0.35" stroke-width="0.4"/>
<ellipse cx="662.1" cy="270.4" rx="1.8" ry="1.5" fill="#e0dc50" fill-opacity="0.88" stroke="#8a9a40" stroke-opacity="0.35" stroke-width="0.4"/>
<ellipse cx="662.5" cy="268.8" rx="1.6" ry="1.8" fill="#c8d040" fill-opacity="0.88" stroke="#8a9a40" stroke-opacity="0.35" stroke-width="0.4"/>
<ellipse cx="660.8" cy="263.3" rx="2.8" ry="3.2" fill="#d8d84a" fill-opacity="0.88" stroke="#8a9a40" stroke-opacity="0.35" stroke-width="0.4"/>
<ellipse cx="658.1" cy="267.6" rx="2.3" ry="2.1" fill="#48c4d4" fill-opacity="0.88" stroke="#8a9a40" stroke-opacity="0.35" stroke-width="0.4"/>
<ellipse cx="664.0" cy="267.9" rx="1.6" ry="1.5" fill="#40b8d0" fill-opacity="0.88" stroke="#8a9a40" stroke-opacity="0.35" stroke-width="0.4"/>
<ellipse cx="658.7" cy="267.0" rx="3.3" ry="2.5" fill="#e8a040" fill-opacity="0.88" stroke="#8a9a40" stroke-opacity="0.35" stroke-width="0.4"/>
<ellipse cx="630.9" cy="264.0" rx="2.4" ry="2.4" fill="#d8d84a" fill-opacity="0.88" stroke="#8a9a40" stroke-opacity="0.35" stroke-width="0.4"/>
<ellipse cx="632.5" cy="268.1" rx="2.1" ry="1.8" fill="#40b8d0" fill-opacity="0.88" stroke="#8a9a40" stroke-opacity="0.35" stroke-width="0.4"/>
<ellipse cx="636.3" cy="264.0" rx="2.7" ry="2.5" fill="#48c4d4" fill-opacity="0.88" stroke="#8a9a40" stroke-opacity="0.35" stroke-width="0.4"/>
<ellipse cx="632.4" cy="267.8" rx="2.1" ry="1.9" fill="#c8d040" fill-opacity="0.88" stroke="#8a9a40" stroke-opacity="0.35" stroke-width="0.4"/>
<ellipse cx="629.9" cy="265.9" rx="2.7" ry="2.0" fill="#40b8d0" fill-opacity="0.88" stroke="#8a9a40" stroke-opacity="0.35" stroke-width="0.4"/>
<ellipse cx="625.9" cy="276.7" rx="2.4" ry="2.9" fill="#e0dc50" fill-opacity="0.88" stroke="#8a9a40" stroke-opacity="0.35" stroke-width="0.4"/>
<ellipse cx="629.0" cy="278.5" rx="3.1" ry="2.4" fill="#58cce0" fill-opacity="0.88" stroke="#8a9a40" stroke-opacity="0.35" stroke-width="0.4"/>
<ellipse cx="627.7" cy="276.9" rx="2.9" ry="2.1" fill="#e8a040" fill-opacity="0.88" stroke="#8a9a40" stroke-opacity="0.35" stroke-width="0.4"/>
<ellipse cx="630.9" cy="275.7" rx="2.8" ry="3.0" fill="#58cce0" fill-opacity="0.88" stroke="#8a9a40" stroke-opacity="0.35" stroke-width="0.4"/>
<ellipse cx="685.9" cy="307.3" rx="2.8" ry="3.1" fill="#d8d84a" fill-opacity="0.88" stroke="#8a9a40" stroke-opacity="0.35" stroke-width="0.4"/>
<ellipse cx="687.6" cy="301.7" rx="2.6" ry="2.1" fill="#48c4d4" fill-opacity="0.88" stroke="#8a9a40" stroke-opacity="0.35" stroke-width="0.4"/>
<ellipse cx="685.5" cy="306.5" rx="3.6" ry="4.7" fill="#c8d040" fill-opacity="0.88" stroke="#8a9a40" stroke-opacity="0.35" stroke-width="0.4"/>
<ellipse cx="686.4" cy="303.0" rx="3.2" ry="3.7" fill="#e0dc50" fill-opacity="0.88" stroke="#8a9a40" stroke-opacity="0.35" stroke-width="0.4"/>
<ellipse cx="688.5" cy="302.9" rx="3.3" ry="3.2" fill="#e8a040" fill-opacity="0.88" stroke="#8a9a40" stroke-opacity="0.35" stroke-width="0.4"/>
<ellipse cx="686.0" cy="324.1" rx="3.5" ry="3.0" fill="#e8a040" fill-opacity="0.88" stroke="#8a9a40" stroke-opacity="0.35" stroke-width="0.4"/>
<ellipse cx="683.9" cy="325.4" rx="2.1" ry="2.3" fill="#e8a040" fill-opacity="0.88" stroke="#8a9a40" stroke-opacity="0.35" stroke-width="0.4"/>
<ellipse cx="681.9" cy="324.1" rx="3.3" ry="2.9" fill="#48c4d4" fill-opacity="0.88" stroke="#8a9a40" stroke-opacity="0.35" stroke-width="0.4"/>
<ellipse cx="684.6" cy="319.8" rx="2.5" ry="2.0" fill="#e8a040" fill-opacity="0.88" stroke="#8a9a40" stroke-opacity="0.35" stroke-width="0.4"/>
<ellipse cx="683.2" cy="320.2" rx="1.7" ry="1.5" fill="#48c4d4" fill-opacity="0.88" stroke="#8a9a40" stroke-opacity="0.35" stroke-width="0.4"/>
<ellipse cx="630.3" cy="331.9" rx="3.4" ry="2.9" fill="#d8d84a" fill-opacity="0.88" stroke="#8a9a40" stroke-opacity="0.35" stroke-width="0.4"/>
<ellipse cx="632.5" cy="332.9" rx="3.6" ry="3.0" fill="#58cce0" fill-opacity="0.88" stroke="#8a9a40" stroke-opacity="0.35" stroke-width="0.4"/>
<ellipse cx="628.7" cy="334.1" rx="2.2" ry="2.7" fill="#40b8d0" fill-opacity="0.88" stroke="#8a9a40" stroke-opacity="0.35" stroke-width="0.4"/>
<ellipse cx="630.5" cy="333.7" rx="2.1" ry="2.4" fill="#e8a040" fill-opacity="0.88" stroke="#8a9a40" stroke-opacity="0.35" stroke-width="0.4"/>
<ellipse cx="685.7" cy="334.6" rx="1.4" ry="1.7" fill="#e0dc50" fill-opacity="0.88" stroke="#8a9a40" stroke-opacity="0.35" stroke-width="0.4"/>
<ellipse cx="686.6" cy="331.6" rx="2.1" ry="1.9" fill="#40b8d0" fill-opacity="0.88" stroke="#8a9a40" stroke-opacity="0.35" stroke-width="0.4"/>
<ellipse cx="688.6" cy="335.0" rx="3.1" ry="4.0" fill="#e8a040" fill-opacity="0.88" stroke="#8a9a40" stroke-opacity="0.35" stroke-width="0.4"/>
<ellipse cx="686.9" cy="335.8" rx="2.8" ry="2.7" fill="#c8d040" fill-opacity="0.88" stroke="#8a9a40" stroke-opacity="0.35" stroke-width="0.4"/>
<path d="M911.9 228.3L904.6 234.9M911.9 228.3L919.1 234.9M919.1 234.9L926.4 241.5M940.9 228.3L933.6 234.9M933.6 234.9L926.4 241.5M940.9 228.3L948.1 234.9M969.9 228.3L962.6 234.9M969.9 228.3L977.1 234.9M977.1 234.9L984.4 241.5M998.9 228.3L991.6 234.9M991.6 234.9L984.4 241.5M998.9 228.3L1006.1 234.9M882.9 254.7L890.1 248.1M882.9 254.7L890.1 261.2M890.1 261.2L897.4 267.8M911.9 254.7L904.6 248.1M911.9 254.7L919.1 248.1M919.1 248.1L926.4 241.5M911.9 254.7L904.6 261.2M904.6 261.2L897.4 267.8M911.9 254.7L919.1 261.2M940.9 254.7L933.6 248.1M933.6 248.1L926.4 241.5M940.9 254.7L948.1 248.1M940.9 254.7L933.6 261.2M940.9 254.7L948.1 261.2M948.1 261.2L955.4 267.8M969.9 254.7L962.6 248.1M969.9 254.7L977.1 248.1M977.1 248.1L984.4 241.5M969.9 254.7L962.6 261.2M962.6 261.2L955.4 267.8M969.9 254.7L977.1 261.2M998.9 254.7L991.6 248.1M991.6 248.1L984.4 241.5M998.9 254.7L1006.1 248.1M998.9 254.7L991.6 261.2M998.9 254.7L1006.1 261.2M1006.1 261.2L1013.4 267.8M882.9 281L890.1 274.4M890.1 274.4L897.4 267.8M882.9 281L890.1 287.6M911.9 281L904.6 274.4M904.6 274.4L897.4 267.8M911.9 281L919.1 274.4M911.9 281L904.6 287.6M911.9 281L919.1 287.6M919.1 287.6L926.4 294.2M940.9 281L933.6 274.4M940.9 281L948.1 274.4M948.1 274.4L955.4 267.8M940.9 281L933.6 287.6M933.6 287.6L926.4 294.2M940.9 281L948.1 287.6M969.9 281L962.6 274.4M962.6 274.4L955.4 267.8M969.9 281L977.1 274.4M969.9 281L962.6 287.6M969.9 281L977.1 287.6M977.1 287.6L984.4 294.2M998.9 281L991.6 274.4M998.9 281L1006.1 274.4M1006.1 274.4L1013.4 267.8M998.9 281L991.6 287.6M991.6 287.6L984.4 294.2M998.9 281L1006.1 287.6M882.9 307.4L890.1 300.8M882.9 307.4L890.1 314M890.1 314L897.4 320.6M911.9 307.4L904.6 300.8M911.9 307.4L919.1 300.8M919.1 300.8L926.4 294.2M911.9 307.4L904.6 314M904.6 314L897.4 320.6M911.9 307.4L919.1 314M940.9 307.4L933.6 300.8M933.6 300.8L926.4 294.2M940.9 307.4L948.1 300.8M940.9 307.4L933.6 314M940.9 307.4L948.1 314M948.1 314L955.4 320.6M969.9 307.4L962.6 300.8M969.9 307.4L977.1 300.8M977.1 300.8L984.4 294.2M969.9 307.4L962.6 314M962.6 314L955.4 320.6M969.9 307.4L977.1 314M998.9 307.4L991.6 300.8M991.6 300.8L984.4 294.2M998.9 307.4L1006.1 300.8M998.9 307.4L991.6 314M998.9 307.4L1006.1 314M1006.1 314L1013.4 320.6M882.9 333.7L890.1 327.1M890.1 327.1L897.4 320.6M882.9 333.7L890.1 340.3M911.9 333.7L904.6 327.1M904.6 327.1L897.4 320.6M911.9 333.7L919.1 327.1M911.9 333.7L904.6 340.3M911.9 333.7L919.1 340.3M919.1 340.3L926.4 346.9M940.9 333.7L933.6 327.1M940.9 333.7L948.1 327.1M948.1 327.1L955.4 320.6M940.9 333.7L933.6 340.3M933.6 340.3L926.4 346.9M940.9 333.7L948.1 340.3M969.9 333.7L962.6 327.1M962.6 327.1L955.4 320.6M969.9 333.7L977.1 327.1M969.9 333.7L962.6 340.3M969.9 333.7L977.1 340.3M977.1 340.3L984.4 346.9M998.9 333.7L991.6 327.1M998.9 333.7L1006.1 327.1M1006.1 327.1L1013.4 320.6M998.9 333.7L991.6 340.3M991.6 340.3L984.4 346.9M998.9 333.7L1006.1 340.3M882.9 360.1L890.1 353.5M911.9 360.1L904.6 353.5M911.9 360.1L919.1 353.5M919.1 353.5L926.4 346.9M940.9 360.1L933.6 353.5M933.6 353.5L926.4 346.9M940.9 360.1L948.1 353.5M969.9 360.1L962.6 353.5M969.9 360.1L977.1 353.5M977.1 353.5L984.4 346.9M998.9 360.1L991.6 353.5M991.6 353.5L984.4 346.9M998.9 360.1L1006.1 353.5" stroke="#d8383a" stroke-width="1.5" fill="none"/>
<path d="M904.6 234.9L897.4 241.5M948.1 234.9L955.4 241.5M962.6 234.9L955.4 241.5M1006.1 234.9L1013.4 241.5M890.1 248.1L897.4 241.5M904.6 248.1L897.4 241.5M919.1 261.2L926.4 267.8M948.1 248.1L955.4 241.5M933.6 261.2L926.4 267.8M962.6 248.1L955.4 241.5M977.1 261.2L984.4 267.8M1006.1 248.1L1013.4 241.5M991.6 261.2L984.4 267.8M890.1 287.6L897.4 294.2M919.1 274.4L926.4 267.8M904.6 287.6L897.4 294.2M933.6 274.4L926.4 267.8M948.1 287.6L955.4 294.2M977.1 274.4L984.4 267.8M962.6 287.6L955.4 294.2M991.6 274.4L984.4 267.8M1006.1 287.6L1013.4 294.2M890.1 300.8L897.4 294.2M904.6 300.8L897.4 294.2M919.1 314L926.4 320.6M948.1 300.8L955.4 294.2M933.6 314L926.4 320.6M962.6 300.8L955.4 294.2M977.1 314L984.4 320.6M1006.1 300.8L1013.4 294.2M991.6 314L984.4 320.6M890.1 340.3L897.4 346.9M919.1 327.1L926.4 320.6M904.6 340.3L897.4 346.9M933.6 327.1L926.4 320.6M948.1 340.3L955.4 346.9M977.1 327.1L984.4 320.6M962.6 340.3L955.4 346.9M991.6 327.1L984.4 320.6M1006.1 340.3L1013.4 346.9M890.1 353.5L897.4 346.9M904.6 353.5L897.4 346.9M948.1 353.5L955.4 346.9M962.6 353.5L955.4 346.9M1006.1 353.5L1013.4 346.9" stroke="#c07040" stroke-width="1.5" fill="none"/>
<path d="M897.4 241.5L926.4 241.5M911.9 228.3L911.9 254.7M926.4 241.5L955.4 241.5M940.9 228.3L940.9 254.7M955.4 241.5L984.4 241.5M969.9 228.3L969.9 254.7M984.4 241.5L1013.4 241.5M998.9 228.3L998.9 254.7M984.4 267.8L1013.4 267.8M998.9 254.6L998.9 281M897.4 294.2L926.4 294.2M911.9 281L911.9 307.4M955.4 294.2L984.4 294.2M969.9 281L969.9 307.4M984.4 294.2L1013.4 294.2M998.9 281L998.9 307.4M984.4 320.6L1013.4 320.6M998.9 307.4L998.9 333.8M926.4 320.6L955.4 320.6M940.9 307.4L940.9 333.8M926.4 346.9L955.4 346.9M940.9 333.7L940.9 360.1M984.4 346.9L1013.4 346.9M998.9 333.7L998.9 360.1" stroke="#3f5cb0" stroke-width="1.5" fill="none"/>
<circle cx="911.9" cy="241.5" r="4.6" fill="url(#eCu)"/>
<circle cx="940.9" cy="241.5" r="4.6" fill="url(#eCu)"/>
<circle cx="969.9" cy="241.5" r="4.6" fill="url(#eCu)"/>
<circle cx="998.9" cy="241.5" r="4.6" fill="url(#eCu)"/>
<circle cx="998.9" cy="267.8" r="4.6" fill="url(#eCu)"/>
<circle cx="911.9" cy="294.2" r="4.6" fill="url(#eCu)"/>
<circle cx="969.9" cy="294.2" r="4.6" fill="url(#eCu)"/>
<circle cx="998.9" cy="294.2" r="4.6" fill="url(#eCu)"/>
<circle cx="998.9" cy="320.6" r="4.6" fill="url(#eCu)"/>
<circle cx="940.9" cy="320.6" r="4.6" fill="url(#eCu)"/>
<circle cx="940.9" cy="346.9" r="4.6" fill="url(#eCu)"/>
<circle cx="998.9" cy="346.9" r="4.6" fill="url(#eCu)"/>
<circle cx="897.4" cy="267.8" r="4.6" fill="url(#eFe)"/>
<circle cx="897.4" cy="294.2" r="4.6" fill="url(#eFe)"/>
<circle cx="897.4" cy="320.6" r="4.6" fill="url(#eFe)"/>
<circle cx="897.4" cy="346.9" r="4.6" fill="url(#eFe)"/>
<circle cx="926.4" cy="346.9" r="4.6" fill="url(#eFe)"/>
<circle cx="955.4" cy="346.9" r="4.6" fill="url(#eFe)"/>
<circle cx="984.4" cy="346.9" r="4.6" fill="url(#eFe)"/>
<circle cx="984.4" cy="267.8" r="4.6" fill="url(#eFe)"/>
<circle cx="926.4" cy="267.8" r="4.6" fill="url(#eFe)"/>
<circle cx="911.9" cy="320.6" r="4.6" fill="url(#eFe)"/>
<circle cx="955.4" cy="294.2" r="4.6" fill="url(#eFe)"/>
<circle cx="911.9" cy="254.7" r="4.6" fill="url(#eFe)"/>
<circle cx="969.9" cy="254.7" r="4.6" fill="url(#eFe)"/>
<circle cx="911.9" cy="333.7" r="4.6" fill="url(#eFe)"/>
<circle cx="969.9" cy="333.7" r="4.6" fill="url(#eFe)"/>
<circle cx="911.9" cy="228.3" r="2.6" fill="url(#eO)"/>
<circle cx="940.9" cy="228.3" r="2.6" fill="url(#eO)"/>
<circle cx="969.9" cy="228.3" r="2.6" fill="url(#eO)"/>
<circle cx="998.9" cy="228.3" r="2.6" fill="url(#eO)"/>
<circle cx="882.9" cy="254.7" r="2.6" fill="url(#eO)"/>
<circle cx="911.9" cy="254.7" r="2.6" fill="url(#eO)"/>
<circle cx="940.9" cy="254.7" r="2.6" fill="url(#eO)"/>
<circle cx="969.9" cy="254.7" r="2.6" fill="url(#eO)"/>
<circle cx="998.9" cy="254.7" r="2.6" fill="url(#eO)"/>
<circle cx="882.9" cy="281.0" r="2.6" fill="url(#eO)"/>
<circle cx="911.9" cy="281.0" r="2.6" fill="url(#eO)"/>
<circle cx="940.9" cy="281.0" r="2.6" fill="url(#eO)"/>
<circle cx="969.9" cy="281.0" r="2.6" fill="url(#eO)"/>
<circle cx="998.9" cy="281.0" r="2.6" fill="url(#eO)"/>
<circle cx="882.9" cy="307.4" r="2.6" fill="url(#eO)"/>
<circle cx="911.9" cy="307.4" r="2.6" fill="url(#eO)"/>
<circle cx="940.9" cy="307.4" r="2.6" fill="url(#eO)"/>
<circle cx="969.9" cy="307.4" r="2.6" fill="url(#eO)"/>
<circle cx="998.9" cy="307.4" r="2.6" fill="url(#eO)"/>
<circle cx="882.9" cy="333.7" r="2.6" fill="url(#eO)"/>
<circle cx="911.9" cy="333.7" r="2.6" fill="url(#eO)"/>
<circle cx="940.9" cy="333.7" r="2.6" fill="url(#eO)"/>
<circle cx="969.9" cy="333.7" r="2.6" fill="url(#eO)"/>
<circle cx="998.9" cy="333.7" r="2.6" fill="url(#eO)"/>
<circle cx="882.9" cy="360.1" r="2.6" fill="url(#eO)"/>
<circle cx="911.9" cy="360.1" r="2.6" fill="url(#eO)"/>
<circle cx="940.9" cy="360.1" r="2.6" fill="url(#eO)"/>
<circle cx="969.9" cy="360.1" r="2.6" fill="url(#eO)"/>
<circle cx="998.9" cy="360.1" r="2.6" fill="url(#eO)"/>
<circle cx="894.9" cy="241.5" r="2.4" fill="url(#eO)"/>
<circle cx="899.9" cy="241.5" r="2.4" fill="url(#eO)"/>
<circle cx="923.9" cy="241.5" r="2.4" fill="url(#eO)"/>
<circle cx="928.9" cy="241.5" r="2.4" fill="url(#eO)"/>
<circle cx="952.9" cy="241.5" r="2.4" fill="url(#eO)"/>
<circle cx="957.9" cy="241.5" r="2.4" fill="url(#eO)"/>
<circle cx="981.9" cy="241.5" r="2.4" fill="url(#eO)"/>
<circle cx="986.9" cy="241.5" r="2.4" fill="url(#eO)"/>
<circle cx="1010.9" cy="241.5" r="2.4" fill="url(#eO)"/>
<circle cx="1015.9" cy="241.5" r="2.4" fill="url(#eO)"/>
<circle cx="1013.4" cy="267.8" r="2.6" fill="url(#eO)"/>
<circle cx="1013.4" cy="294.2" r="2.6" fill="url(#eO)"/>
<circle cx="1013.4" cy="320.6" r="2.6" fill="url(#eO)"/>
<circle cx="1013.4" cy="346.9" r="2.6" fill="url(#eO)"/>
<ellipse cx="941.0" cy="268.5" rx="9.0" ry="8.0" fill="#48c4d4" fill-opacity="0.9"/>
<ellipse cx="954.5" cy="296.5" rx="12.0" ry="11.0" fill="#48c4d4" fill-opacity="0.9"/>
<ellipse cx="930.0" cy="266.0" rx="6.0" ry="6.0" fill="#d8d84a" fill-opacity="0.85"/>
<ellipse cx="971.0" cy="265.0" rx="7.5" ry="6.5" fill="#d8d84a" fill-opacity="0.85"/>
<ellipse cx="932.5" cy="293.0" rx="10.0" ry="9.0" fill="#d8d84a" fill-opacity="0.85"/>
<ellipse cx="955.0" cy="311.0" rx="11.0" ry="5.0" fill="#d8d84a" fill-opacity="0.85"/>
<ellipse cx="970.0" cy="318.0" rx="8.0" ry="9.0" fill="#48c4d4" fill-opacity="0.8"/>
<ellipse cx="941.0" cy="250.0" rx="8.0" ry="5.0" fill="#d8d84a" fill-opacity="0.85"/>
<ellipse cx="944.8" cy="274.2" rx="4.1" ry="5.3" fill="#40b8d0" fill-opacity="0.88" stroke="#8a9a40" stroke-opacity="0.35" stroke-width="0.4"/>
<ellipse cx="932.3" cy="269.7" rx="2.6" ry="1.8" fill="#58cce0" fill-opacity="0.88" stroke="#8a9a40" stroke-opacity="0.35" stroke-width="0.4"/>
<ellipse cx="936.3" cy="272.9" rx="4.3" ry="4.8" fill="#48c4d4" fill-opacity="0.88" stroke="#8a9a40" stroke-opacity="0.35" stroke-width="0.4"/>
<ellipse cx="932.7" cy="271.6" rx="3.5" ry="2.6" fill="#40b8d0" fill-opacity="0.88" stroke="#8a9a40" stroke-opacity="0.35" stroke-width="0.4"/>
<ellipse cx="938.0" cy="273.5" rx="2.1" ry="2.4" fill="#40b8d0" fill-opacity="0.88" stroke="#8a9a40" stroke-opacity="0.35" stroke-width="0.4"/>
<ellipse cx="947.9" cy="272.3" rx="3.4" ry="3.1" fill="#48c4d4" fill-opacity="0.88" stroke="#8a9a40" stroke-opacity="0.35" stroke-width="0.4"/>
<ellipse cx="937.1" cy="268.8" rx="2.2" ry="1.8" fill="#48c4d4" fill-opacity="0.88" stroke="#8a9a40" stroke-opacity="0.35" stroke-width="0.4"/>
<ellipse cx="937.3" cy="262.1" rx="4.5" ry="3.3" fill="#58cce0" fill-opacity="0.88" stroke="#8a9a40" stroke-opacity="0.35" stroke-width="0.4"/>
<ellipse cx="934.7" cy="266.3" rx="4.3" ry="5.3" fill="#40b8d0" fill-opacity="0.88" stroke="#8a9a40" stroke-opacity="0.35" stroke-width="0.4"/>
<ellipse cx="936.4" cy="271.1" rx="2.8" ry="2.8" fill="#40b8d0" fill-opacity="0.88" stroke="#8a9a40" stroke-opacity="0.35" stroke-width="0.4"/>
<ellipse cx="940.2" cy="275.8" rx="4.5" ry="4.5" fill="#58cce0" fill-opacity="0.88" stroke="#8a9a40" stroke-opacity="0.35" stroke-width="0.4"/>
<ellipse cx="934.3" cy="268.8" rx="3.4" ry="3.1" fill="#48c4d4" fill-opacity="0.88" stroke="#8a9a40" stroke-opacity="0.35" stroke-width="0.4"/>
<ellipse cx="944.0" cy="268.2" rx="2.9" ry="3.6" fill="#58cce0" fill-opacity="0.88" stroke="#8a9a40" stroke-opacity="0.35" stroke-width="0.4"/>
<ellipse cx="937.0" cy="273.6" rx="2.4" ry="3.0" fill="#48c4d4" fill-opacity="0.88" stroke="#8a9a40" stroke-opacity="0.35" stroke-width="0.4"/>
<ellipse cx="943.7" cy="273.2" rx="3.7" ry="4.6" fill="#48c4d4" fill-opacity="0.88" stroke="#8a9a40" stroke-opacity="0.35" stroke-width="0.4"/>
<ellipse cx="946.5" cy="267.2" rx="3.5" ry="4.3" fill="#c8d040" fill-opacity="0.88" stroke="#8a9a40" stroke-opacity="0.35" stroke-width="0.4"/>
<ellipse cx="943.9" cy="249.4" rx="2.2" ry="1.7" fill="#40b8d0" fill-opacity="0.88" stroke="#8a9a40" stroke-opacity="0.35" stroke-width="0.4"/>
<ellipse cx="938.3" cy="247.1" rx="2.4" ry="1.7" fill="#d8d84a" fill-opacity="0.88" stroke="#8a9a40" stroke-opacity="0.35" stroke-width="0.4"/>
<ellipse cx="944.3" cy="249.6" rx="3.8" ry="4.3" fill="#c8d040" fill-opacity="0.88" stroke="#8a9a40" stroke-opacity="0.35" stroke-width="0.4"/>
<ellipse cx="948.2" cy="251.7" rx="2.7" ry="2.2" fill="#e0dc50" fill-opacity="0.88" stroke="#8a9a40" stroke-opacity="0.35" stroke-width="0.4"/>
<ellipse cx="945.5" cy="252.8" rx="1.9" ry="1.7" fill="#c8d040" fill-opacity="0.88" stroke="#8a9a40" stroke-opacity="0.35" stroke-width="0.4"/>
<ellipse cx="939.3" cy="252.2" rx="2.9" ry="2.5" fill="#c8d040" fill-opacity="0.88" stroke="#8a9a40" stroke-opacity="0.35" stroke-width="0.4"/>
<ellipse cx="940.1" cy="254.9" rx="3.0" ry="2.1" fill="#e0dc50" fill-opacity="0.88" stroke="#8a9a40" stroke-opacity="0.35" stroke-width="0.4"/>
<ellipse cx="946.1" cy="248.1" rx="2.7" ry="3.4" fill="#e0dc50" fill-opacity="0.88" stroke="#8a9a40" stroke-opacity="0.35" stroke-width="0.4"/>
<ellipse cx="943.4" cy="254.1" rx="2.5" ry="2.6" fill="#d8d84a" fill-opacity="0.88" stroke="#8a9a40" stroke-opacity="0.35" stroke-width="0.4"/>
<ellipse cx="935.9" cy="248.9" rx="2.7" ry="2.1" fill="#c8d040" fill-opacity="0.88" stroke="#8a9a40" stroke-opacity="0.35" stroke-width="0.4"/>
<ellipse cx="938.6" cy="250.7" rx="3.8" ry="4.9" fill="#d8d84a" fill-opacity="0.88" stroke="#8a9a40" stroke-opacity="0.35" stroke-width="0.4"/>
<ellipse cx="936.0" cy="249.7" rx="2.2" ry="2.2" fill="#48c4d4" fill-opacity="0.88" stroke="#8a9a40" stroke-opacity="0.35" stroke-width="0.4"/>
<ellipse cx="938.3" cy="252.8" rx="2.8" ry="2.0" fill="#d8d84a" fill-opacity="0.88" stroke="#8a9a40" stroke-opacity="0.35" stroke-width="0.4"/>
<ellipse cx="945.7" cy="254.0" rx="3.3" ry="2.4" fill="#c8d040" fill-opacity="0.88" stroke="#8a9a40" stroke-opacity="0.35" stroke-width="0.4"/>
<ellipse cx="934.7" cy="263.3" rx="1.8" ry="1.6" fill="#d8d84a" fill-opacity="0.88" stroke="#8a9a40" stroke-opacity="0.35" stroke-width="0.4"/>
<ellipse cx="926.9" cy="268.5" rx="2.8" ry="2.3" fill="#e0dc50" fill-opacity="0.88" stroke="#8a9a40" stroke-opacity="0.35" stroke-width="0.4"/>
<ellipse cx="928.6" cy="266.3" rx="2.9" ry="2.1" fill="#58cce0" fill-opacity="0.88" stroke="#8a9a40" stroke-opacity="0.35" stroke-width="0.4"/>
<ellipse cx="926.8" cy="263.2" rx="3.5" ry="3.7" fill="#d8d84a" fill-opacity="0.88" stroke="#8a9a40" stroke-opacity="0.35" stroke-width="0.4"/>
<ellipse cx="926.9" cy="262.0" rx="3.0" ry="3.7" fill="#e0dc50" fill-opacity="0.88" stroke="#8a9a40" stroke-opacity="0.35" stroke-width="0.4"/>
<ellipse cx="932.6" cy="265.4" rx="2.0" ry="2.0" fill="#c8d040" fill-opacity="0.88" stroke="#8a9a40" stroke-opacity="0.35" stroke-width="0.4"/>
<ellipse cx="928.6" cy="261.5" rx="2.2" ry="2.5" fill="#c8d040" fill-opacity="0.88" stroke="#8a9a40" stroke-opacity="0.35" stroke-width="0.4"/>
<ellipse cx="924.7" cy="265.0" rx="2.1" ry="1.6" fill="#c8d040" fill-opacity="0.88" stroke="#8a9a40" stroke-opacity="0.35" stroke-width="0.4"/>
<ellipse cx="932.6" cy="266.8" rx="2.5" ry="2.3" fill="#c8d040" fill-opacity="0.88" stroke="#8a9a40" stroke-opacity="0.35" stroke-width="0.4"/>
<ellipse cx="928.7" cy="269.2" rx="2.3" ry="1.8" fill="#c8d040" fill-opacity="0.88" stroke="#8a9a40" stroke-opacity="0.35" stroke-width="0.4"/>
<ellipse cx="928.0" cy="264.6" rx="2.3" ry="2.4" fill="#e0dc50" fill-opacity="0.88" stroke="#8a9a40" stroke-opacity="0.35" stroke-width="0.4"/>
<ellipse cx="933.5" cy="263.7" rx="2.8" ry="2.0" fill="#d8d84a" fill-opacity="0.88" stroke="#8a9a40" stroke-opacity="0.35" stroke-width="0.4"/>
<ellipse cx="965.5" cy="269.7" rx="3.8" ry="3.4" fill="#d8d84a" fill-opacity="0.88" stroke="#8a9a40" stroke-opacity="0.35" stroke-width="0.4"/>
<ellipse cx="963.7" cy="266.1" rx="2.5" ry="2.4" fill="#d8d84a" fill-opacity="0.88" stroke="#8a9a40" stroke-opacity="0.35" stroke-width="0.4"/>
<ellipse cx="968.6" cy="263.7" rx="2.9" ry="3.4" fill="#d8d84a" fill-opacity="0.88" stroke="#8a9a40" stroke-opacity="0.35" stroke-width="0.4"/>
<ellipse cx="965.9" cy="260.5" rx="2.9" ry="3.0" fill="#40b8d0" fill-opacity="0.88" stroke="#8a9a40" stroke-opacity="0.35" stroke-width="0.4"/>
<ellipse cx="976.4" cy="260.7" rx="3.1" ry="2.9" fill="#c8d040" fill-opacity="0.88" stroke="#8a9a40" stroke-opacity="0.35" stroke-width="0.4"/>
<ellipse cx="972.2" cy="267.6" rx="2.0" ry="2.0" fill="#e8a040" fill-opacity="0.88" stroke="#8a9a40" stroke-opacity="0.35" stroke-width="0.4"/>
<ellipse cx="968.2" cy="264.8" rx="3.0" ry="2.2" fill="#d8d84a" fill-opacity="0.88" stroke="#8a9a40" stroke-opacity="0.35" stroke-width="0.4"/>
<ellipse cx="964.9" cy="262.0" rx="2.8" ry="2.7" fill="#e0dc50" fill-opacity="0.88" stroke="#8a9a40" stroke-opacity="0.35" stroke-width="0.4"/>
<ellipse cx="965.4" cy="264.9" rx="2.4" ry="1.8" fill="#40b8d0" fill-opacity="0.88" stroke="#8a9a40" stroke-opacity="0.35" stroke-width="0.4"/>
<ellipse cx="964.9" cy="268.4" rx="1.8" ry="2.3" fill="#e0dc50" fill-opacity="0.88" stroke="#8a9a40" stroke-opacity="0.35" stroke-width="0.4"/>
<ellipse cx="965.5" cy="267.3" rx="2.1" ry="1.7" fill="#d8d84a" fill-opacity="0.88" stroke="#8a9a40" stroke-opacity="0.35" stroke-width="0.4"/>
<ellipse cx="973.4" cy="270.2" rx="3.7" ry="4.3" fill="#48c4d4" fill-opacity="0.88" stroke="#8a9a40" stroke-opacity="0.35" stroke-width="0.4"/>
<ellipse cx="972.6" cy="270.4" rx="3.0" ry="2.7" fill="#c8d040" fill-opacity="0.88" stroke="#8a9a40" stroke-opacity="0.35" stroke-width="0.4"/>
<ellipse cx="967.3" cy="268.7" rx="2.7" ry="2.5" fill="#e8a040" fill-opacity="0.88" stroke="#8a9a40" stroke-opacity="0.35" stroke-width="0.4"/>
<ellipse cx="963.3" cy="264.9" rx="2.7" ry="3.2" fill="#e0dc50" fill-opacity="0.88" stroke="#8a9a40" stroke-opacity="0.35" stroke-width="0.4"/>
<ellipse cx="969.4" cy="259.9" rx="3.1" ry="2.5" fill="#d8d84a" fill-opacity="0.88" stroke="#8a9a40" stroke-opacity="0.35" stroke-width="0.4"/>
<ellipse cx="954.4" cy="291.5" rx="3.4" ry="2.6" fill="#58cce0" fill-opacity="0.88" stroke="#8a9a40" stroke-opacity="0.35" stroke-width="0.4"/>
<ellipse cx="962.4" cy="294.2" rx="3.3" ry="3.5" fill="#58cce0" fill-opacity="0.88" stroke="#8a9a40" stroke-opacity="0.35" stroke-width="0.4"/>
<ellipse cx="965.9" cy="293.4" rx="4.0" ry="5.1" fill="#48c4d4" fill-opacity="0.88" stroke="#8a9a40" stroke-opacity="0.35" stroke-width="0.4"/>
<ellipse cx="965.9" cy="298.4" rx="2.5" ry="2.5" fill="#48c4d4" fill-opacity="0.88" stroke="#8a9a40" stroke-opacity="0.35" stroke-width="0.4"/>
<ellipse cx="955.2" cy="289.7" rx="2.1" ry="2.7" fill="#58cce0" fill-opacity="0.88" stroke="#8a9a40" stroke-opacity="0.35" stroke-width="0.4"/>
<ellipse cx="952.1" cy="304.3" rx="3.6" ry="3.5" fill="#48c4d4" fill-opacity="0.88" stroke="#8a9a40" stroke-opacity="0.35" stroke-width="0.4"/>
<ellipse cx="950.8" cy="291.4" rx="3.1" ry="3.7" fill="#58cce0" fill-opacity="0.88" stroke="#8a9a40" stroke-opacity="0.35" stroke-width="0.4"/>
<ellipse cx="957.9" cy="306.3" rx="3.0" ry="2.8" fill="#58cce0" fill-opacity="0.88" stroke="#8a9a40" stroke-opacity="0.35" stroke-width="0.4"/>
<ellipse cx="951.6" cy="296.2" rx="3.4" ry="3.9" fill="#58cce0" fill-opacity="0.88" stroke="#8a9a40" stroke-opacity="0.35" stroke-width="0.4"/>
<ellipse cx="959.9" cy="298.0" rx="4.1" ry="3.7" fill="#48c4d4" fill-opacity="0.88" stroke="#8a9a40" stroke-opacity="0.35" stroke-width="0.4"/>
<ellipse cx="952.4" cy="297.8" rx="3.5" ry="2.5" fill="#40b8d0" fill-opacity="0.88" stroke="#8a9a40" stroke-opacity="0.35" stroke-width="0.4"/>
<ellipse cx="959.3" cy="299.6" rx="3.7" ry="3.2" fill="#48c4d4" fill-opacity="0.88" stroke="#8a9a40" stroke-opacity="0.35" stroke-width="0.4"/>
<ellipse cx="962.4" cy="289.8" rx="3.7" ry="3.4" fill="#58cce0" fill-opacity="0.88" stroke="#8a9a40" stroke-opacity="0.35" stroke-width="0.4"/>
<ellipse cx="947.1" cy="297.8" rx="2.4" ry="1.7" fill="#48c4d4" fill-opacity="0.88" stroke="#8a9a40" stroke-opacity="0.35" stroke-width="0.4"/>
<ellipse cx="963.5" cy="303.5" rx="3.2" ry="3.3" fill="#c8d040" fill-opacity="0.88" stroke="#8a9a40" stroke-opacity="0.35" stroke-width="0.4"/>
<ellipse cx="955.4" cy="294.6" rx="2.1" ry="2.7" fill="#40b8d0" fill-opacity="0.88" stroke="#8a9a40" stroke-opacity="0.35" stroke-width="0.4"/>
<ellipse cx="957.8" cy="301.6" rx="3.5" ry="2.5" fill="#d8d84a" fill-opacity="0.88" stroke="#8a9a40" stroke-opacity="0.35" stroke-width="0.4"/>
<ellipse cx="964.3" cy="297.7" rx="4.0" ry="3.5" fill="#48c4d4" fill-opacity="0.88" stroke="#8a9a40" stroke-opacity="0.35" stroke-width="0.4"/>
<ellipse cx="957.4" cy="290.8" rx="3.0" ry="2.3" fill="#58cce0" fill-opacity="0.88" stroke="#8a9a40" stroke-opacity="0.35" stroke-width="0.4"/>
<ellipse cx="962.3" cy="294.9" rx="4.1" ry="4.1" fill="#48c4d4" fill-opacity="0.88" stroke="#8a9a40" stroke-opacity="0.35" stroke-width="0.4"/>
<ellipse cx="947.4" cy="302.2" rx="3.3" ry="3.6" fill="#48c4d4" fill-opacity="0.88" stroke="#8a9a40" stroke-opacity="0.35" stroke-width="0.4"/>
<ellipse cx="953.2" cy="286.0" rx="3.0" ry="2.7" fill="#48c4d4" fill-opacity="0.88" stroke="#8a9a40" stroke-opacity="0.35" stroke-width="0.4"/>
<ellipse cx="956.6" cy="302.5" rx="3.2" ry="2.3" fill="#58cce0" fill-opacity="0.88" stroke="#8a9a40" stroke-opacity="0.35" stroke-width="0.4"/>
<ellipse cx="963.2" cy="291.7" rx="2.5" ry="1.9" fill="#48c4d4" fill-opacity="0.88" stroke="#8a9a40" stroke-opacity="0.35" stroke-width="0.4"/>
<ellipse cx="927.5" cy="286.9" rx="2.0" ry="1.7" fill="#d8d84a" fill-opacity="0.88" stroke="#8a9a40" stroke-opacity="0.35" stroke-width="0.4"/>
<ellipse cx="927.6" cy="291.9" rx="2.2" ry="2.7" fill="#e0dc50" fill-opacity="0.88" stroke="#8a9a40" stroke-opacity="0.35" stroke-width="0.4"/>
<ellipse cx="929.8" cy="293.1" rx="3.2" ry="3.5" fill="#c8d040" fill-opacity="0.88" stroke="#8a9a40" stroke-opacity="0.35" stroke-width="0.4"/>
<ellipse cx="926.7" cy="295.6" rx="4.0" ry="2.8" fill="#40b8d0" fill-opacity="0.88" stroke="#8a9a40" stroke-opacity="0.35" stroke-width="0.4"/>
<ellipse cx="940.4" cy="291.8" rx="3.9" ry="4.1" fill="#58cce0" fill-opacity="0.88" stroke="#8a9a40" stroke-opacity="0.35" stroke-width="0.4"/>
<ellipse cx="933.8" cy="301.0" rx="3.5" ry="4.3" fill="#40b8d0" fill-opacity="0.88" stroke="#8a9a40" stroke-opacity="0.35" stroke-width="0.4"/>
<ellipse cx="933.1" cy="291.3" rx="2.2" ry="2.4" fill="#d8d84a" fill-opacity="0.88" stroke="#8a9a40" stroke-opacity="0.35" stroke-width="0.4"/>
<ellipse cx="931.6" cy="301.9" rx="1.8" ry="2.1" fill="#58cce0" fill-opacity="0.88" stroke="#8a9a40" stroke-opacity="0.35" stroke-width="0.4"/>
<ellipse cx="928.2" cy="298.6" rx="2.5" ry="2.4" fill="#e8a040" fill-opacity="0.88" stroke="#8a9a40" stroke-opacity="0.35" stroke-width="0.4"/>
<ellipse cx="934.9" cy="288.1" rx="3.5" ry="2.8" fill="#e8a040" fill-opacity="0.88" stroke="#8a9a40" stroke-opacity="0.35" stroke-width="0.4"/>
<ellipse cx="928.0" cy="298.1" rx="2.3" ry="2.6" fill="#d8d84a" fill-opacity="0.88" stroke="#8a9a40" stroke-opacity="0.35" stroke-width="0.4"/>
<ellipse cx="927.1" cy="291.2" rx="2.6" ry="2.0" fill="#e0dc50" fill-opacity="0.88" stroke="#8a9a40" stroke-opacity="0.35" stroke-width="0.4"/>
<ellipse cx="932.3" cy="299.7" rx="2.8" ry="2.4" fill="#e0dc50" fill-opacity="0.88" stroke="#8a9a40" stroke-opacity="0.35" stroke-width="0.4"/>
<ellipse cx="933.6" cy="293.9" rx="3.0" ry="3.7" fill="#40b8d0" fill-opacity="0.88" stroke="#8a9a40" stroke-opacity="0.35" stroke-width="0.4"/>
<ellipse cx="932.3" cy="292.5" rx="2.5" ry="2.6" fill="#48c4d4" fill-opacity="0.88" stroke="#8a9a40" stroke-opacity="0.35" stroke-width="0.4"/>
<ellipse cx="938.6" cy="296.9" rx="2.8" ry="2.0" fill="#e8a040" fill-opacity="0.88" stroke="#8a9a40" stroke-opacity="0.35" stroke-width="0.4"/>
<ellipse cx="939.8" cy="288.0" rx="2.2" ry="2.1" fill="#c8d040" fill-opacity="0.88" stroke="#8a9a40" stroke-opacity="0.35" stroke-width="0.4"/>
<ellipse cx="941.1" cy="292.5" rx="2.6" ry="3.3" fill="#d8d84a" fill-opacity="0.88" stroke="#8a9a40" stroke-opacity="0.35" stroke-width="0.4"/>
<ellipse cx="948.8" cy="310.1" rx="2.0" ry="2.5" fill="#e0dc50" fill-opacity="0.88" stroke="#8a9a40" stroke-opacity="0.35" stroke-width="0.4"/>
<ellipse cx="953.8" cy="311.4" rx="3.2" ry="3.8" fill="#40b8d0" fill-opacity="0.88" stroke="#8a9a40" stroke-opacity="0.35" stroke-width="0.4"/>
<ellipse cx="961.7" cy="312.8" rx="2.7" ry="3.1" fill="#c8d040" fill-opacity="0.88" stroke="#8a9a40" stroke-opacity="0.35" stroke-width="0.4"/>
<ellipse cx="950.7" cy="311.7" rx="3.3" ry="3.6" fill="#e0dc50" fill-opacity="0.88" stroke="#8a9a40" stroke-opacity="0.35" stroke-width="0.4"/>
<ellipse cx="947.0" cy="310.5" rx="2.9" ry="2.4" fill="#e0dc50" fill-opacity="0.88" stroke="#8a9a40" stroke-opacity="0.35" stroke-width="0.4"/>
<ellipse cx="946.7" cy="313.4" rx="3.5" ry="3.6" fill="#e0dc50" fill-opacity="0.88" stroke="#8a9a40" stroke-opacity="0.35" stroke-width="0.4"/>
<ellipse cx="950.8" cy="308.5" rx="3.4" ry="4.2" fill="#d8d84a" fill-opacity="0.88" stroke="#8a9a40" stroke-opacity="0.35" stroke-width="0.4"/>
<ellipse cx="958.5" cy="309.0" rx="3.0" ry="2.4" fill="#d8d84a" fill-opacity="0.88" stroke="#8a9a40" stroke-opacity="0.35" stroke-width="0.4"/>
<ellipse cx="949.9" cy="308.7" rx="3.3" ry="2.9" fill="#58cce0" fill-opacity="0.88" stroke="#8a9a40" stroke-opacity="0.35" stroke-width="0.4"/>
<ellipse cx="961.5" cy="308.0" rx="3.4" ry="3.8" fill="#c8d040" fill-opacity="0.88" stroke="#8a9a40" stroke-opacity="0.35" stroke-width="0.4"/>
<ellipse cx="954.4" cy="310.5" rx="3.8" ry="4.8" fill="#e0dc50" fill-opacity="0.88" stroke="#8a9a40" stroke-opacity="0.35" stroke-width="0.4"/>
<ellipse cx="957.8" cy="312.5" rx="3.4" ry="3.9" fill="#d8d84a" fill-opacity="0.88" stroke="#8a9a40" stroke-opacity="0.35" stroke-width="0.4"/>
<ellipse cx="954.7" cy="311.4" rx="3.9" ry="3.9" fill="#d8d84a" fill-opacity="0.88" stroke="#8a9a40" stroke-opacity="0.35" stroke-width="0.4"/>
<ellipse cx="959.6" cy="311.1" rx="1.9" ry="2.2" fill="#d8d84a" fill-opacity="0.88" stroke="#8a9a40" stroke-opacity="0.35" stroke-width="0.4"/>
<ellipse cx="972.7" cy="318.2" rx="1.9" ry="2.4" fill="#58cce0" fill-opacity="0.88" stroke="#8a9a40" stroke-opacity="0.35" stroke-width="0.4"/>
<ellipse cx="963.4" cy="316.3" rx="1.9" ry="1.4" fill="#58cce0" fill-opacity="0.88" stroke="#8a9a40" stroke-opacity="0.35" stroke-width="0.4"/>
<ellipse cx="970.8" cy="325.6" rx="4.0" ry="3.0" fill="#48c4d4" fill-opacity="0.88" stroke="#8a9a40" stroke-opacity="0.35" stroke-width="0.4"/>
<ellipse cx="977.7" cy="319.1" rx="2.3" ry="2.1" fill="#48c4d4" fill-opacity="0.88" stroke="#8a9a40" stroke-opacity="0.35" stroke-width="0.4"/>
<ellipse cx="966.7" cy="315.4" rx="3.1" ry="3.2" fill="#e0dc50" fill-opacity="0.88" stroke="#8a9a40" stroke-opacity="0.35" stroke-width="0.4"/>
<ellipse cx="977.0" cy="315.6" rx="2.1" ry="2.5" fill="#48c4d4" fill-opacity="0.88" stroke="#8a9a40" stroke-opacity="0.35" stroke-width="0.4"/>
<ellipse cx="968.3" cy="319.9" rx="3.2" ry="2.7" fill="#40b8d0" fill-opacity="0.88" stroke="#8a9a40" stroke-opacity="0.35" stroke-width="0.4"/>
<ellipse cx="972.0" cy="310.6" rx="3.6" ry="3.6" fill="#58cce0" fill-opacity="0.88" stroke="#8a9a40" stroke-opacity="0.35" stroke-width="0.4"/>
<ellipse cx="969.6" cy="322.9" rx="2.9" ry="3.1" fill="#e8a040" fill-opacity="0.88" stroke="#8a9a40" stroke-opacity="0.35" stroke-width="0.4"/>
<ellipse cx="968.5" cy="321.8" rx="3.5" ry="3.1" fill="#d8d84a" fill-opacity="0.88" stroke="#8a9a40" stroke-opacity="0.35" stroke-width="0.4"/>
<ellipse cx="972.8" cy="324.4" rx="2.4" ry="2.0" fill="#58cce0" fill-opacity="0.88" stroke="#8a9a40" stroke-opacity="0.35" stroke-width="0.4"/>
<ellipse cx="977.0" cy="319.4" rx="3.3" ry="2.9" fill="#48c4d4" fill-opacity="0.88" stroke="#8a9a40" stroke-opacity="0.35" stroke-width="0.4"/>
<ellipse cx="967.5" cy="325.7" rx="2.8" ry="3.3" fill="#d8d84a" fill-opacity="0.88" stroke="#8a9a40" stroke-opacity="0.35" stroke-width="0.4"/>
<ellipse cx="963.3" cy="320.7" rx="2.1" ry="1.6" fill="#e8a040" fill-opacity="0.88" stroke="#8a9a40" stroke-opacity="0.35" stroke-width="0.4"/>
<ellipse cx="972.7" cy="317.7" rx="2.2" ry="2.8" fill="#40b8d0" fill-opacity="0.88" stroke="#8a9a40" stroke-opacity="0.35" stroke-width="0.4"/>
<ellipse cx="971.1" cy="319.8" rx="2.9" ry="3.6" fill="#e8a040" fill-opacity="0.88" stroke="#8a9a40" stroke-opacity="0.35" stroke-width="0.4"/>
<ellipse cx="915.3" cy="321.9" rx="2.5" ry="2.8" fill="#48c4d4" fill-opacity="0.88" stroke="#8a9a40" stroke-opacity="0.35" stroke-width="0.4"/>
<ellipse cx="916.6" cy="322.7" rx="2.9" ry="3.8" fill="#c8d040" fill-opacity="0.88" stroke="#8a9a40" stroke-opacity="0.35" stroke-width="0.4"/>
<ellipse cx="905.9" cy="321.6" rx="2.6" ry="2.5" fill="#d8d84a" fill-opacity="0.88" stroke="#8a9a40" stroke-opacity="0.35" stroke-width="0.4"/>
<ellipse cx="912.5" cy="319.2" rx="2.4" ry="2.1" fill="#48c4d4" fill-opacity="0.88" stroke="#8a9a40" stroke-opacity="0.35" stroke-width="0.4"/>
<ellipse cx="917.7" cy="321.6" rx="1.4" ry="1.1" fill="#e0dc50" fill-opacity="0.88" stroke="#8a9a40" stroke-opacity="0.35" stroke-width="0.4"/>
<ellipse cx="916.6" cy="321.6" rx="3.0" ry="3.0" fill="#40b8d0" fill-opacity="0.88" stroke="#8a9a40" stroke-opacity="0.35" stroke-width="0.4"/>
<ellipse cx="905.0" cy="320.2" rx="2.7" ry="3.1" fill="#58cce0" fill-opacity="0.88" stroke="#8a9a40" stroke-opacity="0.35" stroke-width="0.4"/>
<ellipse cx="908.7" cy="320.0" rx="2.9" ry="3.4" fill="#48c4d4" fill-opacity="0.88" stroke="#8a9a40" stroke-opacity="0.35" stroke-width="0.4"/>
<ellipse cx="910.4" cy="324.2" rx="3.2" ry="3.1" fill="#d8d84a" fill-opacity="0.88" stroke="#8a9a40" stroke-opacity="0.35" stroke-width="0.4"/>
<ellipse cx="911.3" cy="319.8" rx="2.0" ry="2.0" fill="#58cce0" fill-opacity="0.88" stroke="#8a9a40" stroke-opacity="0.35" stroke-width="0.4"/>
<ellipse cx="905.7" cy="263.0" rx="2.5" ry="3.0" fill="#e0dc50" fill-opacity="0.88" stroke="#8a9a40" stroke-opacity="0.35" stroke-width="0.4"/>
<ellipse cx="905.7" cy="264.1" rx="3.5" ry="3.1" fill="#c8d040" fill-opacity="0.88" stroke="#8a9a40" stroke-opacity="0.35" stroke-width="0.4"/>
<ellipse cx="908.4" cy="261.2" rx="2.8" ry="2.5" fill="#58cce0" fill-opacity="0.88" stroke="#8a9a40" stroke-opacity="0.35" stroke-width="0.4"/>
<ellipse cx="908.5" cy="268.9" rx="3.3" ry="3.6" fill="#58cce0" fill-opacity="0.88" stroke="#8a9a40" stroke-opacity="0.35" stroke-width="0.4"/>
<ellipse cx="911.3" cy="262.1" rx="1.9" ry="2.4" fill="#58cce0" fill-opacity="0.88" stroke="#8a9a40" stroke-opacity="0.35" stroke-width="0.4"/>
<ellipse cx="907.6" cy="270.1" rx="3.0" ry="2.4" fill="#d8d84a" fill-opacity="0.88" stroke="#8a9a40" stroke-opacity="0.35" stroke-width="0.4"/>
<ellipse cx="908.7" cy="267.7" rx="2.2" ry="2.4" fill="#48c4d4" fill-opacity="0.88" stroke="#8a9a40" stroke-opacity="0.35" stroke-width="0.4"/>
<ellipse cx="906.5" cy="263.7" rx="2.2" ry="2.4" fill="#d8d84a" fill-opacity="0.88" stroke="#8a9a40" stroke-opacity="0.35" stroke-width="0.4"/>
<ellipse cx="907.7" cy="259.9" rx="1.7" ry="1.5" fill="#48c4d4" fill-opacity="0.88" stroke="#8a9a40" stroke-opacity="0.35" stroke-width="0.4"/>
<ellipse cx="912.9" cy="266.1" rx="2.9" ry="2.7" fill="#48c4d4" fill-opacity="0.88" stroke="#8a9a40" stroke-opacity="0.35" stroke-width="0.4"/>
<ellipse cx="979.5" cy="293.4" rx="3.3" ry="3.1" fill="#d8d84a" fill-opacity="0.88" stroke="#8a9a40" stroke-opacity="0.35" stroke-width="0.4"/>
<ellipse cx="987.7" cy="293.2" rx="1.6" ry="1.6" fill="#e8a040" fill-opacity="0.88" stroke="#8a9a40" stroke-opacity="0.35" stroke-width="0.4"/>
<ellipse cx="985.8" cy="295.7" rx="3.1" ry="2.3" fill="#d8d84a" fill-opacity="0.88" stroke="#8a9a40" stroke-opacity="0.35" stroke-width="0.4"/>
<ellipse cx="986.8" cy="294.8" rx="3.2" ry="4.0" fill="#d8d84a" fill-opacity="0.88" stroke="#8a9a40" stroke-opacity="0.35" stroke-width="0.4"/>
<ellipse cx="979.9" cy="292.3" rx="1.9" ry="1.8" fill="#40b8d0" fill-opacity="0.88" stroke="#8a9a40" stroke-opacity="0.35" stroke-width="0.4"/>
<ellipse cx="984.9" cy="295.3" rx="2.3" ry="2.0" fill="#c8d040" fill-opacity="0.88" stroke="#8a9a40" stroke-opacity="0.35" stroke-width="0.4"/>
<ellipse cx="985.8" cy="291.2" rx="2.0" ry="1.6" fill="#e0dc50" fill-opacity="0.88" stroke="#8a9a40" stroke-opacity="0.35" stroke-width="0.4"/>
<ellipse cx="982.8" cy="297.7" rx="3.1" ry="3.9" fill="#e0dc50" fill-opacity="0.88" stroke="#8a9a40" stroke-opacity="0.35" stroke-width="0.4"/>
<ellipse cx="940.7" cy="339.2" rx="2.0" ry="2.6" fill="#d8d84a" fill-opacity="0.88" stroke="#8a9a40" stroke-opacity="0.35" stroke-width="0.4"/>
<ellipse cx="940.8" cy="338.9" rx="2.8" ry="3.4" fill="#e0dc50" fill-opacity="0.88" stroke="#8a9a40" stroke-opacity="0.35" stroke-width="0.4"/>
<ellipse cx="947.4" cy="338.6" rx="3.5" ry="2.5" fill="#48c4d4" fill-opacity="0.88" stroke="#8a9a40" stroke-opacity="0.35" stroke-width="0.4"/>
<ellipse cx="943.6" cy="338.2" rx="2.5" ry="1.8" fill="#58cce0" fill-opacity="0.88" stroke="#8a9a40" stroke-opacity="0.35" stroke-width="0.4"/>
<ellipse cx="945.1" cy="339.9" rx="1.6" ry="1.9" fill="#58cce0" fill-opacity="0.88" stroke="#8a9a40" stroke-opacity="0.35" stroke-width="0.4"/>
<ellipse cx="945.4" cy="340.6" rx="2.6" ry="3.1" fill="#48c4d4" fill-opacity="0.88" stroke="#8a9a40" stroke-opacity="0.35" stroke-width="0.4"/>
<ellipse cx="957.5" cy="245.2" rx="3.2" ry="3.3" fill="#c8d040" fill-opacity="0.88" stroke="#8a9a40" stroke-opacity="0.35" stroke-width="0.4"/>
<ellipse cx="956.3" cy="244.7" rx="3.6" ry="3.5" fill="#d8d84a" fill-opacity="0.88" stroke="#8a9a40" stroke-opacity="0.35" stroke-width="0.4"/>
<ellipse cx="959.1" cy="243.2" rx="2.4" ry="3.0" fill="#e0dc50" fill-opacity="0.88" stroke="#8a9a40" stroke-opacity="0.35" stroke-width="0.4"/>
<ellipse cx="961.6" cy="245.5" rx="2.6" ry="3.3" fill="#48c4d4" fill-opacity="0.88" stroke="#8a9a40" stroke-opacity="0.35" stroke-width="0.4"/>
<ellipse cx="956.4" cy="244.4" rx="2.8" ry="2.9" fill="#e0dc50" fill-opacity="0.88" stroke="#8a9a40" stroke-opacity="0.35" stroke-width="0.4"/>
<rect x="732.10" y="222.70" width="142.50" height="147.00" fill="#79b42e" stroke="none" stroke-width="1"/>
<ellipse cx="802.0" cy="258.0" rx="4.5" ry="4.0" fill="#2a7ad0" fill-opacity="1"/>
<ellipse cx="804.0" cy="262.0" rx="2.0" ry="3.0" fill="#3090e0" fill-opacity="1"/>
<ellipse cx="797.5" cy="253.5" rx="1.8" ry="2.0" fill="#f0c020" fill-opacity="1"/>
<ellipse cx="810.0" cy="253.5" rx="1.6" ry="2.2" fill="#e8d040" fill-opacity="1"/>
<ellipse cx="803.7" cy="271.5" rx="4.0" ry="2.0" fill="#f0d030" fill-opacity="1"/>
<ellipse cx="800.5" cy="281.5" rx="2.2" ry="2.2" fill="#e02010" fill-opacity="1"/>
<ellipse cx="825.5" cy="292.5" rx="2.2" ry="2.0" fill="#30a0e8" fill-opacity="1"/>
<ellipse cx="817.0" cy="292.0" rx="1.2" ry="1.2" fill="#60c0e0" fill-opacity="1"/>
<ellipse cx="788.0" cy="293.0" rx="4.0" ry="3.0" fill="#b8cc40" fill-opacity="0.6"/>
<ellipse cx="840.0" cy="312.0" rx="3.0" ry="3.0" fill="#c8d040" fill-opacity="0.6"/>
<ellipse cx="838.0" cy="283.0" rx="5.0" ry="4.0" fill="#a8c840" fill-opacity="0.5"/>
<ellipse cx="792.0" cy="286.0" rx="3.0" ry="2.0" fill="#a8c840" fill-opacity="0.5"/>
<rect x="1021.60" y="222.70" width="141.70" height="146.00" fill="#6aaa30" stroke="none" stroke-width="1"/>
<ellipse cx="1088.0" cy="276.0" rx="3.0" ry="2.5" fill="#40b0e8" fill-opacity="1"/>
<ellipse cx="1096.0" cy="276.0" rx="3.0" ry="2.5" fill="#40b0e8" fill-opacity="1"/>
<ellipse cx="1088.0" cy="284.0" rx="3.0" ry="2.5" fill="#2a80d8" fill-opacity="1"/>
<ellipse cx="1096.0" cy="284.0" rx="3.0" ry="2.5" fill="#2a80d8" fill-opacity="1"/>
<ellipse cx="1092.0" cy="280.0" rx="2.0" ry="2.0" fill="#48a8c8" fill-opacity="1"/>
<ellipse cx="1112.0" cy="283.0" rx="3.0" ry="2.0" fill="#c8d040" fill-opacity="0.8"/>
<ellipse cx="1110.0" cy="296.0" rx="3.0" ry="2.0" fill="#d8d040" fill-opacity="0.8"/>
<ellipse cx="1109.0" cy="292.0" rx="1.6" ry="1.6" fill="#40b0e0" fill-opacity="1"/>
<ellipse cx="1051.0" cy="297.0" rx="1.5" ry="6.0" fill="#60b0c8" fill-opacity="0.8"/>
<ellipse cx="1093.0" cy="315.0" rx="7.0" ry="2.0" fill="#c8d040" fill-opacity="0.7"/>
<ellipse cx="1138.0" cy="262.0" rx="2.0" ry="2.0" fill="#d8d040" fill-opacity="0.8"/>
<ellipse cx="1133.0" cy="265.0" rx="1.5" ry="1.5" fill="#c8d040" fill-opacity="0.7"/>
<rect x="1169.30" y="213.60" width="10.00" height="166.20" fill="url(#cbar)" stroke="none" stroke-width="1"/>
<path d="M1179.3 213.6L1182 213.6M1179.3 230.2L1182 230.2M1179.3 246.8L1182 246.8M1179.3 263.5L1182 263.5M1179.3 280.1L1182 280.1M1179.3 296.7L1182 296.7M1179.3 313.3L1182 313.3M1179.3 329.9L1182 329.9M1179.3 346.6L1182 346.6M1179.3 363.2L1182 363.2M1179.3 379.8L1182 379.8" stroke="#444" stroke-width="0.7" fill="none"/>
<text x="1182.6" y="217.6" font-size="14" text-anchor="start" fill="#222" textLength="17.4" lengthAdjust="spacingAndGlyphs">0.5</text>
<text x="1182.6" y="300.6" font-size="14" text-anchor="start" fill="#222">0</text>
<text x="1182.7" y="382.6" font-size="14" text-anchor="start" fill="#222" textLength="21.3" lengthAdjust="spacingAndGlyphs">-0.5</text>
<text x="766.0" y="216.9" font-size="13.5" text-anchor="start" fill="#333" textLength="63.7" lengthAdjust="spacingAndGlyphs"><tspan>Cu</tspan><tspan dy="4.0" font-size="8.8">8</tspan><tspan dy="-4.0">Fe</tspan><tspan dy="4.0" font-size="8.8">2</tspan><tspan dy="-4.0">NCs</tspan></text>
<text x="1064.2" y="217.0" font-size="13.5" text-anchor="start" fill="#333" textLength="63.4" lengthAdjust="spacingAndGlyphs"><tspan>Cu</tspan><tspan dy="4.0" font-size="8.8">2</tspan><tspan dy="-4.0">Fe</tspan><tspan dy="4.0" font-size="8.8">8</tspan><tspan dy="-4.0">NCs</tspan></text>
<text x="877.4" y="202.6" font-size="13" text-anchor="start" fill="#333" textLength="15.6" lengthAdjust="spacingAndGlyphs">Cu</text>
<text x="933.1" y="202.6" font-size="13" text-anchor="start" fill="#333" textLength="14.0" lengthAdjust="spacingAndGlyphs">Fe</text>
<text x="986.9" y="203.6" font-size="13" text-anchor="start" fill="#333" textLength="10.3" lengthAdjust="spacingAndGlyphs">O</text>
<circle cx="886.4" cy="215.9" r="7.0" fill="url(#eCu)"/>
<circle cx="940.1" cy="215.9" r="7.2" fill="url(#eFe)"/>
<circle cx="990.8" cy="215.9" r="4.0" fill="url(#eO)"/>
<text x="407.9" y="312.7" font-size="14" text-anchor="start" fill="#333" textLength="16.3" lengthAdjust="spacingAndGlyphs">Cu</text>
<text x="464.5" y="312.7" font-size="14" text-anchor="start" fill="#333" textLength="13.9" lengthAdjust="spacingAndGlyphs">Fe</text>
<text x="521.4" y="312.7" font-size="14" text-anchor="start" fill="#333" textLength="9.8" lengthAdjust="spacingAndGlyphs">O</text>
<circle cx="414.2" cy="333.9" r="15.2" fill="url(#gCu)"/>
<circle cx="470.3" cy="334.5" r="14.6" fill="url(#gFe)"/>
<circle cx="524.9" cy="333.3" r="9.0" fill="url(#gO)"/>
<g clip-path="url(#cm1)">
<rect x="533.70" y="382.20" width="137.30" height="142.60" fill="#2c5ac0" stroke="none" stroke-width="1"/>
<circle cx="525.3" cy="371.7" r="13.5" fill="url(#haloA)"/>
<circle cx="559.2" cy="371.7" r="13.5" fill="url(#haloA)"/>
<circle cx="593.1" cy="371.7" r="13.5" fill="url(#haloA)"/>
<circle cx="627.0" cy="371.7" r="13.5" fill="url(#haloA)"/>
<circle cx="660.9" cy="371.7" r="13.5" fill="url(#haloA)"/>
<circle cx="694.8" cy="371.7" r="13.5" fill="url(#haloA)"/>
<circle cx="728.7" cy="371.7" r="13.5" fill="url(#haloA)"/>
<circle cx="508.5" cy="389.5" r="13.5" fill="url(#haloA)"/>
<circle cx="542.4" cy="389.5" r="13.5" fill="url(#haloA)"/>
<circle cx="576.3" cy="389.5" r="13.5" fill="url(#haloA)"/>
<circle cx="610.2" cy="389.5" r="13.5" fill="url(#haloA)"/>
<circle cx="644.1" cy="389.5" r="13.5" fill="url(#haloA)"/>
<circle cx="678.0" cy="389.5" r="13.5" fill="url(#haloA)"/>
<circle cx="711.9" cy="389.5" r="13.5" fill="url(#haloA)"/>
<circle cx="525.3" cy="407.3" r="13.5" fill="url(#haloA)"/>
<circle cx="559.2" cy="407.3" r="13.5" fill="url(#haloA)"/>
<circle cx="593.1" cy="407.3" r="13.5" fill="url(#haloA)"/>
<circle cx="627.0" cy="407.3" r="13.5" fill="url(#haloA)"/>
<circle cx="660.9" cy="407.3" r="13.5" fill="url(#haloA)"/>
<circle cx="694.8" cy="407.3" r="13.5" fill="url(#haloA)"/>
<circle cx="728.7" cy="407.3" r="13.5" fill="url(#haloA)"/>
<circle cx="508.5" cy="425.1" r="13.5" fill="url(#haloA)"/>
<circle cx="542.4" cy="425.1" r="13.5" fill="url(#haloA)"/>
<circle cx="576.3" cy="425.1" r="13.5" fill="url(#haloA)"/>
<circle cx="610.2" cy="425.1" r="13.5" fill="url(#haloA)"/>
<circle cx="644.1" cy="425.1" r="13.5" fill="url(#haloA)"/>
<circle cx="678.0" cy="425.1" r="13.5" fill="url(#haloA)"/>
<circle cx="711.9" cy="425.1" r="13.5" fill="url(#haloA)"/>
<circle cx="525.3" cy="442.9" r="13.5" fill="url(#haloA)"/>
<circle cx="559.2" cy="442.9" r="13.5" fill="url(#haloA)"/>
<circle cx="593.1" cy="442.9" r="13.5" fill="url(#haloA)"/>
<circle cx="627.0" cy="442.9" r="13.5" fill="url(#haloA)"/>
<circle cx="660.9" cy="442.9" r="13.5" fill="url(#haloA)"/>
<circle cx="694.8" cy="442.9" r="13.5" fill="url(#haloA)"/>
<circle cx="728.7" cy="442.9" r="13.5" fill="url(#haloA)"/>
<circle cx="508.5" cy="460.7" r="13.5" fill="url(#haloA)"/>
<circle cx="542.4" cy="460.7" r="13.5" fill="url(#haloA)"/>
<circle cx="576.3" cy="460.7" r="13.5" fill="url(#haloA)"/>
<circle cx="610.2" cy="460.7" r="13.5" fill="url(#haloA)"/>
<circle cx="644.1" cy="460.7" r="13.5" fill="url(#haloA)"/>
<circle cx="678.0" cy="460.7" r="13.5" fill="url(#haloA)"/>
<circle cx="711.9" cy="460.7" r="13.5" fill="url(#haloA)"/>
<circle cx="525.3" cy="478.5" r="13.5" fill="url(#haloA)"/>
<circle cx="559.2" cy="478.5" r="13.5" fill="url(#haloA)"/>
<circle cx="593.1" cy="478.5" r="13.5" fill="url(#haloA)"/>
<circle cx="627.0" cy="478.5" r="13.5" fill="url(#haloA)"/>
<circle cx="660.9" cy="478.5" r="13.5" fill="url(#haloA)"/>
<circle cx="694.8" cy="478.5" r="13.5" fill="url(#haloA)"/>
<circle cx="728.7" cy="478.5" r="13.5" fill="url(#haloA)"/>
<circle cx="508.5" cy="496.3" r="13.5" fill="url(#haloA)"/>
<circle cx="542.4" cy="496.3" r="13.5" fill="url(#haloA)"/>
<circle cx="576.3" cy="496.3" r="13.5" fill="url(#haloA)"/>
<circle cx="610.2" cy="496.3" r="13.5" fill="url(#haloA)"/>
<circle cx="644.1" cy="496.3" r="13.5" fill="url(#haloA)"/>
<circle cx="678.0" cy="496.3" r="13.5" fill="url(#haloA)"/>
<circle cx="711.9" cy="496.3" r="13.5" fill="url(#haloA)"/>
<circle cx="525.3" cy="514.1" r="13.5" fill="url(#haloA)"/>
<circle cx="559.2" cy="514.1" r="13.5" fill="url(#haloA)"/>
<circle cx="593.1" cy="514.1" r="13.5" fill="url(#haloA)"/>
<circle cx="627.0" cy="514.1" r="13.5" fill="url(#haloA)"/>
<circle cx="660.9" cy="514.1" r="13.5" fill="url(#haloA)"/>
<circle cx="694.8" cy="514.1" r="13.5" fill="url(#haloA)"/>
<circle cx="728.7" cy="514.1" r="13.5" fill="url(#haloA)"/>
<circle cx="508.5" cy="531.9" r="13.5" fill="url(#haloA)"/>
<circle cx="542.4" cy="531.9" r="13.5" fill="url(#haloA)"/>
<circle cx="576.3" cy="531.9" r="13.5" fill="url(#haloA)"/>
<circle cx="610.2" cy="531.9" r="13.5" fill="url(#haloA)"/>
<circle cx="644.1" cy="531.9" r="13.5" fill="url(#haloA)"/>
<circle cx="678.0" cy="531.9" r="13.5" fill="url(#haloA)"/>
<circle cx="711.9" cy="531.9" r="13.5" fill="url(#haloA)"/>
<circle cx="525.3" cy="549.7" r="13.5" fill="url(#haloA)"/>
<circle cx="559.2" cy="549.7" r="13.5" fill="url(#haloA)"/>
<circle cx="593.1" cy="549.7" r="13.5" fill="url(#haloA)"/>
<circle cx="627.0" cy="549.7" r="13.5" fill="url(#haloA)"/>
<circle cx="660.9" cy="549.7" r="13.5" fill="url(#haloA)"/>
<circle cx="694.8" cy="549.7" r="13.5" fill="url(#haloA)"/>
<circle cx="728.7" cy="549.7" r="13.5" fill="url(#haloA)"/>
<circle cx="508.5" cy="371.7" r="7.0" fill="url(#darkA)"/>
<circle cx="542.4" cy="371.7" r="7.0" fill="url(#darkA)"/>
<circle cx="576.3" cy="371.7" r="7.0" fill="url(#darkA)"/>
<circle cx="610.2" cy="371.7" r="7.0" fill="url(#darkA)"/>
<circle cx="644.1" cy="371.7" r="7.0" fill="url(#darkA)"/>
<circle cx="678.0" cy="371.7" r="7.0" fill="url(#darkA)"/>
<circle cx="711.9" cy="371.7" r="7.0" fill="url(#darkA)"/>
<circle cx="525.3" cy="389.5" r="7.0" fill="url(#darkA)"/>
<circle cx="559.2" cy="389.5" r="7.0" fill="url(#darkA)"/>
<circle cx="593.1" cy="389.5" r="7.0" fill="url(#darkA)"/>
<circle cx="627.0" cy="389.5" r="7.0" fill="url(#darkA)"/>
<circle cx="660.9" cy="389.5" r="7.0" fill="url(#darkA)"/>
<circle cx="694.8" cy="389.5" r="7.0" fill="url(#darkA)"/>
<circle cx="728.7" cy="389.5" r="7.0" fill="url(#darkA)"/>
<circle cx="508.5" cy="407.3" r="7.0" fill="url(#darkA)"/>
<circle cx="542.4" cy="407.3" r="7.0" fill="url(#darkA)"/>
<circle cx="576.3" cy="407.3" r="7.0" fill="url(#darkA)"/>
<circle cx="610.2" cy="407.3" r="7.0" fill="url(#darkA)"/>
<circle cx="644.1" cy="407.3" r="7.0" fill="url(#darkA)"/>
<circle cx="678.0" cy="407.3" r="7.0" fill="url(#darkA)"/>
<circle cx="711.9" cy="407.3" r="7.0" fill="url(#darkA)"/>
<circle cx="525.3" cy="425.1" r="7.0" fill="url(#darkA)"/>
<circle cx="559.2" cy="425.1" r="7.0" fill="url(#darkA)"/>
<circle cx="593.1" cy="425.1" r="7.0" fill="url(#darkA)"/>
<circle cx="627.0" cy="425.1" r="7.0" fill="url(#darkA)"/>
<circle cx="660.9" cy="425.1" r="7.0" fill="url(#darkA)"/>
<circle cx="694.8" cy="425.1" r="7.0" fill="url(#darkA)"/>
<circle cx="728.7" cy="425.1" r="7.0" fill="url(#darkA)"/>
<circle cx="508.5" cy="442.9" r="7.0" fill="url(#darkA)"/>
<circle cx="542.4" cy="442.9" r="7.0" fill="url(#darkA)"/>
<circle cx="576.3" cy="442.9" r="7.0" fill="url(#darkA)"/>
<circle cx="610.2" cy="442.9" r="7.0" fill="url(#darkA)"/>
<circle cx="644.1" cy="442.9" r="7.0" fill="url(#darkA)"/>
<circle cx="678.0" cy="442.9" r="7.0" fill="url(#darkA)"/>
<circle cx="711.9" cy="442.9" r="7.0" fill="url(#darkA)"/>
<circle cx="525.3" cy="460.7" r="7.0" fill="url(#darkA)"/>
<circle cx="559.2" cy="460.7" r="7.0" fill="url(#darkA)"/>
<circle cx="593.1" cy="460.7" r="7.0" fill="url(#darkA)"/>
<circle cx="627.0" cy="460.7" r="7.0" fill="url(#darkA)"/>
<circle cx="660.9" cy="460.7" r="7.0" fill="url(#darkA)"/>
<circle cx="694.8" cy="460.7" r="7.0" fill="url(#darkA)"/>
<circle cx="728.7" cy="460.7" r="7.0" fill="url(#darkA)"/>
<circle cx="508.5" cy="478.5" r="7.0" fill="url(#darkA)"/>
<circle cx="542.4" cy="478.5" r="7.0" fill="url(#darkA)"/>
<circle cx="576.3" cy="478.5" r="7.0" fill="url(#darkA)"/>
<circle cx="610.2" cy="478.5" r="7.0" fill="url(#darkA)"/>
<circle cx="644.1" cy="478.5" r="7.0" fill="url(#darkA)"/>
<circle cx="678.0" cy="478.5" r="7.0" fill="url(#darkA)"/>
<circle cx="711.9" cy="478.5" r="7.0" fill="url(#darkA)"/>
<circle cx="525.3" cy="496.3" r="7.0" fill="url(#darkA)"/>
<circle cx="559.2" cy="496.3" r="7.0" fill="url(#darkA)"/>
<circle cx="593.1" cy="496.3" r="7.0" fill="url(#darkA)"/>
<circle cx="627.0" cy="496.3" r="7.0" fill="url(#darkA)"/>
<circle cx="660.9" cy="496.3" r="7.0" fill="url(#darkA)"/>
<circle cx="694.8" cy="496.3" r="7.0" fill="url(#darkA)"/>
<circle cx="728.7" cy="496.3" r="7.0" fill="url(#darkA)"/>
<circle cx="508.5" cy="514.1" r="7.0" fill="url(#darkA)"/>
<circle cx="542.4" cy="514.1" r="7.0" fill="url(#darkA)"/>
<circle cx="576.3" cy="514.1" r="7.0" fill="url(#darkA)"/>
<circle cx="610.2" cy="514.1" r="7.0" fill="url(#darkA)"/>
<circle cx="644.1" cy="514.1" r="7.0" fill="url(#darkA)"/>
<circle cx="678.0" cy="514.1" r="7.0" fill="url(#darkA)"/>
<circle cx="711.9" cy="514.1" r="7.0" fill="url(#darkA)"/>
<circle cx="525.3" cy="531.9" r="7.0" fill="url(#darkA)"/>
<circle cx="559.2" cy="531.9" r="7.0" fill="url(#darkA)"/>
<circle cx="593.1" cy="531.9" r="7.0" fill="url(#darkA)"/>
<circle cx="627.0" cy="531.9" r="7.0" fill="url(#darkA)"/>
<circle cx="660.9" cy="531.9" r="7.0" fill="url(#darkA)"/>
<circle cx="694.8" cy="531.9" r="7.0" fill="url(#darkA)"/>
<circle cx="728.7" cy="531.9" r="7.0" fill="url(#darkA)"/>
<circle cx="508.5" cy="549.7" r="7.0" fill="url(#darkA)"/>
<circle cx="542.4" cy="549.7" r="7.0" fill="url(#darkA)"/>
<circle cx="576.3" cy="549.7" r="7.0" fill="url(#darkA)"/>
<circle cx="610.2" cy="549.7" r="7.0" fill="url(#darkA)"/>
<circle cx="644.1" cy="549.7" r="7.0" fill="url(#darkA)"/>
<circle cx="678.0" cy="549.7" r="7.0" fill="url(#darkA)"/>
<circle cx="711.9" cy="549.7" r="7.0" fill="url(#darkA)"/>
<circle cx="525.3" cy="371.7" r="9.3" fill="url(#blobA)"/>
<path d="M522.1,374.7 a4.6,4.6 0 1,1 7.2,-1.5" fill="none" stroke="#7a7a22" stroke-width="0.9" stroke-opacity="0.8"/>
<circle cx="559.2" cy="371.7" r="9.3" fill="url(#blobA)"/>
<path d="M556.0,374.7 a4.6,4.6 0 1,1 7.2,-1.5" fill="none" stroke="#7a7a22" stroke-width="0.9" stroke-opacity="0.8"/>
<circle cx="593.1" cy="371.7" r="9.3" fill="url(#blobA)"/>
<path d="M589.9,374.7 a4.6,4.6 0 1,1 7.2,-1.5" fill="none" stroke="#7a7a22" stroke-width="0.9" stroke-opacity="0.8"/>
<circle cx="627.0" cy="371.7" r="9.3" fill="url(#blobA)"/>
<path d="M623.8,374.7 a4.6,4.6 0 1,1 7.2,-1.5" fill="none" stroke="#7a7a22" stroke-width="0.9" stroke-opacity="0.8"/>
<circle cx="660.9" cy="371.7" r="9.3" fill="url(#blobA)"/>
<path d="M657.7,374.7 a4.6,4.6 0 1,1 7.2,-1.5" fill="none" stroke="#7a7a22" stroke-width="0.9" stroke-opacity="0.8"/>
<circle cx="694.8" cy="371.7" r="9.3" fill="url(#blobA)"/>
<path d="M691.6,374.7 a4.6,4.6 0 1,1 7.2,-1.5" fill="none" stroke="#7a7a22" stroke-width="0.9" stroke-opacity="0.8"/>
<circle cx="728.7" cy="371.7" r="9.3" fill="url(#blobA)"/>
<path d="M725.5,374.7 a4.6,4.6 0 1,1 7.2,-1.5" fill="none" stroke="#7a7a22" stroke-width="0.9" stroke-opacity="0.8"/>
<circle cx="508.5" cy="389.5" r="9.3" fill="url(#blobA)"/>
<path d="M505.3,392.5 a4.6,4.6 0 1,1 7.2,-1.5" fill="none" stroke="#7a7a22" stroke-width="0.9" stroke-opacity="0.8"/>
<circle cx="542.4" cy="389.5" r="9.3" fill="url(#blobA)"/>
<path d="M539.2,392.5 a4.6,4.6 0 1,1 7.2,-1.5" fill="none" stroke="#7a7a22" stroke-width="0.9" stroke-opacity="0.8"/>
<circle cx="576.3" cy="389.5" r="9.3" fill="url(#blobA)"/>
<path d="M573.1,392.5 a4.6,4.6 0 1,1 7.2,-1.5" fill="none" stroke="#7a7a22" stroke-width="0.9" stroke-opacity="0.8"/>
<circle cx="610.2" cy="389.5" r="9.3" fill="url(#blobA)"/>
<path d="M607.0,392.5 a4.6,4.6 0 1,1 7.2,-1.5" fill="none" stroke="#7a7a22" stroke-width="0.9" stroke-opacity="0.8"/>
<circle cx="644.1" cy="389.5" r="9.3" fill="url(#blobA)"/>
<path d="M640.9,392.5 a4.6,4.6 0 1,1 7.2,-1.5" fill="none" stroke="#7a7a22" stroke-width="0.9" stroke-opacity="0.8"/>
<circle cx="678.0" cy="389.5" r="9.3" fill="url(#blobA)"/>
<path d="M674.8,392.5 a4.6,4.6 0 1,1 7.2,-1.5" fill="none" stroke="#7a7a22" stroke-width="0.9" stroke-opacity="0.8"/>
<circle cx="711.9" cy="389.5" r="9.3" fill="url(#blobA)"/>
<path d="M708.7,392.5 a4.6,4.6 0 1,1 7.2,-1.5" fill="none" stroke="#7a7a22" stroke-width="0.9" stroke-opacity="0.8"/>
<circle cx="525.3" cy="407.3" r="9.3" fill="url(#blobA)"/>
<path d="M522.1,410.3 a4.6,4.6 0 1,1 7.2,-1.5" fill="none" stroke="#7a7a22" stroke-width="0.9" stroke-opacity="0.8"/>
<circle cx="559.2" cy="407.3" r="9.3" fill="url(#blobA)"/>
<path d="M556.0,410.3 a4.6,4.6 0 1,1 7.2,-1.5" fill="none" stroke="#7a7a22" stroke-width="0.9" stroke-opacity="0.8"/>
<circle cx="593.1" cy="407.3" r="9.3" fill="url(#blobA)"/>
<path d="M589.9,410.3 a4.6,4.6 0 1,1 7.2,-1.5" fill="none" stroke="#7a7a22" stroke-width="0.9" stroke-opacity="0.8"/>
<circle cx="627.0" cy="407.3" r="9.3" fill="url(#blobA)"/>
<path d="M623.8,410.3 a4.6,4.6 0 1,1 7.2,-1.5" fill="none" stroke="#7a7a22" stroke-width="0.9" stroke-opacity="0.8"/>
<circle cx="660.9" cy="407.3" r="9.3" fill="url(#blobA)"/>
<path d="M657.7,410.3 a4.6,4.6 0 1,1 7.2,-1.5" fill="none" stroke="#7a7a22" stroke-width="0.9" stroke-opacity="0.8"/>
<circle cx="694.8" cy="407.3" r="9.3" fill="url(#blobA)"/>
<path d="M691.6,410.3 a4.6,4.6 0 1,1 7.2,-1.5" fill="none" stroke="#7a7a22" stroke-width="0.9" stroke-opacity="0.8"/>
<circle cx="728.7" cy="407.3" r="9.3" fill="url(#blobA)"/>
<path d="M725.5,410.3 a4.6,4.6 0 1,1 7.2,-1.5" fill="none" stroke="#7a7a22" stroke-width="0.9" stroke-opacity="0.8"/>
<circle cx="508.5" cy="425.1" r="9.3" fill="url(#blobA)"/>
<path d="M505.3,428.1 a4.6,4.6 0 1,1 7.2,-1.5" fill="none" stroke="#7a7a22" stroke-width="0.9" stroke-opacity="0.8"/>
<circle cx="542.4" cy="425.1" r="9.3" fill="url(#blobA)"/>
<path d="M539.2,428.1 a4.6,4.6 0 1,1 7.2,-1.5" fill="none" stroke="#7a7a22" stroke-width="0.9" stroke-opacity="0.8"/>
<circle cx="576.3" cy="425.1" r="9.3" fill="url(#blobA)"/>
<path d="M573.1,428.1 a4.6,4.6 0 1,1 7.2,-1.5" fill="none" stroke="#7a7a22" stroke-width="0.9" stroke-opacity="0.8"/>
<circle cx="610.2" cy="425.1" r="9.3" fill="url(#blobA)"/>
<path d="M607.0,428.1 a4.6,4.6 0 1,1 7.2,-1.5" fill="none" stroke="#7a7a22" stroke-width="0.9" stroke-opacity="0.8"/>
<circle cx="644.1" cy="425.1" r="9.3" fill="url(#blobA)"/>
<path d="M640.9,428.1 a4.6,4.6 0 1,1 7.2,-1.5" fill="none" stroke="#7a7a22" stroke-width="0.9" stroke-opacity="0.8"/>
<circle cx="678.0" cy="425.1" r="9.3" fill="url(#blobA)"/>
<path d="M674.8,428.1 a4.6,4.6 0 1,1 7.2,-1.5" fill="none" stroke="#7a7a22" stroke-width="0.9" stroke-opacity="0.8"/>
<circle cx="711.9" cy="425.1" r="9.3" fill="url(#blobA)"/>
<path d="M708.7,428.1 a4.6,4.6 0 1,1 7.2,-1.5" fill="none" stroke="#7a7a22" stroke-width="0.9" stroke-opacity="0.8"/>
<circle cx="525.3" cy="442.9" r="9.3" fill="url(#blobA)"/>
<path d="M522.1,445.9 a4.6,4.6 0 1,1 7.2,-1.5" fill="none" stroke="#7a7a22" stroke-width="0.9" stroke-opacity="0.8"/>
<circle cx="559.2" cy="442.9" r="9.3" fill="url(#blobA)"/>
<path d="M556.0,445.9 a4.6,4.6 0 1,1 7.2,-1.5" fill="none" stroke="#7a7a22" stroke-width="0.9" stroke-opacity="0.8"/>
<circle cx="593.1" cy="442.9" r="9.3" fill="url(#blobA)"/>
<path d="M589.9,445.9 a4.6,4.6 0 1,1 7.2,-1.5" fill="none" stroke="#7a7a22" stroke-width="0.9" stroke-opacity="0.8"/>
<circle cx="627.0" cy="442.9" r="9.3" fill="url(#blobA)"/>
<path d="M623.8,445.9 a4.6,4.6 0 1,1 7.2,-1.5" fill="none" stroke="#7a7a22" stroke-width="0.9" stroke-opacity="0.8"/>
<circle cx="660.9" cy="442.9" r="9.3" fill="url(#blobA)"/>
<path d="M657.7,445.9 a4.6,4.6 0 1,1 7.2,-1.5" fill="none" stroke="#7a7a22" stroke-width="0.9" stroke-opacity="0.8"/>
<circle cx="694.8" cy="442.9" r="9.3" fill="url(#blobA)"/>
<path d="M691.6,445.9 a4.6,4.6 0 1,1 7.2,-1.5" fill="none" stroke="#7a7a22" stroke-width="0.9" stroke-opacity="0.8"/>
<circle cx="728.7" cy="442.9" r="9.3" fill="url(#blobA)"/>
<path d="M725.5,445.9 a4.6,4.6 0 1,1 7.2,-1.5" fill="none" stroke="#7a7a22" stroke-width="0.9" stroke-opacity="0.8"/>
<circle cx="508.5" cy="460.7" r="9.3" fill="url(#blobA)"/>
<path d="M505.3,463.7 a4.6,4.6 0 1,1 7.2,-1.5" fill="none" stroke="#7a7a22" stroke-width="0.9" stroke-opacity="0.8"/>
<circle cx="542.4" cy="460.7" r="9.3" fill="url(#blobA)"/>
<path d="M539.2,463.7 a4.6,4.6 0 1,1 7.2,-1.5" fill="none" stroke="#7a7a22" stroke-width="0.9" stroke-opacity="0.8"/>
<circle cx="576.3" cy="460.7" r="9.3" fill="url(#blobA)"/>
<path d="M573.1,463.7 a4.6,4.6 0 1,1 7.2,-1.5" fill="none" stroke="#7a7a22" stroke-width="0.9" stroke-opacity="0.8"/>
<circle cx="610.2" cy="460.7" r="9.3" fill="url(#blobA)"/>
<path d="M607.0,463.7 a4.6,4.6 0 1,1 7.2,-1.5" fill="none" stroke="#7a7a22" stroke-width="0.9" stroke-opacity="0.8"/>
<circle cx="644.1" cy="460.7" r="9.3" fill="url(#blobA)"/>
<path d="M640.9,463.7 a4.6,4.6 0 1,1 7.2,-1.5" fill="none" stroke="#7a7a22" stroke-width="0.9" stroke-opacity="0.8"/>
<circle cx="678.0" cy="460.7" r="9.3" fill="url(#blobA)"/>
<path d="M674.8,463.7 a4.6,4.6 0 1,1 7.2,-1.5" fill="none" stroke="#7a7a22" stroke-width="0.9" stroke-opacity="0.8"/>
<circle cx="711.9" cy="460.7" r="9.3" fill="url(#blobA)"/>
<path d="M708.7,463.7 a4.6,4.6 0 1,1 7.2,-1.5" fill="none" stroke="#7a7a22" stroke-width="0.9" stroke-opacity="0.8"/>
<circle cx="525.3" cy="478.5" r="9.3" fill="url(#blobA)"/>
<path d="M522.1,481.5 a4.6,4.6 0 1,1 7.2,-1.5" fill="none" stroke="#7a7a22" stroke-width="0.9" stroke-opacity="0.8"/>
<circle cx="559.2" cy="478.5" r="9.3" fill="url(#blobA)"/>
<path d="M556.0,481.5 a4.6,4.6 0 1,1 7.2,-1.5" fill="none" stroke="#7a7a22" stroke-width="0.9" stroke-opacity="0.8"/>
<circle cx="593.1" cy="478.5" r="9.3" fill="url(#blobA)"/>
<path d="M589.9,481.5 a4.6,4.6 0 1,1 7.2,-1.5" fill="none" stroke="#7a7a22" stroke-width="0.9" stroke-opacity="0.8"/>
<circle cx="627.0" cy="478.5" r="9.3" fill="url(#blobA)"/>
<path d="M623.8,481.5 a4.6,4.6 0 1,1 7.2,-1.5" fill="none" stroke="#7a7a22" stroke-width="0.9" stroke-opacity="0.8"/>
<circle cx="660.9" cy="478.5" r="9.3" fill="url(#blobA)"/>
<path d="M657.7,481.5 a4.6,4.6 0 1,1 7.2,-1.5" fill="none" stroke="#7a7a22" stroke-width="0.9" stroke-opacity="0.8"/>
<circle cx="694.8" cy="478.5" r="9.3" fill="url(#blobA)"/>
<path d="M691.6,481.5 a4.6,4.6 0 1,1 7.2,-1.5" fill="none" stroke="#7a7a22" stroke-width="0.9" stroke-opacity="0.8"/>
<circle cx="728.7" cy="478.5" r="9.3" fill="url(#blobA)"/>
<path d="M725.5,481.5 a4.6,4.6 0 1,1 7.2,-1.5" fill="none" stroke="#7a7a22" stroke-width="0.9" stroke-opacity="0.8"/>
<circle cx="508.5" cy="496.3" r="9.3" fill="url(#blobA)"/>
<path d="M505.3,499.3 a4.6,4.6 0 1,1 7.2,-1.5" fill="none" stroke="#7a7a22" stroke-width="0.9" stroke-opacity="0.8"/>
<circle cx="542.4" cy="496.3" r="9.3" fill="url(#blobA)"/>
<path d="M539.2,499.3 a4.6,4.6 0 1,1 7.2,-1.5" fill="none" stroke="#7a7a22" stroke-width="0.9" stroke-opacity="0.8"/>
<circle cx="576.3" cy="496.3" r="9.3" fill="url(#blobA)"/>
<path d="M573.1,499.3 a4.6,4.6 0 1,1 7.2,-1.5" fill="none" stroke="#7a7a22" stroke-width="0.9" stroke-opacity="0.8"/>
<circle cx="610.2" cy="496.3" r="9.3" fill="url(#blobA)"/>
<path d="M607.0,499.3 a4.6,4.6 0 1,1 7.2,-1.5" fill="none" stroke="#7a7a22" stroke-width="0.9" stroke-opacity="0.8"/>
<circle cx="644.1" cy="496.3" r="9.3" fill="url(#blobA)"/>
<path d="M640.9,499.3 a4.6,4.6 0 1,1 7.2,-1.5" fill="none" stroke="#7a7a22" stroke-width="0.9" stroke-opacity="0.8"/>
<circle cx="678.0" cy="496.3" r="9.3" fill="url(#blobA)"/>
<path d="M674.8,499.3 a4.6,4.6 0 1,1 7.2,-1.5" fill="none" stroke="#7a7a22" stroke-width="0.9" stroke-opacity="0.8"/>
<circle cx="711.9" cy="496.3" r="9.3" fill="url(#blobA)"/>
<path d="M708.7,499.3 a4.6,4.6 0 1,1 7.2,-1.5" fill="none" stroke="#7a7a22" stroke-width="0.9" stroke-opacity="0.8"/>
<circle cx="525.3" cy="514.1" r="9.3" fill="url(#blobA)"/>
<path d="M522.1,517.1 a4.6,4.6 0 1,1 7.2,-1.5" fill="none" stroke="#7a7a22" stroke-width="0.9" stroke-opacity="0.8"/>
<circle cx="559.2" cy="514.1" r="9.3" fill="url(#blobA)"/>
<path d="M556.0,517.1 a4.6,4.6 0 1,1 7.2,-1.5" fill="none" stroke="#7a7a22" stroke-width="0.9" stroke-opacity="0.8"/>
<circle cx="593.1" cy="514.1" r="9.3" fill="url(#blobA)"/>
<path d="M589.9,517.1 a4.6,4.6 0 1,1 7.2,-1.5" fill="none" stroke="#7a7a22" stroke-width="0.9" stroke-opacity="0.8"/>
<circle cx="627.0" cy="514.1" r="9.3" fill="url(#blobA)"/>
<path d="M623.8,517.1 a4.6,4.6 0 1,1 7.2,-1.5" fill="none" stroke="#7a7a22" stroke-width="0.9" stroke-opacity="0.8"/>
<circle cx="660.9" cy="514.1" r="9.3" fill="url(#blobA)"/>
<path d="M657.7,517.1 a4.6,4.6 0 1,1 7.2,-1.5" fill="none" stroke="#7a7a22" stroke-width="0.9" stroke-opacity="0.8"/>
<circle cx="694.8" cy="514.1" r="9.3" fill="url(#blobA)"/>
<path d="M691.6,517.1 a4.6,4.6 0 1,1 7.2,-1.5" fill="none" stroke="#7a7a22" stroke-width="0.9" stroke-opacity="0.8"/>
<circle cx="728.7" cy="514.1" r="9.3" fill="url(#blobA)"/>
<path d="M725.5,517.1 a4.6,4.6 0 1,1 7.2,-1.5" fill="none" stroke="#7a7a22" stroke-width="0.9" stroke-opacity="0.8"/>
<circle cx="508.5" cy="531.9" r="9.3" fill="url(#blobA)"/>
<path d="M505.3,534.9 a4.6,4.6 0 1,1 7.2,-1.5" fill="none" stroke="#7a7a22" stroke-width="0.9" stroke-opacity="0.8"/>
<circle cx="542.4" cy="531.9" r="9.3" fill="url(#blobA)"/>
<path d="M539.2,534.9 a4.6,4.6 0 1,1 7.2,-1.5" fill="none" stroke="#7a7a22" stroke-width="0.9" stroke-opacity="0.8"/>
<circle cx="576.3" cy="531.9" r="9.3" fill="url(#blobA)"/>
<path d="M573.1,534.9 a4.6,4.6 0 1,1 7.2,-1.5" fill="none" stroke="#7a7a22" stroke-width="0.9" stroke-opacity="0.8"/>
<circle cx="610.2" cy="531.9" r="9.3" fill="url(#blobA)"/>
<path d="M607.0,534.9 a4.6,4.6 0 1,1 7.2,-1.5" fill="none" stroke="#7a7a22" stroke-width="0.9" stroke-opacity="0.8"/>
<circle cx="644.1" cy="531.9" r="9.3" fill="url(#blobA)"/>
<path d="M640.9,534.9 a4.6,4.6 0 1,1 7.2,-1.5" fill="none" stroke="#7a7a22" stroke-width="0.9" stroke-opacity="0.8"/>
<circle cx="678.0" cy="531.9" r="9.3" fill="url(#blobA)"/>
<path d="M674.8,534.9 a4.6,4.6 0 1,1 7.2,-1.5" fill="none" stroke="#7a7a22" stroke-width="0.9" stroke-opacity="0.8"/>
<circle cx="711.9" cy="531.9" r="9.3" fill="url(#blobA)"/>
<path d="M708.7,534.9 a4.6,4.6 0 1,1 7.2,-1.5" fill="none" stroke="#7a7a22" stroke-width="0.9" stroke-opacity="0.8"/>
<circle cx="525.3" cy="549.7" r="9.3" fill="url(#blobA)"/>
<path d="M522.1,552.7 a4.6,4.6 0 1,1 7.2,-1.5" fill="none" stroke="#7a7a22" stroke-width="0.9" stroke-opacity="0.8"/>
<circle cx="559.2" cy="549.7" r="9.3" fill="url(#blobA)"/>
<path d="M556.0,552.7 a4.6,4.6 0 1,1 7.2,-1.5" fill="none" stroke="#7a7a22" stroke-width="0.9" stroke-opacity="0.8"/>
<circle cx="593.1" cy="549.7" r="9.3" fill="url(#blobA)"/>
<path d="M589.9,552.7 a4.6,4.6 0 1,1 7.2,-1.5" fill="none" stroke="#7a7a22" stroke-width="0.9" stroke-opacity="0.8"/>
<circle cx="627.0" cy="549.7" r="9.3" fill="url(#blobA)"/>
<path d="M623.8,552.7 a4.6,4.6 0 1,1 7.2,-1.5" fill="none" stroke="#7a7a22" stroke-width="0.9" stroke-opacity="0.8"/>
<circle cx="660.9" cy="549.7" r="9.3" fill="url(#blobA)"/>
<path d="M657.7,552.7 a4.6,4.6 0 1,1 7.2,-1.5" fill="none" stroke="#7a7a22" stroke-width="0.9" stroke-opacity="0.8"/>
<circle cx="694.8" cy="549.7" r="9.3" fill="url(#blobA)"/>
<path d="M691.6,552.7 a4.6,4.6 0 1,1 7.2,-1.5" fill="none" stroke="#7a7a22" stroke-width="0.9" stroke-opacity="0.8"/>
<circle cx="728.7" cy="549.7" r="9.3" fill="url(#blobA)"/>
<path d="M725.5,552.7 a4.6,4.6 0 1,1 7.2,-1.5" fill="none" stroke="#7a7a22" stroke-width="0.9" stroke-opacity="0.8"/>
<circle cx="508.5" cy="371.7" r="3.0" fill="#2a6e70"/>
<circle cx="508.5" cy="371.7" r="2.3" fill="#dc2626"/>
<circle cx="542.4" cy="371.7" r="3.0" fill="#2a6e70"/>
<circle cx="542.4" cy="371.7" r="2.3" fill="#dc2626"/>
<circle cx="576.3" cy="371.7" r="3.0" fill="#2a6e70"/>
<circle cx="576.3" cy="371.7" r="2.3" fill="#dc2626"/>
<circle cx="610.2" cy="371.7" r="3.0" fill="#2a6e70"/>
<circle cx="610.2" cy="371.7" r="2.3" fill="#dc2626"/>
<circle cx="644.1" cy="371.7" r="3.0" fill="#2a6e70"/>
<circle cx="644.1" cy="371.7" r="2.3" fill="#dc2626"/>
<circle cx="678.0" cy="371.7" r="3.0" fill="#2a6e70"/>
<circle cx="678.0" cy="371.7" r="2.3" fill="#dc2626"/>
<circle cx="711.9" cy="371.7" r="3.0" fill="#2a6e70"/>
<circle cx="711.9" cy="371.7" r="2.3" fill="#dc2626"/>
<circle cx="525.3" cy="389.5" r="3.0" fill="#2a6e70"/>
<circle cx="525.3" cy="389.5" r="2.3" fill="#dc2626"/>
<circle cx="559.2" cy="389.5" r="3.0" fill="#2a6e70"/>
<circle cx="559.2" cy="389.5" r="2.3" fill="#dc2626"/>
<circle cx="593.1" cy="389.5" r="3.0" fill="#2a6e70"/>
<circle cx="593.1" cy="389.5" r="2.3" fill="#dc2626"/>
<circle cx="627.0" cy="389.5" r="3.0" fill="#2a6e70"/>
<circle cx="627.0" cy="389.5" r="2.3" fill="#dc2626"/>
<circle cx="660.9" cy="389.5" r="3.0" fill="#2a6e70"/>
<circle cx="660.9" cy="389.5" r="2.3" fill="#dc2626"/>
<circle cx="694.8" cy="389.5" r="3.0" fill="#2a6e70"/>
<circle cx="694.8" cy="389.5" r="2.3" fill="#dc2626"/>
<circle cx="728.7" cy="389.5" r="3.0" fill="#2a6e70"/>
<circle cx="728.7" cy="389.5" r="2.3" fill="#dc2626"/>
<circle cx="508.5" cy="407.3" r="3.0" fill="#2a6e70"/>
<circle cx="508.5" cy="407.3" r="2.3" fill="#dc2626"/>
<circle cx="542.4" cy="407.3" r="3.0" fill="#2a6e70"/>
<circle cx="542.4" cy="407.3" r="2.3" fill="#dc2626"/>
<circle cx="576.3" cy="407.3" r="3.0" fill="#2a6e70"/>
<circle cx="576.3" cy="407.3" r="2.3" fill="#dc2626"/>
<circle cx="610.2" cy="407.3" r="3.0" fill="#2a6e70"/>
<circle cx="610.2" cy="407.3" r="2.3" fill="#dc2626"/>
<circle cx="644.1" cy="407.3" r="3.0" fill="#2a6e70"/>
<circle cx="644.1" cy="407.3" r="2.3" fill="#dc2626"/>
<circle cx="678.0" cy="407.3" r="3.0" fill="#2a6e70"/>
<circle cx="678.0" cy="407.3" r="2.3" fill="#dc2626"/>
<circle cx="711.9" cy="407.3" r="3.0" fill="#2a6e70"/>
<circle cx="711.9" cy="407.3" r="2.3" fill="#dc2626"/>
<circle cx="525.3" cy="425.1" r="3.0" fill="#2a6e70"/>
<circle cx="525.3" cy="425.1" r="2.3" fill="#dc2626"/>
<circle cx="559.2" cy="425.1" r="3.0" fill="#2a6e70"/>
<circle cx="559.2" cy="425.1" r="2.3" fill="#dc2626"/>
<circle cx="593.1" cy="425.1" r="3.0" fill="#2a6e70"/>
<circle cx="593.1" cy="425.1" r="2.3" fill="#dc2626"/>
<circle cx="627.0" cy="425.1" r="3.0" fill="#2a6e70"/>
<circle cx="627.0" cy="425.1" r="2.3" fill="#dc2626"/>
<circle cx="660.9" cy="425.1" r="3.0" fill="#2a6e70"/>
<circle cx="660.9" cy="425.1" r="2.3" fill="#dc2626"/>
<circle cx="694.8" cy="425.1" r="3.0" fill="#2a6e70"/>
<circle cx="694.8" cy="425.1" r="2.3" fill="#dc2626"/>
<circle cx="728.7" cy="425.1" r="3.0" fill="#2a6e70"/>
<circle cx="728.7" cy="425.1" r="2.3" fill="#dc2626"/>
<circle cx="508.5" cy="442.9" r="3.0" fill="#2a6e70"/>
<circle cx="508.5" cy="442.9" r="2.3" fill="#dc2626"/>
<circle cx="542.4" cy="442.9" r="3.0" fill="#2a6e70"/>
<circle cx="542.4" cy="442.9" r="2.3" fill="#dc2626"/>
<circle cx="576.3" cy="442.9" r="3.0" fill="#2a6e70"/>
<circle cx="576.3" cy="442.9" r="2.3" fill="#dc2626"/>
<circle cx="610.2" cy="442.9" r="3.0" fill="#2a6e70"/>
<circle cx="610.2" cy="442.9" r="2.3" fill="#dc2626"/>
<circle cx="644.1" cy="442.9" r="3.0" fill="#2a6e70"/>
<circle cx="644.1" cy="442.9" r="2.3" fill="#dc2626"/>
<circle cx="678.0" cy="442.9" r="3.0" fill="#2a6e70"/>
<circle cx="678.0" cy="442.9" r="2.3" fill="#dc2626"/>
<circle cx="711.9" cy="442.9" r="3.0" fill="#2a6e70"/>
<circle cx="711.9" cy="442.9" r="2.3" fill="#dc2626"/>
<circle cx="525.3" cy="460.7" r="3.0" fill="#2a6e70"/>
<circle cx="525.3" cy="460.7" r="2.3" fill="#dc2626"/>
<circle cx="559.2" cy="460.7" r="3.0" fill="#2a6e70"/>
<circle cx="559.2" cy="460.7" r="2.3" fill="#dc2626"/>
<circle cx="593.1" cy="460.7" r="3.0" fill="#2a6e70"/>
<circle cx="593.1" cy="460.7" r="2.3" fill="#dc2626"/>
<circle cx="627.0" cy="460.7" r="3.0" fill="#2a6e70"/>
<circle cx="627.0" cy="460.7" r="2.3" fill="#dc2626"/>
<circle cx="660.9" cy="460.7" r="3.0" fill="#2a6e70"/>
<circle cx="660.9" cy="460.7" r="2.3" fill="#dc2626"/>
<circle cx="694.8" cy="460.7" r="3.0" fill="#2a6e70"/>
<circle cx="694.8" cy="460.7" r="2.3" fill="#dc2626"/>
<circle cx="728.7" cy="460.7" r="3.0" fill="#2a6e70"/>
<circle cx="728.7" cy="460.7" r="2.3" fill="#dc2626"/>
<circle cx="508.5" cy="478.5" r="3.0" fill="#2a6e70"/>
<circle cx="508.5" cy="478.5" r="2.3" fill="#dc2626"/>
<circle cx="542.4" cy="478.5" r="3.0" fill="#2a6e70"/>
<circle cx="542.4" cy="478.5" r="2.3" fill="#dc2626"/>
<circle cx="576.3" cy="478.5" r="3.0" fill="#2a6e70"/>
<circle cx="576.3" cy="478.5" r="2.3" fill="#dc2626"/>
<circle cx="610.2" cy="478.5" r="3.0" fill="#2a6e70"/>
<circle cx="610.2" cy="478.5" r="2.3" fill="#dc2626"/>
<circle cx="644.1" cy="478.5" r="3.0" fill="#2a6e70"/>
<circle cx="644.1" cy="478.5" r="2.3" fill="#dc2626"/>
<circle cx="678.0" cy="478.5" r="3.0" fill="#2a6e70"/>
<circle cx="678.0" cy="478.5" r="2.3" fill="#dc2626"/>
<circle cx="711.9" cy="478.5" r="3.0" fill="#2a6e70"/>
<circle cx="711.9" cy="478.5" r="2.3" fill="#dc2626"/>
<circle cx="525.3" cy="496.3" r="3.0" fill="#2a6e70"/>
<circle cx="525.3" cy="496.3" r="2.3" fill="#dc2626"/>
<circle cx="559.2" cy="496.3" r="3.0" fill="#2a6e70"/>
<circle cx="559.2" cy="496.3" r="2.3" fill="#dc2626"/>
<circle cx="593.1" cy="496.3" r="3.0" fill="#2a6e70"/>
<circle cx="593.1" cy="496.3" r="2.3" fill="#dc2626"/>
<circle cx="627.0" cy="496.3" r="3.0" fill="#2a6e70"/>
<circle cx="627.0" cy="496.3" r="2.3" fill="#dc2626"/>
<circle cx="660.9" cy="496.3" r="3.0" fill="#2a6e70"/>
<circle cx="660.9" cy="496.3" r="2.3" fill="#dc2626"/>
<circle cx="694.8" cy="496.3" r="3.0" fill="#2a6e70"/>
<circle cx="694.8" cy="496.3" r="2.3" fill="#dc2626"/>
<circle cx="728.7" cy="496.3" r="3.0" fill="#2a6e70"/>
<circle cx="728.7" cy="496.3" r="2.3" fill="#dc2626"/>
<circle cx="508.5" cy="514.1" r="3.0" fill="#2a6e70"/>
<circle cx="508.5" cy="514.1" r="2.3" fill="#dc2626"/>
<circle cx="542.4" cy="514.1" r="3.0" fill="#2a6e70"/>
<circle cx="542.4" cy="514.1" r="2.3" fill="#dc2626"/>
<circle cx="576.3" cy="514.1" r="3.0" fill="#2a6e70"/>
<circle cx="576.3" cy="514.1" r="2.3" fill="#dc2626"/>
<circle cx="610.2" cy="514.1" r="3.0" fill="#2a6e70"/>
<circle cx="610.2" cy="514.1" r="2.3" fill="#dc2626"/>
<circle cx="644.1" cy="514.1" r="3.0" fill="#2a6e70"/>
<circle cx="644.1" cy="514.1" r="2.3" fill="#dc2626"/>
<circle cx="678.0" cy="514.1" r="3.0" fill="#2a6e70"/>
<circle cx="678.0" cy="514.1" r="2.3" fill="#dc2626"/>
<circle cx="711.9" cy="514.1" r="3.0" fill="#2a6e70"/>
<circle cx="711.9" cy="514.1" r="2.3" fill="#dc2626"/>
<circle cx="525.3" cy="531.9" r="3.0" fill="#2a6e70"/>
<circle cx="525.3" cy="531.9" r="2.3" fill="#dc2626"/>
<circle cx="559.2" cy="531.9" r="3.0" fill="#2a6e70"/>
<circle cx="559.2" cy="531.9" r="2.3" fill="#dc2626"/>
<circle cx="593.1" cy="531.9" r="3.0" fill="#2a6e70"/>
<circle cx="593.1" cy="531.9" r="2.3" fill="#dc2626"/>
<circle cx="627.0" cy="531.9" r="3.0" fill="#2a6e70"/>
<circle cx="627.0" cy="531.9" r="2.3" fill="#dc2626"/>
<circle cx="660.9" cy="531.9" r="3.0" fill="#2a6e70"/>
<circle cx="660.9" cy="531.9" r="2.3" fill="#dc2626"/>
<circle cx="694.8" cy="531.9" r="3.0" fill="#2a6e70"/>
<circle cx="694.8" cy="531.9" r="2.3" fill="#dc2626"/>
<circle cx="728.7" cy="531.9" r="3.0" fill="#2a6e70"/>
<circle cx="728.7" cy="531.9" r="2.3" fill="#dc2626"/>
<circle cx="508.5" cy="549.7" r="3.0" fill="#2a6e70"/>
<circle cx="508.5" cy="549.7" r="2.3" fill="#dc2626"/>
<circle cx="542.4" cy="549.7" r="3.0" fill="#2a6e70"/>
<circle cx="542.4" cy="549.7" r="2.3" fill="#dc2626"/>
<circle cx="576.3" cy="549.7" r="3.0" fill="#2a6e70"/>
<circle cx="576.3" cy="549.7" r="2.3" fill="#dc2626"/>
<circle cx="610.2" cy="549.7" r="3.0" fill="#2a6e70"/>
<circle cx="610.2" cy="549.7" r="2.3" fill="#dc2626"/>
<circle cx="644.1" cy="549.7" r="3.0" fill="#2a6e70"/>
<circle cx="644.1" cy="549.7" r="2.3" fill="#dc2626"/>
<circle cx="678.0" cy="549.7" r="3.0" fill="#2a6e70"/>
<circle cx="678.0" cy="549.7" r="2.3" fill="#dc2626"/>
<circle cx="711.9" cy="549.7" r="3.0" fill="#2a6e70"/>
<circle cx="711.9" cy="549.7" r="2.3" fill="#dc2626"/>
<path d="M558.9 425.9L576.9 407.9" stroke="#d62828" stroke-width="1.8" fill="none"/>
<path d="M561.9 410.9L573.9 422.9" stroke="#2a6a6a" stroke-width="1.8" fill="none"/>
<circle cx="567.9" cy="416.9" r="4.3" fill="#2a6c6c"/>
<circle cx="567.9" cy="416.9" r="2.6" fill="#4a9090"/>
<circle cx="567.9" cy="416.9" r="1.2" fill="#f0ffff"/>
<path d="M626.7 425.9L644.7 407.9" stroke="#d62828" stroke-width="1.8" fill="none"/>
<path d="M629.7 410.9L641.7 422.9" stroke="#2a6a6a" stroke-width="1.8" fill="none"/>
<circle cx="635.7" cy="416.9" r="4.3" fill="#2a6c6c"/>
<circle cx="635.7" cy="416.9" r="2.6" fill="#4a9090"/>
<circle cx="635.7" cy="416.9" r="1.2" fill="#f0ffff"/>
<path d="M592.8 461.5L610.8 443.5" stroke="#d62828" stroke-width="1.8" fill="none"/>
<path d="M595.8 446.5L607.8 458.5" stroke="#2a6a6a" stroke-width="1.8" fill="none"/>
<circle cx="601.8" cy="452.5" r="4.3" fill="#2a6c6c"/>
<circle cx="601.8" cy="452.5" r="2.6" fill="#4a9090"/>
<circle cx="601.8" cy="452.5" r="1.2" fill="#f0ffff"/>
<path d="M558.9 497.1L576.9 479.1" stroke="#d62828" stroke-width="1.8" fill="none"/>
<path d="M561.9 482.1L573.9 494.1" stroke="#2a6a6a" stroke-width="1.8" fill="none"/>
<circle cx="567.9" cy="488.1" r="4.3" fill="#2a6c6c"/>
<circle cx="567.9" cy="488.1" r="2.6" fill="#4a9090"/>
<circle cx="567.9" cy="488.1" r="1.2" fill="#f0ffff"/>
<path d="M626.7 497.1L644.7 479.1" stroke="#d62828" stroke-width="1.8" fill="none"/>
<path d="M629.7 482.1L641.7 494.1" stroke="#2a6a6a" stroke-width="1.8" fill="none"/>
<circle cx="635.7" cy="488.1" r="4.3" fill="#2a6c6c"/>
<circle cx="635.7" cy="488.1" r="2.6" fill="#4a9090"/>
<circle cx="635.7" cy="488.1" r="1.2" fill="#f0ffff"/>
<path d="M592.8 390.3L610.8 372.3" stroke="#d62828" stroke-width="1.8" fill="none"/>
<path d="M595.8 375.3L607.8 387.3" stroke="#2a6a6a" stroke-width="1.8" fill="none"/>
<circle cx="601.8" cy="381.3" r="4.3" fill="#2a6c6c"/>
<circle cx="601.8" cy="381.3" r="2.6" fill="#4a9090"/>
<circle cx="601.8" cy="381.3" r="1.2" fill="#f0ffff"/>
<path d="M592.8 532.7L610.8 514.7" stroke="#d62828" stroke-width="1.8" fill="none"/>
<path d="M595.8 517.7L607.8 529.7" stroke="#2a6a6a" stroke-width="1.8" fill="none"/>
<circle cx="601.8" cy="523.7" r="4.3" fill="#2a6c6c"/>
<circle cx="601.8" cy="523.7" r="2.6" fill="#4a9090"/>
<circle cx="601.8" cy="523.7" r="1.2" fill="#f0ffff"/>
</g>
<g clip-path="url(#cm2)">
<rect x="533.50" y="548.30" width="138.70" height="142.30" fill="#3462c4" stroke="none" stroke-width="1"/>
<circle cx="534.2" cy="550.0" r="7.5" fill="#48a8e4" fill-opacity="0.45"/>
<circle cx="560.8" cy="550.0" r="7.5" fill="#48a8e4" fill-opacity="0.45"/>
<circle cx="587.4" cy="550.0" r="7.5" fill="#48a8e4" fill-opacity="0.45"/>
<circle cx="614.0" cy="550.0" r="7.5" fill="#48a8e4" fill-opacity="0.45"/>
<circle cx="640.6" cy="550.0" r="7.5" fill="#48a8e4" fill-opacity="0.45"/>
<circle cx="667.2" cy="550.0" r="7.5" fill="#48a8e4" fill-opacity="0.45"/>
<circle cx="534.2" cy="569.0" r="7.5" fill="#48a8e4" fill-opacity="0.45"/>
<circle cx="560.8" cy="569.0" r="7.5" fill="#48a8e4" fill-opacity="0.45"/>
<circle cx="587.4" cy="569.0" r="7.5" fill="#48a8e4" fill-opacity="0.45"/>
<circle cx="614.0" cy="569.0" r="7.5" fill="#48a8e4" fill-opacity="0.45"/>
<circle cx="640.6" cy="569.0" r="7.5" fill="#48a8e4" fill-opacity="0.45"/>
<circle cx="667.2" cy="569.0" r="7.5" fill="#48a8e4" fill-opacity="0.45"/>
<circle cx="534.2" cy="588.0" r="7.5" fill="#48a8e4" fill-opacity="0.45"/>
<circle cx="560.8" cy="588.0" r="7.5" fill="#48a8e4" fill-opacity="0.45"/>
<circle cx="587.4" cy="588.0" r="7.5" fill="#48a8e4" fill-opacity="0.45"/>
<circle cx="614.0" cy="588.0" r="7.5" fill="#48a8e4" fill-opacity="0.45"/>
<circle cx="640.6" cy="588.0" r="7.5" fill="#48a8e4" fill-opacity="0.45"/>
<circle cx="667.2" cy="588.0" r="7.5" fill="#48a8e4" fill-opacity="0.45"/>
<circle cx="534.2" cy="607.0" r="7.5" fill="#48a8e4" fill-opacity="0.45"/>
<circle cx="560.8" cy="607.0" r="7.5" fill="#48a8e4" fill-opacity="0.45"/>
<circle cx="587.4" cy="607.0" r="7.5" fill="#48a8e4" fill-opacity="0.45"/>
<circle cx="614.0" cy="607.0" r="7.5" fill="#48a8e4" fill-opacity="0.45"/>
<circle cx="640.6" cy="607.0" r="7.5" fill="#48a8e4" fill-opacity="0.45"/>
<circle cx="667.2" cy="607.0" r="7.5" fill="#48a8e4" fill-opacity="0.45"/>
<circle cx="534.2" cy="626.0" r="7.5" fill="#48a8e4" fill-opacity="0.45"/>
<circle cx="560.8" cy="626.0" r="7.5" fill="#48a8e4" fill-opacity="0.45"/>
<circle cx="587.4" cy="626.0" r="7.5" fill="#48a8e4" fill-opacity="0.45"/>
<circle cx="614.0" cy="626.0" r="7.5" fill="#48a8e4" fill-opacity="0.45"/>
<circle cx="640.6" cy="626.0" r="7.5" fill="#48a8e4" fill-opacity="0.45"/>
<circle cx="667.2" cy="626.0" r="7.5" fill="#48a8e4" fill-opacity="0.45"/>
<circle cx="534.2" cy="645.0" r="7.5" fill="#48a8e4" fill-opacity="0.45"/>
<circle cx="560.8" cy="645.0" r="7.5" fill="#48a8e4" fill-opacity="0.45"/>
<circle cx="587.4" cy="645.0" r="7.5" fill="#48a8e4" fill-opacity="0.45"/>
<circle cx="614.0" cy="645.0" r="7.5" fill="#48a8e4" fill-opacity="0.45"/>
<circle cx="640.6" cy="645.0" r="7.5" fill="#48a8e4" fill-opacity="0.45"/>
<circle cx="667.2" cy="645.0" r="7.5" fill="#48a8e4" fill-opacity="0.45"/>
<circle cx="534.2" cy="664.0" r="7.5" fill="#48a8e4" fill-opacity="0.45"/>
<circle cx="560.8" cy="664.0" r="7.5" fill="#48a8e4" fill-opacity="0.45"/>
<circle cx="587.4" cy="664.0" r="7.5" fill="#48a8e4" fill-opacity="0.45"/>
<circle cx="614.0" cy="664.0" r="7.5" fill="#48a8e4" fill-opacity="0.45"/>
<circle cx="640.6" cy="664.0" r="7.5" fill="#48a8e4" fill-opacity="0.45"/>
<circle cx="667.2" cy="664.0" r="7.5" fill="#48a8e4" fill-opacity="0.45"/>
<circle cx="534.2" cy="683.0" r="7.5" fill="#48a8e4" fill-opacity="0.45"/>
<circle cx="560.8" cy="683.0" r="7.5" fill="#48a8e4" fill-opacity="0.45"/>
<circle cx="587.4" cy="683.0" r="7.5" fill="#48a8e4" fill-opacity="0.45"/>
<circle cx="614.0" cy="683.0" r="7.5" fill="#48a8e4" fill-opacity="0.45"/>
<circle cx="640.6" cy="683.0" r="7.5" fill="#48a8e4" fill-opacity="0.45"/>
<circle cx="667.2" cy="683.0" r="7.5" fill="#48a8e4" fill-opacity="0.45"/>
<circle cx="534.2" cy="702.0" r="7.5" fill="#48a8e4" fill-opacity="0.45"/>
<circle cx="560.8" cy="702.0" r="7.5" fill="#48a8e4" fill-opacity="0.45"/>
<circle cx="587.4" cy="702.0" r="7.5" fill="#48a8e4" fill-opacity="0.45"/>
<circle cx="614.0" cy="702.0" r="7.5" fill="#48a8e4" fill-opacity="0.45"/>
<circle cx="640.6" cy="702.0" r="7.5" fill="#48a8e4" fill-opacity="0.45"/>
<circle cx="667.2" cy="702.0" r="7.5" fill="#48a8e4" fill-opacity="0.45"/>
<ellipse cx="537.0" cy="533.4" rx="7.4" ry="7.6" fill="url(#olive)"/>
<path d="M533.0,532.4 l3,2 l2.5,-3 M538.0,534.4 l-2,3 M535.0,536.4 l3,-1" fill="none" stroke="#c07a30" stroke-width="0.6"/>
<ellipse cx="562.8" cy="533.4" rx="7.4" ry="7.6" fill="url(#olive)"/>
<path d="M558.8,532.4 l3,2 l2.5,-3 M563.8,534.4 l-2,3 M560.8,536.4 l3,-1" fill="none" stroke="#c07a30" stroke-width="0.6"/>
<ellipse cx="588.6" cy="533.4" rx="7.4" ry="7.6" fill="url(#olive)"/>
<path d="M584.6,532.4 l3,2 l2.5,-3 M589.6,534.4 l-2,3 M586.6,536.4 l3,-1" fill="none" stroke="#c07a30" stroke-width="0.6"/>
<ellipse cx="614.4" cy="533.4" rx="7.4" ry="7.6" fill="url(#olive)"/>
<path d="M610.4,532.4 l3,2 l2.5,-3 M615.4,534.4 l-2,3 M612.4,536.4 l3,-1" fill="none" stroke="#c07a30" stroke-width="0.6"/>
<ellipse cx="640.2" cy="533.4" rx="7.4" ry="7.6" fill="url(#olive)"/>
<path d="M636.2,532.4 l3,2 l2.5,-3 M641.2,534.4 l-2,3 M638.2,536.4 l3,-1" fill="none" stroke="#c07a30" stroke-width="0.6"/>
<ellipse cx="666.0" cy="533.4" rx="7.4" ry="7.6" fill="url(#olive)"/>
<path d="M662.0,532.4 l3,2 l2.5,-3 M667.0,534.4 l-2,3 M664.0,536.4 l3,-1" fill="none" stroke="#c07a30" stroke-width="0.6"/>
<ellipse cx="537.0" cy="552.0" rx="7.4" ry="7.6" fill="url(#olive)"/>
<path d="M533.0,551.0 l3,2 l2.5,-3 M538.0,553.0 l-2,3 M535.0,555.0 l3,-1" fill="none" stroke="#c07a30" stroke-width="0.6"/>
<ellipse cx="562.8" cy="552.0" rx="7.4" ry="7.6" fill="url(#olive)"/>
<path d="M558.8,551.0 l3,2 l2.5,-3 M563.8,553.0 l-2,3 M560.8,555.0 l3,-1" fill="none" stroke="#c07a30" stroke-width="0.6"/>
<ellipse cx="588.6" cy="552.0" rx="7.4" ry="7.6" fill="url(#olive)"/>
<path d="M584.6,551.0 l3,2 l2.5,-3 M589.6,553.0 l-2,3 M586.6,555.0 l3,-1" fill="none" stroke="#c07a30" stroke-width="0.6"/>
<ellipse cx="614.4" cy="552.0" rx="7.4" ry="7.6" fill="url(#olive)"/>
<path d="M610.4,551.0 l3,2 l2.5,-3 M615.4,553.0 l-2,3 M612.4,555.0 l3,-1" fill="none" stroke="#c07a30" stroke-width="0.6"/>
<ellipse cx="640.2" cy="552.0" rx="7.4" ry="7.6" fill="url(#olive)"/>
<path d="M636.2,551.0 l3,2 l2.5,-3 M641.2,553.0 l-2,3 M638.2,555.0 l3,-1" fill="none" stroke="#c07a30" stroke-width="0.6"/>
<ellipse cx="666.0" cy="552.0" rx="7.4" ry="7.6" fill="url(#olive)"/>
<path d="M662.0,551.0 l3,2 l2.5,-3 M667.0,553.0 l-2,3 M664.0,555.0 l3,-1" fill="none" stroke="#c07a30" stroke-width="0.6"/>
<ellipse cx="537.0" cy="570.6" rx="7.4" ry="7.6" fill="url(#olive)"/>
<path d="M533.0,569.6 l3,2 l2.5,-3 M538.0,571.6 l-2,3 M535.0,573.6 l3,-1" fill="none" stroke="#c07a30" stroke-width="0.6"/>
<ellipse cx="562.8" cy="570.6" rx="7.4" ry="7.6" fill="url(#olive)"/>
<path d="M558.8,569.6 l3,2 l2.5,-3 M563.8,571.6 l-2,3 M560.8,573.6 l3,-1" fill="none" stroke="#c07a30" stroke-width="0.6"/>
<ellipse cx="588.6" cy="570.6" rx="7.4" ry="7.6" fill="url(#olive)"/>
<path d="M584.6,569.6 l3,2 l2.5,-3 M589.6,571.6 l-2,3 M586.6,573.6 l3,-1" fill="none" stroke="#c07a30" stroke-width="0.6"/>
<ellipse cx="614.4" cy="570.6" rx="7.4" ry="7.6" fill="url(#olive)"/>
<path d="M610.4,569.6 l3,2 l2.5,-3 M615.4,571.6 l-2,3 M612.4,573.6 l3,-1" fill="none" stroke="#c07a30" stroke-width="0.6"/>
<ellipse cx="640.2" cy="570.6" rx="7.4" ry="7.6" fill="url(#olive)"/>
<path d="M636.2,569.6 l3,2 l2.5,-3 M641.2,571.6 l-2,3 M638.2,573.6 l3,-1" fill="none" stroke="#c07a30" stroke-width="0.6"/>
<ellipse cx="666.0" cy="570.6" rx="7.4" ry="7.6" fill="url(#olive)"/>
<path d="M662.0,569.6 l3,2 l2.5,-3 M667.0,571.6 l-2,3 M664.0,573.6 l3,-1" fill="none" stroke="#c07a30" stroke-width="0.6"/>
<ellipse cx="537.0" cy="589.2" rx="7.4" ry="7.6" fill="url(#olive)"/>
<path d="M533.0,588.2 l3,2 l2.5,-3 M538.0,590.2 l-2,3 M535.0,592.2 l3,-1" fill="none" stroke="#c07a30" stroke-width="0.6"/>
<ellipse cx="562.8" cy="589.2" rx="7.4" ry="7.6" fill="url(#olive)"/>
<path d="M558.8,588.2 l3,2 l2.5,-3 M563.8,590.2 l-2,3 M560.8,592.2 l3,-1" fill="none" stroke="#c07a30" stroke-width="0.6"/>
<ellipse cx="588.6" cy="589.2" rx="7.4" ry="7.6" fill="url(#olive)"/>
<path d="M584.6,588.2 l3,2 l2.5,-3 M589.6,590.2 l-2,3 M586.6,592.2 l3,-1" fill="none" stroke="#c07a30" stroke-width="0.6"/>
<ellipse cx="614.4" cy="589.2" rx="7.4" ry="7.6" fill="url(#olive)"/>
<path d="M610.4,588.2 l3,2 l2.5,-3 M615.4,590.2 l-2,3 M612.4,592.2 l3,-1" fill="none" stroke="#c07a30" stroke-width="0.6"/>
<ellipse cx="640.2" cy="589.2" rx="7.4" ry="7.6" fill="url(#olive)"/>
<path d="M636.2,588.2 l3,2 l2.5,-3 M641.2,590.2 l-2,3 M638.2,592.2 l3,-1" fill="none" stroke="#c07a30" stroke-width="0.6"/>
<ellipse cx="666.0" cy="589.2" rx="7.4" ry="7.6" fill="url(#olive)"/>
<path d="M662.0,588.2 l3,2 l2.5,-3 M667.0,590.2 l-2,3 M664.0,592.2 l3,-1" fill="none" stroke="#c07a30" stroke-width="0.6"/>
<ellipse cx="537.0" cy="607.8" rx="7.4" ry="7.6" fill="url(#olive)"/>
<path d="M533.0,606.8 l3,2 l2.5,-3 M538.0,608.8 l-2,3 M535.0,610.8 l3,-1" fill="none" stroke="#c07a30" stroke-width="0.6"/>
<ellipse cx="562.8" cy="607.8" rx="7.4" ry="7.6" fill="url(#olive)"/>
<path d="M558.8,606.8 l3,2 l2.5,-3 M563.8,608.8 l-2,3 M560.8,610.8 l3,-1" fill="none" stroke="#c07a30" stroke-width="0.6"/>
<ellipse cx="588.6" cy="607.8" rx="7.4" ry="7.6" fill="url(#olive)"/>
<path d="M584.6,606.8 l3,2 l2.5,-3 M589.6,608.8 l-2,3 M586.6,610.8 l3,-1" fill="none" stroke="#c07a30" stroke-width="0.6"/>
<ellipse cx="614.4" cy="607.8" rx="7.4" ry="7.6" fill="url(#olive)"/>
<path d="M610.4,606.8 l3,2 l2.5,-3 M615.4,608.8 l-2,3 M612.4,610.8 l3,-1" fill="none" stroke="#c07a30" stroke-width="0.6"/>
<ellipse cx="640.2" cy="607.8" rx="7.4" ry="7.6" fill="url(#olive)"/>
<path d="M636.2,606.8 l3,2 l2.5,-3 M641.2,608.8 l-2,3 M638.2,610.8 l3,-1" fill="none" stroke="#c07a30" stroke-width="0.6"/>
<ellipse cx="666.0" cy="607.8" rx="7.4" ry="7.6" fill="url(#olive)"/>
<path d="M662.0,606.8 l3,2 l2.5,-3 M667.0,608.8 l-2,3 M664.0,610.8 l3,-1" fill="none" stroke="#c07a30" stroke-width="0.6"/>
<ellipse cx="537.0" cy="626.4" rx="7.4" ry="7.6" fill="url(#olive)"/>
<path d="M533.0,625.4 l3,2 l2.5,-3 M538.0,627.4 l-2,3 M535.0,629.4 l3,-1" fill="none" stroke="#c07a30" stroke-width="0.6"/>
<ellipse cx="562.8" cy="626.4" rx="7.4" ry="7.6" fill="url(#olive)"/>
<path d="M558.8,625.4 l3,2 l2.5,-3 M563.8,627.4 l-2,3 M560.8,629.4 l3,-1" fill="none" stroke="#c07a30" stroke-width="0.6"/>
<ellipse cx="588.6" cy="626.4" rx="7.4" ry="7.6" fill="url(#olive)"/>
<path d="M584.6,625.4 l3,2 l2.5,-3 M589.6,627.4 l-2,3 M586.6,629.4 l3,-1" fill="none" stroke="#c07a30" stroke-width="0.6"/>
<ellipse cx="614.4" cy="626.4" rx="7.4" ry="7.6" fill="url(#olive)"/>
<path d="M610.4,625.4 l3,2 l2.5,-3 M615.4,627.4 l-2,3 M612.4,629.4 l3,-1" fill="none" stroke="#c07a30" stroke-width="0.6"/>
<ellipse cx="640.2" cy="626.4" rx="7.4" ry="7.6" fill="url(#olive)"/>
<path d="M636.2,625.4 l3,2 l2.5,-3 M641.2,627.4 l-2,3 M638.2,629.4 l3,-1" fill="none" stroke="#c07a30" stroke-width="0.6"/>
<ellipse cx="666.0" cy="626.4" rx="7.4" ry="7.6" fill="url(#olive)"/>
<path d="M662.0,625.4 l3,2 l2.5,-3 M667.0,627.4 l-2,3 M664.0,629.4 l3,-1" fill="none" stroke="#c07a30" stroke-width="0.6"/>
<ellipse cx="537.0" cy="645.0" rx="7.4" ry="7.6" fill="url(#olive)"/>
<path d="M533.0,644.0 l3,2 l2.5,-3 M538.0,646.0 l-2,3 M535.0,648.0 l3,-1" fill="none" stroke="#c07a30" stroke-width="0.6"/>
<ellipse cx="562.8" cy="645.0" rx="7.4" ry="7.6" fill="url(#olive)"/>
<path d="M558.8,644.0 l3,2 l2.5,-3 M563.8,646.0 l-2,3 M560.8,648.0 l3,-1" fill="none" stroke="#c07a30" stroke-width="0.6"/>
<ellipse cx="588.6" cy="645.0" rx="7.4" ry="7.6" fill="url(#olive)"/>
<path d="M584.6,644.0 l3,2 l2.5,-3 M589.6,646.0 l-2,3 M586.6,648.0 l3,-1" fill="none" stroke="#c07a30" stroke-width="0.6"/>
<ellipse cx="614.4" cy="645.0" rx="7.4" ry="7.6" fill="url(#olive)"/>
<path d="M610.4,644.0 l3,2 l2.5,-3 M615.4,646.0 l-2,3 M612.4,648.0 l3,-1" fill="none" stroke="#c07a30" stroke-width="0.6"/>
<ellipse cx="640.2" cy="645.0" rx="7.4" ry="7.6" fill="url(#olive)"/>
<path d="M636.2,644.0 l3,2 l2.5,-3 M641.2,646.0 l-2,3 M638.2,648.0 l3,-1" fill="none" stroke="#c07a30" stroke-width="0.6"/>
<ellipse cx="666.0" cy="645.0" rx="7.4" ry="7.6" fill="url(#olive)"/>
<path d="M662.0,644.0 l3,2 l2.5,-3 M667.0,646.0 l-2,3 M664.0,648.0 l3,-1" fill="none" stroke="#c07a30" stroke-width="0.6"/>
<ellipse cx="537.0" cy="663.6" rx="7.4" ry="7.6" fill="url(#olive)"/>
<path d="M533.0,662.6 l3,2 l2.5,-3 M538.0,664.6 l-2,3 M535.0,666.6 l3,-1" fill="none" stroke="#c07a30" stroke-width="0.6"/>
<ellipse cx="562.8" cy="663.6" rx="7.4" ry="7.6" fill="url(#olive)"/>
<path d="M558.8,662.6 l3,2 l2.5,-3 M563.8,664.6 l-2,3 M560.8,666.6 l3,-1" fill="none" stroke="#c07a30" stroke-width="0.6"/>
<ellipse cx="588.6" cy="663.6" rx="7.4" ry="7.6" fill="url(#olive)"/>
<path d="M584.6,662.6 l3,2 l2.5,-3 M589.6,664.6 l-2,3 M586.6,666.6 l3,-1" fill="none" stroke="#c07a30" stroke-width="0.6"/>
<ellipse cx="614.4" cy="663.6" rx="7.4" ry="7.6" fill="url(#olive)"/>
<path d="M610.4,662.6 l3,2 l2.5,-3 M615.4,664.6 l-2,3 M612.4,666.6 l3,-1" fill="none" stroke="#c07a30" stroke-width="0.6"/>
<ellipse cx="640.2" cy="663.6" rx="7.4" ry="7.6" fill="url(#olive)"/>
<path d="M636.2,662.6 l3,2 l2.5,-3 M641.2,664.6 l-2,3 M638.2,666.6 l3,-1" fill="none" stroke="#c07a30" stroke-width="0.6"/>
<ellipse cx="666.0" cy="663.6" rx="7.4" ry="7.6" fill="url(#olive)"/>
<path d="M662.0,662.6 l3,2 l2.5,-3 M667.0,664.6 l-2,3 M664.0,666.6 l3,-1" fill="none" stroke="#c07a30" stroke-width="0.6"/>
<ellipse cx="537.0" cy="682.2" rx="7.4" ry="7.6" fill="url(#olive)"/>
<path d="M533.0,681.2 l3,2 l2.5,-3 M538.0,683.2 l-2,3 M535.0,685.2 l3,-1" fill="none" stroke="#c07a30" stroke-width="0.6"/>
<ellipse cx="562.8" cy="682.2" rx="7.4" ry="7.6" fill="url(#olive)"/>
<path d="M558.8,681.2 l3,2 l2.5,-3 M563.8,683.2 l-2,3 M560.8,685.2 l3,-1" fill="none" stroke="#c07a30" stroke-width="0.6"/>
<ellipse cx="588.6" cy="682.2" rx="7.4" ry="7.6" fill="url(#olive)"/>
<path d="M584.6,681.2 l3,2 l2.5,-3 M589.6,683.2 l-2,3 M586.6,685.2 l3,-1" fill="none" stroke="#c07a30" stroke-width="0.6"/>
<ellipse cx="614.4" cy="682.2" rx="7.4" ry="7.6" fill="url(#olive)"/>
<path d="M610.4,681.2 l3,2 l2.5,-3 M615.4,683.2 l-2,3 M612.4,685.2 l3,-1" fill="none" stroke="#c07a30" stroke-width="0.6"/>
<ellipse cx="640.2" cy="682.2" rx="7.4" ry="7.6" fill="url(#olive)"/>
<path d="M636.2,681.2 l3,2 l2.5,-3 M641.2,683.2 l-2,3 M638.2,685.2 l3,-1" fill="none" stroke="#c07a30" stroke-width="0.6"/>
<ellipse cx="666.0" cy="682.2" rx="7.4" ry="7.6" fill="url(#olive)"/>
<path d="M662.0,681.2 l3,2 l2.5,-3 M667.0,683.2 l-2,3 M664.0,685.2 l3,-1" fill="none" stroke="#c07a30" stroke-width="0.6"/>
<ellipse cx="547.5" cy="559.5" rx="8.2" ry="8" fill="url(#ring)"/>
<ellipse cx="574.1" cy="559.5" rx="8.2" ry="8" fill="url(#ringO)"/>
<ellipse cx="600.7" cy="559.5" rx="8.2" ry="8" fill="url(#ring)"/>
<ellipse cx="627.3" cy="559.5" rx="8.2" ry="8" fill="url(#ringO)"/>
<ellipse cx="653.9" cy="559.5" rx="8.2" ry="8" fill="url(#ring)"/>
<ellipse cx="547.5" cy="578.5" rx="8.2" ry="8" fill="url(#ring)"/>
<ellipse cx="574.1" cy="578.5" rx="8.2" ry="8" fill="url(#ring)"/>
<ellipse cx="600.7" cy="578.5" rx="8.2" ry="8" fill="url(#ring)"/>
<ellipse cx="627.3" cy="578.5" rx="8.2" ry="8" fill="url(#ring)"/>
<ellipse cx="653.9" cy="578.5" rx="8.2" ry="8" fill="url(#ring)"/>
<ellipse cx="547.5" cy="597.5" rx="8.2" ry="8" fill="url(#ring)"/>
<ellipse cx="574.1" cy="597.5" rx="8.2" ry="8" fill="url(#ringO)"/>
<ellipse cx="600.7" cy="597.5" rx="8.2" ry="8" fill="url(#ring)"/>
<ellipse cx="627.3" cy="597.5" rx="8.2" ry="8" fill="url(#ringO)"/>
<ellipse cx="653.9" cy="597.5" rx="8.2" ry="8" fill="url(#ring)"/>
<ellipse cx="547.5" cy="616.5" rx="8.2" ry="8" fill="url(#ring)"/>
<ellipse cx="574.1" cy="616.5" rx="8.2" ry="8" fill="url(#ring)"/>
<ellipse cx="600.7" cy="616.5" rx="8.2" ry="8" fill="url(#ring)"/>
<ellipse cx="627.3" cy="616.5" rx="8.2" ry="8" fill="url(#ring)"/>
<ellipse cx="653.9" cy="616.5" rx="8.2" ry="8" fill="url(#ring)"/>
<ellipse cx="547.5" cy="635.5" rx="8.2" ry="8" fill="url(#ring)"/>
<ellipse cx="574.1" cy="635.5" rx="8.2" ry="8" fill="url(#ringO)"/>
<ellipse cx="600.7" cy="635.5" rx="8.2" ry="8" fill="url(#ring)"/>
<ellipse cx="627.3" cy="635.5" rx="8.2" ry="8" fill="url(#ringO)"/>
<ellipse cx="653.9" cy="635.5" rx="8.2" ry="8" fill="url(#ring)"/>
<ellipse cx="547.5" cy="654.5" rx="8.2" ry="8" fill="url(#ring)"/>
<ellipse cx="574.1" cy="654.5" rx="8.2" ry="8" fill="url(#ring)"/>
<ellipse cx="600.7" cy="654.5" rx="8.2" ry="8" fill="url(#ring)"/>
<ellipse cx="627.3" cy="654.5" rx="8.2" ry="8" fill="url(#ring)"/>
<ellipse cx="653.9" cy="654.5" rx="8.2" ry="8" fill="url(#ring)"/>
<ellipse cx="547.5" cy="673.5" rx="8.2" ry="8" fill="url(#ring)"/>
<ellipse cx="574.1" cy="673.5" rx="8.2" ry="8" fill="url(#ringO)"/>
<ellipse cx="600.7" cy="673.5" rx="8.2" ry="8" fill="url(#ring)"/>
<ellipse cx="627.3" cy="673.5" rx="8.2" ry="8" fill="url(#ringO)"/>
<ellipse cx="653.9" cy="673.5" rx="8.2" ry="8" fill="url(#ring)"/>
<ellipse cx="547.5" cy="692.5" rx="8.2" ry="8" fill="url(#ring)"/>
<ellipse cx="574.1" cy="692.5" rx="8.2" ry="8" fill="url(#ring)"/>
<ellipse cx="600.7" cy="692.5" rx="8.2" ry="8" fill="url(#ring)"/>
<ellipse cx="627.3" cy="692.5" rx="8.2" ry="8" fill="url(#ring)"/>
<ellipse cx="653.9" cy="692.5" rx="8.2" ry="8" fill="url(#ring)"/>
<circle cx="549.0" cy="550.4" r="2.6" fill="#2448a8"/>
<circle cx="549.0" cy="550.4" r="1.2" fill="#e8f0ff"/>
<circle cx="575.6" cy="550.4" r="2.6" fill="#2448a8"/>
<circle cx="575.6" cy="550.4" r="1.2" fill="#e8f0ff"/>
<circle cx="602.2" cy="550.4" r="2.6" fill="#2448a8"/>
<circle cx="602.2" cy="550.4" r="1.2" fill="#e8f0ff"/>
<circle cx="628.8" cy="550.4" r="2.6" fill="#2448a8"/>
<circle cx="628.8" cy="550.4" r="1.2" fill="#e8f0ff"/>
<circle cx="655.4" cy="550.4" r="2.6" fill="#2448a8"/>
<circle cx="655.4" cy="550.4" r="1.2" fill="#e8f0ff"/>
<circle cx="682.0" cy="550.4" r="2.6" fill="#2448a8"/>
<circle cx="682.0" cy="550.4" r="1.2" fill="#e8f0ff"/>
<circle cx="549.0" cy="569.4" r="2.6" fill="#2448a8"/>
<circle cx="549.0" cy="569.4" r="1.2" fill="#e8f0ff"/>
<circle cx="575.6" cy="569.4" r="2.6" fill="#2448a8"/>
<circle cx="575.6" cy="569.4" r="1.2" fill="#e8f0ff"/>
<circle cx="602.2" cy="569.4" r="2.6" fill="#2448a8"/>
<circle cx="602.2" cy="569.4" r="1.2" fill="#e8f0ff"/>
<circle cx="628.8" cy="569.4" r="2.6" fill="#2448a8"/>
<circle cx="628.8" cy="569.4" r="1.2" fill="#e8f0ff"/>
<circle cx="655.4" cy="569.4" r="2.6" fill="#2448a8"/>
<circle cx="655.4" cy="569.4" r="1.2" fill="#e8f0ff"/>
<circle cx="682.0" cy="569.4" r="2.6" fill="#2448a8"/>
<circle cx="682.0" cy="569.4" r="1.2" fill="#e8f0ff"/>
<circle cx="549.0" cy="588.4" r="2.6" fill="#2448a8"/>
<circle cx="549.0" cy="588.4" r="1.2" fill="#e8f0ff"/>
<circle cx="575.6" cy="588.4" r="2.6" fill="#2448a8"/>
<circle cx="575.6" cy="588.4" r="1.2" fill="#e8f0ff"/>
<circle cx="602.2" cy="588.4" r="2.6" fill="#2448a8"/>
<circle cx="602.2" cy="588.4" r="1.2" fill="#e8f0ff"/>
<circle cx="628.8" cy="588.4" r="2.6" fill="#2448a8"/>
<circle cx="628.8" cy="588.4" r="1.2" fill="#e8f0ff"/>
<circle cx="655.4" cy="588.4" r="2.6" fill="#2448a8"/>
<circle cx="655.4" cy="588.4" r="1.2" fill="#e8f0ff"/>
<circle cx="682.0" cy="588.4" r="2.6" fill="#2448a8"/>
<circle cx="682.0" cy="588.4" r="1.2" fill="#e8f0ff"/>
<circle cx="549.0" cy="607.4" r="2.6" fill="#2448a8"/>
<circle cx="549.0" cy="607.4" r="1.2" fill="#e8f0ff"/>
<circle cx="575.6" cy="607.4" r="2.6" fill="#2448a8"/>
<circle cx="575.6" cy="607.4" r="1.2" fill="#e8f0ff"/>
<circle cx="602.2" cy="607.4" r="2.6" fill="#2448a8"/>
<circle cx="602.2" cy="607.4" r="1.2" fill="#e8f0ff"/>
<circle cx="628.8" cy="607.4" r="2.6" fill="#2448a8"/>
<circle cx="628.8" cy="607.4" r="1.2" fill="#e8f0ff"/>
<circle cx="655.4" cy="607.4" r="2.6" fill="#2448a8"/>
<circle cx="655.4" cy="607.4" r="1.2" fill="#e8f0ff"/>
<circle cx="682.0" cy="607.4" r="2.6" fill="#2448a8"/>
<circle cx="682.0" cy="607.4" r="1.2" fill="#e8f0ff"/>
<circle cx="549.0" cy="626.4" r="2.6" fill="#2448a8"/>
<circle cx="549.0" cy="626.4" r="1.2" fill="#e8f0ff"/>
<circle cx="575.6" cy="626.4" r="2.6" fill="#2448a8"/>
<circle cx="575.6" cy="626.4" r="1.2" fill="#e8f0ff"/>
<circle cx="602.2" cy="626.4" r="2.6" fill="#2448a8"/>
<circle cx="602.2" cy="626.4" r="1.2" fill="#e8f0ff"/>
<circle cx="628.8" cy="626.4" r="2.6" fill="#2448a8"/>
<circle cx="628.8" cy="626.4" r="1.2" fill="#e8f0ff"/>
<circle cx="655.4" cy="626.4" r="2.6" fill="#2448a8"/>
<circle cx="655.4" cy="626.4" r="1.2" fill="#e8f0ff"/>
<circle cx="682.0" cy="626.4" r="2.6" fill="#2448a8"/>
<circle cx="682.0" cy="626.4" r="1.2" fill="#e8f0ff"/>
<circle cx="549.0" cy="645.4" r="2.6" fill="#2448a8"/>
<circle cx="549.0" cy="645.4" r="1.2" fill="#e8f0ff"/>
<circle cx="575.6" cy="645.4" r="2.6" fill="#2448a8"/>
<circle cx="575.6" cy="645.4" r="1.2" fill="#e8f0ff"/>
<circle cx="602.2" cy="645.4" r="2.6" fill="#2448a8"/>
<circle cx="602.2" cy="645.4" r="1.2" fill="#e8f0ff"/>
<circle cx="628.8" cy="645.4" r="2.6" fill="#2448a8"/>
<circle cx="628.8" cy="645.4" r="1.2" fill="#e8f0ff"/>
<circle cx="655.4" cy="645.4" r="2.6" fill="#2448a8"/>
<circle cx="655.4" cy="645.4" r="1.2" fill="#e8f0ff"/>
<circle cx="682.0" cy="645.4" r="2.6" fill="#2448a8"/>
<circle cx="682.0" cy="645.4" r="1.2" fill="#e8f0ff"/>
<circle cx="549.0" cy="664.4" r="2.6" fill="#2448a8"/>
<circle cx="549.0" cy="664.4" r="1.2" fill="#e8f0ff"/>
<circle cx="575.6" cy="664.4" r="2.6" fill="#2448a8"/>
<circle cx="575.6" cy="664.4" r="1.2" fill="#e8f0ff"/>
<circle cx="602.2" cy="664.4" r="2.6" fill="#2448a8"/>
<circle cx="602.2" cy="664.4" r="1.2" fill="#e8f0ff"/>
<circle cx="628.8" cy="664.4" r="2.6" fill="#2448a8"/>
<circle cx="628.8" cy="664.4" r="1.2" fill="#e8f0ff"/>
<circle cx="655.4" cy="664.4" r="2.6" fill="#2448a8"/>
<circle cx="655.4" cy="664.4" r="1.2" fill="#e8f0ff"/>
<circle cx="682.0" cy="664.4" r="2.6" fill="#2448a8"/>
<circle cx="682.0" cy="664.4" r="1.2" fill="#e8f0ff"/>
<circle cx="549.0" cy="683.4" r="2.6" fill="#2448a8"/>
<circle cx="549.0" cy="683.4" r="1.2" fill="#e8f0ff"/>
<circle cx="575.6" cy="683.4" r="2.6" fill="#2448a8"/>
<circle cx="575.6" cy="683.4" r="1.2" fill="#e8f0ff"/>
<circle cx="602.2" cy="683.4" r="2.6" fill="#2448a8"/>
<circle cx="602.2" cy="683.4" r="1.2" fill="#e8f0ff"/>
<circle cx="628.8" cy="683.4" r="2.6" fill="#2448a8"/>
<circle cx="628.8" cy="683.4" r="1.2" fill="#e8f0ff"/>
<circle cx="655.4" cy="683.4" r="2.6" fill="#2448a8"/>
<circle cx="655.4" cy="683.4" r="1.2" fill="#e8f0ff"/>
<circle cx="682.0" cy="683.4" r="2.6" fill="#2448a8"/>
<circle cx="682.0" cy="683.4" r="1.2" fill="#e8f0ff"/>
</g>
<text x="573.2" y="375.8" font-size="13.8" text-anchor="start" fill="#333" textLength="59.3" lengthAdjust="spacingAndGlyphs"><tspan>Fe</tspan><tspan dy="4.1" font-size="9.0">3</tspan><tspan dy="-4.1">O</tspan><tspan dy="4.1" font-size="9.0">4</tspan><tspan dy="-4.1"> NPs</tspan></text>
<text x="570.2" y="541.1" font-size="13.8" text-anchor="start" fill="#333" textLength="65.4" lengthAdjust="spacingAndGlyphs"><tspan>Cu</tspan><tspan dy="4.1" font-size="9.0">8</tspan><tspan dy="-4.1">Fe</tspan><tspan dy="4.1" font-size="9.0">2</tspan><tspan dy="-4.1"> NCs</tspan></text>
<circle cx="566.6" cy="485.3" r="14.0" fill="none" stroke="#1b2a5a" stroke-width="3.0" stroke-dasharray="9.5,5.5"/>
<circle cx="651.0" cy="472.0" r="13.0" fill="none" stroke="#1b2a5a" stroke-width="3.0" stroke-dasharray="9.5,5.5"/>
<circle cx="560.8" cy="657.5" r="12.5" fill="none" stroke="#1b2a5a" stroke-width="3.0" stroke-dasharray="9.5,5.5"/>
<circle cx="654.6" cy="612.5" r="12.0" fill="none" stroke="#1b2a5a" stroke-width="3.0" stroke-dasharray="9.5,5.5"/>
<circle cx="433.9" cy="451.8" r="63.0" fill="none" stroke="#1b2a5a" stroke-width="3.0" stroke-dasharray="9.5,5.5"/>
<circle cx="788.5" cy="459.5" r="63.0" fill="none" stroke="#1b2a5a" stroke-width="3.0" stroke-dasharray="9.5,5.5"/>
<circle cx="424.0" cy="613.7" r="69.0" fill="none" stroke="#1b2a5a" stroke-width="3.0" stroke-dasharray="9.5,5.5"/>
<circle cx="787.8" cy="612.0" r="63.5" fill="none" stroke="#1b2a5a" stroke-width="3.0" stroke-dasharray="9.5,5.5"/>
<path d="M485 413L560 476M455 513L555 499M660 462L745 413M662 482L758 517M481 574.4L552 649M443.7 678.7L552 668M664 604L754 559.5M664 625L754 665" stroke="#1b2a5a" stroke-width="2.8" fill="none" stroke-dasharray="8.5,5"/>
<path d="M423.5 462.6L423.5 431.6M423.5 462.6L405.6 470M423.5 462.6L414.2 476.5M423.5 462.6L449.8 472" stroke="#3f7d7d" stroke-width="5.0" fill="none"/>
<path d="M423.5 431.6L423.5 400.5M405.6 470L387.8 477.4M414.2 476.5L405 490.3M449.8 472L476 481.3" stroke="#d42a2a" stroke-width="5.0" fill="none"/>
<circle cx="405.0" cy="490.3" r="9.0" fill="url(#gO)"/>
<circle cx="423.5" cy="462.6" r="15.4" fill="url(#gFe)"/>
<circle cx="423.5" cy="400.5" r="8.8" fill="url(#gO)"/>
<circle cx="387.8" cy="477.4" r="8.8" fill="url(#gO)"/>
<circle cx="476.0" cy="481.3" r="8.8" fill="url(#gO)"/>
<text x="431.9" y="435.0" font-size="14" text-anchor="start" fill="#3a3232" textLength="38.0" lengthAdjust="spacingAndGlyphs">1.98 Å</text>
<path d="M791 459.3L781.3 452.8" stroke="#3f7d7d" stroke-width="4.2" fill="none"/>
<path d="M781.3 452.8L771.6 446.3" stroke="#d42a2a" stroke-width="4.2" fill="none"/>
<circle cx="771.6" cy="446.3" r="5.8" fill="url(#gO)"/>
<path d="M791 459.3L791 434.6M791 459.3L791 483.1M791 459.3L769.7 459.4M791 459.3L812.4 459.4M791 459.3L800.7 465.1" stroke="#3f7d7d" stroke-width="4.2" fill="none"/>
<path d="M791 434.6L791 409.9M791 483.1L791 506.9M769.7 459.4L748.4 459.4M812.4 459.4L833.7 459.4M800.7 465.1L810.4 471" stroke="#d42a2a" stroke-width="4.2" fill="none"/>
<circle cx="791.0" cy="459.3" r="10.5" fill="url(#gFe)"/>
<circle cx="791.0" cy="409.9" r="6.0" fill="url(#gO)"/>
<circle cx="791.0" cy="506.9" r="6.0" fill="url(#gO)"/>
<circle cx="748.4" cy="459.4" r="6.0" fill="url(#gO)"/>
<circle cx="833.7" cy="459.4" r="6.0" fill="url(#gO)"/>
<circle cx="810.4" cy="471.0" r="6.0" fill="url(#gO)"/>
<text x="797.9" y="443.3" font-size="14" text-anchor="start" fill="#3a3232" textLength="37.9" lengthAdjust="spacingAndGlyphs">2.14 Å</text>
<path d="M420.9 621.9L411.3 593.2M420.9 621.9L396.6 623.8M420.9 621.9L414.8 635.8M420.9 621.9L448.1 628" stroke="#3f7d7d" stroke-width="5.6" fill="none"/>
<path d="M411.3 593.2L401.7 564.6M396.6 623.8L372.4 625.8M414.8 635.8L408.7 649.6M448.1 628L475.3 634" stroke="#d42a2a" stroke-width="5.6" fill="none"/>
<circle cx="408.7" cy="649.6" r="10.0" fill="url(#gO)"/>
<circle cx="420.9" cy="621.9" r="18.0" fill="url(#gFe)"/>
<circle cx="401.7" cy="564.6" r="10.0" fill="url(#gO)"/>
<circle cx="372.4" cy="625.8" r="10.0" fill="url(#gO)"/>
<circle cx="475.3" cy="634.0" r="10.0" fill="url(#gO)"/>
<text x="416.2" y="589.3" font-size="14" text-anchor="start" fill="#3a3232" textLength="36.1" lengthAdjust="spacingAndGlyphs">1.84 Å</text>
<text x="445.4" y="618.5" font-size="14" text-anchor="start" fill="#3a3232" textLength="36.1" lengthAdjust="spacingAndGlyphs">1.70 Å</text>
<path d="M790.6 615.3L800.8 606" stroke="#4d64b9" stroke-width="4.2" fill="none"/>
<path d="M800.8 606L811 596.7" stroke="#d42a2a" stroke-width="4.2" fill="none"/>
<circle cx="811.0" cy="596.7" r="5.8" fill="url(#gO)"/>
<path d="M790.6 615.3L789.2 591.6M790.6 615.3L791.3 638.8M790.6 615.3L768 612M790.6 615.3L813.2 614.8M790.6 615.3L776.5 621.2" stroke="#4d64b9" stroke-width="4.2" fill="none"/>
<path d="M789.2 591.6L787.8 567.9M791.3 638.8L792 662.4M768 612L745.5 608.8M813.2 614.8L835.8 614.4M776.5 621.2L762.5 627.1" stroke="#d42a2a" stroke-width="4.2" fill="none"/>
<circle cx="790.6" cy="615.3" r="12.0" fill="url(#gCu)"/>
<circle cx="787.8" cy="567.9" r="6.0" fill="url(#gO)"/>
<circle cx="792.0" cy="662.4" r="6.0" fill="url(#gO)"/>
<circle cx="745.5" cy="608.8" r="6.0" fill="url(#gO)"/>
<circle cx="835.8" cy="614.4" r="6.0" fill="url(#gO)"/>
<circle cx="762.5" cy="627.1" r="6.0" fill="url(#gO)"/>
<text x="748.4" y="589.1" font-size="14" text-anchor="start" fill="#3a3232" textLength="36.6" lengthAdjust="spacingAndGlyphs">1.99 Å</text>
<text x="806.2" y="632.2" font-size="14" text-anchor="start" fill="#3a3232" textLength="36.6" lengthAdjust="spacingAndGlyphs">2.27 Å</text>
<text x="748.9" y="643.5" font-size="14" text-anchor="start" fill="#3a3232" textLength="37.5" lengthAdjust="spacingAndGlyphs">2.09 Å</text>
<text x="119.9" y="29.6" font-size="12" text-anchor="start" fill="#333" textLength="54.1" lengthAdjust="spacingAndGlyphs"><tspan>Cu</tspan><tspan dy="3.6" font-size="7.8">8</tspan><tspan dy="-3.6">Fe</tspan><tspan dy="3.6" font-size="7.8">2</tspan><tspan dy="-3.6">NCs</tspan></text>
<text x="395.5" y="29.6" font-size="12" text-anchor="start" fill="#333" textLength="53.8" lengthAdjust="spacingAndGlyphs"><tspan>Cu</tspan><tspan dy="3.6" font-size="7.8">2</tspan><tspan dy="-3.6">Fe</tspan><tspan dy="3.6" font-size="7.8">8</tspan><tspan dy="-3.6">NCs</tspan></text>
<path d="M22.4 38.3L290 38.3M297 38.3L550.6 38.3" stroke="#333" stroke-width="1.1" fill="none"/>
<text x="256.7" y="11.9" font-size="11" text-anchor="start" fill="#333" textLength="13.5" lengthAdjust="spacingAndGlyphs">Cu</text>
<text x="305.0" y="11.9" font-size="11" text-anchor="start" fill="#333" textLength="11.5" lengthAdjust="spacingAndGlyphs">Fe</text>
<text x="357.5" y="11.9" font-size="11" text-anchor="start" fill="#333" textLength="8.2" lengthAdjust="spacingAndGlyphs">O</text>
<circle cx="262.2" cy="22.8" r="6.9" fill="url(#aCu)"/>
<circle cx="310.4" cy="23.4" r="7.8" fill="url(#aFeL)"/>
<circle cx="361.2" cy="23.2" r="5.3" fill="url(#aO)"/>
<text x="68.8" y="57.5" font-size="10.5" text-anchor="start" fill="#333" textLength="38.3" lengthAdjust="spacingAndGlyphs">(0  1  0)</text>
<text x="209.3" y="57.5" font-size="10.5" text-anchor="start" fill="#333" textLength="38.3" lengthAdjust="spacingAndGlyphs">(0  0  1)</text>
<text x="335.6" y="57.5" font-size="10.5" text-anchor="start" fill="#333" textLength="38.4" lengthAdjust="spacingAndGlyphs">(0  1  0)</text>
<text x="476.1" y="57.5" font-size="10.5" text-anchor="start" fill="#333" textLength="38.3" lengthAdjust="spacingAndGlyphs">(0  0  1)</text>
<text x="10.8" y="123.2" font-size="12" text-anchor="middle" fill="#333" transform="rotate(-90 10.8 123.2)" textLength="53.3" lengthAdjust="spacingAndGlyphs">(Top view)</text>
<text x="10.8" y="242.6" font-size="12" text-anchor="middle" fill="#333" transform="rotate(-90 10.8 242.6)" textLength="56.0" lengthAdjust="spacingAndGlyphs">(Side view)</text>
<path d="M28.8 63L28.8 199.5M86.3 63L86.3 199.5M144.1 63L144.1 199.5M21.8 71.5L150.8 71.5M21.8 101.7L150.8 101.7M21.8 131.9L150.8 131.9M21.8 162.1L150.8 162.1M21.8 192.3L150.8 192.3" stroke="#c6c6ec" stroke-width="1.4" fill="none"/>
<path d="M42.1 71.5L57.5 86.6M42.1 101.7L57.5 86.6M42.1 101.7L57.5 116.8M42.1 131.9L57.5 116.8M42.1 131.9L57.5 147M42.1 162.1L57.5 147M42.1 162.1L57.5 177.2M42.1 192.3L57.5 177.2M99.6 71.5L115 86.6M99.6 101.7L115 86.6M99.6 101.7L115 116.8M99.6 131.9L115 116.8M99.6 131.9L115 147M99.6 162.1L115 147M99.6 162.1L115 177.2M99.6 192.3L115 177.2" stroke="#a08a58" stroke-width="1.2" fill="none"/>
<path d="M57.5 86.6L72.9 101.7M57.5 86.6L72.9 71.5M57.5 116.8L72.9 131.9M57.5 116.8L72.9 101.7M57.5 147L72.9 162.1M57.5 147L72.9 131.9M57.5 177.2L72.9 192.3M57.5 177.2L72.9 162.1M115 86.6L130.4 101.7M115 86.6L130.4 71.5M115 116.8L130.4 131.9M115 116.8L130.4 101.7M115 147L130.4 162.1M115 147L130.4 131.9M115 177.2L130.4 192.3M115 177.2L130.4 162.1" stroke="#6a76b4" stroke-width="1.2" fill="none"/>
<path d="M57.5 75.5L57.5 86.6M57.5 105.7L57.5 116.8M57.5 135.9L57.5 147M57.5 166.1L57.5 177.2M115 75.5L115 86.6M115 105.7L115 116.8M115 135.9L115 147M115 166.1L115 177.2" stroke="#b4b4e0" stroke-width="1.1" fill="none"/>
<path d="M57.5 86.6L57.5 97.7M57.5 116.8L57.5 127.9M57.5 147L57.5 158.1M57.5 177.2L57.5 188.3M115 86.6L115 97.7M115 116.8L115 127.9M115 147L115 158.1M115 177.2L115 188.3" stroke="#a08a58" stroke-width="1.1" fill="none"/>
<path d="M42.1 71.5L36.1 64.5M42.1 71.5L48.1 64.5M42.1 192.3L36.1 199.3M42.1 192.3L48.1 199.3M72.9 71.5L66.9 64.5M72.9 71.5L78.9 64.5M72.9 192.3L66.9 199.3M72.9 192.3L78.9 199.3M99.6 71.5L93.6 64.5M99.6 71.5L105.6 64.5M99.6 192.3L93.6 199.3M99.6 192.3L105.6 199.3M130.4 71.5L124.4 64.5M130.4 71.5L136.4 64.5M130.4 192.3L124.4 199.3M130.4 192.3L136.4 199.3" stroke="#7d5f24" stroke-width="2.2" fill="none"/>
<path d="M42.1 71.5L49.8 71.5M72.9 71.5L65.2 71.5M99.6 71.5L107.3 71.5M130.4 71.5L122.7 71.5M42.1 101.7L49.8 101.7M72.9 101.7L65.2 101.7M99.6 101.7L107.3 101.7M130.4 101.7L122.7 101.7M42.1 131.9L49.8 131.9M72.9 131.9L65.2 131.9M99.6 131.9L107.3 131.9M130.4 131.9L122.7 131.9M42.1 162.1L49.8 162.1M72.9 162.1L65.2 162.1M99.6 162.1L107.3 162.1M130.4 162.1L122.7 162.1M42.1 192.3L49.8 192.3M72.9 192.3L65.2 192.3M99.6 192.3L107.3 192.3M130.4 192.3L122.7 192.3M35.5 79.4L42.1 71.8M35.5 94.6L42.1 102.2M35.5 109.6L42.1 102M35.5 124.8L42.1 132.4M35.5 139.8L42.1 132.2M35.5 155L42.1 162.6M35.5 170L42.1 162.4M35.5 185.2L42.1 192.8M79.7 79.4L73 71.8M79.7 94.6L73 102.2M93 79.4L99.6 71.8M93 94.6L99.6 102.2M79.7 109.6L73 102M79.7 124.8L73 132.4M93 109.6L99.6 102M93 124.8L99.6 132.4M79.7 139.8L73 132.2M79.7 155L73 162.6M93 139.8L99.6 132.2M93 155L99.6 162.6M79.7 170L73 162.4M79.7 185.2L73 192.8M93 170L99.6 162.4M93 185.2L99.6 192.8M137.2 79.4L130.5 71.8M137.2 94.6L130.5 102.2M137.2 109.6L130.5 102M137.2 124.8L130.5 132.4M137.2 139.8L130.5 132.2M137.2 155L130.5 162.6M137.2 170L130.5 162.4M137.2 185.2L130.5 192.8" stroke="#7d5f24" stroke-width="2.4" fill="none"/>
<path d="M49.8 71.5L57.5 71.5M65.2 71.5L57.5 71.5M107.3 71.5L115 71.5M122.7 71.5L115 71.5M49.8 131.9L57.5 131.9M65.2 131.9L57.5 131.9M107.3 131.9L115 131.9M122.7 131.9L115 131.9M49.8 192.3L57.5 192.3M65.2 192.3L57.5 192.3M107.3 192.3L115 192.3M122.7 192.3L115 192.3" stroke="#9a9cca" stroke-width="2.4" fill="none"/>
<path d="M49.8 101.7L57.5 101.7M65.2 101.7L57.5 101.7M107.3 101.7L115 101.7M122.7 101.7L115 101.7M49.8 162.1L57.5 162.1M65.2 162.1L57.5 162.1M107.3 162.1L115 162.1M122.7 162.1L115 162.1M28.8 87L35.5 79.4M28.8 87L35.5 94.6M28.8 117.2L35.5 109.6M28.8 117.2L35.5 124.8M28.8 147.4L35.5 139.8M28.8 147.4L35.5 155M28.8 177.6L35.5 170M28.8 177.6L35.5 185.2M86.3 87L79.7 79.4M86.3 87L79.7 94.6M86.3 87L93 79.4M86.3 87L93 94.6M86.3 117.2L79.7 109.6M86.3 117.2L79.7 124.8M86.3 117.2L93 109.6M86.3 117.2L93 124.8M86.3 147.4L79.7 139.8M86.3 147.4L79.7 155M86.3 147.4L93 139.8M86.3 147.4L93 155M86.3 177.6L79.7 170M86.3 177.6L79.7 185.2M86.3 177.6L93 170M86.3 177.6L93 185.2M143.8 87L137.2 79.4M143.8 87L137.2 94.6M143.8 117.2L137.2 109.6M143.8 117.2L137.2 124.8M143.8 147.4L137.2 139.8M143.8 147.4L137.2 155M143.8 177.6L137.2 170M143.8 177.6L137.2 185.2" stroke="#2a3a82" stroke-width="2.4" fill="none"/>
<path d="M28.8 87L21.5 78.6M28.8 87L21.5 95.4M28.8 117.2L21.5 108.8M28.8 117.2L21.5 125.6M28.8 147.4L21.5 139M28.8 147.4L21.5 155.8M28.8 177.6L21.5 169.2M28.8 177.6L21.5 186M143.8 87L151.1 78.6M143.8 87L151.1 95.4M143.8 117.2L151.1 108.8M143.8 117.2L151.1 125.6M143.8 147.4L151.1 139M143.8 147.4L151.1 155.8M143.8 177.6L151.1 169.2M143.8 177.6L151.1 186" stroke="#2a3a82" stroke-width="2.2" fill="none"/>
<circle cx="28.8" cy="87.0" r="4.8" fill="url(#aCu)"/>
<circle cx="28.8" cy="117.2" r="4.8" fill="url(#aCu)"/>
<circle cx="28.8" cy="147.4" r="4.8" fill="url(#aCu)"/>
<circle cx="28.8" cy="177.6" r="4.8" fill="url(#aCu)"/>
<circle cx="86.3" cy="87.0" r="4.8" fill="url(#aCu)"/>
<circle cx="86.3" cy="117.2" r="4.8" fill="url(#aCu)"/>
<circle cx="86.3" cy="147.4" r="4.8" fill="url(#aCu)"/>
<circle cx="86.3" cy="177.6" r="4.8" fill="url(#aCu)"/>
<circle cx="143.8" cy="87.0" r="4.8" fill="url(#aCu)"/>
<circle cx="143.8" cy="117.2" r="4.8" fill="url(#aCu)"/>
<circle cx="143.8" cy="147.4" r="4.8" fill="url(#aCu)"/>
<circle cx="143.8" cy="177.6" r="4.8" fill="url(#aCu)"/>
<circle cx="57.5" cy="71.5" r="4.9" fill="url(#aFe)"/>
<circle cx="115.0" cy="71.5" r="4.9" fill="url(#aFe)"/>
<circle cx="57.5" cy="101.7" r="4.9" fill="url(#aCu)"/>
<circle cx="115.0" cy="101.7" r="4.9" fill="url(#aCu)"/>
<circle cx="57.5" cy="131.9" r="4.9" fill="url(#aFe)"/>
<circle cx="115.0" cy="131.9" r="4.9" fill="url(#aFe)"/>
<circle cx="57.5" cy="162.1" r="4.9" fill="url(#aCu)"/>
<circle cx="115.0" cy="162.1" r="4.9" fill="url(#aCu)"/>
<circle cx="57.5" cy="192.3" r="4.9" fill="url(#aFe)"/>
<circle cx="115.0" cy="192.3" r="4.9" fill="url(#aFe)"/>
<circle cx="42.1" cy="71.5" r="2.8" fill="url(#aO)"/>
<circle cx="72.9" cy="71.5" r="2.8" fill="url(#aO)"/>
<circle cx="99.6" cy="71.5" r="2.8" fill="url(#aO)"/>
<circle cx="130.4" cy="71.5" r="2.8" fill="url(#aO)"/>
<circle cx="42.1" cy="101.7" r="2.8" fill="url(#aO)"/>
<circle cx="72.9" cy="101.7" r="2.8" fill="url(#aO)"/>
<circle cx="99.6" cy="101.7" r="2.8" fill="url(#aO)"/>
<circle cx="130.4" cy="101.7" r="2.8" fill="url(#aO)"/>
<circle cx="42.1" cy="131.9" r="2.8" fill="url(#aO)"/>
<circle cx="72.9" cy="131.9" r="2.8" fill="url(#aO)"/>
<circle cx="99.6" cy="131.9" r="2.8" fill="url(#aO)"/>
<circle cx="130.4" cy="131.9" r="2.8" fill="url(#aO)"/>
<circle cx="42.1" cy="162.1" r="2.8" fill="url(#aO)"/>
<circle cx="72.9" cy="162.1" r="2.8" fill="url(#aO)"/>
<circle cx="99.6" cy="162.1" r="2.8" fill="url(#aO)"/>
<circle cx="130.4" cy="162.1" r="2.8" fill="url(#aO)"/>
<circle cx="42.1" cy="192.3" r="2.8" fill="url(#aO)"/>
<circle cx="72.9" cy="192.3" r="2.8" fill="url(#aO)"/>
<circle cx="99.6" cy="192.3" r="2.8" fill="url(#aO)"/>
<circle cx="130.4" cy="192.3" r="2.8" fill="url(#aO)"/>
<path d="M304.1 62.8L304.1 199.3M361.6 62.8L361.6 199.3M297.1 71.3L410.1 71.3M297.1 101.5L410.1 101.5M297.1 131.7L410.1 131.7M297.1 161.9L410.1 161.9M297.1 192.1L410.1 192.1" stroke="#c6c6ec" stroke-width="1.4" fill="none"/>
<path d="M317.4 71.3L332.8 86.4M317.4 101.5L332.8 86.4M317.4 101.5L332.8 116.6M317.4 131.7L332.8 116.6M317.4 131.7L332.8 146.8M317.4 161.9L332.8 146.8M317.4 161.9L332.8 177M317.4 192.1L332.8 177M374.9 71.3L390.3 86.4M374.9 101.5L390.3 86.4M374.9 101.5L390.3 116.6M374.9 131.7L390.3 116.6M374.9 131.7L390.3 146.8M374.9 161.9L390.3 146.8M374.9 161.9L390.3 177M374.9 192.1L390.3 177" stroke="#a08a58" stroke-width="1.2" fill="none"/>
<path d="M332.8 86.4L348.2 101.5M332.8 86.4L348.2 71.3M332.8 116.6L348.2 131.7M332.8 116.6L348.2 101.5M332.8 146.8L348.2 161.9M332.8 146.8L348.2 131.7M332.8 177L348.2 192.1M332.8 177L348.2 161.9M390.3 86.4L405.7 101.5M390.3 86.4L405.7 71.3M390.3 116.6L405.7 131.7M390.3 116.6L405.7 101.5M390.3 146.8L405.7 161.9M390.3 146.8L405.7 131.7M390.3 177L405.7 192.1M390.3 177L405.7 161.9" stroke="#6a76b4" stroke-width="1.2" fill="none"/>
<path d="M332.8 75.3L332.8 86.4M332.8 105.5L332.8 116.6M332.8 135.7L332.8 146.8M332.8 165.9L332.8 177M390.3 75.3L390.3 86.4M390.3 105.5L390.3 116.6M390.3 135.7L390.3 146.8M390.3 165.9L390.3 177" stroke="#b4b4e0" stroke-width="1.1" fill="none"/>
<path d="M332.8 86.4L332.8 97.5M332.8 116.6L332.8 127.7M332.8 146.8L332.8 157.9M332.8 177L332.8 188.1M390.3 86.4L390.3 97.5M390.3 116.6L390.3 127.7M390.3 146.8L390.3 157.9M390.3 177L390.3 188.1" stroke="#a08a58" stroke-width="1.1" fill="none"/>
<path d="M317.4 71.3L311.4 64.3M317.4 71.3L323.4 64.3M317.4 192.1L311.4 199.1M317.4 192.1L323.4 199.1M348.2 71.3L342.2 64.3M348.2 71.3L354.2 64.3M348.2 192.1L342.2 199.1M348.2 192.1L354.2 199.1M374.9 71.3L368.9 64.3M374.9 71.3L380.9 64.3M374.9 192.1L368.9 199.1M374.9 192.1L380.9 199.1M405.7 71.3L399.7 64.3M405.7 71.3L411.7 64.3M405.7 192.1L399.7 199.1M405.7 192.1L411.7 199.1M311.4 71.3L323.4 71.3M342.2 71.3L354.2 71.3M368.9 71.3L380.9 71.3M399.7 71.3L411.7 71.3" stroke="#7d5f24" stroke-width="2.2" fill="none"/>
<path d="M317.4 101.5L325.1 101.5M348.2 101.5L340.5 101.5M374.9 101.5L382.6 101.5M405.7 101.5L398 101.5M317.4 131.7L325.1 131.7M348.2 131.7L340.5 131.7M374.9 131.7L382.6 131.7M405.7 131.7L398 131.7M317.4 161.9L325.1 161.9M348.2 161.9L340.5 161.9M374.9 161.9L382.6 161.9M405.7 161.9L398 161.9M317.4 192.1L325.1 192.1M348.2 192.1L340.5 192.1M374.9 192.1L382.6 192.1M405.7 192.1L398 192.1M310.8 77L317.4 69.4M310.8 92.2L317.4 99.8M310.8 111.2L317.4 103.6M310.8 126.4L317.4 134M310.8 137.8L317.4 130.2M310.8 153L317.4 160.6M310.8 171.8L317.4 164.2M310.8 187L317.4 194.6M354.9 77L348.3 69.4M354.9 92.2L348.3 99.8M368.2 77L374.9 69.4M368.2 92.2L374.9 99.8M354.9 111.2L348.3 103.6M354.9 126.4L348.3 134M368.2 111.2L374.9 103.6M368.2 126.4L374.9 134M354.9 137.8L348.3 130.2M354.9 153L348.3 160.6M368.2 137.8L374.9 130.2M368.2 153L374.9 160.6M354.9 171.8L348.3 164.2M354.9 187L348.3 194.6M368.2 171.8L374.9 164.2M368.2 187L374.9 194.6" stroke="#7d5f24" stroke-width="2.4" fill="none"/>
<path d="M325.1 101.5L332.8 101.5M340.5 101.5L332.8 101.5M382.6 101.5L390.3 101.5M398 101.5L390.3 101.5M325.1 161.9L332.8 161.9M340.5 161.9L332.8 161.9M382.6 161.9L390.3 161.9M398 161.9L390.3 161.9M304.1 84.6L310.8 77M304.1 84.6L310.8 92.2M304.1 118.8L310.8 111.2M304.1 118.8L310.8 126.4M304.1 145.4L310.8 137.8M304.1 145.4L310.8 153M304.1 179.4L310.8 171.8M304.1 179.4L310.8 187M361.6 84.6L354.9 77M361.6 84.6L354.9 92.2M361.6 84.6L368.2 77M361.6 84.6L368.2 92.2M361.6 118.8L354.9 111.2M361.6 118.8L354.9 126.4M361.6 118.8L368.2 111.2M361.6 118.8L368.2 126.4M361.6 145.4L354.9 137.8M361.6 145.4L354.9 153M361.6 145.4L368.2 137.8M361.6 145.4L368.2 153M361.6 179.4L354.9 171.8M361.6 179.4L354.9 187M361.6 179.4L368.2 171.8M361.6 179.4L368.2 187" stroke="#9a9cca" stroke-width="2.4" fill="none"/>
<path d="M325.1 131.7L332.8 131.7M340.5 131.7L332.8 131.7M382.6 131.7L390.3 131.7M398 131.7L390.3 131.7M325.1 192.1L332.8 192.1M340.5 192.1L332.8 192.1M382.6 192.1L390.3 192.1M398 192.1L390.3 192.1" stroke="#2a3a82" stroke-width="2.4" fill="none"/>
<path d="M304.1 84.6L296.8 76.2M304.1 84.6L296.8 93M304.1 118.8L296.8 110.4M304.1 118.8L296.8 127.2M304.1 145.4L296.8 137M304.1 145.4L296.8 153.8M304.1 179.4L296.8 171M304.1 179.4L296.8 187.8" stroke="#9a9cca" stroke-width="2.2" fill="none"/>
<circle cx="304.1" cy="84.6" r="4.8" fill="url(#aFe)"/>
<circle cx="304.1" cy="118.8" r="4.8" fill="url(#aFe)"/>
<circle cx="304.1" cy="145.4" r="4.8" fill="url(#aFe)"/>
<circle cx="304.1" cy="179.4" r="4.8" fill="url(#aFe)"/>
<circle cx="361.6" cy="84.6" r="4.8" fill="url(#aFe)"/>
<circle cx="361.6" cy="118.8" r="4.8" fill="url(#aFe)"/>
<circle cx="361.6" cy="145.4" r="4.8" fill="url(#aFe)"/>
<circle cx="361.6" cy="179.4" r="4.8" fill="url(#aFe)"/>
<circle cx="332.8" cy="101.5" r="4.9" fill="url(#aFe)"/>
<circle cx="390.3" cy="101.5" r="4.9" fill="url(#aFe)"/>
<circle cx="332.8" cy="131.7" r="4.9" fill="url(#aCu)"/>
<circle cx="390.3" cy="131.7" r="4.9" fill="url(#aCu)"/>
<circle cx="332.8" cy="161.9" r="4.9" fill="url(#aFe)"/>
<circle cx="390.3" cy="161.9" r="4.9" fill="url(#aFe)"/>
<circle cx="332.8" cy="192.1" r="4.9" fill="url(#aCu)"/>
<circle cx="390.3" cy="192.1" r="4.9" fill="url(#aCu)"/>
<circle cx="317.4" cy="71.3" r="2.8" fill="url(#aO)"/>
<circle cx="348.2" cy="71.3" r="2.8" fill="url(#aO)"/>
<circle cx="374.9" cy="71.3" r="2.8" fill="url(#aO)"/>
<circle cx="405.7" cy="71.3" r="2.8" fill="url(#aO)"/>
<circle cx="317.4" cy="101.5" r="2.8" fill="url(#aO)"/>
<circle cx="348.2" cy="101.5" r="2.8" fill="url(#aO)"/>
<circle cx="374.9" cy="101.5" r="2.8" fill="url(#aO)"/>
<circle cx="405.7" cy="101.5" r="2.8" fill="url(#aO)"/>
<circle cx="317.4" cy="131.7" r="2.8" fill="url(#aO)"/>
<circle cx="348.2" cy="131.7" r="2.8" fill="url(#aO)"/>
<circle cx="374.9" cy="131.7" r="2.8" fill="url(#aO)"/>
<circle cx="405.7" cy="131.7" r="2.8" fill="url(#aO)"/>
<circle cx="317.4" cy="161.9" r="2.8" fill="url(#aO)"/>
<circle cx="348.2" cy="161.9" r="2.8" fill="url(#aO)"/>
<circle cx="374.9" cy="161.9" r="2.8" fill="url(#aO)"/>
<circle cx="405.7" cy="161.9" r="2.8" fill="url(#aO)"/>
<circle cx="317.4" cy="192.1" r="2.8" fill="url(#aO)"/>
<circle cx="348.2" cy="192.1" r="2.8" fill="url(#aO)"/>
<circle cx="374.9" cy="192.1" r="2.8" fill="url(#aO)"/>
<circle cx="405.7" cy="192.1" r="2.8" fill="url(#aO)"/>
<g>
<g clip-path="url(#clA)">
<path d="M106.8 -8.8L167.8 -8.8M122.7 52.8L153.1 52.8M108.8 33L108.8 53.3M122.7 52.3L137.7 66.7M153.1 52.3L137.7 66.7M106.8 76.2L167.8 76.2M122.7 137.8L153.1 137.8M108.8 118L108.8 138.3M122.7 137.3L137.7 151.7M153.1 137.3L137.7 151.7M106.8 161.2L167.8 161.2M122.7 222.8L153.1 222.8M108.8 203L108.8 223.3M122.7 222.3L137.7 236.7M153.1 222.3L137.7 236.7M164 -8.8L225 -8.8M179.9 52.8L210.3 52.8M166 33L166 53.3M179.9 52.3L194.9 66.7M210.3 52.3L194.9 66.7M164 76.2L225 76.2M179.9 137.8L210.3 137.8M166 118L166 138.3M179.9 137.3L194.9 151.7M210.3 137.3L194.9 151.7M164 161.2L225 161.2M179.9 222.8L210.3 222.8M166 203L166 223.3M179.9 222.3L194.9 236.7M210.3 222.3L194.9 236.7M221.2 -8.8L282.2 -8.8M237.1 52.8L267.5 52.8M223.2 33L223.2 53.3M237.1 52.3L252.1 66.7M267.5 52.3L252.1 66.7M221.2 76.2L282.2 76.2M237.1 137.8L267.5 137.8M223.2 118L223.2 138.3M237.1 137.3L252.1 151.7M267.5 137.3L252.1 151.7M221.2 161.2L282.2 161.2M237.1 222.8L267.5 222.8M223.2 203L223.2 223.3M237.1 222.3L252.1 236.7M267.5 222.3L252.1 236.7M278.4 -8.8L339.4 -8.8M294.3 52.8L324.7 52.8M280.4 33L280.4 53.3M294.3 52.3L309.3 66.7M324.7 52.3L309.3 66.7M278.4 76.2L339.4 76.2M294.3 137.8L324.7 137.8M280.4 118L280.4 138.3M294.3 137.3L309.3 151.7M324.7 137.3L309.3 151.7M278.4 161.2L339.4 161.2M294.3 222.8L324.7 222.8M280.4 203L280.4 223.3M294.3 222.3L309.3 236.7M324.7 222.3L309.3 236.7" stroke="#8a6e34" stroke-width="1.2" fill="none"/>
<path d="M137.7 -18.3L137.7 44.4M137.7 66.7L137.7 129.4M137.7 151.7L137.7 214.4M194.9 -18.3L194.9 44.4M194.9 66.7L194.9 129.4M194.9 151.7L194.9 214.4M252.1 -18.3L252.1 44.4M252.1 66.7L252.1 129.4M252.1 151.7L252.1 214.4M309.3 -18.3L309.3 44.4M309.3 66.7L309.3 129.4M309.3 151.7L309.3 214.4" stroke="#8a6e34" stroke-width="1.3" fill="none"/>
<path d="M108.8 -2.3L102.8 -8.3M108.8 -2.3L114.8 -8.3M108.8 -2.3L108.8 19.7M108.8 82.7L102.8 76.7M108.8 82.7L114.8 76.7M108.8 82.7L108.8 104.7M108.8 167.7L102.8 161.7M108.8 167.7L114.8 161.7M108.8 167.7L108.8 189.7M166 -2.3L160 -8.3M166 -2.3L172 -8.3M166 -2.3L166 19.7M166 82.7L160 76.7M166 82.7L172 76.7M166 82.7L166 104.7M166 167.7L160 161.7M166 167.7L172 161.7M166 167.7L166 189.7M223.2 -2.3L217.2 -8.3M223.2 -2.3L229.2 -8.3M223.2 -2.3L223.2 19.7M223.2 82.7L217.2 76.7M223.2 82.7L229.2 76.7M223.2 82.7L223.2 104.7M223.2 167.7L217.2 161.7M223.2 167.7L229.2 161.7M223.2 167.7L223.2 189.7M280.4 -2.3L274.4 -8.3M280.4 -2.3L286.4 -8.3M280.4 -2.3L280.4 19.7M280.4 82.7L274.4 76.7M280.4 82.7L286.4 76.7M280.4 82.7L280.4 104.7M280.4 167.7L274.4 161.7M280.4 167.7L286.4 161.7M280.4 167.7L280.4 189.7" stroke="#a8a8dc" stroke-width="1.2" fill="none"/>
<path d="M122.7 -21.3L122.7 -10.3M151.6 -21.3L151.6 -10.3M102.8 53.3L114.8 53.3M122.7 63.7L122.7 74.7M151.6 63.7L151.6 74.7M102.8 138.3L114.8 138.3M122.7 148.7L122.7 159.7M151.6 148.7L151.6 159.7M102.8 223.3L114.8 223.3M179.9 -21.3L179.9 -10.3M208.8 -21.3L208.8 -10.3M160 53.3L172 53.3M179.9 63.7L179.9 74.7M208.8 63.7L208.8 74.7M160 138.3L172 138.3M179.9 148.7L179.9 159.7M208.8 148.7L208.8 159.7M160 223.3L172 223.3M237.1 -21.3L237.1 -10.3M266 -21.3L266 -10.3M217.2 53.3L229.2 53.3M237.1 63.7L237.1 74.7M266 63.7L266 74.7M217.2 138.3L229.2 138.3M237.1 148.7L237.1 159.7M266 148.7L266 159.7M217.2 223.3L229.2 223.3M294.3 -21.3L294.3 -10.3M323.2 -21.3L323.2 -10.3M274.4 53.3L286.4 53.3M294.3 63.7L294.3 74.7M323.2 63.7L323.2 74.7M274.4 138.3L286.4 138.3M294.3 148.7L294.3 159.7M323.2 148.7L323.2 159.7M274.4 223.3L286.4 223.3" stroke="#2a3a82" stroke-width="1.8" fill="none"/>
<path d="M122.7 -10.3L122.2 -0.4M151.6 -10.3L152.1 -0.4M122.7 63.5L122.7 74.7M152.3 63.5L151.6 74.7M122.7 74.7L122.2 84.6M151.6 74.7L152.1 84.6M122.7 148.5L122.7 159.7M152.3 148.5L151.6 159.7M122.7 159.7L122.2 169.6M151.6 159.7L152.1 169.6M122.7 233.5L122.7 244.7M152.3 233.5L151.6 244.7M179.9 -10.3L179.3 -0.4M208.8 -10.3L209.3 -0.4M179.9 63.5L179.9 74.7M209.6 63.5L208.8 74.7M179.9 74.7L179.3 84.6M208.8 74.7L209.3 84.6M179.9 148.5L179.9 159.7M209.6 148.5L208.8 159.7M179.9 159.7L179.3 169.6M208.8 159.7L209.3 169.6M179.9 233.5L179.9 244.7M209.6 233.5L208.8 244.7M237.1 -10.3L236.6 -0.4M266 -10.3L266.5 -0.4M237.1 63.5L237.1 74.7M266.8 63.5L266 74.7M237.1 74.7L236.6 84.6M266 74.7L266.5 84.6M237.1 148.5L237.1 159.7M266.8 148.5L266 159.7M237.1 159.7L236.6 169.6M266 159.7L266.5 169.6M237.1 233.5L237.1 244.7M266.8 233.5L266 244.7M294.3 -10.3L293.8 -0.4M323.2 -10.3L323.7 -0.4M294.3 63.5L294.3 74.7M323.9 63.5L323.2 74.7M294.3 74.7L293.8 84.6M323.2 74.7L323.7 84.6M294.3 148.5L294.3 159.7M323.9 148.5L323.2 159.7M294.3 159.7L293.8 169.6M323.2 159.7L323.7 169.6M294.3 233.5L294.3 244.7M323.9 233.5L323.2 244.7" stroke="#2a3a82" stroke-width="2.0" fill="none"/>
<path d="M122.2 -0.4L121.6 9.5M152.1 -0.4L152.6 9.5M121.6 9.5L115.2 14.8M152.6 9.5L159 14.8M130.2 48.4L122.7 52.3M145.4 48.4L153.1 52.3M122.7 52.3L122.7 63.5M153.1 52.3L152.3 63.5M122.2 84.6L121.6 94.5M152.1 84.6L152.6 94.5M121.6 94.5L115.2 99.8M152.6 94.5L159 99.8M130.2 133.3L122.7 137.3M145.4 133.3L153.1 137.3M122.7 137.3L122.7 148.5M153.1 137.3L152.3 148.5M122.2 169.6L121.6 179.5M152.1 169.6L152.6 179.5M121.6 179.5L115.2 184.8M152.6 179.5L159 184.8M130.2 218.3L122.7 222.3M145.4 218.3L153.1 222.3M122.7 222.3L122.7 233.5M153.1 222.3L152.3 233.5M179.3 -0.4L178.8 9.5M209.3 -0.4L209.8 9.5M178.8 9.5L172.4 14.8M209.8 9.5L216.2 14.8M187.4 48.4L179.9 52.3M202.6 48.4L210.3 52.3M179.9 52.3L179.9 63.5M210.3 52.3L209.6 63.5M179.3 84.6L178.8 94.5M209.3 84.6L209.8 94.5M178.8 94.5L172.4 99.8M209.8 94.5L216.2 99.8M187.4 133.3L179.9 137.3M202.6 133.3L210.3 137.3M179.9 137.3L179.9 148.5M210.3 137.3L209.6 148.5M179.3 169.6L178.8 179.5M209.3 169.6L209.8 179.5M178.8 179.5L172.4 184.8M209.8 179.5L216.2 184.8M187.4 218.3L179.9 222.3M202.6 218.3L210.3 222.3M179.9 222.3L179.9 233.5M210.3 222.3L209.6 233.5M236.6 -0.4L236 9.5M266.5 -0.4L267 9.5M236 9.5L229.6 14.8M267 9.5L273.4 14.8M244.6 48.4L237.1 52.3M259.8 48.4L267.5 52.3M237.1 52.3L237.1 63.5M267.5 52.3L266.8 63.5M236.6 84.6L236 94.5M266.5 84.6L267 94.5M236 94.5L229.6 99.8M267 94.5L273.4 99.8M244.6 133.3L237.1 137.3M259.8 133.3L267.5 137.3M237.1 137.3L237.1 148.5M267.5 137.3L266.8 148.5M236.6 169.6L236 179.5M266.5 169.6L267 179.5M236 179.5L229.6 184.8M267 179.5L273.4 184.8M244.6 218.3L237.1 222.3M259.8 218.3L267.5 222.3M237.1 222.3L237.1 233.5M267.5 222.3L266.8 233.5M293.8 -0.4L293.2 9.5M323.7 -0.4L324.2 9.5M293.2 9.5L286.8 14.8M324.2 9.5L330.6 14.8M301.8 48.4L294.3 52.3M317 48.4L324.7 52.3M294.3 52.3L294.3 63.5M324.7 52.3L323.9 63.5M293.8 84.6L293.2 94.5M323.7 84.6L324.2 94.5M293.2 94.5L286.8 99.8M324.2 94.5L330.6 99.8M301.8 133.3L294.3 137.3M317 133.3L324.7 137.3M294.3 137.3L294.3 148.5M324.7 137.3L323.9 148.5M293.8 169.6L293.2 179.5M323.7 169.6L324.2 179.5M293.2 179.5L286.8 184.8M324.2 179.5L330.6 184.8M301.8 218.3L294.3 222.3M317 218.3L324.7 222.3M294.3 222.3L294.3 233.5M324.7 222.3L323.9 233.5" stroke="#7d5f24" stroke-width="2.0" fill="none"/>
<path d="M122.7 -10.3L137.7 9.5M151.6 -10.3L137.7 9.5M121.6 9.5L152.6 9.5M122.7 74.7L137.7 94.5M151.6 74.7L137.7 94.5M121.6 94.5L152.6 94.5M122.7 159.7L137.7 179.5M151.6 159.7L137.7 179.5M121.6 179.5L152.6 179.5M179.9 -10.3L194.9 9.5M208.8 -10.3L194.9 9.5M178.8 9.5L209.8 9.5M179.9 74.7L194.9 94.5M208.8 74.7L194.9 94.5M178.8 94.5L209.8 94.5M179.9 159.7L194.9 179.5M208.8 159.7L194.9 179.5M178.8 179.5L209.8 179.5M237.1 -10.3L252.1 9.5M266 -10.3L252.1 9.5M236 9.5L267 9.5M237.1 74.7L252.1 94.5M266 74.7L252.1 94.5M236 94.5L267 94.5M237.1 159.7L252.1 179.5M266 159.7L252.1 179.5M236 179.5L267 179.5M294.3 -10.3L309.3 9.5M323.2 -10.3L309.3 9.5M293.2 9.5L324.2 9.5M294.3 74.7L309.3 94.5M323.2 74.7L309.3 94.5M293.2 94.5L324.2 94.5M294.3 159.7L309.3 179.5M323.2 159.7L309.3 179.5M293.2 179.5L324.2 179.5" stroke="#2a3a82" stroke-width="1.5" fill="none"/>
<path d="M115.2 14.8L108.8 20.2M159 14.8L165.4 20.2M137.7 44.4L130.2 48.4M137.7 44.4L145.4 48.4M115.2 99.8L108.8 105.2M159 99.8L165.4 105.2M137.7 129.4L130.2 133.3M137.7 129.4L145.4 133.3M115.2 184.8L108.8 190.2M159 184.8L165.4 190.2M137.7 214.4L130.2 218.3M137.7 214.4L145.4 218.3M172.4 14.8L166 20.2M216.2 14.8L222.6 20.2M194.9 44.4L187.4 48.4M194.9 44.4L202.6 48.4M172.4 99.8L166 105.2M216.2 99.8L222.6 105.2M194.9 129.4L187.4 133.3M194.9 129.4L202.6 133.3M172.4 184.8L166 190.2M216.2 184.8L222.6 190.2M194.9 214.4L187.4 218.3M194.9 214.4L202.6 218.3M229.6 14.8L223.2 20.2M273.4 14.8L279.8 20.2M252.1 44.4L244.6 48.4M252.1 44.4L259.8 48.4M229.6 99.8L223.2 105.2M273.4 99.8L279.8 105.2M252.1 129.4L244.6 133.3M252.1 129.4L259.8 133.3M229.6 184.8L223.2 190.2M273.4 184.8L279.8 190.2M252.1 214.4L244.6 218.3M252.1 214.4L259.8 218.3M286.8 14.8L280.4 20.2M330.6 14.8L337 20.2M309.3 44.4L301.8 48.4M309.3 44.4L317 48.4M286.8 99.8L280.4 105.2M330.6 99.8L337 105.2M309.3 129.4L301.8 133.3M309.3 129.4L317 133.3M286.8 184.8L280.4 190.2M330.6 184.8L337 190.2M309.3 214.4L301.8 218.3M309.3 214.4L317 218.3" stroke="#9a9cca" stroke-width="2.0" fill="none"/>
<path d="M106.8 33L167.8 33M106.8 118L167.8 118M106.8 203L167.8 203M164 33L225 33M164 118L225 118M164 203L225 203M221.2 33L282.2 33M221.2 118L282.2 118M221.2 203L282.2 203M278.4 33L339.4 33M278.4 118L339.4 118M278.4 203L339.4 203" stroke="#34448e" stroke-width="2.4" fill="none"/>
<path d="M101.8 32.7L115.8 32.7M130.7 32.7L144.7 32.7M101.8 117.7L115.8 117.7M130.7 117.7L144.7 117.7M101.8 202.7L115.8 202.7M130.7 202.7L144.7 202.7M159 32.7L173 32.7M187.9 32.7L201.9 32.7M159 117.7L173 117.7M187.9 117.7L201.9 117.7M159 202.7L173 202.7M187.9 202.7L201.9 202.7M216.2 32.7L230.2 32.7M245.1 32.7L259.1 32.7M216.2 117.7L230.2 117.7M245.1 117.7L259.1 117.7M216.2 202.7L230.2 202.7M245.1 202.7L259.1 202.7M273.4 32.7L287.4 32.7M302.3 32.7L316.3 32.7M273.4 117.7L287.4 117.7M302.3 117.7L316.3 117.7M273.4 202.7L287.4 202.7M302.3 202.7L316.3 202.7" stroke="#8a6e34" stroke-width="2.8" fill="none"/>
<path d="M123.3 33L123.3 53.3M152.3 33L152.3 53.3M123.3 118L123.3 138.3M152.3 118L152.3 138.3M123.3 203L123.3 223.3M152.3 203L152.3 223.3M180.5 33L180.5 53.3M209.5 33L209.5 53.3M180.5 118L180.5 138.3M209.5 118L209.5 138.3M180.5 203L180.5 223.3M209.5 203L209.5 223.3M237.7 33L237.7 53.3M266.7 33L266.7 53.3M237.7 118L237.7 138.3M266.7 118L266.7 138.3M237.7 203L237.7 223.3M266.7 203L266.7 223.3M294.9 33L294.9 53.3M323.9 33L323.9 53.3M294.9 118L294.9 138.3M323.9 118L323.9 138.3M294.9 203L294.9 223.3M323.9 203L323.9 223.3" stroke="#4a5aa0" stroke-width="1.2" fill="none"/>
<path d="M137.7 66.7L137.7 94.7M137.7 151.7L137.7 179.7M137.7 236.7L137.7 264.7M194.9 66.7L194.9 94.7M194.9 151.7L194.9 179.7M194.9 236.7L194.9 264.7M252.1 66.7L252.1 94.7M252.1 151.7L252.1 179.7M252.1 236.7L252.1 264.7M309.3 66.7L309.3 94.7M309.3 151.7L309.3 179.7M309.3 236.7L309.3 264.7" stroke="#2a3a82" stroke-width="1.3" fill="none"/>
<circle cx="122.7" cy="-10.3" r="4.7" fill="url(#aCu)"/>
<circle cx="151.6" cy="-10.3" r="4.7" fill="url(#aCu)"/>
<circle cx="121.6" cy="9.5" r="2.6" fill="url(#aO)"/>
<circle cx="152.6" cy="9.5" r="2.6" fill="url(#aO)"/>
<circle cx="108.8" cy="20.2" r="4.5" fill="url(#aFe)"/>
<circle cx="137.7" cy="44.4" r="4.5" fill="url(#aFe)"/>
<circle cx="122.7" cy="52.3" r="2.6" fill="url(#aO)"/>
<circle cx="153.1" cy="52.3" r="2.6" fill="url(#aO)"/>
<circle cx="122.7" cy="74.7" r="4.7" fill="url(#aCu)"/>
<circle cx="151.6" cy="74.7" r="4.7" fill="url(#aCu)"/>
<circle cx="121.6" cy="94.5" r="2.6" fill="url(#aO)"/>
<circle cx="152.6" cy="94.5" r="2.6" fill="url(#aO)"/>
<circle cx="108.8" cy="105.2" r="4.5" fill="url(#aFe)"/>
<circle cx="137.7" cy="129.4" r="4.5" fill="url(#aFe)"/>
<circle cx="122.7" cy="137.3" r="2.6" fill="url(#aO)"/>
<circle cx="153.1" cy="137.3" r="2.6" fill="url(#aO)"/>
<circle cx="122.7" cy="159.7" r="4.7" fill="url(#aCu)"/>
<circle cx="151.6" cy="159.7" r="4.7" fill="url(#aCu)"/>
<circle cx="121.6" cy="179.5" r="2.6" fill="url(#aO)"/>
<circle cx="152.6" cy="179.5" r="2.6" fill="url(#aO)"/>
<circle cx="108.8" cy="190.2" r="4.5" fill="url(#aFe)"/>
<circle cx="137.7" cy="214.4" r="4.5" fill="url(#aFe)"/>
<circle cx="122.7" cy="222.3" r="2.6" fill="url(#aO)"/>
<circle cx="153.1" cy="222.3" r="2.6" fill="url(#aO)"/>
<circle cx="179.9" cy="-10.3" r="4.7" fill="url(#aCu)"/>
<circle cx="208.8" cy="-10.3" r="4.7" fill="url(#aCu)"/>
<circle cx="178.8" cy="9.5" r="2.6" fill="url(#aO)"/>
<circle cx="209.8" cy="9.5" r="2.6" fill="url(#aO)"/>
<circle cx="166.0" cy="20.2" r="4.5" fill="url(#aFe)"/>
<circle cx="194.9" cy="44.4" r="4.5" fill="url(#aFe)"/>
<circle cx="179.9" cy="52.3" r="2.6" fill="url(#aO)"/>
<circle cx="210.3" cy="52.3" r="2.6" fill="url(#aO)"/>
<circle cx="179.9" cy="74.7" r="4.7" fill="url(#aCu)"/>
<circle cx="208.8" cy="74.7" r="4.7" fill="url(#aCu)"/>
<circle cx="178.8" cy="94.5" r="2.6" fill="url(#aO)"/>
<circle cx="209.8" cy="94.5" r="2.6" fill="url(#aO)"/>
<circle cx="166.0" cy="105.2" r="4.5" fill="url(#aFe)"/>
<circle cx="194.9" cy="129.4" r="4.5" fill="url(#aFe)"/>
<circle cx="179.9" cy="137.3" r="2.6" fill="url(#aO)"/>
<circle cx="210.3" cy="137.3" r="2.6" fill="url(#aO)"/>
<circle cx="179.9" cy="159.7" r="4.7" fill="url(#aCu)"/>
<circle cx="208.8" cy="159.7" r="4.7" fill="url(#aCu)"/>
<circle cx="178.8" cy="179.5" r="2.6" fill="url(#aO)"/>
<circle cx="209.8" cy="179.5" r="2.6" fill="url(#aO)"/>
<circle cx="166.0" cy="190.2" r="4.5" fill="url(#aFe)"/>
<circle cx="194.9" cy="214.4" r="4.5" fill="url(#aFe)"/>
<circle cx="179.9" cy="222.3" r="2.6" fill="url(#aO)"/>
<circle cx="210.3" cy="222.3" r="2.6" fill="url(#aO)"/>
<circle cx="237.1" cy="-10.3" r="4.7" fill="url(#aCu)"/>
<circle cx="266.0" cy="-10.3" r="4.7" fill="url(#aCu)"/>
<circle cx="236.0" cy="9.5" r="2.6" fill="url(#aO)"/>
<circle cx="267.0" cy="9.5" r="2.6" fill="url(#aO)"/>
<circle cx="223.2" cy="20.2" r="4.5" fill="url(#aFe)"/>
<circle cx="252.1" cy="44.4" r="4.5" fill="url(#aFe)"/>
<circle cx="237.1" cy="52.3" r="2.6" fill="url(#aO)"/>
<circle cx="267.5" cy="52.3" r="2.6" fill="url(#aO)"/>
<circle cx="237.1" cy="74.7" r="4.7" fill="url(#aCu)"/>
<circle cx="266.0" cy="74.7" r="4.7" fill="url(#aCu)"/>
<circle cx="236.0" cy="94.5" r="2.6" fill="url(#aO)"/>
<circle cx="267.0" cy="94.5" r="2.6" fill="url(#aO)"/>
<circle cx="223.2" cy="105.2" r="4.5" fill="url(#aFe)"/>
<circle cx="252.1" cy="129.4" r="4.5" fill="url(#aFe)"/>
<circle cx="237.1" cy="137.3" r="2.6" fill="url(#aO)"/>
<circle cx="267.5" cy="137.3" r="2.6" fill="url(#aO)"/>
<circle cx="237.1" cy="159.7" r="4.7" fill="url(#aCu)"/>
<circle cx="266.0" cy="159.7" r="4.7" fill="url(#aCu)"/>
<circle cx="236.0" cy="179.5" r="2.6" fill="url(#aO)"/>
<circle cx="267.0" cy="179.5" r="2.6" fill="url(#aO)"/>
<circle cx="223.2" cy="190.2" r="4.5" fill="url(#aFe)"/>
<circle cx="252.1" cy="214.4" r="4.5" fill="url(#aFe)"/>
<circle cx="237.1" cy="222.3" r="2.6" fill="url(#aO)"/>
<circle cx="267.5" cy="222.3" r="2.6" fill="url(#aO)"/>
<circle cx="294.3" cy="-10.3" r="4.7" fill="url(#aCu)"/>
<circle cx="323.2" cy="-10.3" r="4.7" fill="url(#aCu)"/>
<circle cx="293.2" cy="9.5" r="2.6" fill="url(#aO)"/>
<circle cx="324.2" cy="9.5" r="2.6" fill="url(#aO)"/>
<circle cx="280.4" cy="20.2" r="4.5" fill="url(#aFe)"/>
<circle cx="309.3" cy="44.4" r="4.5" fill="url(#aFe)"/>
<circle cx="294.3" cy="52.3" r="2.6" fill="url(#aO)"/>
<circle cx="324.7" cy="52.3" r="2.6" fill="url(#aO)"/>
<circle cx="294.3" cy="74.7" r="4.7" fill="url(#aCu)"/>
<circle cx="323.2" cy="74.7" r="4.7" fill="url(#aCu)"/>
<circle cx="293.2" cy="94.5" r="2.6" fill="url(#aO)"/>
<circle cx="324.2" cy="94.5" r="2.6" fill="url(#aO)"/>
<circle cx="280.4" cy="105.2" r="4.5" fill="url(#aFe)"/>
<circle cx="309.3" cy="129.4" r="4.5" fill="url(#aFe)"/>
<circle cx="294.3" cy="137.3" r="2.6" fill="url(#aO)"/>
<circle cx="324.7" cy="137.3" r="2.6" fill="url(#aO)"/>
<circle cx="294.3" cy="159.7" r="4.7" fill="url(#aCu)"/>
<circle cx="323.2" cy="159.7" r="4.7" fill="url(#aCu)"/>
<circle cx="293.2" cy="179.5" r="2.6" fill="url(#aO)"/>
<circle cx="324.2" cy="179.5" r="2.6" fill="url(#aO)"/>
<circle cx="280.4" cy="190.2" r="4.5" fill="url(#aFe)"/>
<circle cx="309.3" cy="214.4" r="4.5" fill="url(#aFe)"/>
<circle cx="294.3" cy="222.3" r="2.6" fill="url(#aO)"/>
<circle cx="324.7" cy="222.3" r="2.6" fill="url(#aO)"/>
</g></g>
<g clip-path="url(#clB)">
<path d="M381.4 -8.7L444.4 -8.7M381.4 77.4L444.4 77.4M381.4 163.5L444.4 163.5M438.7 -8.7L501.7 -8.7M438.7 77.4L501.7 77.4M438.7 163.5L501.7 163.5M496 -8.7L559 -8.7M496 77.4L559 77.4M496 163.5L559 163.5M553.3 -8.7L616.3 -8.7M553.3 77.4L616.3 77.4M553.3 163.5L616.3 163.5" stroke="#8a6e34" stroke-width="1.2" fill="none"/>
<path d="M381.4 36.2L444.4 36.2M381.4 122.3L444.4 122.3M381.4 208.4L444.4 208.4M438.7 36.2L501.7 36.2M438.7 122.3L501.7 122.3M438.7 208.4L501.7 208.4M496 36.2L559 36.2M496 122.3L559 122.3M496 208.4L559 208.4M553.3 36.2L616.3 36.2M553.3 122.3L616.3 122.3M553.3 208.4L616.3 208.4" stroke="#aeaee0" stroke-width="1.8" fill="none"/>
<path d="M394.4 35.5L406.4 35.5M394.4 121.6L406.4 121.6M394.4 207.7L406.4 207.7M451.7 35.5L463.7 35.5M451.7 121.6L463.7 121.6M451.7 207.7L463.7 207.7M509 35.5L521 35.5M509 121.6L521 121.6M509 207.7L521 207.7M566.3 35.5L578.3 35.5M566.3 121.6L578.3 121.6M566.3 207.7L578.3 207.7" stroke="#7d5f24" stroke-width="1.4" fill="none"/>
<path d="M384.4 -8.7L384.4 58.3M413 -8.7L413 58.3M398.7 -8.7L398.7 36.3M427.5 36.3L427.5 77.3M441.7 -8.7L441.7 58.3M384.4 77.4L384.4 144.4M413 77.4L413 144.4M398.7 77.4L398.7 122.4M427.5 122.4L427.5 163.4M441.7 77.4L441.7 144.4M384.4 163.5L384.4 230.5M413 163.5L413 230.5M398.7 163.5L398.7 208.5M427.5 208.5L427.5 249.5M441.7 163.5L441.7 230.5M441.7 -8.7L441.7 58.3M470.3 -8.7L470.3 58.3M456 -8.7L456 36.3M484.8 36.3L484.8 77.3M499 -8.7L499 58.3M441.7 77.4L441.7 144.4M470.3 77.4L470.3 144.4M456 77.4L456 122.4M484.8 122.4L484.8 163.4M499 77.4L499 144.4M441.7 163.5L441.7 230.5M470.3 163.5L470.3 230.5M456 163.5L456 208.5M484.8 208.5L484.8 249.5M499 163.5L499 230.5M499 -8.7L499 58.3M527.6 -8.7L527.6 58.3M513.3 -8.7L513.3 36.3M542.1 36.3L542.1 77.3M556.3 -8.7L556.3 58.3M499 77.4L499 144.4M527.6 77.4L527.6 144.4M513.3 77.4L513.3 122.4M542.1 122.4L542.1 163.4M556.3 77.4L556.3 144.4M499 163.5L499 230.5M527.6 163.5L527.6 230.5M513.3 163.5L513.3 208.5M542.1 208.5L542.1 249.5M556.3 163.5L556.3 230.5M556.3 -8.7L556.3 58.3M584.9 -8.7L584.9 58.3M570.6 -8.7L570.6 36.3M599.4 36.3L599.4 77.3M613.6 -8.7L613.6 58.3M556.3 77.4L556.3 144.4M584.9 77.4L584.9 144.4M570.6 77.4L570.6 122.4M599.4 122.4L599.4 163.4M613.6 77.4L613.6 144.4M556.3 163.5L556.3 230.5M584.9 163.5L584.9 230.5M570.6 163.5L570.6 208.5M599.4 208.5L599.4 249.5M613.6 163.5L613.6 230.5" stroke="#8a6e34" stroke-width="1.3" fill="none"/>
<path d="M427.5 -8.7L427.5 23.3M398.7 47.3L398.7 77.3M398.7 -16.7L398.7 -6.7M398.7 -16.7L392.4 -21.7M398.7 -16.7L405 -21.7M398.7 13.8L384.4 -8.7M398.7 13.8L413 -8.7M398.7 13.8L384.4 36.2M398.7 13.8L413 36.2M398.7 13.8L384.4 12.3M398.7 13.8L413 11.6M427.5 56.5L413 36.2M427.5 56.5L441.6 36.2M427.5 56.5L413 77.4M427.5 56.5L441.6 77.4M427.5 56.5L414.7 58.2M427.5 56.5L440.9 58.2M427.5 77.4L427.5 109.4M398.7 133.4L398.7 163.4M398.7 69.4L398.7 79.4M398.7 69.4L392.4 64.4M398.7 69.4L405 64.4M398.7 99.9L384.4 77.4M398.7 99.9L413 77.4M398.7 99.9L384.4 122.3M398.7 99.9L413 122.3M398.7 99.9L384.4 98.4M398.7 99.9L413 97.7M427.5 142.6L413 122.3M427.5 142.6L441.6 122.3M427.5 142.6L413 163.5M427.5 142.6L441.6 163.5M427.5 142.6L414.7 144.3M427.5 142.6L440.9 144.3M427.5 163.5L427.5 195.5M398.7 219.5L398.7 249.5M398.7 155.5L398.7 165.5M398.7 155.5L392.4 150.5M398.7 155.5L405 150.5M398.7 186L384.4 163.5M398.7 186L413 163.5M398.7 186L384.4 208.4M398.7 186L413 208.4M398.7 186L384.4 184.5M398.7 186L413 183.8M427.5 228.7L413 208.4M427.5 228.7L441.6 208.4M427.5 228.7L413 249.6M427.5 228.7L441.6 249.6M427.5 228.7L414.7 230.4M427.5 228.7L440.9 230.4M484.8 -8.7L484.8 23.3M456 47.3L456 77.3M456 -16.7L456 -6.7M456 -16.7L449.7 -21.7M456 -16.7L462.3 -21.7M456 13.8L441.7 -8.7M456 13.8L470.3 -8.7M456 13.8L441.7 36.2M456 13.8L470.3 36.2M456 13.8L441.7 12.3M456 13.8L470.3 11.6M484.8 56.5L470.3 36.2M484.8 56.5L498.9 36.2M484.8 56.5L470.3 77.4M484.8 56.5L498.9 77.4M484.8 56.5L472 58.2M484.8 56.5L498.2 58.2M484.8 77.4L484.8 109.4M456 133.4L456 163.4M456 69.4L456 79.4M456 69.4L449.7 64.4M456 69.4L462.3 64.4M456 99.9L441.7 77.4M456 99.9L470.3 77.4M456 99.9L441.7 122.3M456 99.9L470.3 122.3M456 99.9L441.7 98.4M456 99.9L470.3 97.7M484.8 142.6L470.3 122.3M484.8 142.6L498.9 122.3M484.8 142.6L470.3 163.5M484.8 142.6L498.9 163.5M484.8 142.6L472 144.3M484.8 142.6L498.2 144.3M484.8 163.5L484.8 195.5M456 219.5L456 249.5M456 155.5L456 165.5M456 155.5L449.7 150.5M456 155.5L462.3 150.5M456 186L441.7 163.5M456 186L470.3 163.5M456 186L441.7 208.4M456 186L470.3 208.4M456 186L441.7 184.5M456 186L470.3 183.8M484.8 228.7L470.3 208.4M484.8 228.7L498.9 208.4M484.8 228.7L470.3 249.6M484.8 228.7L498.9 249.6M484.8 228.7L472 230.4M484.8 228.7L498.2 230.4M542.1 -8.7L542.1 23.3M513.3 47.3L513.3 77.3M513.3 -16.7L513.3 -6.7M513.3 -16.7L507 -21.7M513.3 -16.7L519.6 -21.7M513.3 13.8L499 -8.7M513.3 13.8L527.6 -8.7M513.3 13.8L499 36.2M513.3 13.8L527.6 36.2M513.3 13.8L499 12.3M513.3 13.8L527.6 11.6M542.1 56.5L527.6 36.2M542.1 56.5L556.2 36.2M542.1 56.5L527.6 77.4M542.1 56.5L556.2 77.4M542.1 56.5L529.3 58.2M542.1 56.5L555.5 58.2M542.1 77.4L542.1 109.4M513.3 133.4L513.3 163.4M513.3 69.4L513.3 79.4M513.3 69.4L507 64.4M513.3 69.4L519.6 64.4M513.3 99.9L499 77.4M513.3 99.9L527.6 77.4M513.3 99.9L499 122.3M513.3 99.9L527.6 122.3M513.3 99.9L499 98.4M513.3 99.9L527.6 97.7M542.1 142.6L527.6 122.3M542.1 142.6L556.2 122.3M542.1 142.6L527.6 163.5M542.1 142.6L556.2 163.5M542.1 142.6L529.3 144.3M542.1 142.6L555.5 144.3M542.1 163.5L542.1 195.5M513.3 219.5L513.3 249.5M513.3 155.5L513.3 165.5M513.3 155.5L507 150.5M513.3 155.5L519.6 150.5M513.3 186L499 163.5M513.3 186L527.6 163.5M513.3 186L499 208.4M513.3 186L527.6 208.4M513.3 186L499 184.5M513.3 186L527.6 183.8M542.1 228.7L527.6 208.4M542.1 228.7L556.2 208.4M542.1 228.7L527.6 249.6M542.1 228.7L556.2 249.6M542.1 228.7L529.3 230.4M542.1 228.7L555.5 230.4M599.4 -8.7L599.4 23.3M570.6 47.3L570.6 77.3M570.6 -16.7L570.6 -6.7M570.6 -16.7L564.3 -21.7M570.6 -16.7L576.9 -21.7M570.6 13.8L556.3 -8.7M570.6 13.8L584.9 -8.7M570.6 13.8L556.3 36.2M570.6 13.8L584.9 36.2M570.6 13.8L556.3 12.3M570.6 13.8L584.9 11.6M599.4 56.5L584.9 36.2M599.4 56.5L613.5 36.2M599.4 56.5L584.9 77.4M599.4 56.5L613.5 77.4M599.4 56.5L586.6 58.2M599.4 56.5L612.8 58.2M599.4 77.4L599.4 109.4M570.6 133.4L570.6 163.4M570.6 69.4L570.6 79.4M570.6 69.4L564.3 64.4M570.6 69.4L576.9 64.4M570.6 99.9L556.3 77.4M570.6 99.9L584.9 77.4M570.6 99.9L556.3 122.3M570.6 99.9L584.9 122.3M570.6 99.9L556.3 98.4M570.6 99.9L584.9 97.7M599.4 142.6L584.9 122.3M599.4 142.6L613.5 122.3M599.4 142.6L584.9 163.5M599.4 142.6L613.5 163.5M599.4 142.6L586.6 144.3M599.4 142.6L612.8 144.3M599.4 163.5L599.4 195.5M570.6 219.5L570.6 249.5M570.6 155.5L570.6 165.5M570.6 155.5L564.3 150.5M570.6 155.5L576.9 150.5M570.6 186L556.3 163.5M570.6 186L584.9 163.5M570.6 186L556.3 208.4M570.6 186L584.9 208.4M570.6 186L556.3 184.5M570.6 186L584.9 183.8M599.4 228.7L584.9 208.4M599.4 228.7L613.5 208.4M599.4 228.7L584.9 249.6M599.4 228.7L613.5 249.6M599.4 228.7L586.6 230.4M599.4 228.7L612.8 230.4" stroke="#aeaee0" stroke-width="1.3" fill="none"/>
<path d="M384.4 -8.7L384.6 1.8M413 -8.7L412.6 1.4M384.4 77.4L384.6 87.9M413 77.4L412.6 87.5M384.4 163.5L384.6 174M413 163.5L412.6 173.7M441.7 -8.7L441.9 1.8M470.3 -8.7L469.9 1.4M441.7 77.4L441.9 87.9M470.3 77.4L469.9 87.5M441.7 163.5L441.9 174M470.3 163.5L469.9 173.7M499 -8.7L499.2 1.8M527.6 -8.7L527.1 1.4M499 77.4L499.2 87.9M527.6 77.4L527.1 87.5M499 163.5L499.2 174M527.6 163.5L527.1 173.7M556.3 -8.7L556.5 1.8M584.9 -8.7L584.5 1.4M556.3 77.4L556.5 87.9M584.9 77.4L584.5 87.5M556.3 163.5L556.5 174M584.9 163.5L584.5 173.7" stroke="#9a9cca" stroke-width="2.0" fill="none"/>
<path d="M384.6 1.8L384.8 12.3M412.6 1.4L412.1 11.6M419.8 17.5L412.1 11.6M434.8 17.9L442.1 12.3M391.7 52.9L383.7 58.2M407.2 52.9L414.7 58.2M384.6 87.9L384.8 98.4M412.6 87.5L412.1 97.7M419.8 103.6L412.1 97.7M434.8 104L442.1 98.4M391.7 138.9L383.7 144.3M407.2 138.9L414.7 144.3M384.6 174L384.8 184.5M412.6 173.7L412.1 183.8M419.8 189.7L412.1 183.8M434.8 190.1L442.1 184.5M391.7 225.1L383.7 230.4M407.2 225.1L414.7 230.4M441.9 1.8L442.1 12.3M469.9 1.4L469.4 11.6M477.1 17.5L469.4 11.6M492.1 17.9L499.4 12.3M449 52.9L441 58.2M464.5 52.9L472 58.2M441.9 87.9L442.1 98.4M469.9 87.5L469.4 97.7M477.1 103.6L469.4 97.7M492.1 104L499.4 98.4M449 138.9L441 144.3M464.5 138.9L472 144.3M441.9 174L442.1 184.5M469.9 173.7L469.4 183.8M477.1 189.7L469.4 183.8M492.1 190.1L499.4 184.5M449 225.1L441 230.4M464.5 225.1L472 230.4M499.2 1.8L499.4 12.3M527.1 1.4L526.7 11.6M534.4 17.5L526.7 11.6M549.4 17.9L556.7 12.3M506.3 52.9L498.3 58.2M521.8 52.9L529.3 58.2M499.2 87.9L499.4 98.4M527.1 87.5L526.7 97.7M534.4 103.6L526.7 97.7M549.4 104L556.7 98.4M506.3 138.9L498.3 144.3M521.8 138.9L529.3 144.3M499.2 174L499.4 184.5M527.1 173.7L526.7 183.8M534.4 189.7L526.7 183.8M549.4 190.1L556.7 184.5M506.3 225.1L498.3 230.4M521.8 225.1L529.3 230.4M556.5 1.8L556.7 12.3M584.5 1.4L584 11.6M591.7 17.5L584 11.6M606.7 17.9L614 12.3M563.6 52.9L555.6 58.2M579.1 52.9L586.6 58.2M556.5 87.9L556.7 98.4M584.5 87.5L584 97.7M591.7 103.6L584 97.7M606.7 104L614 98.4M563.6 138.9L555.6 144.3M579.1 138.9L586.6 144.3M556.5 174L556.7 184.5M584.5 173.7L584 183.8M591.7 189.7L584 183.8M606.7 190.1L614 184.5M563.6 225.1L555.6 230.4M579.1 225.1L586.6 230.4" stroke="#7d5f24" stroke-width="2.0" fill="none"/>
<path d="M427.5 23.4L419.8 17.5M427.5 23.4L434.8 17.9M399.7 47.5L391.7 52.9M399.7 47.5L407.2 52.9M427.5 109.5L419.8 103.6M427.5 109.5L434.8 104M399.7 133.6L391.7 138.9M399.7 133.6L407.2 138.9M427.5 195.6L419.8 189.7M427.5 195.6L434.8 190.1M399.7 219.7L391.7 225.1M399.7 219.7L407.2 225.1M484.8 23.4L477.1 17.5M484.8 23.4L492.1 17.9M457 47.5L449 52.9M457 47.5L464.5 52.9M484.8 109.5L477.1 103.6M484.8 109.5L492.1 104M457 133.6L449 138.9M457 133.6L464.5 138.9M484.8 195.6L477.1 189.7M484.8 195.6L492.1 190.1M457 219.7L449 225.1M457 219.7L464.5 225.1M542.1 23.4L534.4 17.5M542.1 23.4L549.4 17.9M514.3 47.5L506.3 52.9M514.3 47.5L521.8 52.9M542.1 109.5L534.4 103.6M542.1 109.5L549.4 104M514.3 133.6L506.3 138.9M514.3 133.6L521.8 138.9M542.1 195.6L534.4 189.7M542.1 195.6L549.4 190.1M514.3 219.7L506.3 225.1M514.3 219.7L521.8 225.1M599.4 23.4L591.7 17.5M599.4 23.4L606.7 17.9M571.6 47.5L563.6 52.9M571.6 47.5L579.1 52.9M599.4 109.5L591.7 103.6M599.4 109.5L606.7 104M571.6 133.6L563.6 138.9M571.6 133.6L579.1 138.9M599.4 195.6L591.7 189.7M599.4 195.6L606.7 190.1M571.6 219.7L563.6 225.1M571.6 219.7L579.1 225.1" stroke="#2a3a82" stroke-width="2.0" fill="none"/>
<path d="M383.7 58.2L398.7 67.3M414.7 58.2L398.7 67.3M383.7 144.3L398.7 153.4M414.7 144.3L398.7 153.4M383.7 230.4L398.7 239.5M414.7 230.4L398.7 239.5M441 58.2L456 67.3M472 58.2L456 67.3M441 144.3L456 153.4M472 144.3L456 153.4M441 230.4L456 239.5M472 230.4L456 239.5M498.3 58.2L513.3 67.3M529.3 58.2L513.3 67.3M498.3 144.3L513.3 153.4M529.3 144.3L513.3 153.4M498.3 230.4L513.3 239.5M529.3 230.4L513.3 239.5M555.6 58.2L570.6 67.3M586.6 58.2L570.6 67.3M555.6 144.3L570.6 153.4M586.6 144.3L570.6 153.4M555.6 230.4L570.6 239.5M586.6 230.4L570.6 239.5" stroke="#7d5f24" stroke-width="1.5" fill="none"/>
<path d="M384.8 12.3L412.1 11.6M384.8 98.4L412.1 97.7M384.8 184.5L412.1 183.8M442.1 12.3L469.4 11.6M442.1 98.4L469.4 97.7M442.1 184.5L469.4 183.8M499.4 12.3L526.7 11.6M499.4 98.4L526.7 97.7M499.4 184.5L526.7 183.8M556.7 12.3L584 11.6M556.7 98.4L584 97.7M556.7 184.5L584 183.8" stroke="#8a6e34" stroke-width="1.4" fill="none"/>
<circle cx="384.4" cy="-8.7" r="4.5" fill="url(#aFe)"/>
<circle cx="413.0" cy="-8.7" r="4.5" fill="url(#aFe)"/>
<circle cx="384.8" cy="12.3" r="2.6" fill="url(#aO)"/>
<circle cx="412.1" cy="11.6" r="2.6" fill="url(#aO)"/>
<circle cx="427.5" cy="23.4" r="4.7" fill="url(#aCu)"/>
<circle cx="399.7" cy="47.5" r="4.7" fill="url(#aCu)"/>
<circle cx="383.7" cy="58.2" r="2.6" fill="url(#aO)"/>
<circle cx="414.7" cy="58.2" r="2.6" fill="url(#aO)"/>
<circle cx="384.4" cy="77.4" r="4.5" fill="url(#aFe)"/>
<circle cx="413.0" cy="77.4" r="4.5" fill="url(#aFe)"/>
<circle cx="384.8" cy="98.4" r="2.6" fill="url(#aO)"/>
<circle cx="412.1" cy="97.7" r="2.6" fill="url(#aO)"/>
<circle cx="427.5" cy="109.5" r="4.7" fill="url(#aCu)"/>
<circle cx="399.7" cy="133.6" r="4.7" fill="url(#aCu)"/>
<circle cx="383.7" cy="144.3" r="2.6" fill="url(#aO)"/>
<circle cx="414.7" cy="144.3" r="2.6" fill="url(#aO)"/>
<circle cx="384.4" cy="163.5" r="4.5" fill="url(#aFe)"/>
<circle cx="413.0" cy="163.5" r="4.5" fill="url(#aFe)"/>
<circle cx="384.8" cy="184.5" r="2.6" fill="url(#aO)"/>
<circle cx="412.1" cy="183.8" r="2.6" fill="url(#aO)"/>
<circle cx="427.5" cy="195.6" r="4.7" fill="url(#aCu)"/>
<circle cx="399.7" cy="219.7" r="4.7" fill="url(#aCu)"/>
<circle cx="383.7" cy="230.4" r="2.6" fill="url(#aO)"/>
<circle cx="414.7" cy="230.4" r="2.6" fill="url(#aO)"/>
<circle cx="441.7" cy="-8.7" r="4.5" fill="url(#aFe)"/>
<circle cx="470.3" cy="-8.7" r="4.5" fill="url(#aFe)"/>
<circle cx="442.1" cy="12.3" r="2.6" fill="url(#aO)"/>
<circle cx="469.4" cy="11.6" r="2.6" fill="url(#aO)"/>
<circle cx="484.8" cy="23.4" r="4.7" fill="url(#aCu)"/>
<circle cx="457.0" cy="47.5" r="4.7" fill="url(#aCu)"/>
<circle cx="441.0" cy="58.2" r="2.6" fill="url(#aO)"/>
<circle cx="472.0" cy="58.2" r="2.6" fill="url(#aO)"/>
<circle cx="441.7" cy="77.4" r="4.5" fill="url(#aFe)"/>
<circle cx="470.3" cy="77.4" r="4.5" fill="url(#aFe)"/>
<circle cx="442.1" cy="98.4" r="2.6" fill="url(#aO)"/>
<circle cx="469.4" cy="97.7" r="2.6" fill="url(#aO)"/>
<circle cx="484.8" cy="109.5" r="4.7" fill="url(#aCu)"/>
<circle cx="457.0" cy="133.6" r="4.7" fill="url(#aCu)"/>
<circle cx="441.0" cy="144.3" r="2.6" fill="url(#aO)"/>
<circle cx="472.0" cy="144.3" r="2.6" fill="url(#aO)"/>
<circle cx="441.7" cy="163.5" r="4.5" fill="url(#aFe)"/>
<circle cx="470.3" cy="163.5" r="4.5" fill="url(#aFe)"/>
<circle cx="442.1" cy="184.5" r="2.6" fill="url(#aO)"/>
<circle cx="469.4" cy="183.8" r="2.6" fill="url(#aO)"/>
<circle cx="484.8" cy="195.6" r="4.7" fill="url(#aCu)"/>
<circle cx="457.0" cy="219.7" r="4.7" fill="url(#aCu)"/>
<circle cx="441.0" cy="230.4" r="2.6" fill="url(#aO)"/>
<circle cx="472.0" cy="230.4" r="2.6" fill="url(#aO)"/>
<circle cx="499.0" cy="-8.7" r="4.5" fill="url(#aFe)"/>
<circle cx="527.6" cy="-8.7" r="4.5" fill="url(#aFe)"/>
<circle cx="499.4" cy="12.3" r="2.6" fill="url(#aO)"/>
<circle cx="526.7" cy="11.6" r="2.6" fill="url(#aO)"/>
<circle cx="542.1" cy="23.4" r="4.7" fill="url(#aCu)"/>
<circle cx="514.3" cy="47.5" r="4.7" fill="url(#aCu)"/>
<circle cx="498.3" cy="58.2" r="2.6" fill="url(#aO)"/>
<circle cx="529.3" cy="58.2" r="2.6" fill="url(#aO)"/>
<circle cx="499.0" cy="77.4" r="4.5" fill="url(#aFe)"/>
<circle cx="527.6" cy="77.4" r="4.5" fill="url(#aFe)"/>
<circle cx="499.4" cy="98.4" r="2.6" fill="url(#aO)"/>
<circle cx="526.7" cy="97.7" r="2.6" fill="url(#aO)"/>
<circle cx="542.1" cy="109.5" r="4.7" fill="url(#aCu)"/>
<circle cx="514.3" cy="133.6" r="4.7" fill="url(#aCu)"/>
<circle cx="498.3" cy="144.3" r="2.6" fill="url(#aO)"/>
<circle cx="529.3" cy="144.3" r="2.6" fill="url(#aO)"/>
<circle cx="499.0" cy="163.5" r="4.5" fill="url(#aFe)"/>
<circle cx="527.6" cy="163.5" r="4.5" fill="url(#aFe)"/>
<circle cx="499.4" cy="184.5" r="2.6" fill="url(#aO)"/>
<circle cx="526.7" cy="183.8" r="2.6" fill="url(#aO)"/>
<circle cx="542.1" cy="195.6" r="4.7" fill="url(#aCu)"/>
<circle cx="514.3" cy="219.7" r="4.7" fill="url(#aCu)"/>
<circle cx="498.3" cy="230.4" r="2.6" fill="url(#aO)"/>
<circle cx="529.3" cy="230.4" r="2.6" fill="url(#aO)"/>
<circle cx="556.3" cy="-8.7" r="4.5" fill="url(#aFe)"/>
<circle cx="584.9" cy="-8.7" r="4.5" fill="url(#aFe)"/>
<circle cx="556.7" cy="12.3" r="2.6" fill="url(#aO)"/>
<circle cx="584.0" cy="11.6" r="2.6" fill="url(#aO)"/>
<circle cx="599.4" cy="23.4" r="4.7" fill="url(#aCu)"/>
<circle cx="571.6" cy="47.5" r="4.7" fill="url(#aCu)"/>
<circle cx="555.6" cy="58.2" r="2.6" fill="url(#aO)"/>
<circle cx="586.6" cy="58.2" r="2.6" fill="url(#aO)"/>
<circle cx="556.3" cy="77.4" r="4.5" fill="url(#aFe)"/>
<circle cx="584.9" cy="77.4" r="4.5" fill="url(#aFe)"/>
<circle cx="556.7" cy="98.4" r="2.6" fill="url(#aO)"/>
<circle cx="584.0" cy="97.7" r="2.6" fill="url(#aO)"/>
<circle cx="599.4" cy="109.5" r="4.7" fill="url(#aCu)"/>
<circle cx="571.6" cy="133.6" r="4.7" fill="url(#aCu)"/>
<circle cx="555.6" cy="144.3" r="2.6" fill="url(#aO)"/>
<circle cx="586.6" cy="144.3" r="2.6" fill="url(#aO)"/>
<circle cx="556.3" cy="163.5" r="4.5" fill="url(#aFe)"/>
<circle cx="584.9" cy="163.5" r="4.5" fill="url(#aFe)"/>
<circle cx="556.7" cy="184.5" r="2.6" fill="url(#aO)"/>
<circle cx="584.0" cy="183.8" r="2.6" fill="url(#aO)"/>
<circle cx="599.4" cy="195.6" r="4.7" fill="url(#aCu)"/>
<circle cx="571.6" cy="219.7" r="4.7" fill="url(#aCu)"/>
<circle cx="555.6" cy="230.4" r="2.6" fill="url(#aO)"/>
<circle cx="586.6" cy="230.4" r="2.6" fill="url(#aO)"/>
</g>
<path d="M428 88L422 93M428 88L434 93M428 88L428 82M434 93L437 93M428 175L422 180M428 175L434 180M428 175L428 169M434 180L437 180" stroke="#2a3a82" stroke-width="1.2" fill="none"/>
<path d="M18 254.5L148 254.5M40 262L40 270.5M67.8 262L67.8 270.5M98 262L98 270.5M125.9 262L125.9 270.5M25.4 245L25.4 262M83.5 245L83.5 262M141.5 245L141.5 262M54.5 246L54.5 252.5M112.5 246L112.5 252.5" stroke="#8a6e34" stroke-width="1.3" fill="none"/>
<path d="M40 254.5L40 262M67.8 254.5L67.8 262M98 254.5L98 262M125.9 254.5L125.9 262M25.4 237L25.4 245M83.5 237L83.5 245M141.5 237L141.5 245" stroke="#2a3a82" stroke-width="1.3" fill="none"/>
<path d="M25.4 262L18.4 270M25.4 262L32.4 270M83.5 262L76.5 270M83.5 262L90.5 270M141.5 262L134.5 270M141.5 262L148.5 270" stroke="#aaaadc" stroke-width="1.3" fill="none"/>
<path d="M38.8 232L32.1 232.2M38.8 232L46.6 227.9M38.8 232L46.6 237.2M69.6 232L76.5 232.2M69.6 232L62 227.9M69.6 232L62 237.2M96.8 232L90.2 232.2M96.8 232L104.7 227.9M96.8 232L104.7 237.2M127.6 232L134.6 232.2M127.6 232L120 227.9M127.6 232L120 237.2" stroke="#7d5f24" stroke-width="2.4" fill="none"/>
<path d="M32.1 232.2L25.4 232.4M46.6 227.9L54.5 223.9M76.5 232.2L83.5 232.4M62 227.9L54.5 223.9M90.2 232.2L83.5 232.4M104.7 227.9L112.5 223.9M134.6 232.2L141.5 232.4M120 227.9L112.5 223.9M20 232.1L25.4 232.1M141.5 233.2L147 233.2" stroke="#2a3a82" stroke-width="2.4" fill="none"/>
<path d="M46.6 237.2L54.5 242.5M62 237.2L54.5 242.5M104.7 237.2L112.5 242.5M120 237.2L112.5 242.5" stroke="#9a9cca" stroke-width="2.4" fill="none"/>
<circle cx="25.4" cy="232.1" r="5.0" fill="url(#aCu)"/>
<circle cx="83.5" cy="232.6" r="5.0" fill="url(#aCu)"/>
<circle cx="141.5" cy="233.2" r="5.0" fill="url(#aCu)"/>
<circle cx="54.5" cy="223.9" r="5.0" fill="url(#aCu)"/>
<circle cx="112.5" cy="223.9" r="5.0" fill="url(#aCu)"/>
<circle cx="54.5" cy="242.5" r="4.9" fill="url(#aFe)"/>
<circle cx="112.5" cy="243.1" r="4.9" fill="url(#aFe)"/>
<circle cx="38.8" cy="229.6" r="3.3" fill="url(#aO)"/>
<circle cx="38.8" cy="233.8" r="3.3" fill="url(#aO)"/>
<circle cx="69.6" cy="229.6" r="3.3" fill="url(#aO)"/>
<circle cx="69.6" cy="233.8" r="3.3" fill="url(#aO)"/>
<circle cx="96.8" cy="229.6" r="3.3" fill="url(#aO)"/>
<circle cx="96.8" cy="233.8" r="3.3" fill="url(#aO)"/>
<circle cx="127.6" cy="229.6" r="3.3" fill="url(#aO)"/>
<circle cx="127.6" cy="233.8" r="3.3" fill="url(#aO)"/>
<g clip-path="url(#clS2)">
<path d="M124.2 229.8L145.4 252.1M130.4 252.1L109.2 274.4M174.1 252.1L195.3 274.4M180.3 229.8L159.1 252.1M181.6 229.8L202.8 252.1M187.8 252.1L166.6 274.4M231.5 252.1L252.7 274.4M237.7 229.8L216.5 252.1M239 229.8L260.2 252.1M245.2 252.1L224 274.4M288.9 252.1L310.1 274.4M295.1 229.8L273.9 252.1M296.4 229.8L317.6 252.1M302.6 252.1L281.4 274.4" stroke="#2a3a82" stroke-width="2.6" fill="none"/>
<path d="M145.4 252.1L166.6 274.4M151.6 229.8L130.4 252.1M152.9 229.8L174.1 252.1M159.1 252.1L137.9 274.4M202.8 252.1L224 274.4M209 229.8L187.8 252.1M210.3 229.8L231.5 252.1M216.5 252.1L195.3 274.4M260.2 252.1L281.4 274.4M266.4 229.8L245.2 252.1M267.7 229.8L288.9 252.1M273.9 252.1L252.7 274.4M317.6 252.1L338.8 274.4M323.8 229.8L302.6 252.1" stroke="#7d5f24" stroke-width="2.6" fill="none"/>
<path d="M137.9 246L137.9 272M166.6 246L166.6 272M195.3 246L195.3 272M224 246L224 272M252.7 246L252.7 272M281.4 246L281.4 272M310.1 246L310.1 272" stroke="#aaaadc" stroke-width="1.6" fill="none"/>
<path d="M152.2 252L152.2 268M180.9 252L180.9 268M209.6 252L209.6 268M238.3 252L238.3 268M267 252L267 268M295.7 252L295.7 268M324.4 252L324.4 268" stroke="#2a3a82" stroke-width="1.6" fill="none"/>
<path d="M157 258.8L290 258.8" stroke="#aaaadc" stroke-width="1.5" fill="none"/>
</g>
<circle cx="166.6" cy="231.5" r="4.6" fill="url(#aFe)"/>
<circle cx="195.3" cy="231.5" r="4.6" fill="url(#aFe)"/>
<circle cx="224.0" cy="231.5" r="4.6" fill="url(#aFe)"/>
<circle cx="252.7" cy="231.5" r="4.6" fill="url(#aFe)"/>
<circle cx="281.4" cy="231.5" r="4.6" fill="url(#aFe)"/>
<circle cx="180.5" cy="229.2" r="5.0" fill="url(#aCu)"/>
<circle cx="181.1" cy="230.3" r="2.8" fill="url(#aO)"/>
<circle cx="209.2" cy="229.2" r="5.0" fill="url(#aCu)"/>
<circle cx="209.8" cy="230.3" r="2.8" fill="url(#aO)"/>
<circle cx="237.9" cy="229.2" r="5.0" fill="url(#aCu)"/>
<circle cx="238.5" cy="230.3" r="2.8" fill="url(#aO)"/>
<circle cx="266.6" cy="229.2" r="5.0" fill="url(#aCu)"/>
<circle cx="267.2" cy="230.3" r="2.8" fill="url(#aO)"/>
<path d="M294 255.8L410 255.8M315 238L315 273M345.1 238L345.1 273M371.8 238L371.8 273M402.6 238L402.6 273" stroke="#aaaadc" stroke-width="1.3" fill="none"/>
<path d="M294 255.3L310 255.3M322 255.3L340 255.3M351 255.3L367 255.3M380 255.3L396 255.3M301.6 238L301.6 273M330 238L330 273M359.1 238L359.1 273M387.5 238L387.5 273" stroke="#8a6e34" stroke-width="1.3" fill="none"/>
<path d="M301.6 264L294.6 271M301.6 264L308.6 271M359.1 264L352.1 271M359.1 264L366.1 271" stroke="#2a3a82" stroke-width="1.4" fill="none"/>
<path d="M315 232L308.3 233.2M315 232L322.5 229.2M315 232L322.5 238.7M345.1 232L352.1 233.2M345.1 232L337.6 229.2M345.1 232L337.6 238.7M371.8 232L365.4 233.2M371.8 232L379.6 229.2M371.8 232L379.6 238.7M402.6 232L395.1 229.2M402.6 232L395.1 238.7" stroke="#7d5f24" stroke-width="2.4" fill="none"/>
<path d="M308.3 233.2L301.6 234.4M322.5 229.2L330 226.3M352.1 233.2L359.1 234.4M337.6 229.2L330 226.3M365.4 233.2L359.1 234.4M379.6 229.2L387.5 226.3M395.1 229.2L387.5 226.3M296 234.4L301.6 234.4" stroke="#9a9cca" stroke-width="2.4" fill="none"/>
<path d="M322.5 238.7L330 245.4M337.6 238.7L330 245.4M379.6 238.7L387.5 245.4M395.1 238.7L387.5 245.4" stroke="#2a3a82" stroke-width="2.4" fill="none"/>
<circle cx="301.6" cy="234.4" r="4.9" fill="url(#aFe)"/>
<circle cx="359.1" cy="234.4" r="4.9" fill="url(#aFe)"/>
<circle cx="330.0" cy="226.3" r="4.9" fill="url(#aFe)"/>
<circle cx="387.5" cy="226.3" r="4.9" fill="url(#aFe)"/>
<circle cx="330.0" cy="245.4" r="5.0" fill="url(#aCu)"/>
<circle cx="387.5" cy="245.4" r="5.0" fill="url(#aCu)"/>
<circle cx="315.0" cy="229.6" r="3.3" fill="url(#aO)"/>
<circle cx="315.0" cy="233.8" r="3.3" fill="url(#aO)"/>
<circle cx="345.1" cy="229.6" r="3.3" fill="url(#aO)"/>
<circle cx="345.1" cy="233.8" r="3.3" fill="url(#aO)"/>
<circle cx="371.8" cy="229.6" r="3.3" fill="url(#aO)"/>
<circle cx="371.8" cy="233.8" r="3.3" fill="url(#aO)"/>
<circle cx="402.6" cy="229.6" r="3.3" fill="url(#aO)"/>
<circle cx="402.6" cy="233.8" r="3.3" fill="url(#aO)"/>
<g clip-path="url(#clS4)">
<path d="M418.8 231L439.9 253.6M423.4 253.6L402.4 276.2M447.7 231L468.8 253.6M452.4 253.6L431.3 276.2M476.6 231L497.8 253.6M481.4 253.6L460.2 276.2M505.6 231L526.7 253.6M510.3 253.6L489.2 276.2M534.5 231L555.6 253.6M539.2 253.6L518.1 276.2M563.5 231L584.6 253.6M568.2 253.6L547.1 276.2" stroke="#7d5f24" stroke-width="2.4" fill="none"/>
<path d="M439.9 253.6L460.9 276.2M444.6 231L423.4 253.6M468.8 253.6L489.9 276.2M473.5 231L452.4 253.6M497.8 253.6L518.9 276.2M502.4 231L481.4 253.6M526.7 253.6L547.8 276.2M531.4 231L510.3 253.6M555.6 253.6L576.8 276.2M560.4 231L539.2 253.6M584.6 253.6L605.7 276.2M589.3 231L568.2 253.6" stroke="#aaaadc" stroke-width="2.4" fill="none"/>
<path d="M421.2 231L463.4 276.2M450.2 231L492.4 276.2M479.1 231L521.4 276.2M508.1 231L550.3 276.2M537 231L579.2 276.2M566 231L608.2 276.2" stroke="#9a9cd0" stroke-width="1.3" fill="none"/>
<path d="M447.1 231L404.9 276.2M476 231L433.8 276.2M504.9 231L462.8 276.2M533.9 231L491.7 276.2M562.9 231L520.6 276.2M591.8 231L549.6 276.2" stroke="#8a6e34" stroke-width="1.1" fill="none"/>
<path d="M431.6 236L431.6 276M460.6 236L460.6 276M489.6 236L489.6 276M518.5 236L518.5 276M547.5 236L547.5 276M576.4 236L576.4 276" stroke="#aaaadc" stroke-width="1.6" fill="none"/>
<path d="M437 260L555 260" stroke="#aaaadc" stroke-width="1.8" fill="none"/>
<path d="M486 260L505 260" stroke="#2a3a82" stroke-width="1.4" fill="none"/>
</g>
<path d="M438 231.5L553 231.5" stroke="#2a3a82" stroke-width="1.4" fill="none"/>
<path d="M431.9 254L431.9 270M424 261.5L440 261.5" stroke="#2a3a82" stroke-width="1.8" fill="none"/>
<circle cx="445.0" cy="231.5" r="4.6" fill="url(#aFe)"/>
<circle cx="445.4" cy="232.2" r="3.0" fill="url(#aO)"/>
<circle cx="460.6" cy="231.5" r="5.0" fill="url(#aCu)"/>
<circle cx="473.9" cy="231.5" r="4.6" fill="url(#aFe)"/>
<circle cx="474.4" cy="232.2" r="3.0" fill="url(#aO)"/>
<circle cx="489.6" cy="231.5" r="5.0" fill="url(#aCu)"/>
<circle cx="502.9" cy="231.5" r="4.6" fill="url(#aFe)"/>
<circle cx="503.3" cy="232.2" r="3.0" fill="url(#aO)"/>
<circle cx="518.5" cy="231.5" r="5.0" fill="url(#aCu)"/>
<circle cx="531.9" cy="231.5" r="4.6" fill="url(#aFe)"/>
<circle cx="532.2" cy="232.2" r="3.0" fill="url(#aO)"/>
<circle cx="547.5" cy="231.5" r="5.0" fill="url(#aCu)"/></svg>
</body></html>
